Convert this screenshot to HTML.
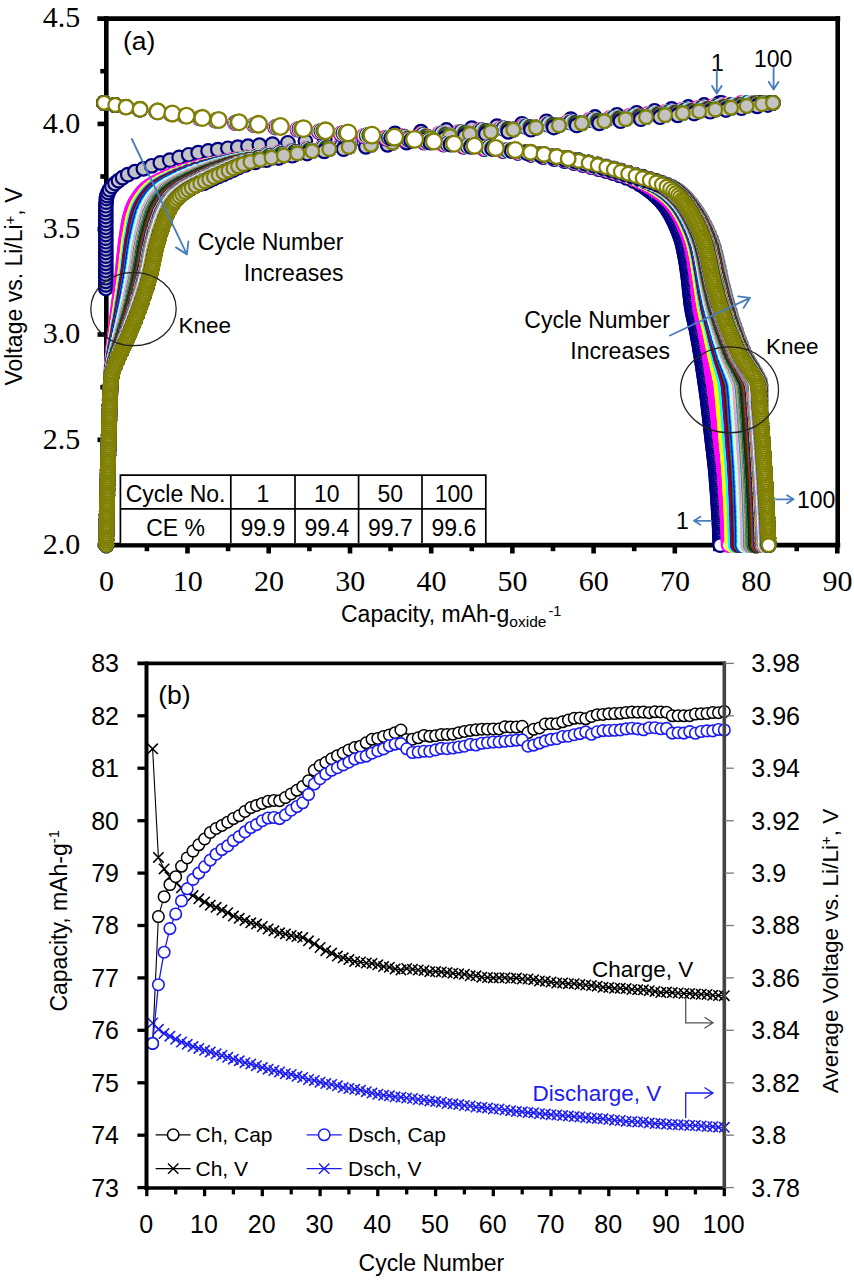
<!DOCTYPE html>
<html><head><meta charset="utf-8"><title>Cycling data</title>
<style>html,body{margin:0;padding:0;background:#fff}body{width:854px;height:1280px;overflow:hidden;font-family:"Liberation Sans",sans-serif}svg{display:block}</style></head>
<body>
<svg width="854" height="1280" viewBox="0 0 854 1280">
<defs>
<marker id="g0" markerUnits="userSpaceOnUse" markerWidth="20" markerHeight="20" viewBox="-10 -10 20 20" refX="0" refY="0"><circle r="6.8" fill="#c3c3c3" stroke="#000080" stroke-width="2.2"/></marker>
<marker id="w0" markerUnits="userSpaceOnUse" markerWidth="20" markerHeight="20" viewBox="-10 -10 20 20" refX="0" refY="0"><circle r="6.8" fill="#fff" stroke="#000080" stroke-width="2.2"/></marker>
<marker id="g1" markerUnits="userSpaceOnUse" markerWidth="20" markerHeight="20" viewBox="-10 -10 20 20" refX="0" refY="0"><circle r="6.8" fill="#c3c3c3" stroke="#ff00ff" stroke-width="2.2"/></marker>
<marker id="w1" markerUnits="userSpaceOnUse" markerWidth="20" markerHeight="20" viewBox="-10 -10 20 20" refX="0" refY="0"><circle r="6.8" fill="#fff" stroke="#ff00ff" stroke-width="2.2"/></marker>
<marker id="g2" markerUnits="userSpaceOnUse" markerWidth="20" markerHeight="20" viewBox="-10 -10 20 20" refX="0" refY="0"><circle r="6.8" fill="#c3c3c3" stroke="#ffff00" stroke-width="2.2"/></marker>
<marker id="w2" markerUnits="userSpaceOnUse" markerWidth="20" markerHeight="20" viewBox="-10 -10 20 20" refX="0" refY="0"><circle r="6.8" fill="#fff" stroke="#ffff00" stroke-width="2.2"/></marker>
<marker id="g3" markerUnits="userSpaceOnUse" markerWidth="20" markerHeight="20" viewBox="-10 -10 20 20" refX="0" refY="0"><circle r="6.8" fill="#c3c3c3" stroke="#00ffff" stroke-width="2.2"/></marker>
<marker id="w3" markerUnits="userSpaceOnUse" markerWidth="20" markerHeight="20" viewBox="-10 -10 20 20" refX="0" refY="0"><circle r="6.8" fill="#fff" stroke="#00ffff" stroke-width="2.2"/></marker>
<marker id="g4" markerUnits="userSpaceOnUse" markerWidth="20" markerHeight="20" viewBox="-10 -10 20 20" refX="0" refY="0"><circle r="6.8" fill="#c3c3c3" stroke="#800080" stroke-width="2.2"/></marker>
<marker id="w4" markerUnits="userSpaceOnUse" markerWidth="20" markerHeight="20" viewBox="-10 -10 20 20" refX="0" refY="0"><circle r="6.8" fill="#fff" stroke="#800080" stroke-width="2.2"/></marker>
<marker id="g5" markerUnits="userSpaceOnUse" markerWidth="20" markerHeight="20" viewBox="-10 -10 20 20" refX="0" refY="0"><circle r="6.8" fill="#c3c3c3" stroke="#800000" stroke-width="2.2"/></marker>
<marker id="w5" markerUnits="userSpaceOnUse" markerWidth="20" markerHeight="20" viewBox="-10 -10 20 20" refX="0" refY="0"><circle r="6.8" fill="#fff" stroke="#800000" stroke-width="2.2"/></marker>
<marker id="g6" markerUnits="userSpaceOnUse" markerWidth="20" markerHeight="20" viewBox="-10 -10 20 20" refX="0" refY="0"><circle r="6.8" fill="#c3c3c3" stroke="#008080" stroke-width="2.2"/></marker>
<marker id="w6" markerUnits="userSpaceOnUse" markerWidth="20" markerHeight="20" viewBox="-10 -10 20 20" refX="0" refY="0"><circle r="6.8" fill="#fff" stroke="#008080" stroke-width="2.2"/></marker>
<marker id="g7" markerUnits="userSpaceOnUse" markerWidth="20" markerHeight="20" viewBox="-10 -10 20 20" refX="0" refY="0"><circle r="6.8" fill="#c3c3c3" stroke="#0000ff" stroke-width="2.2"/></marker>
<marker id="w7" markerUnits="userSpaceOnUse" markerWidth="20" markerHeight="20" viewBox="-10 -10 20 20" refX="0" refY="0"><circle r="6.8" fill="#fff" stroke="#0000ff" stroke-width="2.2"/></marker>
<marker id="g8" markerUnits="userSpaceOnUse" markerWidth="20" markerHeight="20" viewBox="-10 -10 20 20" refX="0" refY="0"><circle r="6.8" fill="#c3c3c3" stroke="#00ccff" stroke-width="2.2"/></marker>
<marker id="w8" markerUnits="userSpaceOnUse" markerWidth="20" markerHeight="20" viewBox="-10 -10 20 20" refX="0" refY="0"><circle r="6.8" fill="#fff" stroke="#00ccff" stroke-width="2.2"/></marker>
<marker id="g9" markerUnits="userSpaceOnUse" markerWidth="20" markerHeight="20" viewBox="-10 -10 20 20" refX="0" refY="0"><circle r="6.8" fill="#c3c3c3" stroke="#ccffff" stroke-width="2.2"/></marker>
<marker id="w9" markerUnits="userSpaceOnUse" markerWidth="20" markerHeight="20" viewBox="-10 -10 20 20" refX="0" refY="0"><circle r="6.8" fill="#fff" stroke="#ccffff" stroke-width="2.2"/></marker>
<marker id="g10" markerUnits="userSpaceOnUse" markerWidth="20" markerHeight="20" viewBox="-10 -10 20 20" refX="0" refY="0"><circle r="6.8" fill="#c3c3c3" stroke="#ccffcc" stroke-width="2.2"/></marker>
<marker id="w10" markerUnits="userSpaceOnUse" markerWidth="20" markerHeight="20" viewBox="-10 -10 20 20" refX="0" refY="0"><circle r="6.8" fill="#fff" stroke="#ccffcc" stroke-width="2.2"/></marker>
<marker id="g11" markerUnits="userSpaceOnUse" markerWidth="20" markerHeight="20" viewBox="-10 -10 20 20" refX="0" refY="0"><circle r="6.8" fill="#c3c3c3" stroke="#ffff99" stroke-width="2.2"/></marker>
<marker id="w11" markerUnits="userSpaceOnUse" markerWidth="20" markerHeight="20" viewBox="-10 -10 20 20" refX="0" refY="0"><circle r="6.8" fill="#fff" stroke="#ffff99" stroke-width="2.2"/></marker>
<marker id="g12" markerUnits="userSpaceOnUse" markerWidth="20" markerHeight="20" viewBox="-10 -10 20 20" refX="0" refY="0"><circle r="6.8" fill="#c3c3c3" stroke="#99ccff" stroke-width="2.2"/></marker>
<marker id="w12" markerUnits="userSpaceOnUse" markerWidth="20" markerHeight="20" viewBox="-10 -10 20 20" refX="0" refY="0"><circle r="6.8" fill="#fff" stroke="#99ccff" stroke-width="2.2"/></marker>
<marker id="g13" markerUnits="userSpaceOnUse" markerWidth="20" markerHeight="20" viewBox="-10 -10 20 20" refX="0" refY="0"><circle r="6.8" fill="#c3c3c3" stroke="#ff99cc" stroke-width="2.2"/></marker>
<marker id="w13" markerUnits="userSpaceOnUse" markerWidth="20" markerHeight="20" viewBox="-10 -10 20 20" refX="0" refY="0"><circle r="6.8" fill="#fff" stroke="#ff99cc" stroke-width="2.2"/></marker>
<marker id="g14" markerUnits="userSpaceOnUse" markerWidth="20" markerHeight="20" viewBox="-10 -10 20 20" refX="0" refY="0"><circle r="6.8" fill="#c3c3c3" stroke="#cc99ff" stroke-width="2.2"/></marker>
<marker id="w14" markerUnits="userSpaceOnUse" markerWidth="20" markerHeight="20" viewBox="-10 -10 20 20" refX="0" refY="0"><circle r="6.8" fill="#fff" stroke="#cc99ff" stroke-width="2.2"/></marker>
<marker id="g15" markerUnits="userSpaceOnUse" markerWidth="20" markerHeight="20" viewBox="-10 -10 20 20" refX="0" refY="0"><circle r="6.8" fill="#c3c3c3" stroke="#ffcc99" stroke-width="2.2"/></marker>
<marker id="w15" markerUnits="userSpaceOnUse" markerWidth="20" markerHeight="20" viewBox="-10 -10 20 20" refX="0" refY="0"><circle r="6.8" fill="#fff" stroke="#ffcc99" stroke-width="2.2"/></marker>
<marker id="g16" markerUnits="userSpaceOnUse" markerWidth="20" markerHeight="20" viewBox="-10 -10 20 20" refX="0" refY="0"><circle r="6.8" fill="#c3c3c3" stroke="#3366ff" stroke-width="2.2"/></marker>
<marker id="w16" markerUnits="userSpaceOnUse" markerWidth="20" markerHeight="20" viewBox="-10 -10 20 20" refX="0" refY="0"><circle r="6.8" fill="#fff" stroke="#3366ff" stroke-width="2.2"/></marker>
<marker id="g17" markerUnits="userSpaceOnUse" markerWidth="20" markerHeight="20" viewBox="-10 -10 20 20" refX="0" refY="0"><circle r="6.8" fill="#c3c3c3" stroke="#33cccc" stroke-width="2.2"/></marker>
<marker id="w17" markerUnits="userSpaceOnUse" markerWidth="20" markerHeight="20" viewBox="-10 -10 20 20" refX="0" refY="0"><circle r="6.8" fill="#fff" stroke="#33cccc" stroke-width="2.2"/></marker>
<marker id="g18" markerUnits="userSpaceOnUse" markerWidth="20" markerHeight="20" viewBox="-10 -10 20 20" refX="0" refY="0"><circle r="6.8" fill="#c3c3c3" stroke="#99cc00" stroke-width="2.2"/></marker>
<marker id="w18" markerUnits="userSpaceOnUse" markerWidth="20" markerHeight="20" viewBox="-10 -10 20 20" refX="0" refY="0"><circle r="6.8" fill="#fff" stroke="#99cc00" stroke-width="2.2"/></marker>
<marker id="g19" markerUnits="userSpaceOnUse" markerWidth="20" markerHeight="20" viewBox="-10 -10 20 20" refX="0" refY="0"><circle r="6.8" fill="#c3c3c3" stroke="#ffcc00" stroke-width="2.2"/></marker>
<marker id="w19" markerUnits="userSpaceOnUse" markerWidth="20" markerHeight="20" viewBox="-10 -10 20 20" refX="0" refY="0"><circle r="6.8" fill="#fff" stroke="#ffcc00" stroke-width="2.2"/></marker>
<marker id="g20" markerUnits="userSpaceOnUse" markerWidth="20" markerHeight="20" viewBox="-10 -10 20 20" refX="0" refY="0"><circle r="6.8" fill="#c3c3c3" stroke="#ff9900" stroke-width="2.2"/></marker>
<marker id="w20" markerUnits="userSpaceOnUse" markerWidth="20" markerHeight="20" viewBox="-10 -10 20 20" refX="0" refY="0"><circle r="6.8" fill="#fff" stroke="#ff9900" stroke-width="2.2"/></marker>
<marker id="g21" markerUnits="userSpaceOnUse" markerWidth="20" markerHeight="20" viewBox="-10 -10 20 20" refX="0" refY="0"><circle r="6.8" fill="#c3c3c3" stroke="#ff6600" stroke-width="2.2"/></marker>
<marker id="w21" markerUnits="userSpaceOnUse" markerWidth="20" markerHeight="20" viewBox="-10 -10 20 20" refX="0" refY="0"><circle r="6.8" fill="#fff" stroke="#ff6600" stroke-width="2.2"/></marker>
<marker id="g22" markerUnits="userSpaceOnUse" markerWidth="20" markerHeight="20" viewBox="-10 -10 20 20" refX="0" refY="0"><circle r="6.8" fill="#c3c3c3" stroke="#666699" stroke-width="2.2"/></marker>
<marker id="w22" markerUnits="userSpaceOnUse" markerWidth="20" markerHeight="20" viewBox="-10 -10 20 20" refX="0" refY="0"><circle r="6.8" fill="#fff" stroke="#666699" stroke-width="2.2"/></marker>
<marker id="g23" markerUnits="userSpaceOnUse" markerWidth="20" markerHeight="20" viewBox="-10 -10 20 20" refX="0" refY="0"><circle r="6.8" fill="#c3c3c3" stroke="#969696" stroke-width="2.2"/></marker>
<marker id="w23" markerUnits="userSpaceOnUse" markerWidth="20" markerHeight="20" viewBox="-10 -10 20 20" refX="0" refY="0"><circle r="6.8" fill="#fff" stroke="#969696" stroke-width="2.2"/></marker>
<marker id="g24" markerUnits="userSpaceOnUse" markerWidth="20" markerHeight="20" viewBox="-10 -10 20 20" refX="0" refY="0"><circle r="6.8" fill="#c3c3c3" stroke="#003366" stroke-width="2.2"/></marker>
<marker id="w24" markerUnits="userSpaceOnUse" markerWidth="20" markerHeight="20" viewBox="-10 -10 20 20" refX="0" refY="0"><circle r="6.8" fill="#fff" stroke="#003366" stroke-width="2.2"/></marker>
<marker id="g25" markerUnits="userSpaceOnUse" markerWidth="20" markerHeight="20" viewBox="-10 -10 20 20" refX="0" refY="0"><circle r="6.8" fill="#c3c3c3" stroke="#339966" stroke-width="2.2"/></marker>
<marker id="w25" markerUnits="userSpaceOnUse" markerWidth="20" markerHeight="20" viewBox="-10 -10 20 20" refX="0" refY="0"><circle r="6.8" fill="#fff" stroke="#339966" stroke-width="2.2"/></marker>
<marker id="g26" markerUnits="userSpaceOnUse" markerWidth="20" markerHeight="20" viewBox="-10 -10 20 20" refX="0" refY="0"><circle r="6.8" fill="#c3c3c3" stroke="#003300" stroke-width="2.2"/></marker>
<marker id="w26" markerUnits="userSpaceOnUse" markerWidth="20" markerHeight="20" viewBox="-10 -10 20 20" refX="0" refY="0"><circle r="6.8" fill="#fff" stroke="#003300" stroke-width="2.2"/></marker>
<marker id="g27" markerUnits="userSpaceOnUse" markerWidth="20" markerHeight="20" viewBox="-10 -10 20 20" refX="0" refY="0"><circle r="6.8" fill="#c3c3c3" stroke="#333300" stroke-width="2.2"/></marker>
<marker id="w27" markerUnits="userSpaceOnUse" markerWidth="20" markerHeight="20" viewBox="-10 -10 20 20" refX="0" refY="0"><circle r="6.8" fill="#fff" stroke="#333300" stroke-width="2.2"/></marker>
<marker id="g28" markerUnits="userSpaceOnUse" markerWidth="20" markerHeight="20" viewBox="-10 -10 20 20" refX="0" refY="0"><circle r="6.8" fill="#c3c3c3" stroke="#993300" stroke-width="2.2"/></marker>
<marker id="w28" markerUnits="userSpaceOnUse" markerWidth="20" markerHeight="20" viewBox="-10 -10 20 20" refX="0" refY="0"><circle r="6.8" fill="#fff" stroke="#993300" stroke-width="2.2"/></marker>
<marker id="g29" markerUnits="userSpaceOnUse" markerWidth="20" markerHeight="20" viewBox="-10 -10 20 20" refX="0" refY="0"><circle r="6.8" fill="#c3c3c3" stroke="#993366" stroke-width="2.2"/></marker>
<marker id="w29" markerUnits="userSpaceOnUse" markerWidth="20" markerHeight="20" viewBox="-10 -10 20 20" refX="0" refY="0"><circle r="6.8" fill="#fff" stroke="#993366" stroke-width="2.2"/></marker>
<marker id="g30" markerUnits="userSpaceOnUse" markerWidth="20" markerHeight="20" viewBox="-10 -10 20 20" refX="0" refY="0"><circle r="6.8" fill="#c3c3c3" stroke="#333399" stroke-width="2.2"/></marker>
<marker id="w30" markerUnits="userSpaceOnUse" markerWidth="20" markerHeight="20" viewBox="-10 -10 20 20" refX="0" refY="0"><circle r="6.8" fill="#fff" stroke="#333399" stroke-width="2.2"/></marker>
<marker id="g31" markerUnits="userSpaceOnUse" markerWidth="20" markerHeight="20" viewBox="-10 -10 20 20" refX="0" refY="0"><circle r="6.8" fill="#c3c3c3" stroke="#333333" stroke-width="2.2"/></marker>
<marker id="w31" markerUnits="userSpaceOnUse" markerWidth="20" markerHeight="20" viewBox="-10 -10 20 20" refX="0" refY="0"><circle r="6.8" fill="#fff" stroke="#333333" stroke-width="2.2"/></marker>
<marker id="g32" markerUnits="userSpaceOnUse" markerWidth="20" markerHeight="20" viewBox="-10 -10 20 20" refX="0" refY="0"><circle r="6.8" fill="#c3c3c3" stroke="#000000" stroke-width="2.2"/></marker>
<marker id="w32" markerUnits="userSpaceOnUse" markerWidth="20" markerHeight="20" viewBox="-10 -10 20 20" refX="0" refY="0"><circle r="6.8" fill="#fff" stroke="#000000" stroke-width="2.2"/></marker>
<marker id="g33" markerUnits="userSpaceOnUse" markerWidth="20" markerHeight="20" viewBox="-10 -10 20 20" refX="0" refY="0"><circle r="6.8" fill="#c3c3c3" stroke="#ffffff" stroke-width="2.2"/></marker>
<marker id="w33" markerUnits="userSpaceOnUse" markerWidth="20" markerHeight="20" viewBox="-10 -10 20 20" refX="0" refY="0"><circle r="6.8" fill="#fff" stroke="#ffffff" stroke-width="2.2"/></marker>
<marker id="g34" markerUnits="userSpaceOnUse" markerWidth="20" markerHeight="20" viewBox="-10 -10 20 20" refX="0" refY="0"><circle r="6.8" fill="#c3c3c3" stroke="#ff0000" stroke-width="2.2"/></marker>
<marker id="w34" markerUnits="userSpaceOnUse" markerWidth="20" markerHeight="20" viewBox="-10 -10 20 20" refX="0" refY="0"><circle r="6.8" fill="#fff" stroke="#ff0000" stroke-width="2.2"/></marker>
<marker id="g35" markerUnits="userSpaceOnUse" markerWidth="20" markerHeight="20" viewBox="-10 -10 20 20" refX="0" refY="0"><circle r="6.8" fill="#c3c3c3" stroke="#00ff00" stroke-width="2.2"/></marker>
<marker id="w35" markerUnits="userSpaceOnUse" markerWidth="20" markerHeight="20" viewBox="-10 -10 20 20" refX="0" refY="0"><circle r="6.8" fill="#fff" stroke="#00ff00" stroke-width="2.2"/></marker>
<marker id="g36" markerUnits="userSpaceOnUse" markerWidth="20" markerHeight="20" viewBox="-10 -10 20 20" refX="0" refY="0"><circle r="6.8" fill="#c3c3c3" stroke="#0000ff" stroke-width="2.2"/></marker>
<marker id="w36" markerUnits="userSpaceOnUse" markerWidth="20" markerHeight="20" viewBox="-10 -10 20 20" refX="0" refY="0"><circle r="6.8" fill="#fff" stroke="#0000ff" stroke-width="2.2"/></marker>
<marker id="g37" markerUnits="userSpaceOnUse" markerWidth="20" markerHeight="20" viewBox="-10 -10 20 20" refX="0" refY="0"><circle r="6.8" fill="#c3c3c3" stroke="#ffff00" stroke-width="2.2"/></marker>
<marker id="w37" markerUnits="userSpaceOnUse" markerWidth="20" markerHeight="20" viewBox="-10 -10 20 20" refX="0" refY="0"><circle r="6.8" fill="#fff" stroke="#ffff00" stroke-width="2.2"/></marker>
<marker id="g38" markerUnits="userSpaceOnUse" markerWidth="20" markerHeight="20" viewBox="-10 -10 20 20" refX="0" refY="0"><circle r="6.8" fill="#c3c3c3" stroke="#ff00ff" stroke-width="2.2"/></marker>
<marker id="w38" markerUnits="userSpaceOnUse" markerWidth="20" markerHeight="20" viewBox="-10 -10 20 20" refX="0" refY="0"><circle r="6.8" fill="#fff" stroke="#ff00ff" stroke-width="2.2"/></marker>
<marker id="g39" markerUnits="userSpaceOnUse" markerWidth="20" markerHeight="20" viewBox="-10 -10 20 20" refX="0" refY="0"><circle r="6.8" fill="#c3c3c3" stroke="#00ffff" stroke-width="2.2"/></marker>
<marker id="w39" markerUnits="userSpaceOnUse" markerWidth="20" markerHeight="20" viewBox="-10 -10 20 20" refX="0" refY="0"><circle r="6.8" fill="#fff" stroke="#00ffff" stroke-width="2.2"/></marker>
<marker id="g40" markerUnits="userSpaceOnUse" markerWidth="20" markerHeight="20" viewBox="-10 -10 20 20" refX="0" refY="0"><circle r="6.8" fill="#c3c3c3" stroke="#800000" stroke-width="2.2"/></marker>
<marker id="w40" markerUnits="userSpaceOnUse" markerWidth="20" markerHeight="20" viewBox="-10 -10 20 20" refX="0" refY="0"><circle r="6.8" fill="#fff" stroke="#800000" stroke-width="2.2"/></marker>
<marker id="g41" markerUnits="userSpaceOnUse" markerWidth="20" markerHeight="20" viewBox="-10 -10 20 20" refX="0" refY="0"><circle r="6.8" fill="#c3c3c3" stroke="#008000" stroke-width="2.2"/></marker>
<marker id="w41" markerUnits="userSpaceOnUse" markerWidth="20" markerHeight="20" viewBox="-10 -10 20 20" refX="0" refY="0"><circle r="6.8" fill="#fff" stroke="#008000" stroke-width="2.2"/></marker>
<marker id="g42" markerUnits="userSpaceOnUse" markerWidth="20" markerHeight="20" viewBox="-10 -10 20 20" refX="0" refY="0"><circle r="6.8" fill="#c3c3c3" stroke="#000080" stroke-width="2.2"/></marker>
<marker id="w42" markerUnits="userSpaceOnUse" markerWidth="20" markerHeight="20" viewBox="-10 -10 20 20" refX="0" refY="0"><circle r="6.8" fill="#fff" stroke="#000080" stroke-width="2.2"/></marker>
<marker id="g43" markerUnits="userSpaceOnUse" markerWidth="20" markerHeight="20" viewBox="-10 -10 20 20" refX="0" refY="0"><circle r="6.8" fill="#c3c3c3" stroke="#808000" stroke-width="2.2"/></marker>
<marker id="w43" markerUnits="userSpaceOnUse" markerWidth="20" markerHeight="20" viewBox="-10 -10 20 20" refX="0" refY="0"><circle r="6.8" fill="#fff" stroke="#808000" stroke-width="2.2"/></marker>
<marker id="g44" markerUnits="userSpaceOnUse" markerWidth="20" markerHeight="20" viewBox="-10 -10 20 20" refX="0" refY="0"><circle r="6.8" fill="#c3c3c3" stroke="#800080" stroke-width="2.2"/></marker>
<marker id="w44" markerUnits="userSpaceOnUse" markerWidth="20" markerHeight="20" viewBox="-10 -10 20 20" refX="0" refY="0"><circle r="6.8" fill="#fff" stroke="#800080" stroke-width="2.2"/></marker>
<marker id="g45" markerUnits="userSpaceOnUse" markerWidth="20" markerHeight="20" viewBox="-10 -10 20 20" refX="0" refY="0"><circle r="6.8" fill="#c3c3c3" stroke="#008080" stroke-width="2.2"/></marker>
<marker id="w45" markerUnits="userSpaceOnUse" markerWidth="20" markerHeight="20" viewBox="-10 -10 20 20" refX="0" refY="0"><circle r="6.8" fill="#fff" stroke="#008080" stroke-width="2.2"/></marker>
<marker id="g46" markerUnits="userSpaceOnUse" markerWidth="20" markerHeight="20" viewBox="-10 -10 20 20" refX="0" refY="0"><circle r="6.8" fill="#c3c3c3" stroke="#c0c0c0" stroke-width="2.2"/></marker>
<marker id="w46" markerUnits="userSpaceOnUse" markerWidth="20" markerHeight="20" viewBox="-10 -10 20 20" refX="0" refY="0"><circle r="6.8" fill="#fff" stroke="#c0c0c0" stroke-width="2.2"/></marker>
<marker id="g47" markerUnits="userSpaceOnUse" markerWidth="20" markerHeight="20" viewBox="-10 -10 20 20" refX="0" refY="0"><circle r="6.8" fill="#c3c3c3" stroke="#808080" stroke-width="2.2"/></marker>
<marker id="w47" markerUnits="userSpaceOnUse" markerWidth="20" markerHeight="20" viewBox="-10 -10 20 20" refX="0" refY="0"><circle r="6.8" fill="#fff" stroke="#808080" stroke-width="2.2"/></marker>
<marker id="g48" markerUnits="userSpaceOnUse" markerWidth="20" markerHeight="20" viewBox="-10 -10 20 20" refX="0" refY="0"><circle r="6.8" fill="#c3c3c3" stroke="#9999ff" stroke-width="2.2"/></marker>
<marker id="w48" markerUnits="userSpaceOnUse" markerWidth="20" markerHeight="20" viewBox="-10 -10 20 20" refX="0" refY="0"><circle r="6.8" fill="#fff" stroke="#9999ff" stroke-width="2.2"/></marker>
<marker id="g49" markerUnits="userSpaceOnUse" markerWidth="20" markerHeight="20" viewBox="-10 -10 20 20" refX="0" refY="0"><circle r="6.8" fill="#c3c3c3" stroke="#993366" stroke-width="2.2"/></marker>
<marker id="w49" markerUnits="userSpaceOnUse" markerWidth="20" markerHeight="20" viewBox="-10 -10 20 20" refX="0" refY="0"><circle r="6.8" fill="#fff" stroke="#993366" stroke-width="2.2"/></marker>
<marker id="g50" markerUnits="userSpaceOnUse" markerWidth="20" markerHeight="20" viewBox="-10 -10 20 20" refX="0" refY="0"><circle r="6.8" fill="#c3c3c3" stroke="#ffffcc" stroke-width="2.2"/></marker>
<marker id="w50" markerUnits="userSpaceOnUse" markerWidth="20" markerHeight="20" viewBox="-10 -10 20 20" refX="0" refY="0"><circle r="6.8" fill="#fff" stroke="#ffffcc" stroke-width="2.2"/></marker>
<marker id="g51" markerUnits="userSpaceOnUse" markerWidth="20" markerHeight="20" viewBox="-10 -10 20 20" refX="0" refY="0"><circle r="6.8" fill="#c3c3c3" stroke="#ccffff" stroke-width="2.2"/></marker>
<marker id="w51" markerUnits="userSpaceOnUse" markerWidth="20" markerHeight="20" viewBox="-10 -10 20 20" refX="0" refY="0"><circle r="6.8" fill="#fff" stroke="#ccffff" stroke-width="2.2"/></marker>
<marker id="g52" markerUnits="userSpaceOnUse" markerWidth="20" markerHeight="20" viewBox="-10 -10 20 20" refX="0" refY="0"><circle r="6.8" fill="#c3c3c3" stroke="#660066" stroke-width="2.2"/></marker>
<marker id="w52" markerUnits="userSpaceOnUse" markerWidth="20" markerHeight="20" viewBox="-10 -10 20 20" refX="0" refY="0"><circle r="6.8" fill="#fff" stroke="#660066" stroke-width="2.2"/></marker>
<marker id="g53" markerUnits="userSpaceOnUse" markerWidth="20" markerHeight="20" viewBox="-10 -10 20 20" refX="0" refY="0"><circle r="6.8" fill="#c3c3c3" stroke="#ff8080" stroke-width="2.2"/></marker>
<marker id="w53" markerUnits="userSpaceOnUse" markerWidth="20" markerHeight="20" viewBox="-10 -10 20 20" refX="0" refY="0"><circle r="6.8" fill="#fff" stroke="#ff8080" stroke-width="2.2"/></marker>
<marker id="g54" markerUnits="userSpaceOnUse" markerWidth="20" markerHeight="20" viewBox="-10 -10 20 20" refX="0" refY="0"><circle r="6.8" fill="#c3c3c3" stroke="#0066cc" stroke-width="2.2"/></marker>
<marker id="w54" markerUnits="userSpaceOnUse" markerWidth="20" markerHeight="20" viewBox="-10 -10 20 20" refX="0" refY="0"><circle r="6.8" fill="#fff" stroke="#0066cc" stroke-width="2.2"/></marker>
<marker id="g55" markerUnits="userSpaceOnUse" markerWidth="20" markerHeight="20" viewBox="-10 -10 20 20" refX="0" refY="0"><circle r="6.8" fill="#c3c3c3" stroke="#ccccff" stroke-width="2.2"/></marker>
<marker id="w55" markerUnits="userSpaceOnUse" markerWidth="20" markerHeight="20" viewBox="-10 -10 20 20" refX="0" refY="0"><circle r="6.8" fill="#fff" stroke="#ccccff" stroke-width="2.2"/></marker>
</defs>
<rect width="854" height="1280" fill="#fff"/>
<g stroke="#000" stroke-width="4.6" fill="none" stroke-linecap="butt">
<path d="M97.3 18.6H840.2"/>
<path d="M106.3 16.3V547.4"/>
<path d="M837.7 16.3V547.4"/>
<path d="M104 545.1H840.2"/>
<path d="M100.3 71.2H106"/>
<path d="M97.5 123.9H106"/>
<path d="M100.3 176.5H106"/>
<path d="M97.5 229.2H106"/>
<path d="M100.3 281.9H106"/>
<path d="M97.5 334.5H106"/>
<path d="M100.3 387.2H106"/>
<path d="M97.5 439.8H106"/>
<path d="M100.3 492.4H106"/>
<path d="M97.5 545.1H106"/>
<path d="M106.3 545.5V553.5"/>
<path d="M146.9 545.5V551.2"/>
<path d="M187.5 545.5V553.5"/>
<path d="M228.1 545.5V551.2"/>
<path d="M268.7 545.5V553.5"/>
<path d="M309.4 545.5V551.2"/>
<path d="M350.0 545.5V553.5"/>
<path d="M390.6 545.5V551.2"/>
<path d="M431.2 545.5V553.5"/>
<path d="M471.8 545.5V551.2"/>
<path d="M512.4 545.5V553.5"/>
<path d="M553.0 545.5V551.2"/>
<path d="M593.6 545.5V553.5"/>
<path d="M634.2 545.5V551.2"/>
<path d="M674.8 545.5V553.5"/>
<path d="M715.4 545.5V551.2"/>
<path d="M756.1 545.5V553.5"/>
<path d="M796.7 545.5V551.2"/>
<path d="M837.3 545.5V553.5"/>
</g>
<g fill="none" stroke="none">
<path d="M105.8 288.5l0-3.6l0-3.6l0-3.6l0-3.6l0-3.6l0-3.6l0-3.6l0-3.6l0-3.6l0-3.6l0-3.6l0-3.6l0-3.6l0-3.6l0-3.6l0-3.6l0-3.6l0-3.6l0-3.6l0-3.6l0-3.6l0-3.6l.1-3.6l.2-3.6l.3-3.6l.6-3l1.1-3l1.5-2.9l2.4-3.1l3-3l3.5-2.9l4.1-3l5.2-3l7.2-2.9l8.4-2.9l8.3-3l8.7-2.9l9.4-2.8l9.4-2.7l9.5-2.6l9.5-2.1l9.9-1.7l9.8-1.4l10-1.3l9.9-1.1l10.2-1l11.4-1l13.1-1.1l15.4-1.3l17.5-1.5l19.3-1.8l21.3-1.9l23.3-2.1l25.7-2.1l26-1.7l25.5-1.7l25.4-1.9l25.1-2l24.9-2.3l24.6-2.5l24.3-2.1l24.2-2.2l22-2.2l19.7-2l17.9-2l17.1-1.9l16.5-1.9l15.9-2l15.1-1.9l2.3-.3" marker-start="url(#g0)" marker-mid="url(#g0)" marker-end="url(#g0)"/>
<path d="M106.2 545.1l0-2.1l.1-2.1l0-2.1l0-2.1l.1-2.1l0-2.1l0-2.1l.1-2.1l0-2.1l.1-2.1l0-2.1l0-2.1l.1-2.1l0-2.1l.1-2.1l0-2.1l.1-2.1l0-2.1l.1-2.1l0-2.1l.1-2.1l0-2.1l.1-2.1l0-2.1l.1-2.1l0-2.1l.1-2.1l0-2.1l.1-2.1l0-2.1l.1-2.1l0-2.1l.1-2.1l0-2.1l.1-2.1l.1-2.1l0-2.1l.1-2.1l0-2.1l.1-2.1l0-2.1l.1-2.1l.1-2.1l0-2.1l.1-2.1l0-2.1l.1-2.1l.1-2.1l0-2.1l.1-2.1l0-2.1l.1-2.1l.1-2.1l0-2.1l.1-2.1l.1-2.1l0-2.1l.1-2.1l.1-2.1l.1-2.1l0-2.1l.1-2.1l.1-2.1l.1-2.1l0-2.1l.1-2.1l.1-2.1l.1-2.1l.1-2.1l0-2.1l.1-2.1l.1-2.1l.1-2.1l.1-2.1l.1-2.1l.1-2.1l.1-2.1l.1-2.1l.1-2.1l.1-2.1l.1-2.1l.1-2.1l.1-2.1l.2-2.1l.1-2.1l.1-2.1l.2-2.1l.1-2.1l.2-2.1l.2-2.1l.2-2.1l.2-2.1l.2-2.1l.2-2.1l.2-2.1l.2-2.1l.3-2.1l.2-2.1l.3-2.1l.2-2.1l.3-2.1l.3-2.1l.2-2.1l.3-2.1l.3-2.1l.3-2.1l.2-2.1l.3-2.1l.3-2.1l.3-2.1l.2-2.1l.3-2.1l.3-2.1l.2-2.1l.3-2.1l.3-2.1l.2-2.1l.3-2.1l.2-2.1l.3-2.1l.2-2.1l.3-2.1l.2-2.1l.3-2.1l.3-2.1l.2-2.1l.3-2.1l.2-2.1l.3-2.1l.2-2.1l.2-2.1l.3-2.1l.2-2.1l.2-2.1l.2-2.1l.2-2.1l.2-2.1l.2-2.1l.2-2.1l.2-2.1l.2-2.1l.3-2.1l.2-2.1l.3-2.1l.3-2.1l.3-2.1l.3-2.1l.3-2.1l.3-2.1l.3-2.1l.4-2.1l.3-2.1l.4-2.1l.4-2.1l.5-2.1l.4-2.1l.5-2.1l.6-2l.6-2.1l.6-2l.8-2l.9-1.9l1-1.9l1-1.9l1.3-2.1l1.4-2.2l1.5-2.1l1.6-2.2l1.9-2.1l2.3-2.2l2.7-2.1l3.3-2.2l3.7-2.1l4.1-2.2l4.5-2.1l5.1-2.2l5.7-2.1l6.5-2.2l7.5-2.1l8.5-2.2l4.2-1l4.4-.9l4.5-1l4.7-1l4.7-1l4.8-.9l4.8-.9l4.5-.8l5-.9l7-1.3l9.5-1.6l10.9-1.8l11.9-1.6l13.2-1.6l14.4-1.9l16.5-2.4l18.9-2.7l21.6-3l21-2.7l18.5-2l18.1-1.5l18.9-1.4l19.4-1.5l20.5-1.7l21.7-1.8l22-2l22.2-2l22.2-2.2l21.8-2.2l20.7-2.1l19.8-2.1l18.5-2l17.2-1.9l15.9-1.8l15.6-1.8l15.4-1.8l15-1.8l13.8-1.8" marker-start="url(#g1)" marker-mid="url(#g1)" marker-end="url(#g1)"/>
<path d="M106.2 545.1l0-2.1l.1-2.1l0-2.1l0-2.1l.1-2.1l0-2.1l0-2.1l.1-2.1l0-2.1l.1-2.1l0-2.1l0-2.1l.1-2.1l0-2.1l.1-2.1l0-2.1l.1-2.1l0-2.1l.1-2.1l0-2.1l.1-2.1l0-2.1l.1-2.1l0-2.1l.1-2.1l0-2.1l.1-2.1l0-2.1l.1-2.1l0-2.1l.1-2.1l0-2.1l.1-2.1l0-2.1l.1-2.1l.1-2.1l0-2.1l.1-2.1l0-2.1l.1-2.1l0-2.1l.1-2.1l.1-2.1l0-2.1l.1-2.1l0-2.1l.1-2.1l.1-2.1l0-2.1l.1-2.1l0-2.1l.1-2.1l.1-2.1l0-2.1l.1-2.1l.1-2.1l0-2.1l.1-2.1l.1-2.1l0-2.1l.1-2.1l.1-2.1l.1-2.1l0-2.1l.1-2.1l.1-2.1l.1-2.1l.1-2.1l0-2.1l.1-2.1l.1-2.1l.1-2.1l.1-2.1l.1-2.1l.1-2.1l.1-2.1l.1-2.1l.1-2.1l.1-2.1l.1-2.1l.2-2.1l.1-2.1l.2-2.1l.2-2.1l.2-2.1l.2-2.1l.2-2.1l.2-2.1l.3-2.1l.2-2.1l.3-2.1l.3-2.1l.2-2.1l.3-2.1l.4-2.1l.3-2.1l.3-2.1l.3-2.1l.3-2.1l.3-2.1l.3-2.1l.4-2.1l.3-2.1l.3-2.1l.4-2.1l.3-2.1l.3-2.1l.4-2.1l.3-2.1l.3-2.1l.3-2.1l.4-2.1l.3-2.1l.3-2.1l.3-2.1l.3-2.1l.3-2.1l.3-2.1l.3-2.1l.3-2.1l.3-2.1l.3-2.1l.3-2.1l.3-2.1l.3-2.1l.3-2.1l.2-2.1l.3-2.1l.3-2.1l.3-2.1l.2-2.1l.3-2.1l.2-2.1l.2-2.1l.3-2.1l.2-2.1l.2-2.1l.2-2.1l.3-2.1l.2-2.1l.3-2.1l.2-2.1l.3-2.1l.3-2.1l.3-2.1l.3-2.1l.4-2.1l.3-2.1l.4-2.1l.3-2.1l.4-2.1l.4-2.1l.4-2.1l.5-2.1l.4-2.1l.5-2.1l.5-2l.6-2.1l.7-2l.7-2l.8-2l.9-1.9l.9-1.9l1.1-1.8l1.3-2.2l1.5-2.1l1.5-2.2l1.8-2.1l1.9-2.2l2.4-2.1l2.8-2.2l3.3-2.1l3.8-2.2l4.1-2.1l4.5-2.2l5-2.1l5.6-2.2l6.3-2.1l7.1-2.2l8.1-2.1l5.8-1.4l4.5-1.1l4.7-1l4.8-1.1l4.8-.9l4.7-1l4.6-.8l5-.9l7-1.3l9.5-1.7l11-1.8l12-1.7l13.2-1.6l14.4-1.9l16.6-2.3l18.9-2.6l21.7-2.9l21.1-2.8l18.5-2.1l18.2-1.5l18.9-1.5l19.5-1.5l20.5-1.7l21.8-1.9l22.1-1.9l22.2-2.1l22.3-2.2l21.9-2.1l20.7-2.1l19.9-2.1l18.6-2l17.1-1.9l16-1.9l15.7-1.8l15.4-1.8l15-1.8l15.1-1.9" marker-start="url(#g2)" marker-mid="url(#g2)" marker-end="url(#g2)"/>
<path d="M106.2 545.1l0-2.1l.1-2.1l0-2.1l0-2.1l.1-2.1l0-2.1l0-2.1l.1-2.1l0-2.1l.1-2.1l0-2.1l0-2.1l.1-2.1l0-2.1l.1-2.1l0-2.1l.1-2.1l0-2.1l.1-2.1l0-2.1l.1-2.1l0-2.1l.1-2.1l0-2.1l.1-2.1l0-2.1l.1-2.1l0-2.1l.1-2.1l0-2.1l.1-2.1l0-2.1l.1-2.1l0-2.1l.1-2.1l.1-2.1l0-2.1l.1-2.1l0-2.1l.1-2.1l0-2.1l.1-2.1l.1-2.1l0-2.1l.1-2.1l0-2.1l.1-2.1l.1-2.1l0-2.1l.1-2.1l0-2.1l.1-2.1l.1-2.1l0-2.1l.1-2.1l.1-2.1l0-2.1l.1-2.1l.1-2.1l0-2.1l.1-2.1l.1-2.1l.1-2.1l0-2.1l.1-2.1l.1-2.1l.1-2.1l0-2.1l.1-2.1l.1-2.1l.1-2.1l.1-2.1l.1-2.1l.1-2.1l.1-2.1l.1-2.1l.1-2.1l.1-2.1l.1-2.1l.2-2.1l.1-2.1l.2-2.1l.2-2.1l.2-2.1l.2-2.1l.3-2.1l.3-2.1l.2-2.1l.3-2.1l.3-2.1l.3-2.1l.3-2.1l.4-2.1l.3-2.1l.4-2.1l.3-2.1l.4-2.1l.3-2.1l.4-2.1l.4-2.1l.3-2.1l.4-2.1l.3-2.1l.4-2.1l.4-2.1l.3-2.1l.4-2.1l.4-2.1l.3-2.1l.4-2.1l.3-2.1l.4-2.1l.3-2.1l.4-2.1l.3-2.1l.3-2.1l.4-2.1l.3-2.1l.3-2.1l.3-2.1l.4-2.1l.3-2.1l.3-2.1l.3-2.1l.3-2.1l.4-2.1l.3-2.1l.3-2.1l.3-2.1l.2-2.1l.3-2.1l.3-2.1l.2-2.1l.3-2.1l.2-2.1l.2-2.1l.3-2.1l.2-2.1l.3-2.1l.2-2.1l.3-2.1l.3-2.1l.3-2.1l.3-2.1l.3-2.1l.3-2.1l.4-2.1l.4-2.1l.3-2.1l.4-2.1l.4-2.1l.5-2.1l.4-2.1l.5-2.1l.4-2.1l.5-2l.6-2.1l.6-2l.6-2l.7-2l.8-2l.9-1.9l1.1-1.9l1-1.8l1.1-1.8l1.5-2.2l1.6-2.1l1.7-2.2l2-2.1l2.3-2.2l2.8-2.1l3.3-2.2l3.7-2.1l4.1-2.2l4.4-2.1l4.9-2.2l5.4-2.1l6-2.2l6.9-2.1l7.7-2.2l5.4-1.3l4.5-1.2l4.7-1.1l4.8-1l4.8-1l4.8-1l4.5-.9l5-.9l7.1-1.3l9.5-1.7l11-1.8l12-1.7l13.2-1.7l14.4-1.8l16.6-2.3l19-2.6l21.7-2.8l21.2-2.8l18.6-2.1l18.2-1.7l19-1.4l19.4-1.6l20.6-1.7l21.8-1.9l22.1-2l22.3-2.1l22.3-2.1l22-2.2l20.7-2.1l19.9-2.1l18.6-2l17.2-1.9l16.1-1.8l15.7-1.8l15.4-1.8l15.1-1.8l15.7-2" marker-start="url(#g3)" marker-mid="url(#g3)" marker-end="url(#g3)"/>
<path d="M106.2 545.1l0-2.1l.1-2.1l0-2.1l0-2.1l.1-2.1l0-2.1l0-2.1l.1-2.1l0-2.1l.1-2.1l0-2.1l0-2.1l.1-2.1l0-2.1l.1-2.1l0-2.1l.1-2.1l0-2.1l.1-2.1l0-2.1l.1-2.1l0-2.1l.1-2.1l0-2.1l.1-2.1l0-2.1l.1-2.1l0-2.1l.1-2.1l0-2.1l.1-2.1l0-2.1l.1-2.1l0-2.1l.1-2.1l.1-2.1l0-2.1l.1-2.1l0-2.1l.1-2.1l0-2.1l.1-2.1l.1-2.1l0-2.1l.1-2.1l0-2.1l.1-2.1l.1-2.1l0-2.1l.1-2.1l0-2.1l.1-2.1l.1-2.1l0-2.1l.1-2.1l.1-2.1l0-2.1l.1-2.1l.1-2.1l0-2.1l.1-2.1l.1-2.1l0-2.1l.1-2.1l.1-2.1l.1-2.1l.1-2.1l0-2.1l.1-2.1l.1-2.1l.1-2.1l.1-2.1l.1-2.1l.1-2.1l.1-2.1l.1-2.1l.1-2.1l.1-2.1l.1-2.1l.2-2.1l.2-2.1l.1-2.1l.3-2.1l.2-2.1l.2-2.1l.3-2.1l.3-2.1l.3-2.1l.3-2.1l.4-2.1l.3-2.1l.4-2.1l.3-2.1l.4-2.1l.4-2.1l.4-2.1l.4-2.1l.3-2.1l.4-2.1l.4-2.1l.4-2.1l.4-2.1l.4-2.1l.3-2.1l.4-2.1l.4-2.1l.4-2.1l.4-2.1l.4-2.1l.3-2.1l.4-2.1l.4-2.1l.4-2.1l.3-2.1l.4-2.1l.3-2.1l.4-2.1l.3-2.1l.3-2.1l.4-2.1l.3-2.1l.4-2.1l.3-2.1l.3-2.1l.4-2.1l.3-2.1l.3-2.1l.3-2.1l.3-2.1l.3-2.1l.3-2.1l.3-2.1l.3-2.1l.2-2.1l.3-2.1l.2-2.1l.2-2.1l.3-2.1l.2-2.1l.3-2.1l.3-2.1l.3-2.1l.3-2.1l.3-2.1l.3-2.1l.4-2.1l.4-2.1l.3-2.1l.4-2.1l.4-2.1l.4-2.1l.5-2.1l.4-2.1l.5-2.1l.5-2l.5-2.1l.5-2l.7-2.1l.6-2l.7-2l.9-1.9l.9-1.9l1-1.9l1.1-1.9l1.1-1.8l1.5-2.1l1.6-2.2l1.8-2.1l2-2.2l2.3-2.1l2.9-2.2l3.3-2.1l3.7-2.2l4.1-2.1l4.5-2.2l4.8-2.1l5.4-2.2l5.9-2.1l6.8-2.2l7.3-2l4.4-1.2l4.6-1.2l4.6-1.1l4.8-1.1l4.8-1l4.8-1l4.6-.9l5-.9l7-1.3l9.6-1.7l11-1.8l12-1.8l13.2-1.7l14.5-1.8l16.6-2.3l19-2.5l21.7-2.8l21.2-2.8l18.6-2.2l18.2-1.7l19-1.4l19.5-1.7l20.6-1.7l21.9-1.9l22.1-1.9l22.3-2.1l22.4-2.2l21.9-2.1l20.8-2.1l20-2.1l18.6-2l17.2-1.9l16-1.8l15.8-1.8l15.4-1.8l15.1-1.9l16.3-2" marker-start="url(#g4)" marker-mid="url(#g4)" marker-end="url(#g4)"/>
<path d="M106.2 545.1l0-2.1l.1-2.1l0-2.1l0-2.1l.1-2.1l0-2.1l0-2.1l.1-2.1l0-2.1l.1-2.1l0-2.1l0-2.1l.1-2.1l0-2.1l.1-2.1l0-2.1l.1-2.1l0-2.1l.1-2.1l0-2.1l.1-2.1l0-2.1l.1-2.1l0-2.1l.1-2.1l0-2.1l.1-2.1l0-2.1l.1-2.1l0-2.1l.1-2.1l0-2.1l.1-2.1l0-2.1l.1-2.1l.1-2.1l0-2.1l.1-2.1l0-2.1l.1-2.1l0-2.1l.1-2.1l.1-2.1l0-2.1l.1-2.1l0-2.1l.1-2.1l.1-2.1l0-2.1l.1-2.1l0-2.1l.1-2.1l.1-2.1l0-2.1l.1-2.1l.1-2.1l0-2.1l.1-2.1l.1-2.1l0-2.1l.1-2.1l.1-2.1l0-2.1l.1-2.1l.1-2.1l.1-2.1l0-2.1l.1-2.1l.1-2.1l.1-2.1l.1-2.1l.1-2.1l.1-2.1l.1-2.1l.1-2.1l.1-2.1l.1-2.1l.1-2.1l.1-2.1l.2-2.1l.2-2.1l.2-2.1l.2-2.1l.3-2.1l.3-2.1l.3-2.1l.3-2.1l.4-2.1l.3-2.1l.4-2.1l.4-2.1l.4-2.1l.4-2.1l.4-2.1l.4-2.1l.5-2.1l.4-2.1l.4-2.1l.4-2.1l.4-2.1l.4-2.1l.5-2.1l.4-2.1l.4-2.1l.4-2.1l.4-2.1l.4-2.1l.5-2.1l.4-2.1l.4-2.1l.4-2.1l.4-2.1l.4-2.1l.3-2.1l.4-2.1l.4-2.1l.4-2.1l.3-2.1l.4-2.1l.4-2.1l.3-2.1l.4-2.1l.3-2.1l.4-2.1l.3-2.1l.4-2.1l.3-2.1l.3-2.1l.4-2.1l.3-2.1l.3-2.1l.3-2.1l.3-2.1l.2-2.1l.3-2.1l.2-2.1l.3-2.1l.2-2.1l.3-2.1l.3-2.1l.3-2.1l.3-2.1l.3-2.1l.3-2.1l.4-2.1l.4-2.1l.3-2.1l.4-2.1l.4-2.1l.5-2.1l.4-2.1l.5-2.1l.4-2.1l.5-2l.5-2.1l.5-2l.6-2.1l.6-2l.7-2l.7-2l.9-2l.9-1.9l1-1.8l1.1-1.9l1.1-1.8l1.5-2.1l1.7-2.2l1.8-2.1l2.1-2.2l2.4-2.1l2.8-2.2l3.4-2.1l3.7-2.2l4.2-2.1l4.4-2.2l4.8-2.1l5.3-2.2l5.9-2.1l6.6-2.2l5.6-1.6l4.4-1.2l4.5-1.3l4.7-1.1l4.8-1.2l4.8-1.1l4.8-1l4.6-.9l5-.9l7.1-1.3l9.5-1.7l11-1.9l12.1-1.8l13.2-1.7l14.5-1.8l16.6-2.2l19.1-2.5l21.8-2.8l21.2-2.7l18.6-2.3l18.2-1.7l19.1-1.5l19.5-1.7l20.6-1.7l21.9-1.9l22.2-2l22.3-2l22.4-2.2l22-2.1l20.8-2.1l20-2.1l18.6-2l17.3-1.9l16.1-1.8l15.7-1.9l15.5-1.8l15.1-1.8l16.9-2.1" marker-start="url(#g5)" marker-mid="url(#g5)" marker-end="url(#g5)"/>
<path d="M106.2 545.1l0-2.1l.1-2.1l0-2.1l0-2.1l.1-2.1l0-2.1l0-2.1l.1-2.1l0-2.1l.1-2.1l0-2.1l0-2.1l.1-2.1l0-2.1l.1-2.1l0-2.1l.1-2.1l0-2.1l.1-2.1l0-2.1l.1-2.1l0-2.1l.1-2.1l0-2.1l.1-2.1l0-2.1l.1-2.1l0-2.1l.1-2.1l0-2.1l.1-2.1l0-2.1l.1-2.1l0-2.1l.1-2.1l.1-2.1l0-2.1l.1-2.1l0-2.1l.1-2.1l0-2.1l.1-2.1l.1-2.1l0-2.1l.1-2.1l0-2.1l.1-2.1l.1-2.1l0-2.1l.1-2.1l0-2.1l.1-2.1l.1-2.1l0-2.1l.1-2.1l.1-2.1l0-2.1l.1-2.1l0-2.1l.1-2.1l.1-2.1l.1-2.1l0-2.1l.1-2.1l.1-2.1l.1-2.1l0-2.1l.1-2.1l.1-2.1l.1-2.1l.1-2.1l.1-2.1l.1-2.1l.1-2.1l.1-2.1l.1-2.1l.1-2.1l.1-2.1l.2-2.1l.1-2.1l.2-2.1l.3-2.1l.2-2.1l.3-2.1l.3-2.1l.4-2.1l.3-2.1l.4-2.1l.4-2.1l.4-2.1l.4-2.1l.4-2.1l.5-2.1l.4-2.1l.5-2.1l.4-2.1l.5-2.1l.4-2.1l.5-2.1l.4-2.1l.4-2.1l.5-2.1l.4-2.1l.5-2.1l.4-2.1l.5-2.1l.4-2.1l.4-2.1l.5-2.1l.4-2.1l.4-2.1l.4-2.1l.4-2.1l.4-2.1l.4-2.1l.4-2.1l.4-2.1l.4-2.1l.4-2.1l.4-2.1l.3-2.1l.4-2.1l.4-2.1l.4-2.1l.3-2.1l.4-2.1l.3-2.1l.4-2.1l.3-2.1l.3-2.1l.4-2.1l.3-2.1l.3-2.1l.2-2.1l.3-2.1l.2-2.1l.3-2.1l.3-2.1l.2-2.1l.3-2.1l.3-2.1l.4-2.1l.3-2.1l.3-2.1l.4-2.1l.4-2.1l.4-2.1l.4-2.1l.4-2.1l.4-2.1l.5-2.1l.5-2.1l.4-2l.5-2.1l.5-2l.6-2.1l.6-2l.6-2.1l.7-2l.7-2l.9-1.9l.9-1.9l1-1.9l1.1-1.8l1.2-1.8l1.5-2.2l1.7-2.1l1.9-2.2l2.1-2.1l2.4-2.2l2.9-2.1l3.4-2.2l3.8-2.1l4.1-2.2l4.4-2.1l4.8-2.2l5.3-2.1l5.8-2.2l6.5-2.1l4.1-1.3l4.4-1.2l4.6-1.3l4.6-1.2l4.8-1.2l4.9-1.1l4.7-1.1l4.6-.9l5.1-.9l7-1.4l9.6-1.7l11-1.8l12.1-1.9l13.3-1.7l14.4-1.8l16.7-2.2l19.1-2.5l21.8-2.7l21.2-2.7l18.7-2.3l18.2-1.8l19.1-1.5l19.5-1.7l20.7-1.7l21.9-1.9l22.2-2l22.4-2.1l22.4-2.1l22-2.2l20.9-2.1l19.9-2.1l18.7-2l17.3-1.9l16.1-1.8l15.8-1.8l15.4-1.8l15.2-1.8l15.2-1.9l2.2-.3" marker-start="url(#g6)" marker-mid="url(#g6)" marker-end="url(#g6)"/>
<path d="M106.2 545.1l0-2.1l.1-2.1l0-2.1l0-2.1l.1-2.1l0-2.1l0-2.1l.1-2.1l0-2.1l.1-2.1l0-2.1l0-2.1l.1-2.1l0-2.1l.1-2.1l0-2.1l.1-2.1l0-2.1l.1-2.1l0-2.1l.1-2.1l0-2.1l.1-2.1l0-2.1l.1-2.1l0-2.1l.1-2.1l0-2.1l.1-2.1l0-2.1l.1-2.1l0-2.1l.1-2.1l0-2.1l.1-2.1l.1-2.1l0-2.1l.1-2.1l0-2.1l.1-2.1l0-2.1l.1-2.1l.1-2.1l0-2.1l.1-2.1l0-2.1l.1-2.1l.1-2.1l0-2.1l.1-2.1l0-2.1l.1-2.1l.1-2.1l0-2.1l.1-2.1l.1-2.1l0-2.1l.1-2.1l0-2.1l.1-2.1l.1-2.1l0-2.1l.1-2.1l.1-2.1l.1-2.1l0-2.1l.1-2.1l.1-2.1l.1-2.1l.1-2.1l.1-2.1l.1-2.1l.1-2.1l.1-2.1l.1-2.1l.1-2.1l.1-2.1l.1-2.1l.2-2.1l.2-2.1l.2-2.1l.2-2.1l.3-2.1l.3-2.1l.3-2.1l.4-2.1l.4-2.1l.4-2.1l.4-2.1l.4-2.1l.4-2.1l.5-2.1l.4-2.1l.5-2l.5-2.1l.5-2l.4-2.1l.5-2.1l.5-2.1l.4-2.1l.5-2.1l.4-2.1l.5-2.1l.5-2.1l.4-2.1l.5-2.1l.5-2.1l.4-2.1l.5-2.1l.4-2.1l.4-2.1l.5-2.1l.4-2.1l.4-2.1l.4-2.1l.5-2.1l.4-2.1l.4-2.1l.3-2.1l.4-2.1l.4-2.1l.4-2.1l.4-2.1l.4-2.1l.4-2.1l.3-2.1l.4-2.1l.4-2.1l.3-2.1l.4-2.1l.3-2.1l.3-2.1l.3-2.1l.3-2.1l.2-2.1l.3-2.1l.3-2.1l.2-2.1l.3-2.1l.3-2.1l.3-2.1l.4-2.1l.3-2.1l.4-2.1l.3-2.1l.4-2.1l.4-2.1l.4-2.1l.5-2.1l.4-2.1l.5-2.1l.5-2l.4-2.1l.5-2l.6-2.1l.5-2l.6-2.1l.6-2l.7-2l.8-2l.8-2l1-1.9l1-1.8l1.1-1.9l1.1-1.8l1.6-2.1l1.6-2.2l1.9-2.1l2.1-2.2l2.4-2.1l2.9-2.2l3.4-2.1l3.8-2.2l4.1-2.1l4.4-2.2l4.7-2.1l5.2-2.2l5.7-2.1l6.3-2.2l3.6-1.1l4.4-1.3l4.6-1.3l4.7-1.3l4.7-1.2l4.9-1.1l4.8-1.1l4.6-.9l5-1l7.1-1.3l9.6-1.7l11-1.9l12-1.9l13.4-1.7l14.5-1.9l16.6-2.1l19.1-2.5l21.8-2.7l21.3-2.7l18.7-2.3l18.2-1.8l19.1-1.6l19.6-1.6l20.7-1.8l21.9-1.9l22.3-2l22.3-2.1l22.5-2.1l22-2.1l20.9-2.1l20-2.1l18.7-2l17.3-1.9l16.1-1.8l15.8-1.9l15.5-1.8l15.1-1.8l15.3-1.8l2.5-.4" marker-start="url(#g7)" marker-mid="url(#g7)" marker-end="url(#g7)"/>
<path d="M106.2 545.1l.1-5l.1-5l.1-5l0-5l.1-5l.1-5l.2-5l.1-5l.1-5l.1-5l.1-5l.1-5l.2-5l.1-5l.1-5l.2-5l.1-5l.2-5l.1-5l.1-5l.2-5l.1-5l.2-5l.1-5l.2-5l.1-5l.2-5l.2-5l.2-5l.2-5l.2-5l.3-5l.3-5l.5-5l.6-5l.9-5l.9-4.9l1.1-4.9l1.1-4.9l1.2-4.9l1.1-4.9l1.2-4.9l1.1-4.9l1.1-4.9l1.1-4.9l1.1-4.9l1.1-4.9l1-4.9l1-4.9l1-5l1-4.9l.9-5l.9-4.9l.9-5l.8-4.9l.8-5l.7-5l.6-5l.7-5l.8-4.9l.8-5l1-4.9l1-4.9l1.1-4.9l1.2-4.9l1.3-4.9l1.5-4.8l1.9-4.6l2.4-4.5l2.2-3.4l1.6-2.2l1.8-2.1l1.9-2.2l2.2-2.1l2.6-2.2l3-2.1l3.5-2.2l3.9-2.1l4.2-2.2l4.5-2.1l4.9-2.2l5.2-2.1l5.8-2.2l6.5-2.1l5-1.6l4.6-1.3l4.7-1.3l4.7-1.3l4.9-1.1l4.8-1.1l4.6-1l5-1l7.1-1.3l9.6-1.7l11-1.9l12.1-1.9l13.3-1.8l14.5-1.8l16.8-2.2l19-2.4l21.9-2.6l21.3-2.7l18.7-2.3l18.2-1.9l19.2-1.6l19.5-1.7l20.7-1.7l22-1.9l22.2-2l22.4-2.1l22.5-2.2l22.1-2.1l20.9-2.1l20-2.1l18.7-2l17.3-1.9l16.1-1.8l15.8-1.8l15.5-1.8l15.2-1.8l15.3-1.9l2.9-.4" marker-start="url(#g8)" marker-mid="url(#g8)" marker-end="url(#g8)"/>
<path d="M106.2 545.1l.1-5l.1-5l.1-5l0-5l.1-5l.1-5l.2-5l.1-5l.1-5l.1-5l.1-5l.1-5l.2-5l.1-5l.1-5l.2-5l.1-5l.2-5l.1-5l.1-5l.2-5l.1-5l.2-5l.1-5l.2-5l.1-5l.2-5l.2-5l.2-5l.2-5l.2-5l.3-5l.3-5l.5-5l.7-5l.9-5l1-4.9l1-4.9l1.2-4.9l1.3-4.8l1.2-4.9l1.1-4.9l1.2-4.9l1.2-4.9l1.1-4.9l1.1-4.9l1.2-4.9l1-4.9l1.1-4.9l1-5l.9-4.9l1-5l1-4.9l.9-5l.8-4.9l.8-5l.7-5l.7-5l.7-5l.7-4.9l.9-5l1-4.9l1-4.9l1.2-4.9l1.2-4.9l1.3-4.9l1.5-4.8l1.9-4.6l2.4-4.5l2.3-3.5l1.6-2.2l1.8-2.1l2-2.2l2.2-2.1l2.6-2.2l3.1-2.1l3.5-2.2l4-2.1l4.2-2.2l4.4-2.1l4.9-2.2l5.2-2.1l5.8-2.2l5.9-1.9l4.4-1.4l4.6-1.4l4.7-1.3l4.7-1.4l4.9-1.2l4.8-1.1l4.6-.9l5-1l7.1-1.4l9.6-1.7l11.1-1.9l12.1-1.9l13.3-1.8l14.5-1.8l16.7-2.2l19.1-2.4l21.9-2.6l21.3-2.7l18.7-2.3l18.3-1.9l19.1-1.6l19.6-1.7l20.7-1.8l22-1.9l22.3-2l22.4-2.1l22.5-2.1l22.1-2.2l20.9-2.1l20-2l18.8-2.1l17.3-1.9l16.1-1.8l15.8-1.8l15.6-1.8l15.2-1.8l15.2-1.9l3.3-.4" marker-start="url(#g9)" marker-mid="url(#g9)" marker-end="url(#g9)"/>
<path d="M106.2 545.1l.1-5l.1-5l.1-5l0-5l.1-5l.1-5l.2-5l.1-5l.1-5l.1-5l.1-5l.1-5l.2-5l.1-5l.1-5l.2-5l.1-5l.2-5l.1-5l.1-5l.2-5l.1-5l.2-5l.1-5l.2-5l.1-5l.2-5l.2-5l.2-5l.2-5l.2-5l.3-5l.3-5l.5-5l.7-5l1-5l1-4.9l1.2-4.9l1.2-4.8l1.3-4.9l1.2-4.8l1.3-4.9l1.2-4.9l1.2-4.9l1.2-4.9l1.1-4.9l1.2-4.9l1.1-4.9l1.1-4.9l1-4.9l1-4.9l1-5l1-4.9l.9-5l.9-4.9l.8-5l.7-4.9l.7-5l.7-5l.8-5l.9-4.9l1-5l1-4.9l1.2-4.9l1.2-4.8l1.3-4.9l1.6-4.8l1.9-4.6l2.3-4.5l2.5-3.8l1.7-2.2l1.8-2.1l2-2.2l2.3-2.1l2.6-2.2l3.1-2.1l3.6-2.2l3.9-2.1l4.3-2.2l4.4-2.1l4.9-2.2l5.2-2.1l5.7-2.2l4.5-1.5l4.5-1.5l4.6-1.4l4.7-1.4l4.8-1.3l4.8-1.3l4.8-1.1l4.6-1l5.1-1l7.1-1.3l9.6-1.8l11-1.9l12.1-1.9l13.4-1.8l14.5-1.9l16.8-2.1l19.1-2.4l21.9-2.6l21.3-2.7l18.7-2.2l18.3-2l19.2-1.6l19.6-1.7l20.7-1.8l22-2l22.3-2l22.5-2.1l22.4-2.1l22.2-2.1l20.9-2.1l20.1-2.1l18.7-2l17.3-1.9l16.2-1.8l15.8-1.8l15.5-1.8l15.3-1.8l15.3-1.9l3.6-.5" marker-start="url(#g10)" marker-mid="url(#g10)" marker-end="url(#g10)"/>
<path d="M106.2 545.1l.1-5l.1-5l.1-5l0-5l.1-5l.1-5l.2-5l.1-5l.1-5l.1-5l.1-5l.1-5l.2-5l.1-5l.1-5l.2-5l.1-5l.2-5l.1-5l.1-5l.2-5l.1-5l.2-5l.1-5l.2-5l.1-5l.2-5l.2-5l.2-5l.2-5l.2-5l.3-5l.3-5l.6-5l.7-5l.9-5l1.1-4.9l1.2-4.9l1.3-4.8l1.3-4.9l1.3-4.8l1.2-4.9l1.3-4.8l1.2-4.9l1.2-4.9l1.2-4.9l1.2-4.9l1.1-4.9l1.1-4.9l1-4.9l1.1-4.9l1-4.9l1-4.9l.9-5l.9-4.9l.8-5l.7-4.9l.7-5l.7-5l.8-4.9l1-5l1-4.9l1-4.9l1.2-4.9l1.2-4.9l1.4-4.8l1.5-4.8l1.9-4.7l2.3-4.4l2.7-4.1l1.6-2.2l1.9-2.1l2-2.2l2.3-2.1l2.7-2.2l3.1-2.1l3.6-2.2l4-2.1l4.2-2.2l4.5-2.1l4.8-2.2l5.2-2.1l5.7-2.2l3.7-1.2l4.4-1.5l4.6-1.4l4.7-1.5l4.8-1.3l4.9-1.3l4.8-1.2l4.6-1l5-1l7.2-1.4l9.6-1.7l11-1.9l12.1-1.9l13.4-1.9l14.5-1.8l16.8-2.2l19.1-2.3l21.9-2.6l21.3-2.7l18.8-2.3l18.3-1.9l19.2-1.7l19.6-1.7l20.7-1.8l22.1-1.9l22.3-2l22.4-2.1l22.5-2.2l22.1-2.1l21-2.1l20.1-2.1l18.7-2l17.4-1.9l16.1-1.8l15.9-1.8l15.5-1.8l15.2-1.8l15.3-1.9l3.9-.5" marker-start="url(#g11)" marker-mid="url(#g11)" marker-end="url(#g11)"/>
<path d="M106.2 545.1l.1-5l.1-5l.1-5l0-5l.1-5l.1-5l.2-5l.1-5l.1-5l.1-5l.1-5l.1-5l.2-5l.1-5l.1-5l.2-5l.1-5l.2-5l.1-5l.1-5l.2-5l.1-5l.2-5l.1-5l.2-5l.1-5l.2-5l.2-5l.2-5l.2-5l.2-5l.3-5l.3-5l.6-5l.7-5l1-4.9l1.1-4.9l1.2-4.9l1.3-4.9l1.3-4.8l1.4-4.9l1.2-4.8l1.3-4.9l1.2-4.8l1.2-4.9l1.2-4.9l1.2-4.9l1.2-4.9l1.1-4.9l1.1-4.9l1-4.9l1-4.9l1-4.9l1-4.9l.9-5l.8-4.9l.8-5l.7-5l.7-4.9l.8-5l.9-4.9l1-4.9l1.1-4.9l1.2-4.9l1.2-4.9l1.3-4.8l1.6-4.8l1.9-4.7l2.3-4.4l2.7-4.2l1.7-2.2l1.8-2.1l2-2.2l2.3-2.1l2.7-2.2l3.1-2.1l3.6-2.2l4-2.1l4.2-2.2l4.5-2.1l4.8-2.2l5.2-2.1l5.6-2.2l3.3-1.1l4.5-1.5l4.6-1.5l4.7-1.4l4.8-1.4l4.8-1.3l4.9-1.2l4.5-1l5.1-1l7.1-1.4l9.6-1.8l11.1-1.9l12.1-1.9l13.4-1.8l14.5-1.9l16.8-2.1l19.1-2.4l21.9-2.5l21.4-2.7l18.7-2.3l18.4-2l19.1-1.6l19.7-1.8l20.7-1.8l22-1.9l22.4-2l22.4-2.1l22.5-2.2l22.2-2.1l20.9-2.1l20.1-2.1l18.8-2l17.3-1.9l16.2-1.8l15.9-1.8l15.5-1.8l15.2-1.8l15.3-1.9l4.1-.5" marker-start="url(#g12)" marker-mid="url(#g12)" marker-end="url(#g12)"/>
<path d="M106.2 545.1l.1-5l.1-5l.1-5l0-5l.1-5l.1-5l.2-5l.1-5l.1-5l.1-5l.1-5l.1-5l.2-5l.1-5l.1-5l.2-5l.1-5l.2-5l.1-5l.1-5l.2-5l.1-5l.2-5l.1-5l.2-5l.1-5l.2-5l.2-5l.2-5l.2-5l.2-5l.3-5l.3-5l.6-5l.7-5l1-4.9l1.2-4.9l1.2-4.9l1.3-4.8l1.4-4.9l1.3-4.8l1.3-4.9l1.3-4.8l1.3-4.9l1.2-4.8l1.2-4.9l1.2-4.9l1.2-4.9l1.1-4.9l1.1-4.9l1.1-4.9l1-4.9l1-4.9l1-4.9l.9-5l.9-4.9l.7-5l.7-5l.8-4.9l.8-5l.9-4.9l1-4.9l1.1-4.9l1.2-4.9l1.2-4.9l1.4-4.8l1.5-4.8l1.9-4.7l2.3-4.4l2.8-4.2l1.6-2.2l1.8-2.1l2.1-2.2l2.3-2.1l2.6-2.2l3.1-2.1l3.6-2.2l4-2.1l4.3-2.2l4.4-2.1l4.8-2.2l5.2-2.1l5.6-2.2l7.3-2.5l4.6-1.5l4.7-1.5l4.8-1.4l4.9-1.3l4.8-1.2l4.6-1l5.1-1.1l7.1-1.3l9.6-1.8l11.1-1.9l12.1-1.9l13.4-1.9l14.5-1.9l16.8-2.1l19.1-2.3l22-2.6l21.3-2.6l18.8-2.3l18.3-2l19.2-1.7l19.6-1.7l20.8-1.8l22-2l22.4-2l22.4-2.1l22.6-2.1l22.1-2.2l21-2.1l20.1-2l18.7-2l17.4-1.9l16.2-1.8l15.8-1.9l15.6-1.8l15.2-1.8l15.3-1.8l4.3-.6" marker-start="url(#g13)" marker-mid="url(#g13)" marker-end="url(#g13)"/>
<path d="M106.2 545.1l.1-5l.1-5l.1-5l0-5l.1-5l.1-5l.2-5l.1-5l.1-5l.1-5l.1-5l.1-5l.2-5l.1-5l.1-5l.2-5l.1-5l.2-5l.1-5l.1-5l.2-5l.1-5l.2-5l.1-5l.2-5l.1-5l.2-5l.2-5l.2-5l.2-5l.2-5l.3-5l.3-5l.6-5l.7-5l1.1-4.9l1.2-4.9l1.2-4.8l1.3-4.9l1.4-4.8l1.4-4.8l1.3-4.9l1.3-4.8l1.3-4.9l1.3-4.8l1.2-4.9l1.3-4.8l1.2-4.9l1.1-4.9l1.1-4.9l1.1-4.9l1.1-4.9l1-4.9l1-5l.9-4.9l.9-5l.7-4.9l.7-5l.8-4.9l.8-5l.9-4.9l1-4.9l1.1-4.9l1.2-4.9l1.3-4.9l1.4-4.8l1.5-4.8l1.9-4.7l2.3-4.4l2.8-4.3l1.6-2.1l1.8-2.2l2.1-2.1l2.3-2.2l2.6-2.1l3.1-2.2l3.6-2.1l4-2.2l4.2-2.1l4.4-2.2l4.8-2.1l5.1-2.2l5.6-2.1l7-2.5l4.6-1.5l4.7-1.5l4.8-1.4l4.9-1.4l4.8-1.2l4.6-1l5-1.1l7.2-1.4l9.6-1.7l11.1-2l12.1-1.9l13.4-1.9l14.5-1.8l16.8-2.1l19.2-2.4l21.9-2.5l21.4-2.6l18.7-2.3l18.4-2l19.2-1.8l19.6-1.7l20.8-1.8l22-2l22.4-2l22.5-2.1l22.5-2.1l22.2-2.1l21-2.1l20.1-2.1l18.7-2l17.4-1.9l16.2-1.8l15.9-1.8l15.5-1.8l15.3-1.8l15.3-1.9l4.5-.6" marker-start="url(#g14)" marker-mid="url(#g14)" marker-end="url(#g14)"/>
<path d="M106.2 545.1l.1-5l.1-5l.1-5l0-5l.1-5l.1-5l.2-5l.1-5l.1-5l.1-5l.1-5l.1-5l.2-5l.1-5l.1-5l.2-5l.1-5l.2-5l.1-5l.1-5l.2-5l.1-5l.2-5l.1-5l.2-5l.1-5l.2-5l.2-5l.2-5l.2-5l.2-5l.3-5l.3-5l.6-5l.8-5l1-4.9l1.2-4.9l1.3-4.8l1.4-4.9l1.4-4.8l1.4-4.8l1.3-4.9l1.3-4.8l1.4-4.9l1.2-4.8l1.3-4.9l1.2-4.8l1.2-4.9l1.2-4.9l1.1-4.9l1.1-4.9l1.1-4.9l1-4.9l1-4.9l1-5l.9-4.9l.7-5l.7-4.9l.8-5l.8-4.9l.9-5l1.1-4.9l1.1-4.9l1.2-4.9l1.3-4.8l1.3-4.9l1.6-4.8l1.9-4.6l2.3-4.5l2.7-4.2l1.6-2.1l1.9-2.2l2-2.1l2.4-2.2l2.6-2.1l3-2.2l3.6-2.1l4-2.2l4.2-2.1l4.5-2.2l4.7-2.1l5.1-2.2l5.5-2.1l6.7-2.4l4.6-1.5l4.7-1.5l4.8-1.5l4.9-1.4l4.8-1.2l4.6-1l5.1-1.1l7.1-1.4l9.6-1.8l11.1-1.9l12.2-1.9l13.4-1.9l14.5-1.9l16.8-2.1l19.2-2.3l21.9-2.5l21.4-2.7l18.7-2.3l18.4-2l19.2-1.7l19.7-1.8l20.7-1.8l22.1-1.9l22.4-2.1l22.5-2.1l22.5-2.1l22.2-2.1l21-2.1l20.1-2.1l18.8-2l17.4-1.9l16.1-1.8l15.9-1.8l15.6-1.8l15.2-1.8l15.4-1.9l4.6-.6" marker-start="url(#g15)" marker-mid="url(#g15)" marker-end="url(#g15)"/>
<path d="M106.2 545.1l.1-5l.1-5l.1-5l0-5l.1-5l.1-5l.2-5l.1-5l.1-5l.1-5l.1-5l.1-5l.2-5l.1-5l.1-5l.2-5l.1-5l.2-5l.1-5l.1-5l.2-5l.1-5l.2-5l.1-5l.2-5l.1-5l.2-5l.2-5l.2-5l.2-5l.2-5l.3-5l.3-5l.6-5l.8-5l1.1-4.9l1.2-4.8l1.3-4.9l1.4-4.8l1.5-4.8l1.4-4.8l1.4-4.8l1.3-4.9l1.4-4.8l1.3-4.9l1.3-4.8l1.2-4.9l1.3-4.8l1.2-4.9l1.1-4.9l1.1-4.9l1.1-4.9l1.1-4.9l1-4.9l1-5l.9-4.9l.7-5l.8-4.9l.7-5l.8-4.9l1-5l1-4.9l1.2-4.9l1.2-4.9l1.3-4.8l1.3-4.9l1.6-4.8l1.9-4.6l2.3-4.5l2.7-4.2l1.7-2.2l1.8-2.1l2.1-2.2l2.3-2.1l2.6-2.2l3.1-2.1l3.5-2.2l4-2.1l4.3-2.2l4.4-2.1l4.7-2.2l5.1-2.1l5.4-2.2l6.2-2.2l4.6-1.5l4.7-1.6l4.8-1.5l4.9-1.4l4.8-1.3l4.6-1l5.1-1.1l7.1-1.4l9.6-1.8l11.1-1.9l12.2-2l13.4-1.9l14.6-1.8l16.7-2.2l19.2-2.3l22-2.5l21.4-2.6l18.7-2.3l18.4-2l19.2-1.8l19.7-1.7l20.8-1.9l22.1-1.9l22.3-2l22.6-2.1l22.5-2.2l22.2-2.1l21-2.1l20.1-2.1l18.8-2l17.4-1.9l16.2-1.8l15.9-1.8l15.6-1.8l15.2-1.8l15.4-1.9l4.9-.6" marker-start="url(#g16)" marker-mid="url(#g16)" marker-end="url(#g16)"/>
<path d="M106.2 545.1l.1-5l.1-5l.1-5l0-5l.1-5l.1-5l.2-5l.1-5l.1-5l.1-5l.1-5l.1-5l.2-5l.1-5l.1-5l.2-5l.1-5l.2-5l.1-5l.1-5l.2-5l.1-5l.2-5l.1-5l.2-5l.1-5l.2-5l.1-5l.2-5l.3-5l.2-5l.3-5l.3-5l.6-5l.8-5l1.1-4.9l1.3-4.8l1.3-4.9l1.5-4.8l1.5-4.8l1.4-4.8l1.4-4.8l1.4-4.9l1.4-4.8l1.3-4.9l1.3-4.8l1.3-4.9l1.3-4.8l1.2-4.9l1.1-4.9l1.2-4.9l1.1-4.9l1.1-4.9l1-4.9l1-5l.9-4.9l.8-5l.7-4.9l.8-5l.8-4.9l1-5l1-4.9l1.2-4.9l1.2-4.8l1.3-4.9l1.4-4.8l1.6-4.8l1.9-4.6l2.3-4.5l2.7-4.2l1.6-2.2l1.9-2.1l2.1-2.2l2.3-2.1l2.6-2.2l3.1-2.1l3.5-2.2l4-2.1l4.2-2.2l4.4-2.1l4.7-2.2l5.1-2.1l5.4-2.2l5.7-2l4.5-1.6l4.8-1.6l4.8-1.5l4.9-1.5l4.8-1.2l4.6-1.1l5.1-1.1l7.1-1.4l9.6-1.8l11.1-2l12.2-1.9l13.4-1.9l14.6-1.9l16.8-2.1l19.2-2.3l21.9-2.5l21.4-2.6l18.8-2.3l18.4-2l19.2-1.8l19.7-1.8l20.8-1.8l22.1-2l22.4-2l22.5-2.1l22.6-2.1l22.2-2.2l21-2.1l20.1-2l18.8-2l17.5-1.9l16.2-1.8l15.9-1.9l15.5-1.8l15.3-1.8l15.4-1.8l5.1-.7" marker-start="url(#g17)" marker-mid="url(#g17)" marker-end="url(#g17)"/>
<path d="M106.2 545.1l.1-5l.1-5l.1-5l0-5l.1-5l.1-5l.2-5l.1-5l.1-5l.1-5l.1-5l.1-5l.2-5l.1-5l.1-5l.2-5l.1-5l.2-5l.1-5l.1-5l.2-5l.1-5l.2-5l.1-5l.1-5l.2-5l.2-5l.1-5l.2-5l.3-5l.2-5l.3-5l.3-5l.6-5l.9-5l1.1-4.9l1.3-4.8l1.3-4.9l1.5-4.8l1.5-4.8l1.5-4.8l1.4-4.8l1.4-4.9l1.4-4.8l1.3-4.9l1.3-4.8l1.3-4.9l1.3-4.8l1.2-4.9l1.2-4.9l1.1-4.9l1.2-4.9l1.1-4.9l1-4.9l1-5l.9-4.9l.8-5l.7-4.9l.8-5l.8-4.9l1-5l1.1-4.9l1.1-4.9l1.3-4.8l1.3-4.9l1.4-4.8l1.5-4.8l1.9-4.6l2.4-4.5l2.7-4.2l1.6-2.2l1.9-2.1l2.1-2.2l2.3-2.1l2.7-2.2l3-2.1l3.6-2.2l4-2.1l4.2-2.2l4.4-2.1l4.7-2.2l5.1-2.1l5.4-2.2l5.2-1.9l4.6-1.6l4.7-1.6l4.8-1.5l4.9-1.5l4.8-1.3l4.6-1.1l5.1-1.1l7.1-1.4l9.7-1.8l11.1-1.9l12.1-2l13.4-1.9l14.6-1.9l16.8-2.1l19.2-2.3l22-2.5l21.4-2.5l18.8-2.3l18.4-2.1l19.2-1.8l19.7-1.7l20.8-1.9l22.1-2l22.4-2l22.6-2.1l22.5-2.1l22.2-2.2l21.1-2.1l20.1-2l18.8-2l17.4-1.9l16.2-1.8l15.9-1.8l15.6-1.8l15.3-1.9l15.4-1.8l5.2-.7" marker-start="url(#g18)" marker-mid="url(#g18)" marker-end="url(#g18)"/>
<path d="M106.2 545.1l.1-5l.1-5l.1-5l0-5l.1-5l.1-5l.2-5l.1-5l.1-5l.1-5l.1-5l.1-5l.2-5l.1-5l.1-5l.2-5l.1-5l.2-5l.1-5l.1-5l.2-5l.1-5l.2-5l.1-5l.1-5l.2-5l.2-5l.1-5l.2-5l.3-5l.2-5l.3-5l.3-5l.7-5l.8-5l1.1-4.9l1.3-4.8l1.4-4.9l1.5-4.8l1.5-4.8l1.5-4.8l1.4-4.8l1.4-4.8l1.4-4.9l1.4-4.8l1.3-4.9l1.3-4.8l1.3-4.9l1.2-4.8l1.2-4.9l1.2-4.9l1.1-4.9l1.1-4.9l1.1-4.9l1-5l.9-4.9l.8-5l.7-4.9l.8-5l.8-4.9l1-5l1.1-4.9l1.1-4.9l1.3-4.8l1.3-4.9l1.4-4.8l1.6-4.8l1.9-4.6l2.3-4.5l2.7-4.2l1.7-2.2l1.8-2.1l2.1-2.2l2.3-2.1l2.7-2.2l3-2.1l3.6-2.2l4-2.1l4.2-2.2l4.4-2.1l4.7-2.2l5-2.1l5.4-2.2l5-1.8l4.6-1.6l4.7-1.6l4.9-1.6l4.8-1.5l4.9-1.3l4.6-1.1l5.1-1.1l7.1-1.4l9.6-1.8l11.1-2l12.2-1.9l13.4-2l14.6-1.9l16.8-2.1l19.2-2.3l22-2.4l21.4-2.6l18.8-2.3l18.4-2.1l19.2-1.8l19.7-1.7l20.8-1.9l22.2-1.9l22.4-2.1l22.5-2.1l22.6-2.1l22.2-2.2l21-2l20.2-2.1l18.8-2l17.4-1.9l16.2-1.8l15.9-1.8l15.6-1.8l15.3-1.8l15.4-1.9l5.3-.7" marker-start="url(#g19)" marker-mid="url(#g19)" marker-end="url(#g19)"/>
<path d="M106.2 545.1l.1-5l.1-5l.1-5l0-5l.1-5l.1-5l.2-5l.1-5l.1-5l.1-5l.1-5l.1-5l.2-5l.1-5l.1-5l.2-5l.1-5l.2-5l.1-5l.1-5l.2-5l.1-5l.2-5l.1-5l.1-5l.2-5l.2-5l.1-5l.2-5l.3-5l.2-5l.3-5l.3-5l.7-5l.8-5l1.1-4.9l1.4-4.8l1.3-4.9l1.5-4.8l1.6-4.8l1.5-4.8l1.5-4.8l1.4-4.8l1.4-4.8l1.4-4.9l1.3-4.8l1.3-4.9l1.3-4.8l1.2-4.9l1.2-4.9l1.2-4.9l1.2-4.9l1.1-4.9l1-4.9l1-4.9l.9-4.9l.9-5l.7-4.9l.8-5l.8-4.9l1-5l1.1-4.9l1.2-4.9l1.2-4.8l1.3-4.9l1.4-4.8l1.6-4.7l1.9-4.7l2.3-4.4l2.7-4.3l1.6-2.1l1.9-2.2l2.1-2.1l2.3-2.2l2.6-2.1l3-2.2l3.6-2.1l3.9-2.2l4.3-2.1l4.4-2.2l4.6-2.1l5-2.2l5.4-2.1l4.9-1.9l4.6-1.6l4.8-1.6l4.8-1.6l4.9-1.5l4.8-1.3l4.6-1.2l5.1-1.1l7.1-1.4l9.7-1.8l11.1-2l12.1-1.9l13.5-1.9l14.6-1.9l16.8-2.1l19.2-2.3l22-2.5l21.4-2.5l18.8-2.4l18.4-2l19.2-1.8l19.8-1.8l20.8-1.9l22.1-1.9l22.4-2.1l22.5-2.1l22.6-2.1l22.2-2.1l21.1-2.1l20.1-2.1l18.9-2l17.4-1.9l16.2-1.8l15.9-1.8l15.6-1.8l15.3-1.8l15.4-1.9l5.4-.7" marker-start="url(#g20)" marker-mid="url(#g20)" marker-end="url(#g20)"/>
<path d="M106.2 545.1l.1-5l.1-5l.1-5l0-5l.1-5l.1-5l.2-5l.1-5l.1-5l.1-5l.1-5l.1-5l.2-5l.1-5l.1-5l.2-5l.1-5l.2-5l.1-5l.1-5l.2-5l.1-5l.2-5l.1-5l.1-5l.2-5l.2-5l.1-5l.2-5l.3-5l.2-5l.3-5l.3-5l.7-5l.8-5l1.2-4.9l1.3-4.8l1.4-4.9l1.5-4.8l1.5-4.8l1.6-4.8l1.4-4.8l1.4-4.8l1.4-4.8l1.4-4.9l1.4-4.8l1.3-4.9l1.3-4.8l1.2-4.9l1.2-4.9l1.2-4.9l1.2-4.9l1.1-4.9l1-4.9l1-4.9l1-4.9l.8-5l.7-4.9l.8-5l.8-4.9l1-5l1.1-4.9l1.2-4.9l1.2-4.8l1.4-4.9l1.4-4.8l1.5-4.7l1.9-4.7l2.3-4.4l2.8-4.3l1.6-2.1l1.8-2.2l2.1-2.1l2.4-2.2l2.6-2.1l3-2.2l3.6-2.1l3.9-2.2l4.3-2.1l4.4-2.2l4.6-2.1l5-2.2l5.3-2.1l4.9-1.8l4.6-1.7l4.7-1.6l4.8-1.5l4.9-1.6l4.8-1.3l4.6-1.1l5.1-1.2l7.2-1.4l9.6-1.8l11.1-1.9l12.2-2l13.4-1.9l14.6-1.9l16.8-2.1l19.2-2.3l22-2.5l21.4-2.5l18.8-2.3l18.4-2.1l19.3-1.8l19.7-1.8l20.8-1.9l22.1-1.9l22.4-2.1l22.6-2.1l22.6-2.1l22.2-2.1l21-2.1l20.2-2.1l18.8-2l17.5-1.9l16.2-1.8l15.9-1.8l15.6-1.8l15.3-1.8l15.3-1.9l5.6-.7" marker-start="url(#g21)" marker-mid="url(#g21)" marker-end="url(#g21)"/>
<path d="M106.2 545.1l.1-5l.1-5l.1-5l0-5l.1-5l.1-5l.2-5l.1-5l.1-5l.1-5l.1-5l.1-5l.2-5l.1-5l.1-5l.2-5l.1-5l.2-5l.1-5l.1-5l.2-5l.1-5l.2-5l.1-5l.1-5l.2-5l.2-5l.1-5l.2-5l.3-5l.2-5l.3-5l.3-5l.7-5l.8-5l1.2-4.9l1.3-4.8l1.4-4.9l1.5-4.8l1.5-4.8l1.6-4.8l1.4-4.8l1.4-4.8l1.4-4.8l1.4-4.9l1.4-4.8l1.3-4.9l1.3-4.8l1.2-4.9l1.2-4.9l1.2-4.9l1.1-4.9l1.1-4.9l1.1-4.9l1-4.9l.9-4.9l.8-5l.8-4.9l.8-5l.8-4.9l1-5l1.1-4.9l1.1-4.9l1.3-4.8l1.3-4.9l1.4-4.8l1.6-4.7l1.9-4.7l2.3-4.4l2.7-4.3l1.6-2.1l1.9-2.2l2.1-2.1l2.3-2.2l2.6-2.1l3.1-2.2l3.5-2.1l4-2.2l4.2-2.1l4.4-2.2l4.7-2.1l4.9-2.2l5.4-2.1l4.9-1.8l4.6-1.7l4.7-1.6l4.8-1.6l4.9-1.5l4.8-1.3l4.6-1.1l5.1-1.2l7.1-1.4l9.7-1.8l11.1-2l12.2-1.9l13.4-1.9l14.6-1.9l16.8-2.1l19.2-2.3l22-2.5l21.4-2.5l18.8-2.3l18.4-2.1l19.3-1.8l19.7-1.8l20.8-1.9l22.1-1.9l22.4-2.1l22.6-2.1l22.6-2.1l22.2-2.1l21-2.1l20.2-2.1l18.8-2l17.4-1.9l16.2-1.8l16-1.8l15.6-1.8l15.2-1.8l15.4-1.9l5.5-.7" marker-start="url(#g22)" marker-mid="url(#g22)" marker-end="url(#g22)"/>
<path d="M106.2 545.1l.1-5l.1-5l.1-5l0-5l.1-5l.1-5l.2-5l.1-5l.1-5l.1-5l.1-5l.1-5l.2-5l.1-5l.1-5l.2-5l.1-5l.2-5l.1-5l.1-5l.2-5l.1-5l.2-5l.1-5l.1-5l.2-5l.2-5l.1-5l.2-5l.3-5l.2-5l.3-5l.3-5l.7-5l.8-5l1.2-4.9l1.4-4.8l1.4-4.9l1.5-4.8l1.6-4.7l1.5-4.8l1.5-4.8l1.4-4.8l1.4-4.8l1.4-4.9l1.4-4.8l1.4-4.9l1.3-4.8l1.2-4.9l1.2-4.9l1.2-4.9l1.2-4.9l1.1-4.9l1.1-4.9l1-4.9l.9-4.9l.9-5l.7-4.9l.8-5l.9-4.9l1-5l1-4.9l1.2-4.9l1.3-4.8l1.3-4.9l1.4-4.8l1.6-4.7l1.9-4.7l2.3-4.4l2.7-4.3l1.7-2.1l1.8-2.2l2.1-2.1l2.3-2.2l2.7-2.1l3-2.2l3.5-2.1l4-2.2l4.2-2.1l4.4-2.2l4.7-2.1l4.9-2.2l5.3-2.1l4.5-1.7l4.6-1.7l4.7-1.6l4.9-1.6l4.8-1.5l4.9-1.4l4.6-1.1l5.1-1.2l7.1-1.4l9.7-1.8l11.1-2l12.1-2l13.5-1.9l14.6-1.9l16.8-2.1l19.2-2.3l22-2.4l21.4-2.6l18.9-2.3l18.4-2l19.2-1.9l19.7-1.8l20.9-1.8l22.1-2l22.4-2.1l22.6-2.1l22.6-2.1l22.2-2.1l21-2.1l20.2-2.1l18.9-2l17.4-1.9l16.2-1.8l15.9-1.8l15.6-1.8l15.3-1.8l15.4-1.9l5.7-.7" marker-start="url(#g23)" marker-mid="url(#g23)" marker-end="url(#g23)"/>
<path d="M106.2 545.1l.1-5l.1-5l.1-5l0-5l.1-5l.1-5l.2-5l.1-5l.1-5l.1-5l.1-5l.1-5l.2-5l.1-5l.1-5l.2-5l.1-5l.2-5l.1-5l.1-5l.2-5l.1-5l.2-5l.1-5l.1-5l.2-5l.2-5l.1-5l.2-5l.3-5l.2-5l.3-5l.3-5l.7-5l.9-5l1.2-4.9l1.4-4.8l1.4-4.8l1.5-4.8l1.6-4.8l1.6-4.7l1.5-4.8l1.5-4.8l1.4-4.8l1.4-4.8l1.4-4.9l1.4-4.8l1.3-4.9l1.3-4.8l1.2-4.9l1.2-4.9l1.2-4.9l1.2-4.9l1-4.9l1.1-4.9l.9-4.9l.9-5l.7-4.9l.8-5l.9-4.9l1-5l1.1-4.9l1.2-4.9l1.2-4.8l1.4-4.9l1.4-4.8l1.6-4.7l1.9-4.7l2.3-4.4l2.7-4.3l1.6-2.1l1.9-2.2l2-2.1l2.4-2.2l2.6-2.1l3-2.2l3.5-2.1l3.9-2.2l4.3-2.1l4.4-2.2l4.6-2.1l4.9-2.2l5-2l4.5-1.7l4.6-1.7l4.7-1.7l4.8-1.6l4.9-1.6l4.8-1.4l4.7-1.1l5-1.2l7.2-1.4l9.6-1.8l11.2-2l12.1-2l13.5-2l14.6-1.9l16.8-2.1l19.2-2.2l22.1-2.4l21.4-2.6l18.8-2.3l18.5-2.1l19.2-1.8l19.7-1.8l20.9-1.9l22.1-2l22.4-2l22.6-2.1l22.6-2.2l22.3-2.1l21-2.1l20.2-2l18.9-2.1l17.4-1.9l16.2-1.8l16-1.8l15.6-1.8l15.3-1.8l15.4-1.8l5.9-.8" marker-start="url(#g24)" marker-mid="url(#g24)" marker-end="url(#g24)"/>
<path d="M106.2 545.1l.1-5l.1-5l.1-5l0-5l.1-5l.1-5l.2-5l.1-5l.1-5l.1-5l.1-5l.1-5l.2-5l.1-5l.1-5l.2-5l.1-5l.2-5l.1-5l.1-5l.2-5l.1-5l.2-5l.1-5l.1-5l.2-5l.2-5l.1-5l.2-5l.2-5l.3-5l.3-5l.3-5l.7-5l.9-5l1.2-4.8l1.4-4.8l1.5-4.8l1.5-4.8l1.7-4.7l1.6-4.8l1.5-4.8l1.5-4.8l1.5-4.8l1.4-4.8l1.4-4.8l1.4-4.8l1.3-4.9l1.3-4.8l1.3-4.9l1.2-4.8l1.2-4.9l1.2-4.9l1.1-4.9l1-4.9l1-5l.9-4.9l.7-5l.8-4.9l.9-5l1-4.9l1.1-4.9l1.2-4.9l1.3-4.8l1.3-4.9l1.5-4.8l1.5-4.7l1.9-4.7l2.3-4.5l2.7-4.2l1.6-2.2l1.8-2.1l2.1-2.2l2.3-2.1l2.6-2.2l3-2.1l3.5-2.2l3.9-2.1l4.2-2.2l4.4-2.1l4.6-2.2l4.9-2.1l4.8-2l4.4-1.8l4.6-1.7l4.8-1.6l4.8-1.7l4.9-1.6l4.8-1.4l4.6-1.2l5.1-1.2l7.2-1.5l9.6-1.8l11.2-2l12.1-1.9l13.5-2l14.6-1.9l16.8-2.1l19.3-2.3l22-2.4l21.4-2.5l18.9-2.3l18.4-2.1l19.3-1.9l19.7-1.8l20.9-1.9l22.1-2l22.5-2l22.6-2.1l22.6-2.1l22.2-2.2l21.1-2.1l20.2-2l18.9-2l17.4-1.9l16.3-1.8l15.9-1.8l15.6-1.8l15.3-1.9l15.4-1.8l6.1-.8" marker-start="url(#g25)" marker-mid="url(#g25)" marker-end="url(#g25)"/>
<path d="M106.2 545.1l.1-5l.1-5l.1-5l0-5l.1-5l.1-5l.2-5l.1-5l.1-5l.1-5l.1-5l.1-5l.2-5l.1-5l.1-5l.2-5l.1-5l.2-5l.1-5l.1-5l.2-5l.1-5l.2-5l.1-5l.1-5l.2-5l.1-5l.2-5l.2-5l.2-5l.3-5l.3-5l.4-5l.6-5l.9-5l1.3-4.8l1.4-4.8l1.5-4.8l1.6-4.8l1.7-4.7l1.6-4.8l1.5-4.8l1.6-4.8l1.5-4.8l1.4-4.8l1.5-4.8l1.4-4.8l1.3-4.9l1.4-4.8l1.2-4.9l1.3-4.8l1.2-4.9l1.2-4.9l1.1-4.9l1-4.9l1-5l.9-4.9l.8-5l.8-4.9l.8-5l1.1-4.9l1.1-4.9l1.2-4.9l1.3-4.8l1.4-4.9l1.4-4.8l1.6-4.7l1.9-4.7l2.3-4.5l2.7-4.2l1.6-2.2l1.9-2.1l2-2.2l2.4-2.1l2.6-2.2l3-2.1l3.5-2.2l3.9-2.1l4.3-2.2l4.3-2.1l4.6-2.2l4.9-2.1l4-1.7l4.5-1.8l4.6-1.7l4.7-1.7l4.8-1.7l4.9-1.6l4.9-1.5l4.6-1.2l5.1-1.2l7.1-1.5l9.7-1.8l11.1-2l12.2-2l13.5-2l14.6-1.9l16.9-2.1l19.2-2.2l22-2.4l21.5-2.5l18.9-2.3l18.4-2.1l19.3-1.9l19.7-1.8l20.9-1.9l22.2-2l22.4-2.1l22.6-2.1l22.6-2.1l22.3-2.1l21.1-2.1l20.2-2.1l18.9-2l17.4-1.9l16.3-1.8l15.9-1.8l15.7-1.8l15.3-1.8l15.4-1.9l6.3-.8" marker-start="url(#g26)" marker-mid="url(#g26)" marker-end="url(#g26)"/>
<path d="M106.2 545.1l.1-5l.1-5l.1-5l0-5l.1-5l.1-5l.2-5l.1-5l.1-5l.1-5l.1-5l.1-5l.2-5l.1-5l.1-5l.2-5l.1-5l.2-5l.1-5l.1-5l.2-5l.1-5l.2-5l.1-5l.1-5l.2-5l.1-5l.2-5l.2-5l.2-5l.3-5l.3-5l.4-5l.6-5l1-5l1.3-4.8l1.4-4.8l1.6-4.8l1.6-4.8l1.7-4.7l1.7-4.7l1.6-4.8l1.6-4.8l1.5-4.8l1.5-4.8l1.5-4.8l1.4-4.8l1.4-4.8l1.3-4.9l1.3-4.8l1.3-4.9l1.2-4.8l1.3-4.9l1.1-4.9l1.1-4.9l1-4.9l.9-5l.8-4.9l.8-5l.9-4.9l1-4.9l1.1-4.9l1.2-4.9l1.4-4.8l1.4-4.9l1.4-4.8l1.6-4.7l1.9-4.7l2.3-4.5l2.7-4.2l1.6-2.2l1.8-2.1l2.1-2.2l2.3-2.1l2.6-2.2l3-2.1l3.4-2.2l3.9-2.1l4.3-2.2l4.4-2.1l4.5-2.2l4.8-2.1l3.5-1.5l4.5-1.8l4.6-1.8l4.7-1.7l4.8-1.7l4.9-1.7l4.9-1.6l4.6-1.2l5.1-1.2l7.2-1.6l9.6-1.8l11.2-2l12.2-2l13.4-2l14.7-1.9l16.8-2.1l19.3-2.3l22.1-2.3l21.4-2.5l18.9-2.3l18.5-2.1l19.3-1.9l19.7-1.9l20.9-1.9l22.2-2l22.5-2l22.6-2.2l22.6-2.1l22.3-2.1l21.1-2.1l20.2-2.1l18.9-2l17.5-1.9l16.3-1.8l15.9-1.8l15.7-1.8l15.3-1.8l15.4-1.8l6.7-.9" marker-start="url(#g27)" marker-mid="url(#g27)" marker-end="url(#g27)"/>
<path d="M106.2 545.1l.1-5l.1-5l.1-5l0-5l.1-5l.1-5l.2-5l.1-5l.1-5l.1-5l.1-5l.1-5l.2-5l.1-5l.1-5l.2-5l.1-5l.2-5l.1-5l.1-5l.2-5l.1-5l.2-5l.1-5l.1-5l.2-5l.1-5l.2-5l.2-5l.2-5l.3-5l.3-5l.4-5l.7-5l1-4.9l1.3-4.9l1.6-4.8l1.6-4.7l1.7-4.7l1.8-4.7l1.8-4.7l1.6-4.8l1.6-4.7l1.6-4.8l1.6-4.8l1.5-4.8l1.5-4.8l1.5-4.8l1.4-4.8l1.4-4.9l1.3-4.8l1.3-4.9l1.2-4.8l1.2-4.9l1.1-4.9l1.1-4.9l.9-5l.8-4.9l.9-5l.9-4.9l1-4.9l1.2-4.9l1.2-4.9l1.4-4.8l1.4-4.8l1.5-4.8l1.6-4.8l1.9-4.6l2.3-4.5l2.6-4.3l1.7-2.2l1.8-2.2l2.1-2.1l2.4-2.2l2.6-2.1l2.9-2.2l3.4-2.1l3.9-2.2l4.3-2.1l4.4-2.2l4.5-2.1l4.7-2.2l6.5-2.7l4.6-1.9l4.8-1.8l4.8-1.8l4.9-1.8l4.9-1.6l4.6-1.4l5.1-1.3l7.2-1.5l9.7-1.9l11.1-2l12.2-2l13.5-2l14.7-2l16.9-2.1l19.3-2.2l22.1-2.3l21.5-2.5l18.9-2.3l18.5-2.1l19.3-2l19.8-1.8l20.9-2l22.2-2l22.5-2.1l22.7-2.1l22.7-2.1l22.3-2.2l21.1-2l20.3-2.1l18.9-2l17.5-1.9l16.3-1.8l16-1.8l15.6-1.8l15.4-1.8l15.4-1.9l7.3-.9" marker-start="url(#g28)" marker-mid="url(#g28)" marker-end="url(#g28)"/>
<path d="M106.2 545.1l.1-5l.1-5l.1-5l0-5l.1-5l.1-5l.2-5l.1-5l.1-5l.1-5l.1-5l.1-5l.2-5l.1-5l.1-5l.2-5l.1-5l.2-5l.1-5l.1-5l.2-5l.1-5l.2-5l.1-5l.1-5l.2-5l.1-5l.2-5l.2-5l.2-5l.3-5l.3-5l.4-5l.7-5l1-4.9l1.4-4.9l1.6-4.7l1.6-4.8l1.8-4.7l1.8-4.7l1.8-4.7l1.7-4.7l1.7-4.8l1.6-4.7l1.6-4.8l1.5-4.8l1.6-4.8l1.5-4.8l1.4-4.8l1.4-4.8l1.3-4.9l1.3-4.8l1.3-4.9l1.2-4.9l1.2-4.9l1-4.9l1-4.9l.8-5l.9-4.9l.9-5l1-4.9l1.2-4.9l1.3-4.8l1.3-4.9l1.5-4.8l1.5-4.8l1.6-4.7l1.9-4.7l2.3-4.5l2.6-4.2l1.8-2.4l1.9-2.2l2.1-2.1l2.3-2.2l2.7-2.1l2.9-2.2l3.5-2.1l3.9-2.2l4.3-2.1l4.4-2.2l4.5-2.1l4.7-2.2l5.5-2.3l4.6-1.9l4.8-1.8l4.8-1.9l4.9-1.8l4.9-1.7l4.6-1.4l5.1-1.3l7.2-1.6l9.7-1.9l11.2-2l12.2-2.1l13.5-2l14.6-2l16.9-2.1l19.3-2.2l22.2-2.3l21.5-2.4l18.9-2.3l18.5-2.1l19.3-2l19.9-1.9l20.9-1.9l22.2-2.1l22.5-2.1l22.7-2.1l22.7-2.1l22.3-2.1l21.2-2.1l20.2-2.1l19-2l17.5-1.9l16.3-1.8l16-1.8l15.7-1.8l15.3-1.8l15.5-1.8l7.5-1" marker-start="url(#g29)" marker-mid="url(#g29)" marker-end="url(#g29)"/>
<path d="M106.2 545.1l.1-5l.1-5l.1-5l0-5l.1-5l.1-5l.2-5l.1-5l.1-5l.1-5l.1-5l.1-5l.2-5l.1-5l.1-5l.2-5l.1-5l.2-5l.1-5l.1-5l.2-5l.1-5l.2-5l.1-5l.1-5l.2-5l.1-5l.2-5l.2-5l.2-5l.3-5l.3-5l.4-5l.7-5l1-4.9l1.4-4.8l1.6-4.7l1.7-4.8l1.8-4.7l1.8-4.6l1.9-4.7l1.7-4.8l1.6-4.7l1.7-4.8l1.6-4.7l1.6-4.8l1.5-4.8l1.5-4.8l1.5-4.8l1.4-4.8l1.3-4.9l1.4-4.8l1.2-4.9l1.3-4.8l1.1-4.9l1.1-4.9l1-5l.8-4.9l.9-5l.9-4.9l1-4.9l1.2-4.9l1.3-4.9l1.4-4.8l1.4-4.8l1.5-4.8l1.7-4.8l1.9-4.6l2.2-4.5l2.7-4.3l1.9-2.6l1.9-2.2l2.1-2.1l2.4-2.2l2.6-2.1l3-2.2l3.5-2.1l3.9-2.2l4.3-2.1l4.4-2.2l4.5-2.1l4.8-2.2l4.7-2l4.7-1.9l4.7-1.9l4.9-1.8l4.9-1.9l4.8-1.7l4.7-1.5l5.1-1.3l7.2-1.6l9.7-1.9l11.1-2.1l12.3-2l13.4-2l14.7-2l16.9-2.1l19.4-2.2l22.1-2.3l21.5-2.4l18.9-2.3l18.6-2.1l19.3-2l19.8-1.9l21-2l22.2-2.1l22.5-2l22.7-2.2l22.7-2.1l22.4-2.1l21.1-2.1l20.3-2l18.9-2l17.6-1.9l16.3-1.8l16-1.8l15.7-1.9l15.3-1.8l15.5-1.8l7.7-1" marker-start="url(#g30)" marker-mid="url(#g30)" marker-end="url(#g30)"/>
<path d="M106.2 545.1l.1-5l.1-5l.1-5l0-5l.1-5l.1-5l.2-5l.1-5l.1-5l.1-5l.1-5l.1-5l.2-5l.1-5l.1-5l.2-5l.1-5l.2-5l.1-5l.1-5l.2-5l.1-5l.2-5l.1-5l.1-5l.2-5l.1-5l.2-5l.2-5l.2-5l.3-5l.3-5l.4-5l.7-5l1-4.9l1.5-4.8l1.6-4.7l1.7-4.8l1.8-4.7l1.9-4.6l1.9-4.7l1.7-4.7l1.7-4.7l1.7-4.8l1.6-4.7l1.6-4.8l1.6-4.8l1.5-4.8l1.4-4.8l1.4-4.8l1.4-4.8l1.4-4.9l1.3-4.8l1.2-4.9l1.2-4.9l1.1-4.9l1-4.9l.8-5l.9-4.9l.9-5l1.1-4.9l1.2-4.9l1.2-4.8l1.4-4.9l1.5-4.8l1.5-4.8l1.6-4.7l1.9-4.7l2.3-4.5l2.7-4.3l2-2.7l1.9-2.2l2.1-2.1l2.4-2.2l2.7-2.1l3-2.2l3.5-2.1l3.9-2.2l4.3-2.1l4.4-2.2l4.6-2.1l4.2-1.9l4.5-2l4.6-1.9l4.8-1.9l4.8-1.9l4.9-1.9l4.9-1.7l4.6-1.6l5.1-1.3l7.2-1.7l9.7-1.8l11.2-2.1l12.2-2l13.5-2.1l14.7-2l17-2.1l19.3-2.2l22.1-2.3l21.6-2.4l18.9-2.2l18.5-2.1l19.4-2.1l19.8-1.9l21-2l22.2-2l22.6-2.1l22.6-2.1l22.8-2.2l22.3-2.1l21.2-2.1l20.3-2l18.9-2l17.6-1.9l16.3-1.8l16-1.8l15.7-1.8l15.4-1.8l15.4-1.9l8-1" marker-start="url(#g31)" marker-mid="url(#g31)" marker-end="url(#g31)"/>
<path d="M106.2 545.1l.1-5l.1-5l.1-5l0-5l.1-5l.1-5l.2-5l.1-5l.1-5l.1-5l.1-5l.1-5l.2-5l.1-5l.1-5l.2-5l.1-5l.2-5l.1-5l.1-5l.2-5l.1-5l.2-5l.1-5l.1-5l.2-5l.1-5l.2-5l.2-5l.2-5l.3-5l.3-5l.4-5l.7-5l1.1-4.9l1.4-4.8l1.7-4.7l1.7-4.8l1.8-4.6l2-4.7l1.8-4.6l1.8-4.7l1.7-4.8l1.7-4.7l1.6-4.8l1.7-4.7l1.5-4.8l1.6-4.8l1.5-4.8l1.4-4.8l1.4-4.8l1.3-4.9l1.4-4.8l1.2-4.9l1.2-4.9l1.1-4.9l1-4.9l.9-5l.8-4.9l1-5l1-4.9l1.2-4.9l1.3-4.8l1.4-4.9l1.5-4.8l1.5-4.8l1.7-4.7l1.9-4.7l2.2-4.5l2.7-4.3l2.1-2.8l1.9-2.2l2.1-2.1l2.4-2.2l2.7-2.1l3.1-2.2l3.5-2.1l3.9-2.2l4.3-2.1l4.5-2.2l4.5-2.1l3.6-1.6l4.4-2l4.7-1.9l4.7-2l4.9-1.8l4.9-2l4.9-1.8l4.6-1.5l5.1-1.4l7.2-1.7l9.7-1.9l11.2-2l12.2-2.1l13.5-2l14.7-2.1l17-2.1l19.3-2.2l22.1-2.2l21.6-2.4l18.9-2.2l18.6-2.2l19.3-2l19.9-2l20.9-1.9l22.3-2.1l22.6-2.1l22.7-2.1l22.7-2.2l22.4-2.1l21.1-2l20.3-2.1l19-2l17.5-1.9l16.4-1.8l16-1.8l15.7-1.8l15.4-1.8l15.4-1.9l8.2-1" marker-start="url(#g32)" marker-mid="url(#g32)" marker-end="url(#g32)"/>
<path d="M106.2 545.1l.1-5l.1-5l.1-5l0-5l.1-5l.1-5l.2-5l.1-5l.1-5l.1-5l.1-5l.1-5l.2-5l.1-5l.1-5l.2-5l.1-5l.2-5l.1-5l.1-5l.2-5l.1-5l.1-5l.2-5l.1-5l.2-5l.1-5l.2-5l.2-5l.2-5l.3-5l.3-5l.4-5l.8-5l1-4.9l1.5-4.8l1.7-4.7l1.7-4.7l1.8-4.7l2-4.6l1.9-4.7l1.7-4.7l1.7-4.7l1.8-4.7l1.6-4.8l1.7-4.7l1.6-4.8l1.5-4.8l1.5-4.8l1.4-4.8l1.5-4.8l1.3-4.9l1.4-4.8l1.2-4.9l1.2-4.9l1.2-4.9l1-4.9l.8-5l.9-4.9l.9-5l1.1-4.9l1.2-4.9l1.3-4.8l1.4-4.9l1.5-4.8l1.5-4.8l1.7-4.7l1.9-4.7l2.3-4.5l2.6-4.3l2.2-2.9l1.9-2.2l2.1-2.1l2.5-2.2l2.7-2.1l3-2.2l3.5-2.1l4-2.2l4.3-2.1l4.5-2.2l4.5-2.1l3-1.4l4.5-2l4.6-1.9l4.8-2l4.8-1.9l4.9-1.9l4.9-1.8l4.6-1.6l5.2-1.5l7.2-1.6l9.7-1.9l11.2-2.1l12.2-2l13.5-2.1l14.7-2l16.9-2.1l19.4-2.2l22.1-2.3l21.6-2.3l19-2.3l18.5-2.1l19.4-2.1l19.8-1.9l21-2l22.3-2.1l22.5-2.1l22.7-2.1l22.8-2.1l22.4-2.2l21.1-2l20.3-2.1l19-2l17.6-1.9l16.3-1.8l16-1.8l15.7-1.8l15.4-1.8l15.5-1.8l8.3-1.1" marker-start="url(#g33)" marker-mid="url(#g33)" marker-end="url(#g33)"/>
<path d="M106.2 545.1l.1-5l.1-5l.1-5l0-5l.1-5l.1-5l.2-5l.1-5l.1-5l.1-5l.1-5l.1-5l.2-5l.1-5l.1-5l.2-5l.1-5l.2-5l.1-5l.1-5l.2-5l.1-5l.1-5l.2-5l.1-5l.2-5l.1-5l.2-5l.2-5l.2-5l.3-5l.3-5l.4-5l.8-5l1-4.9l1.5-4.8l1.7-4.7l1.8-4.7l1.9-4.7l1.9-4.6l1.9-4.7l1.8-4.7l1.8-4.7l1.7-4.7l1.7-4.7l1.6-4.8l1.6-4.7l1.6-4.8l1.5-4.8l1.5-4.8l1.4-4.8l1.4-4.9l1.3-4.8l1.3-4.9l1.2-4.9l1.2-4.9l1-4.9l.9-4.9l.8-5l1-4.9l1.1-4.9l1.2-4.9l1.3-4.9l1.4-4.8l1.5-4.8l1.5-4.8l1.7-4.8l1.9-4.6l2.3-4.5l2.6-4.3l2.3-3.1l1.9-2.2l2.2-2.1l2.4-2.2l2.7-2.1l3.1-2.2l3.5-2.1l4-2.2l4.4-2.1l4.4-2.2l4.5-2.1l6.8-3.1l4.7-1.9l4.7-2l4.9-1.9l4.9-2l4.9-1.9l4.6-1.6l5.1-1.5l7.2-1.6l9.7-2l11.2-2l12.3-2.1l13.5-2.1l14.7-2l17-2.1l19.3-2.2l22.2-2.2l21.5-2.4l19-2.2l18.5-2.2l19.4-2l19.9-2l21-2l22.2-2.1l22.6-2.1l22.7-2.1l22.8-2.1l22.4-2.1l21.2-2.1l20.3-2.1l19-2l17.5-1.9l16.4-1.8l16-1.8l15.7-1.8l15.4-1.8l15.5-1.8l8.5-1.1" marker-start="url(#g34)" marker-mid="url(#g34)" marker-end="url(#g34)"/>
<path d="M106.2 545.1l.1-5l.1-5l.1-5l0-5l.1-5l.1-5l.2-5l.1-5l.1-5l.1-5l.1-5l.1-5l.2-5l.1-5l.1-5l.2-5l.1-5l.2-5l.1-5l.1-5l.2-5l.1-5l.1-5l.2-5l.1-5l.2-5l.1-5l.2-5l.2-5l.2-5l.3-5l.3-5l.4-5l.8-5l1-4.9l1.6-4.8l1.7-4.7l1.7-4.7l1.9-4.6l2-4.6l1.9-4.7l1.8-4.7l1.8-4.7l1.7-4.7l1.7-4.7l1.7-4.8l1.6-4.7l1.6-4.8l1.5-4.8l1.5-4.8l1.4-4.8l1.4-4.8l1.4-4.9l1.3-4.8l1.2-4.9l1.2-4.9l1-4.9l.9-4.9l.9-5l.9-4.9l1.1-4.9l1.2-4.9l1.3-4.9l1.4-4.8l1.5-4.8l1.6-4.8l1.6-4.7l1.9-4.7l2.2-4.5l2.7-4.3l2.4-3.3l1.9-2.2l2.2-2.1l2.5-2.2l2.7-2.1l3.1-2.2l3.5-2.1l4-2.2l4.4-2.1l4.4-2.2l4.6-2.1l6.3-2.8l4.6-2l4.8-2l4.8-2l4.9-1.9l4.9-1.9l4.7-1.7l5.1-1.5l7.2-1.7l9.7-1.9l11.2-2.1l12.2-2.1l13.6-2l14.7-2.1l16.9-2.1l19.4-2.2l22.2-2.2l21.5-2.3l19-2.3l18.6-2.1l19.3-2.1l19.9-2l21-2l22.3-2l22.6-2.1l22.7-2.2l22.8-2.1l22.3-2.1l21.3-2.1l20.3-2l18.9-2l17.6-1.9l16.4-1.8l16-1.8l15.7-1.9l15.4-1.8l15.5-1.8l8.6-1.1" marker-start="url(#g35)" marker-mid="url(#g35)" marker-end="url(#g35)"/>
<path d="M106.2 545.1l.1-5l.1-5l.1-5l0-5l.1-5l.1-5l.2-5l.1-5l.1-5l.1-5l.1-5l.1-5l.2-5l.1-5l.1-5l.2-5l.1-5l.2-5l.1-5l.1-5l.2-5l.1-5l.1-5l.2-5l.1-5l.2-5l.1-5l.2-5l.2-5l.2-5l.3-5l.3-5l.4-5l.8-5l1.1-4.9l1.5-4.8l1.7-4.7l1.8-4.7l1.9-4.6l2-4.6l1.9-4.7l1.8-4.7l1.8-4.7l1.7-4.7l1.8-4.7l1.6-4.8l1.7-4.7l1.5-4.8l1.6-4.8l1.5-4.8l1.4-4.8l1.4-4.8l1.4-4.9l1.3-4.8l1.2-4.9l1.1-4.9l1.1-4.9l.9-4.9l.9-5l.9-4.9l1.1-4.9l1.2-4.9l1.3-4.9l1.4-4.8l1.5-4.8l1.6-4.8l1.6-4.7l1.9-4.7l2.3-4.5l2.6-4.3l2.5-3.3l1.9-2.2l2.2-2.1l2.5-2.2l2.7-2.1l3.1-2.2l3.5-2.1l4.1-2.2l4.3-2.1l4.4-2.2l4.6-2.1l6-2.7l4.6-2l4.8-2l4.8-1.9l5-2l4.8-1.9l4.7-1.7l5.1-1.5l7.2-1.7l9.7-2l11.2-2.1l12.3-2l13.5-2.1l14.7-2.1l17-2.1l19.3-2.1l22.2-2.3l21.6-2.3l19-2.2l18.5-2.2l19.4-2.1l19.9-1.9l21-2.1l22.3-2l22.5-2.1l22.8-2.2l22.8-2.1l22.3-2.1l21.3-2.1l20.3-2l19-2l17.5-1.9l16.4-1.8l16-1.8l15.7-1.8l15.5-1.8l15.4-1.9l8.8-1.1" marker-start="url(#g36)" marker-mid="url(#g36)" marker-end="url(#g36)"/>
<path d="M106.2 545.1l.1-5l.1-5l.1-5l0-5l.1-5l.1-5l.2-5l.1-5l.1-5l.1-5l.1-5l.1-5l.2-5l.1-5l.1-5l.2-5l.1-5l.2-5l.1-5l.1-5l.2-5l.1-5l.1-5l.2-5l.1-5l.2-5l.1-5l.2-5l.2-5l.2-5l.3-5l.3-5l.4-5l.8-5l1.1-4.9l1.5-4.8l1.8-4.7l1.8-4.7l1.9-4.6l2-4.6l2-4.6l1.8-4.7l1.8-4.7l1.8-4.7l1.7-4.7l1.7-4.8l1.7-4.7l1.6-4.8l1.5-4.8l1.5-4.8l1.5-4.8l1.4-4.8l1.4-4.8l1.3-4.9l1.2-4.8l1.2-4.9l1-4.9l.9-5l.9-4.9l1-5l1.1-4.9l1.2-4.8l1.3-4.9l1.4-4.8l1.5-4.8l1.6-4.7l1.7-4.8l1.9-4.6l2.2-4.5l2.6-4.3l2.7-3.6l1.9-2.2l2.2-2.1l2.5-2.2l2.7-2.1l3.1-2.2l3.6-2.1l4-2.2l4.4-2.1l4.4-2.2l4.6-2.1l5.2-2.4l4.7-2l4.7-2l4.9-2l4.9-2l4.9-1.9l4.6-1.8l5.2-1.5l7.2-1.8l9.7-1.9l11.2-2.1l12.3-2.1l13.5-2.1l14.7-2l17-2.1l19.4-2.2l22.1-2.2l21.6-2.3l19-2.3l18.6-2.1l19.4-2.1l19.9-2l21-2l22.3-2.1l22.6-2.1l22.7-2.1l22.8-2.2l22.4-2.1l21.2-2.1l20.3-2l19-2l17.6-1.9l16.4-1.8l16-1.8l15.8-1.8l15.4-1.8l15.5-1.9l8.9-1.1" marker-start="url(#g37)" marker-mid="url(#g37)" marker-end="url(#g37)"/>
<path d="M106.2 545.1l.1-5l.1-5l.1-5l0-5l.1-5l.1-5l.2-5l.1-5l.1-5l.1-5l.1-5l.1-5l.2-5l.1-5l.1-5l.2-5l.1-5l.2-5l.1-5l.1-5l.2-5l.1-5l.1-5l.2-5l.1-5l.1-5l.2-5l.2-5l.2-5l.2-5l.3-5l.3-5l.4-5l.8-5l1.1-4.9l1.6-4.8l1.8-4.7l1.8-4.7l2-4.6l2-4.6l2-4.6l1.9-4.7l1.8-4.7l1.8-4.7l1.7-4.7l1.7-4.7l1.7-4.8l1.6-4.7l1.6-4.8l1.5-4.8l1.5-4.8l1.4-4.8l1.4-4.8l1.3-4.9l1.3-4.8l1.2-4.9l1-4.9l.9-5l.9-4.9l1-5l1.1-4.9l1.2-4.8l1.4-4.9l1.4-4.8l1.5-4.8l1.6-4.7l1.6-4.8l1.9-4.6l2.3-4.5l2.6-4.3l2.7-3.7l2-2.2l2.2-2.1l2.5-2.2l2.8-2.1l3.1-2.2l3.6-2.1l4-2.2l4.4-2.1l4.5-2.2l4.5-2.1l4.5-2.1l4.6-2l4.8-2l4.9-2l4.9-2l4.9-2l4.6-1.8l5.1-1.6l7.2-1.8l9.8-1.9l11.2-2.1l12.3-2.1l13.5-2.1l14.7-2.1l17-2.1l19.4-2.2l22.2-2.2l21.6-2.3l19-2.2l18.6-2.1l19.4-2.1l19.9-2l21-2.1l22.3-2.1l22.6-2.1l22.7-2.1l22.8-2.2l22.5-2.1l21.2-2l20.3-2.1l19-2l17.6-1.9l16.4-1.8l16-1.8l15.8-1.8l15.4-1.8l15.5-1.9l9.1-1.1" marker-start="url(#g38)" marker-mid="url(#g38)" marker-end="url(#g38)"/>
<path d="M106.2 545.1l.1-5l.1-5l.1-5l0-5l.1-5l.1-5l.2-5l.1-5l.1-5l.1-5l.1-5l.1-5l.2-5l.1-5l.1-5l.2-5l.1-5l.2-5l.1-5l.1-5l.2-5l.1-5l.1-5l.2-5l.1-5l.1-5l.2-5l.2-5l.2-5l.2-5l.3-5l.3-5l.4-5l.8-5l1.1-4.9l1.6-4.8l1.8-4.7l1.8-4.7l2-4.6l2-4.6l2-4.6l1.9-4.6l1.8-4.7l1.8-4.7l1.8-4.7l1.7-4.7l1.7-4.8l1.6-4.7l1.5-4.8l1.6-4.8l1.4-4.8l1.5-4.8l1.4-4.8l1.3-4.9l1.3-4.8l1.2-4.9l1-4.9l1-5l.9-4.9l.9-5l1.1-4.9l1.2-4.8l1.4-4.9l1.4-4.8l1.5-4.8l1.6-4.7l1.7-4.8l1.9-4.6l2.2-4.5l2.6-4.3l2.8-3.8l1.9-2.2l2.3-2.1l2.5-2.2l2.8-2.1l3.1-2.2l3.6-2.1l4-2.2l4.4-2.1l4.5-2.2l4.3-2l4.5-2.1l4.6-2l4.8-2l4.9-2l4.9-2l4.9-2l4.6-1.8l5.2-1.7l7.2-1.7l9.7-2l11.2-2.1l12.3-2.1l13.5-2.1l14.8-2.1l16.9-2.1l19.4-2.2l22.2-2.2l21.6-2.3l19-2.2l18.6-2.1l19.4-2.1l19.9-2l21-2.1l22.3-2.1l22.6-2.1l22.8-2.1l22.8-2.2l22.4-2.1l21.3-2l20.3-2.1l19-2l17.6-1.9l16.4-1.8l16-1.8l15.8-1.8l15.4-1.8l15.5-1.8l9.2-1.2" marker-start="url(#g39)" marker-mid="url(#g39)" marker-end="url(#g39)"/>
<path d="M106.2 545.1l.1-5l.1-5l.1-5l0-5l.1-5l.1-5l.2-5l.1-5l.1-5l.1-5l.1-5l.1-5l.2-5l.1-5l.1-5l.2-5l.1-5l.2-5l.1-5l.1-5l.2-5l.1-5l.1-5l.2-5l.1-5l.1-5l.2-5l.2-5l.2-5l.2-5l.3-5l.3-5l.4-5l.8-5l1.1-4.9l1.6-4.7l1.8-4.7l1.9-4.7l1.9-4.6l2.1-4.6l2-4.6l1.9-4.7l1.8-4.7l1.8-4.7l1.8-4.7l1.7-4.7l1.7-4.7l1.7-4.8l1.5-4.7l1.6-4.8l1.5-4.8l1.4-4.8l1.4-4.9l1.4-4.8l1.2-4.9l1.2-4.9l1.1-4.9l.9-4.9l.9-5l1-4.9l1.1-4.9l1.2-4.9l1.4-4.8l1.4-4.8l1.5-4.8l1.6-4.8l1.7-4.7l1.9-4.7l2.2-4.5l2.6-4.3l2.9-3.8l1.9-2.2l2.2-2.1l2.6-2.2l2.8-2.1l3.1-2.2l3.6-2.1l4.1-2.2l4.4-2.1l4.4-2.2l3.9-1.8l4.5-2.1l4.7-2l4.7-2.1l4.9-2l4.9-2l4.9-2l4.7-1.8l5.1-1.7l7.2-1.8l9.7-2l11.3-2.1l12.2-2.1l13.6-2.1l14.7-2l17-2.2l19.4-2.1l22.2-2.2l21.6-2.3l19-2.2l18.6-2.2l19.4-2.1l19.9-2l21-2.1l22.3-2.1l22.7-2.1l22.7-2.1l22.8-2.1l22.5-2.2l21.2-2l20.3-2.1l19.1-2l17.6-1.9l16.3-1.8l16.1-1.8l15.7-1.8l15.5-1.8l15.5-1.8l9.3-1.2" marker-start="url(#g40)" marker-mid="url(#g40)" marker-end="url(#g40)"/>
<path d="M106.2 545.1l.1-5l.1-5l.1-5l0-5l.1-5l.1-5l.2-5l.1-5l.1-5l.1-5l.1-5l.1-5l.2-5l.1-5l.1-5l.2-5l.1-5l.2-5l.1-5l.1-5l.2-5l.1-5l.1-5l.2-5l.1-5l.1-5l.2-5l.2-5l.2-5l.2-5l.3-5l.3-5l.4-5l.8-5l1.2-4.9l1.5-4.7l1.9-4.7l1.8-4.7l2-4.6l2.1-4.6l2-4.6l1.9-4.7l1.9-4.7l1.8-4.7l1.7-4.7l1.8-4.7l1.7-4.7l1.6-4.8l1.6-4.7l1.6-4.8l1.4-4.8l1.5-4.8l1.4-4.8l1.4-4.9l1.2-4.8l1.2-4.9l1.1-4.9l.9-5l.9-4.9l1-5l1.1-4.9l1.2-4.8l1.4-4.9l1.4-4.8l1.6-4.8l1.6-4.7l1.6-4.8l1.9-4.6l2.3-4.5l2.6-4.3l2.9-3.9l1.9-2.2l2.2-2.1l2.6-2.2l2.8-2.1l3.1-2.2l3.6-2.1l4.1-2.2l4.4-2.1l4.5-2.2l3.6-1.7l4.5-2l4.6-2.1l4.8-2l4.8-2.1l5-2l4.8-2l4.7-1.9l5.1-1.6l7.2-1.9l9.8-2l11.2-2.1l12.3-2l13.5-2.2l14.8-2l16.9-2.1l19.4-2.2l22.2-2.2l21.7-2.3l19-2.2l18.6-2.1l19.4-2.2l19.9-2l21-2l22.3-2.1l22.7-2.2l22.7-2.1l22.8-2.1l22.5-2.1l21.2-2.1l20.4-2.1l19-2l17.6-1.9l16.4-1.8l16-1.8l15.8-1.8l15.4-1.8l15.5-1.8l9.4-1.2" marker-start="url(#g41)" marker-mid="url(#g41)" marker-end="url(#g41)"/>
<path d="M106.2 545.1l.1-5l.1-5l.1-5l0-5l.1-5l.1-5l.2-5l.1-5l.1-5l.1-5l.1-5l.1-5l.2-5l.1-5l.1-5l.2-5l.1-5l.2-5l.1-5l.1-5l.2-5l.1-5l.1-5l.2-5l.1-5l.1-5l.2-5l.2-5l.2-5l.2-5l.3-5l.3-5l.4-5l.8-5l1.2-4.9l1.6-4.7l1.8-4.7l1.9-4.7l2-4.6l2.1-4.5l2-4.6l1.9-4.7l1.9-4.6l1.8-4.7l1.8-4.7l1.7-4.7l1.7-4.8l1.7-4.7l1.6-4.8l1.6-4.8l1.5-4.8l1.4-4.8l1.4-4.8l1.4-4.8l1.3-4.9l1.2-4.9l1.1-4.9l.9-4.9l.9-5l1-4.9l1.1-4.9l1.2-4.9l1.4-4.8l1.5-4.8l1.5-4.8l1.6-4.8l1.7-4.7l1.9-4.7l2.2-4.5l2.6-4.3l3-4l1.9-2.2l2.3-2.1l2.5-2.2l2.8-2.1l3.2-2.2l3.6-2.1l4.1-2.2l4.4-2.1l4.5-2.2l3.1-1.4l4.5-2.1l4.6-2.1l4.8-2l4.9-2.1l4.9-2l4.9-2.1l4.6-1.8l5.2-1.8l7.2-1.8l9.7-2l11.3-2.1l12.2-2.1l13.6-2.1l14.7-2.1l17-2.1l19.4-2.2l22.2-2.2l21.7-2.2l19-2.2l18.6-2.2l19.4-2.1l19.9-2.1l21-2l22.4-2.1l22.6-2.1l22.8-2.2l22.8-2.1l22.4-2.1l21.3-2.1l20.3-2l19.1-2l17.6-1.9l16.4-1.8l16-1.8l15.8-1.9l15.4-1.8l15.5-1.8l9.5-1.2" marker-start="url(#g42)" marker-mid="url(#g42)" marker-end="url(#g42)"/>
<path d="M106.2 545.1l.1-5l.1-5l.1-5l0-5l.1-5l.1-5l.2-5l.1-5l.1-5l.1-5l.1-5l.1-5l.2-5l.1-5l.1-5l.2-5l.1-5l.2-5l.1-5l.1-5l.2-5l.1-5l.1-5l.2-5l.1-5l.1-5l.2-5l.2-5l.2-5l.2-5l.3-5l.3-5l.4-5l.8-5l1.2-4.9l1.6-4.7l1.9-4.7l1.8-4.6l2.1-4.6l2.1-4.6l2-4.6l2-4.6l1.8-4.7l1.9-4.7l1.8-4.7l1.7-4.7l1.8-4.7l1.6-4.7l1.7-4.8l1.5-4.8l1.6-4.8l1.4-4.8l1.5-4.8l1.3-4.8l1.3-4.9l1.3-4.9l1-4.9l1-4.9l.9-5l1-4.9l1.1-4.9l1.2-4.9l1.4-4.8l1.5-4.8l1.5-4.8l1.6-4.8l1.7-4.7l1.9-4.7l2.2-4.5l2.6-4.3l3-4l2-2.2l2.2-2.1l2.5-2.2l2.9-2.1l3.1-2.2l3.6-2.1l4.1-2.2l4.4-2.1l4.5-2.2l7.2-3.3l4.7-2.1l4.7-2.1l4.9-2.1l5-2l4.8-2.1l4.7-1.9l5.1-1.8l7.2-1.8l9.8-2l11.2-2.2l12.3-2.1l13.6-2.1l14.7-2.1l17-2.1l19.4-2.2l22.2-2.1l21.7-2.3l19-2.2l18.6-2.1l19.4-2.2l20-2l21-2.1l22.3-2.1l22.7-2.1l22.8-2.2l22.8-2.1l22.4-2.1l21.3-2.1l20.4-2l19-2l17.6-1.9l16.4-1.8l16.1-1.8l15.7-1.8l15.5-1.8l15.5-1.9l9.7-1.2" marker-start="url(#g43)" marker-mid="url(#g43)" marker-end="url(#g43)"/>
<path d="M106.2 545.1l.1-5l.1-5l.1-5l0-5l.1-5l.1-5l.2-5l.1-5l.1-5l.1-5l.1-5l.1-5l.2-5l.1-5l.1-5l.2-5l.1-5l.2-5l.1-5l.1-5l.2-5l.1-5l.1-5l.2-5l.1-5l.1-5l.2-5l.2-5l.2-5l.2-5l.3-5l.3-5l.4-5l.8-5l1.1-4.9l1.6-4.8l1.8-4.7l1.8-4.7l2-4.6l2-4.6l2-4.6l1.8-4.7l1.9-4.7l1.7-4.7l1.8-4.7l1.7-4.7l1.7-4.8l1.6-4.7l1.6-4.8l1.5-4.8l1.5-4.8l1.4-4.8l1.4-4.8l1.3-4.9l1.3-4.8l1.1-4.9l1.1-4.9l.9-5l.9-4.9l1-5l1.1-4.9l1.2-4.8l1.3-4.9l1.5-4.8l1.5-4.8l1.5-4.7l1.7-4.8l1.9-4.6l2.3-4.5l2.6-4.3l2.7-3.7l1.9-2.2l2.3-2.1l2.4-2.2l2.8-2.1l3.1-2.2l3.6-2.1l4.1-2.2l4.4-2.1l4.4-2.2l4.6-2.1l4.5-2.1l4.6-2l4.8-2l4.9-2l4.9-2l4.9-2l4.6-1.8l5.1-1.6l7.2-1.8l9.8-1.9l11.2-2.1l12.3-2.1l13.5-2.1l14.7-2.1l17-2.1l19.4-2.2l22.2-2.2l21.6-2.3l19-2.2l18.5-2.1l19.5-2.1l19.8-2l21.1-2.1l22.3-2.1l22.6-2.1l22.7-2.1l22.8-2.2l22.4-2.1l21.3-2l20.3-2.1l19-2l17.6-1.9l16.4-1.8l16-1.8l15.8-1.8l15.4-1.8l15.5-1.9l9.1-1.1" marker-start="url(#g44)" marker-mid="url(#g44)" marker-end="url(#g44)"/>
<path d="M106.2 545.1l.1-5l.1-5l.1-5l0-5l.1-5l.1-5l.2-5l.1-5l.1-5l.1-5l.1-5l.1-5l.2-5l.1-5l.1-5l.2-5l.1-5l.2-5l.1-5l.1-5l.2-5l.1-5l.1-5l.2-5l.1-5l.1-5l.2-5l.2-5l.2-5l.2-5l.3-5l.3-5l.4-5l.8-5l1.1-4.9l1.6-4.8l1.8-4.7l1.8-4.7l2-4.6l2-4.6l2-4.6l1.9-4.7l1.8-4.7l1.8-4.7l1.7-4.7l1.7-4.7l1.7-4.8l1.6-4.7l1.6-4.8l1.5-4.8l1.5-4.8l1.4-4.8l1.4-4.8l1.3-4.9l1.3-4.8l1.2-4.9l1-4.9l1-5l.9-4.9l.9-5l1.1-4.9l1.2-4.8l1.4-4.9l1.4-4.8l1.5-4.8l1.6-4.7l1.7-4.8l1.9-4.6l2.2-4.5l2.6-4.3l2.8-3.7l1.9-2.2l2.2-2.1l2.5-2.2l2.8-2.1l3.1-2.2l3.6-2.1l4-2.2l4.4-2.1l4.5-2.2l4.5-2.1l4.5-2l4.6-2.1l4.8-2l4.9-2l4.9-2l4.9-2l4.6-1.8l5.1-1.6l7.3-1.8l9.7-1.9l11.2-2.1l12.3-2.1l13.5-2.1l14.7-2.1l17-2.1l19.4-2.2l22.2-2.2l21.6-2.3l19-2.2l18.6-2.1l19.4-2.1l19.9-2l21-2.1l22.3-2.1l22.6-2.1l22.7-2.1l22.8-2.2l22.5-2.1l21.2-2l20.3-2.1l19-2l17.6-1.9l16.4-1.8l16.1-1.8l15.7-1.8l15.4-1.8l15.5-1.9l9.1-1.1" marker-start="url(#g45)" marker-mid="url(#g45)" marker-end="url(#g45)"/>
<path d="M106.2 545.1l.1-5l.1-5l.1-5l0-5l.1-5l.1-5l.2-5l.1-5l.1-5l.1-5l.1-5l.1-5l.2-5l.1-5l.1-5l.2-5l.1-5l.2-5l.1-5l.1-5l.2-5l.1-5l.1-5l.2-5l.1-5l.1-5l.2-5l.2-5l.2-5l.2-5l.3-5l.3-5l.4-5l.8-5l1.1-4.9l1.6-4.8l1.8-4.7l1.8-4.7l2-4.6l2.1-4.6l2-4.6l1.8-4.6l1.9-4.7l1.8-4.7l1.7-4.7l1.7-4.7l1.7-4.8l1.6-4.7l1.6-4.8l1.5-4.8l1.5-4.8l1.4-4.8l1.5-4.8l1.3-4.9l1.3-4.8l1.1-4.9l1.1-4.9l.9-5l.9-4.9l1-5l1.1-4.9l1.2-4.8l1.4-4.9l1.4-4.8l1.5-4.8l1.6-4.7l1.7-4.8l1.9-4.6l2.2-4.5l2.6-4.3l2.8-3.8l1.9-2.2l2.3-2.1l2.5-2.2l2.8-2.1l3.1-2.2l3.6-2.1l4-2.2l4.4-2.1l4.5-2.2l4.2-2l4.5-2l4.6-2.1l4.8-2l4.9-2l4.9-2l4.9-2l4.6-1.8l5.2-1.7l7.2-1.7l9.7-2l11.2-2.1l12.3-2.1l13.5-2.1l14.8-2.1l16.9-2.1l19.4-2.2l22.2-2.2l21.6-2.2l19-2.3l18.6-2.1l19.4-2.1l19.9-2l21-2.1l22.4-2.1l22.6-2.1l22.7-2.1l22.8-2.2l22.5-2.1l21.2-2l20.3-2.1l19-2l17.6-1.9l16.4-1.8l16.1-1.8l15.7-1.8l15.4-1.8l15.5-1.8l9.2-1.2" marker-start="url(#g46)" marker-mid="url(#g46)" marker-end="url(#g46)"/>
<path d="M106.2 545.1l.1-5l.1-5l.1-5l0-5l.1-5l.1-5l.2-5l.1-5l.1-5l.1-5l.1-5l.1-5l.2-5l.1-5l.1-5l.2-5l.1-5l.2-5l.1-5l.1-5l.2-5l.1-5l.1-5l.2-5l.1-5l.1-5l.2-5l.2-5l.2-5l.2-5l.3-5l.3-5l.4-5l.8-5l1.1-4.9l1.6-4.7l1.8-4.7l1.9-4.7l2-4.6l2.1-4.6l2-4.6l1.9-4.7l1.8-4.7l1.8-4.7l1.8-4.7l1.7-4.7l1.7-4.7l1.7-4.8l1.6-4.7l1.5-4.8l1.5-4.8l1.4-4.8l1.5-4.9l1.3-4.8l1.3-4.9l1.2-4.9l1-4.9l1-4.9l.9-5l.9-4.9l1.1-4.9l1.3-4.9l1.3-4.8l1.5-4.8l1.5-4.8l1.6-4.8l1.7-4.7l1.9-4.7l2.2-4.5l2.6-4.3l2.9-3.8l1.9-2.2l2.3-2.1l2.5-2.2l2.8-2.1l3.1-2.2l3.6-2.1l4.1-2.2l4.4-2.1l4.5-2.2l3.7-1.7l4.4-2.1l4.7-2l4.8-2.1l4.8-2l5-2l4.8-2l4.7-1.9l5.1-1.7l7.2-1.8l9.8-2l11.2-2.1l12.3-2.1l13.5-2.1l14.7-2l17-2.1l19.4-2.2l22.2-2.2l21.6-2.3l19-2.2l18.6-2.2l19.5-2.1l19.9-2l21-2.1l22.3-2l22.6-2.2l22.8-2.1l22.8-2.1l22.4-2.1l21.3-2.1l20.3-2.1l19-2l17.6-1.9l16.4-1.8l16.1-1.8l15.7-1.8l15.5-1.8l15.5-1.8l9.3-1.2" marker-start="url(#g47)" marker-mid="url(#g47)" marker-end="url(#g47)"/>
<path d="M106.2 545.1l.1-5l.1-5l.1-5l0-5l.1-5l.1-5l.2-5l.1-5l.1-5l.1-5l.1-5l.1-5l.2-5l.1-5l.1-5l.2-5l.1-5l.2-5l.1-5l.1-5l.2-5l.1-5l.1-5l.2-5l.1-5l.1-5l.2-5l.2-5l.2-5l.2-5l.3-5l.3-5l.4-5l.8-5l1.1-4.9l1.6-4.7l1.8-4.7l1.9-4.7l1.9-4.6l2.1-4.6l2-4.6l1.9-4.7l1.8-4.7l1.9-4.7l1.7-4.7l1.7-4.7l1.7-4.7l1.7-4.8l1.6-4.7l1.5-4.8l1.5-4.8l1.4-4.8l1.4-4.9l1.4-4.8l1.2-4.9l1.2-4.9l1.1-4.9l.9-4.9l.9-5l1-4.9l1.1-4.9l1.2-4.9l1.4-4.8l1.4-4.8l1.5-4.8l1.6-4.8l1.7-4.7l1.9-4.7l2.2-4.5l2.6-4.3l2.9-3.8l1.9-2.2l2.3-2.1l2.5-2.2l2.8-2.1l3.1-2.2l3.6-2.1l4.1-2.2l4.4-2.1l4.4-2.2l3.9-1.8l4.5-2.1l4.7-2l4.7-2.1l4.9-2l4.9-2l4.9-2l4.7-1.8l5.1-1.7l7.2-1.8l9.7-2l11.3-2.1l12.2-2.1l13.6-2.1l14.7-2l17-2.2l19.4-2.1l22.2-2.2l21.6-2.3l19-2.2l18.6-2.2l19.4-2.1l19.9-2l21-2.1l22.3-2.1l22.7-2.1l22.7-2.1l22.8-2.1l22.5-2.2l21.2-2l20.4-2.1l19-2l17.6-1.9l16.3-1.8l16.1-1.8l15.8-1.8l15.4-1.8l15.5-1.8l9.3-1.2" marker-start="url(#g48)" marker-mid="url(#g48)" marker-end="url(#g48)"/>
<path d="M106.2 545.1l.1-5l.1-5l.1-5l0-5l.1-5l.1-5l.2-5l.1-5l.1-5l.1-5l.1-5l.1-5l.2-5l.1-5l.1-5l.2-5l.1-5l.2-5l.1-5l.1-5l.2-5l.1-5l.1-5l.2-5l.1-5l.1-5l.2-5l.2-5l.2-5l.2-5l.3-5l.3-5l.4-5l.8-5l1.1-4.9l1.6-4.7l1.8-4.7l1.9-4.7l2-4.6l2-4.6l2.1-4.6l1.8-4.7l1.9-4.7l1.8-4.7l1.8-4.7l1.7-4.7l1.7-4.7l1.6-4.8l1.6-4.7l1.6-4.8l1.4-4.8l1.5-4.8l1.4-4.9l1.4-4.8l1.2-4.9l1.2-4.9l1.1-4.9l.9-4.9l.9-5l1-4.9l1.1-4.9l1.2-4.9l1.4-4.8l1.4-4.8l1.5-4.8l1.6-4.8l1.7-4.7l1.9-4.7l2.3-4.5l2.5-4.3l2.9-3.8l2-2.2l2.2-2.1l2.5-2.2l2.8-2.1l3.1-2.2l3.6-2.1l4.1-2.2l4.4-2.1l4.5-2.2l3.7-1.8l4.5-2l4.7-2.1l4.8-2l4.8-2l5-2l4.8-2.1l4.7-1.8l5.1-1.7l7.2-1.8l9.8-2l11.2-2.1l12.2-2.1l13.6-2.1l14.7-2l17-2.2l19.4-2.1l22.2-2.2l21.6-2.3l19-2.2l18.6-2.2l19.4-2.1l19.9-2l21.1-2.1l22.3-2l22.6-2.2l22.8-2.1l22.8-2.1l22.4-2.1l21.3-2.1l20.3-2.1l19-2l17.6-1.9l16.4-1.8l16.1-1.8l15.7-1.8l15.4-1.8l15.6-1.8l9.3-1.2" marker-start="url(#g49)" marker-mid="url(#g49)" marker-end="url(#g49)"/>
<path d="M106.2 545.1l.1-5l.1-5l.1-5l0-5l.1-5l.1-5l.2-5l.1-5l.1-5l.1-5l.1-5l.1-5l.2-5l.1-5l.1-5l.2-5l.1-5l.2-5l.1-5l.1-5l.2-5l.1-5l.1-5l.2-5l.1-5l.1-5l.2-5l.2-5l.2-5l.2-5l.3-5l.3-5l.4-5l.8-5l1.2-4.9l1.5-4.7l1.9-4.7l1.8-4.7l2-4.6l2.1-4.6l2-4.6l1.9-4.7l1.9-4.7l1.8-4.7l1.8-4.7l1.7-4.7l1.7-4.7l1.6-4.8l1.6-4.7l1.6-4.8l1.5-4.8l1.4-4.8l1.4-4.8l1.4-4.9l1.3-4.8l1.2-4.9l1-4.9l1-5l.9-4.9l.9-5l1.1-4.9l1.3-4.8l1.3-4.9l1.5-4.8l1.5-4.8l1.6-4.7l1.7-4.8l1.9-4.6l2.2-4.5l2.6-4.3l2.9-3.9l2-2.2l2.2-2.1l2.5-2.2l2.8-2.1l3.2-2.2l3.6-2.1l4.1-2.2l4.4-2.1l4.4-2.2l3.6-1.6l4.5-2.1l4.6-2.1l4.8-2l4.8-2l5-2.1l4.8-2l4.7-1.8l5.1-1.7l7.2-1.9l9.8-1.9l11.2-2.2l12.3-2l13.5-2.1l14.8-2.1l16.9-2.1l19.4-2.2l22.3-2.2l21.6-2.3l19-2.2l18.6-2.1l19.4-2.2l19.9-2l21-2l22.3-2.1l22.7-2.2l22.7-2.1l22.9-2.1l22.4-2.1l21.2-2.1l20.4-2.1l19-2l17.6-1.9l16.4-1.8l16.1-1.8l15.7-1.8l15.4-1.8l15.6-1.8l9.3-1.2" marker-start="url(#g50)" marker-mid="url(#g50)" marker-end="url(#g50)"/>
<path d="M106.2 545.1l.1-5l.1-5l.1-5l0-5l.1-5l.1-5l.2-5l.1-5l.1-5l.1-5l.1-5l.1-5l.2-5l.1-5l.1-5l.2-5l.1-5l.2-5l.1-5l.1-5l.2-5l.1-5l.1-5l.2-5l.1-5l.1-5l.2-5l.2-5l.2-5l.2-5l.3-5l.3-5l.4-5l.8-5l1.2-4.9l1.5-4.7l1.9-4.7l1.8-4.7l2-4.6l2.1-4.6l2-4.6l1.9-4.7l1.9-4.7l1.8-4.7l1.8-4.7l1.7-4.7l1.7-4.7l1.7-4.8l1.6-4.7l1.5-4.8l1.5-4.8l1.5-4.8l1.4-4.8l1.3-4.9l1.3-4.8l1.2-4.9l1.1-4.9l.9-5l.9-4.9l1-5l1.1-4.9l1.2-4.8l1.4-4.9l1.4-4.8l1.6-4.8l1.6-4.7l1.6-4.8l1.9-4.6l2.3-4.5l2.6-4.3l2.9-3.9l1.9-2.2l2.3-2.1l2.5-2.2l2.8-2.1l3.1-2.2l3.6-2.1l4.1-2.2l4.4-2.1l4.5-2.2l3.5-1.6l4.5-2.1l4.6-2l4.8-2.1l4.8-2l5-2l4.9-2.1l4.6-1.8l5.1-1.7l7.3-1.8l9.7-2l11.2-2.1l12.3-2.1l13.5-2.1l14.8-2.1l17-2.1l19.4-2.2l22.2-2.2l21.6-2.3l19-2.2l18.6-2.1l19.4-2.1l19.9-2.1l21-2l22.4-2.1l22.6-2.2l22.8-2.1l22.8-2.1l22.4-2.1l21.3-2.1l20.3-2.1l19-2l17.6-1.9l16.4-1.8l16.1-1.8l15.7-1.8l15.5-1.8l15.5-1.8l9.4-1.2" marker-start="url(#g51)" marker-mid="url(#g51)" marker-end="url(#g51)"/>
<path d="M106.2 545.1l.1-5l.1-5l.1-5l0-5l.1-5l.1-5l.2-5l.1-5l.1-5l.1-5l.1-5l.1-5l.2-5l.1-5l.1-5l.2-5l.1-5l.2-5l.1-5l.1-5l.2-5l.1-5l.1-5l.2-5l.1-5l.1-5l.2-5l.2-5l.2-5l.2-5l.3-5l.3-5l.4-5l.8-5l1.2-4.9l1.5-4.7l1.9-4.7l1.8-4.7l2-4.6l2.1-4.6l2.1-4.6l1.9-4.7l1.8-4.7l1.8-4.7l1.8-4.7l1.7-4.7l1.7-4.7l1.7-4.8l1.6-4.7l1.5-4.8l1.5-4.8l1.5-4.8l1.4-4.8l1.3-4.9l1.3-4.8l1.2-4.9l1.1-4.9l.9-5l1-4.9l.9-5l1.1-4.9l1.3-4.8l1.3-4.9l1.5-4.8l1.5-4.8l1.6-4.7l1.7-4.8l1.9-4.6l2.2-4.5l2.6-4.3l2.9-3.9l2-2.2l2.2-2.1l2.5-2.2l2.8-2.1l3.2-2.2l3.6-2.1l4.1-2.2l4.4-2.1l4.4-2.2l3.5-1.6l4.5-2.1l4.6-2l4.8-2.1l4.8-2l5-2l4.9-2.1l4.6-1.8l5.1-1.7l7.3-1.8l9.7-2l11.2-2.1l12.3-2.1l13.5-2.1l14.8-2.1l17-2.1l19.4-2.2l22.2-2.2l21.6-2.3l19-2.2l18.6-2.1l19.4-2.1l19.9-2.1l21-2l22.4-2.1l22.6-2.2l22.8-2.1l22.8-2.1l22.4-2.1l21.3-2.1l20.3-2.1l19-2l17.6-1.9l16.4-1.8l16.1-1.8l15.7-1.8l15.5-1.8l15.5-1.8l9.4-1.2" marker-start="url(#g52)" marker-mid="url(#g52)" marker-end="url(#g52)"/>
<path d="M106.2 545.1l.1-5l.1-5l.1-5l0-5l.1-5l.1-5l.2-5l.1-5l.1-5l.1-5l.1-5l.1-5l.2-5l.1-5l.1-5l.2-5l.1-5l.2-5l.1-5l.1-5l.2-5l.1-5l.1-5l.2-5l.1-5l.1-5l.2-5l.2-5l.2-5l.2-5l.3-5l.3-5l.4-5l.8-5l1.2-4.9l1.6-4.7l1.8-4.7l1.9-4.7l2-4.6l2.1-4.5l2-4.6l1.9-4.7l1.9-4.6l1.8-4.7l1.8-4.7l1.7-4.7l1.7-4.8l1.7-4.7l1.6-4.8l1.6-4.8l1.5-4.8l1.4-4.8l1.4-4.8l1.4-4.8l1.3-4.9l1.2-4.9l1.1-4.9l.9-4.9l.9-5l1-4.9l1.1-4.9l1.2-4.9l1.4-4.8l1.5-4.8l1.5-4.8l1.6-4.8l1.7-4.7l1.9-4.7l2.2-4.5l2.6-4.3l3-4l1.9-2.2l2.3-2.1l2.5-2.2l2.8-2.1l3.2-2.2l3.6-2.1l4.1-2.2l4.4-2.1l4.5-2.2l3.1-1.4l4.5-2.1l4.6-2.1l4.8-2l4.9-2.1l4.9-2l4.9-2.1l4.6-1.8l5.2-1.8l7.2-1.8l9.7-2l11.3-2.1l12.2-2.1l13.6-2.1l14.7-2.1l17-2.1l19.4-2.2l22.2-2.2l21.7-2.2l19-2.2l18.6-2.2l19.4-2.1l19.9-2.1l21-2l22.4-2.1l22.6-2.1l22.8-2.2l22.8-2.1l22.4-2.1l21.3-2.1l20.3-2l19.1-2l17.6-1.9l16.4-1.8l16-1.8l15.8-1.9l15.4-1.8l15.5-1.8l9.5-1.2" marker-start="url(#g53)" marker-mid="url(#g53)" marker-end="url(#g53)"/>
<path d="M106.2 545.1l.1-5l.1-5l.1-5l0-5l.1-5l.1-5l.2-5l.1-5l.1-5l.1-5l.1-5l.1-5l.2-5l.1-5l.1-5l.2-5l.1-5l.2-5l.1-5l.1-5l.2-5l.1-5l.1-5l.2-5l.1-5l.1-5l.2-5l.2-5l.2-5l.2-5l.3-5l.3-5l.4-5l.8-5l1.2-4.9l1.6-4.7l1.8-4.7l1.9-4.7l2-4.6l2.1-4.5l2.1-4.6l1.9-4.7l1.8-4.6l1.9-4.7l1.8-4.7l1.7-4.7l1.7-4.8l1.7-4.7l1.6-4.8l1.6-4.8l1.5-4.8l1.5-4.8l1.4-4.8l1.4-4.8l1.2-4.9l1.3-4.9l1-4.9l1-4.9l.9-5l1-4.9l1.1-4.9l1.2-4.9l1.4-4.8l1.4-4.8l1.6-4.8l1.6-4.8l1.7-4.7l1.9-4.7l2.2-4.5l2.6-4.3l3-4l2-2.2l2.2-2.1l2.5-2.2l2.9-2.1l3.1-2.2l3.7-2.1l4.1-2.2l4.4-2.1l4.4-2.2l7.4-3.4l4.6-2.1l4.8-2l4.9-2.1l4.9-2l4.9-2.1l4.7-1.9l5.1-1.7l7.2-1.9l9.7-2l11.3-2.1l12.3-2.1l13.5-2.1l14.8-2.1l17-2.1l19.4-2.2l22.2-2.2l21.6-2.2l19-2.2l18.6-2.2l19.5-2.1l19.9-2l21-2.1l22.3-2.1l22.7-2.1l22.8-2.2l22.8-2.1l22.4-2.1l21.3-2.1l20.3-2l19.1-2l17.6-1.9l16.4-1.8l16-1.8l15.8-1.8l15.4-1.8l15.6-1.9l9.5-1.2" marker-start="url(#g54)" marker-mid="url(#g54)" marker-end="url(#g54)"/>
<path d="M106.2 545.1l.1-5l.1-5l.1-5l0-5l.1-5l.1-5l.2-5l.1-5l.1-5l.1-5l.1-5l.1-5l.2-5l.1-5l.1-5l.2-5l.1-5l.2-5l.1-5l.1-5l.2-5l.1-5l.1-5l.2-5l.1-5l.1-5l.2-5l.2-5l.2-5l.2-5l.3-5l.3-5l.4-5l.8-5l1.2-4.9l1.6-4.7l1.8-4.7l1.9-4.6l2-4.6l2.1-4.6l2.1-4.6l1.9-4.6l1.9-4.7l1.8-4.7l1.8-4.7l1.8-4.7l1.7-4.7l1.7-4.7l1.6-4.8l1.6-4.8l1.5-4.8l1.5-4.8l1.4-4.8l1.4-4.8l1.3-4.9l1.2-4.9l1.1-4.9l.9-4.9l.9-5l1-4.9l1.1-4.9l1.3-4.9l1.3-4.8l1.5-4.8l1.5-4.8l1.6-4.8l1.7-4.7l1.9-4.7l2.2-4.5l2.6-4.3l3-4l2-2.2l2.2-2.1l2.5-2.2l2.9-2.1l3.1-2.2l3.6-2.1l4.1-2.2l4.4-2.1l4.5-2.2l7.3-3.4l4.7-2.1l4.7-2l4.9-2.1l4.9-2l4.9-2.1l4.7-1.9l5.1-1.8l7.2-1.8l9.8-2.1l11.2-2.1l12.3-2.1l13.5-2.1l14.8-2.1l17-2.1l19.4-2.2l22.2-2.2l21.6-2.2l19.1-2.2l18.6-2.2l19.4-2.1l19.9-2l21.1-2.1l22.3-2.1l22.6-2.1l22.8-2.2l22.9-2.1l22.4-2.1l21.2-2.1l20.4-2l19-2l17.7-1.9l16.3-1.8l16.1-1.8l15.8-1.8l15.4-1.8l15.6-1.9l9.6-1.2" marker-start="url(#g55)" marker-mid="url(#g55)" marker-end="url(#g55)"/>
<path d="M106.2 545.1l.1-5l.1-5l.1-5l0-5l.1-5l.1-5l.2-5l.1-5l.1-5l.1-5l.1-5l.1-5l.2-5l.1-5l.1-5l.2-5l.1-5l.2-5l.1-5l.1-5l.2-5l.1-5l.1-5l.2-5l.1-5l.1-5l.2-5l.2-5l.2-5l.2-5l.3-5l.3-5l.4-5l.8-5l1.2-4.9l1.6-4.7l1.9-4.7l1.8-4.6l2.1-4.6l2.1-4.6l2-4.6l2-4.6l1.8-4.7l1.9-4.7l1.8-4.7l1.8-4.7l1.7-4.7l1.7-4.7l1.6-4.8l1.6-4.8l1.5-4.8l1.5-4.8l1.4-4.8l1.4-4.8l1.3-4.9l1.2-4.9l1.1-4.9l.9-4.9l1-5l.9-4.9l1.1-4.9l1.3-4.9l1.3-4.8l1.5-4.8l1.5-4.8l1.7-4.8l1.6-4.7l1.9-4.7l2.3-4.5l2.6-4.3l3-4l1.9-2.2l2.2-2.1l2.6-2.2l2.8-2.1l3.1-2.2l3.7-2.1l4-2.2l4.5-2.1l4.4-2.2l7.2-3.3l4.7-2.1l4.8-2.1l4.8-2l5-2.1l4.8-2.1l4.7-1.9l5.1-1.8l7.2-1.8l9.8-2l11.2-2.2l12.3-2.1l13.6-2.1l14.7-2.1l17-2.1l19.4-2.2l22.2-2.1l21.7-2.3l19-2.2l18.6-2.1l19.4-2.2l20-2l21-2.1l22.3-2.1l22.7-2.1l22.8-2.2l22.8-2.1l22.4-2.1l21.3-2.1l20.4-2l19-2l17.6-1.9l16.4-1.8l16.1-1.8l15.8-1.8l15.4-1.8l15.5-1.9l9.7-1.2" marker-start="url(#g0)" marker-mid="url(#g0)" marker-end="url(#g0)"/>
<path d="M106.2 545.1l.1-5l.1-5l.1-5l0-5l.1-5l.1-5l.2-5l.1-5l.1-5l.1-5l.1-5l.1-5l.2-5l.1-5l.1-5l.2-5l.1-5l.2-5l.1-5l.1-5l.2-5l.1-5l.1-5l.2-5l.1-5l.1-5l.2-5l.2-5l.2-5l.2-5l.3-5l.3-5l.4-5l.8-5l1.2-4.9l1.6-4.7l1.9-4.7l1.8-4.6l2.1-4.6l2.1-4.6l2.1-4.6l1.9-4.6l1.9-4.7l1.8-4.7l1.8-4.7l1.8-4.7l1.7-4.7l1.7-4.7l1.6-4.8l1.6-4.7l1.5-4.8l1.5-4.8l1.4-4.8l1.4-4.9l1.3-4.8l1.3-4.9l1-4.9l1-5l.9-4.9l1-5l1.1-4.9l1.3-4.8l1.3-4.9l1.5-4.8l1.5-4.8l1.6-4.7l1.7-4.8l1.9-4.6l2.3-4.5l2.5-4.3l3-4.1l2-2.1l2.2-2.2l2.5-2.1l2.9-2.2l3.1-2.1l3.6-2.2l4.1-2.1l4.4-2.2l4.5-2.1l7.1-3.4l4.7-2.1l4.8-2l4.8-2.1l5-2l4.8-2.1l4.7-1.9l5.1-1.8l7.3-1.9l9.7-2l11.2-2.1l12.3-2.2l13.6-2.1l14.7-2.1l17-2.1l19.4-2.2l22.3-2.1l21.6-2.3l19-2.2l18.6-2.1l19.5-2.2l19.9-2l21-2.1l22.4-2.1l22.6-2.1l22.8-2.2l22.8-2.1l22.5-2.1l21.3-2.1l20.3-2l19.1-2l17.6-1.9l16.4-1.8l16-1.8l15.8-1.8l15.4-1.8l15.6-1.9l9.7-1.2" marker-start="url(#g1)" marker-mid="url(#g1)" marker-end="url(#g1)"/>
<path d="M106.2 545.1l.1-5l.1-5l.1-5l0-5l.1-5l.1-5l.2-5l.1-5l.1-5l.1-5l.1-5l.1-5l.2-5l.1-5l.1-5l.2-5l.1-5l.2-5l.1-5l.1-5l.2-5l.1-5l.1-5l.2-5l.1-5l.1-5l.2-5l.2-5l.2-5l.2-5l.3-5l.3-5l.4-5l.8-5l1.2-4.9l1.6-4.7l1.9-4.7l1.8-4.6l2.1-4.6l2.1-4.6l2.1-4.6l1.9-4.6l1.9-4.7l1.8-4.7l1.8-4.7l1.8-4.7l1.7-4.7l1.7-4.7l1.6-4.8l1.6-4.7l1.5-4.8l1.5-4.8l1.4-4.8l1.4-4.9l1.3-4.8l1.2-4.9l1.1-4.9l1-5l.9-4.9l1-5l1.1-4.9l1.3-4.8l1.3-4.9l1.5-4.8l1.5-4.8l1.6-4.7l1.7-4.8l1.9-4.6l2.3-4.5l2.5-4.3l3-4.1l2-2.1l2.2-2.2l2.5-2.1l2.9-2.2l3.1-2.1l3.6-2.2l4.1-2.1l4.4-2.2l4.5-2.1l7.1-3.4l4.7-2.1l4.8-2l4.8-2.1l5-2l4.8-2.1l4.7-1.9l5.1-1.8l7.3-1.9l9.7-2l11.2-2.1l12.3-2.2l13.6-2.1l14.7-2.1l17-2.1l19.4-2.2l22.3-2.1l21.6-2.3l19-2.2l18.6-2.1l19.5-2.2l19.9-2l21-2.1l22.4-2.1l22.6-2.1l22.8-2.2l22.8-2.1l22.5-2.1l21.2-2.1l20.4-2l19.1-2l17.6-1.9l16.4-1.8l16-1.8l15.8-1.8l15.4-1.8l15.6-1.9l9.7-1.2" marker-start="url(#g2)" marker-mid="url(#g2)" marker-end="url(#g2)"/>
<path d="M106.2 545.1l.1-5l.1-5l.1-5l0-5l.1-5l.1-5l.2-5l.1-5l.1-5l.1-5l.1-5l.1-5l.2-5l.1-5l.1-5l.2-5l.1-5l.2-5l.1-5l.1-5l.2-5l.1-5l.1-5l.2-5l.1-5l.1-5l.2-5l.2-5l.2-5l.2-5l.3-5l.3-5l.4-5l.9-5l1.1-4.9l1.6-4.7l1.9-4.7l1.9-4.6l2-4.6l2.1-4.6l2.1-4.6l1.9-4.6l1.9-4.7l1.9-4.7l1.8-4.7l1.7-4.7l1.8-4.7l1.6-4.7l1.7-4.8l1.5-4.7l1.6-4.8l1.4-4.8l1.5-4.8l1.4-4.9l1.3-4.8l1.2-4.9l1.1-4.9l1-5l.9-4.9l.9-5l1.1-4.9l1.3-4.8l1.4-4.9l1.4-4.8l1.6-4.8l1.6-4.7l1.7-4.8l1.9-4.6l2.2-4.5l2.6-4.3l3-4.1l1.9-2.1l2.3-2.2l2.5-2.1l2.8-2.2l3.2-2.1l3.6-2.2l4-2.1l4.5-2.2l4.4-2.1l7.1-3.3l4.7-2.1l4.8-2.1l4.8-2.1l5-2l4.9-2.1l4.6-1.9l5.1-1.8l7.3-1.9l9.7-2l11.2-2.1l12.3-2.1l13.6-2.2l14.7-2.1l17-2.1l19.5-2.2l22.2-2.1l21.6-2.3l19-2.2l18.6-2.1l19.5-2.1l19.9-2.1l21-2.1l22.4-2.1l22.6-2.1l22.8-2.2l22.9-2.1l22.4-2.1l21.3-2.1l20.3-2l19.1-2l17.6-1.9l16.4-1.8l16.1-1.8l15.7-1.8l15.5-1.8l15.5-1.9l9.7-1.2" marker-start="url(#g3)" marker-mid="url(#g3)" marker-end="url(#g3)"/>
<path d="M106.2 545.1l.1-5l.1-5l.1-5l0-5l.1-5l.1-5l.2-5l.1-5l.1-5l.1-5l.1-5l.1-5l.2-5l.1-5l.1-5l.2-5l.1-5l.2-5l.1-5l.1-5l.2-5l.1-5l.1-5l.2-5l.1-5l.1-5l.2-5l.2-5l.2-5l.2-5l.3-5l.3-5l.4-5l.8-5l1.2-4.9l1.6-4.7l1.9-4.7l1.9-4.6l2-4.6l2.1-4.6l2.1-4.6l1.9-4.6l1.9-4.7l1.9-4.7l1.8-4.7l1.7-4.7l1.8-4.7l1.6-4.7l1.7-4.8l1.5-4.7l1.5-4.8l1.5-4.8l1.5-4.8l1.3-4.9l1.3-4.8l1.3-4.9l1.1-4.9l.9-5l1-4.9l.9-5l1.1-4.9l1.3-4.8l1.3-4.9l1.5-4.8l1.6-4.8l1.6-4.7l1.7-4.8l1.9-4.6l2.2-4.5l2.6-4.3l3-4.1l1.9-2.1l2.2-2.2l2.6-2.1l2.8-2.2l3.1-2.1l3.6-2.2l4.1-2.1l4.4-2.2l4.5-2.1l7.1-3.4l4.7-2l4.8-2.1l4.8-2.1l5-2l4.9-2.1l4.6-1.9l5.1-1.8l7.3-1.9l9.7-2l11.2-2.1l12.3-2.2l13.6-2.1l14.7-2.1l17-2.1l19.4-2.2l22.3-2.1l21.6-2.3l19-2.2l18.6-2.1l19.5-2.1l19.9-2.1l21-2.1l22.4-2.1l22.6-2.1l22.8-2.2l22.9-2.1l22.4-2.1l21.3-2.1l20.3-2l19.1-2l17.6-1.9l16.4-1.8l16.1-1.8l15.7-1.8l15.5-1.8l15.5-1.9l9.7-1.2" marker-start="url(#g4)" marker-mid="url(#g4)" marker-end="url(#g4)"/>
<path d="M106.2 545.1l.1-5l.1-5l.1-5l0-5l.1-5l.1-5l.2-5l.1-5l.1-5l.1-5l.1-5l.1-5l.2-5l.1-5l.1-5l.2-5l.1-5l.2-5l.1-5l.1-5l.2-5l.1-5l.1-5l.2-5l.1-5l.1-5l.2-5l.2-5l.2-5l.2-5l.3-5l.3-5l.4-5l.9-5l1.1-4.9l1.7-4.7l1.8-4.7l1.9-4.6l2.1-4.6l2.1-4.6l2.1-4.5l1.9-4.7l1.9-4.6l1.9-4.7l1.8-4.7l1.8-4.7l1.7-4.7l1.7-4.7l1.7-4.8l1.5-4.7l1.6-4.8l1.5-4.8l1.4-4.8l1.4-4.9l1.3-4.8l1.2-4.9l1.2-4.9l.9-4.9l1-5l.9-4.9l1.1-4.9l1.3-4.9l1.4-4.8l1.4-4.8l1.6-4.8l1.6-4.8l1.7-4.7l1.9-4.7l2.2-4.5l2.6-4.3l3-4l1.9-2.2l2.2-2.1l2.5-2.2l2.8-2.1l3.2-2.2l3.5-2.1l4.1-2.2l4.4-2.1l4.5-2.2l7-3.2l4.6-2.1l4.8-2.1l4.9-2.1l4.9-2l4.9-2.1l4.7-2l5.1-1.8l7.2-1.9l9.8-2.1l11.2-2.1l12.3-2.1l13.5-2.1l14.8-2.1l17-2.2l19.4-2.1l22.3-2.2l21.6-2.2l19-2.2l18.6-2.2l19.5-2.1l19.9-2.1l21.1-2.1l22.3-2.1l22.7-2.1l22.8-2.1l22.8-2.2l22.5-2.1l21.2-2.1l20.4-2l19-2l17.7-1.9l16.4-1.8l16.1-1.8l15.7-1.8l15.5-1.8l15.5-1.9l9.8-1.2" marker-start="url(#g5)" marker-mid="url(#g5)" marker-end="url(#g5)"/>
<path d="M106.2 545.1l.1-5l.1-5l.1-5l0-5l.1-5l.1-5l.2-5l.1-5l.1-5l.1-5l.1-5l.1-5l.2-5l.1-5l.1-5l.2-5l.1-5l.2-5l.1-5l.1-5l.2-5l.1-5l.1-5l.2-5l.1-5l.1-5l.2-5l.2-5l.2-5l.2-5l.3-5l.3-5l.4-5l.9-5l1.1-4.9l1.7-4.7l1.8-4.7l1.9-4.6l2.1-4.6l2.1-4.6l2.1-4.5l1.9-4.7l1.9-4.6l1.9-4.7l1.8-4.7l1.8-4.7l1.7-4.7l1.7-4.7l1.7-4.8l1.5-4.7l1.6-4.8l1.5-4.8l1.4-4.8l1.4-4.9l1.3-4.8l1.2-4.9l1.1-4.9l1-4.9l.9-5l1-4.9l1.1-4.9l1.3-4.9l1.3-4.8l1.5-4.8l1.6-4.8l1.6-4.8l1.7-4.7l1.9-4.7l2.2-4.5l2.6-4.3l2.9-4l2-2.2l2.2-2.1l2.5-2.2l2.8-2.1l3.1-2.2l3.6-2.1l4.1-2.2l4.4-2.1l4.5-2.2l7-3.2l4.6-2.1l4.8-2.1l4.9-2.1l4.9-2.1l4.9-2.1l4.7-1.9l5.1-1.8l7.2-1.9l9.8-2.1l11.2-2.1l12.3-2.1l13.5-2.1l14.8-2.1l17-2.2l19.4-2.1l22.3-2.2l21.6-2.2l19-2.2l18.6-2.2l19.5-2.1l19.9-2.1l21.1-2.1l22.3-2.1l22.7-2.1l22.8-2.1l22.8-2.2l22.5-2.1l21.2-2.1l20.4-2l19-2l17.7-1.9l16.4-1.8l16-1.8l15.8-1.8l15.5-1.8l15.5-1.9l9.8-1.2" marker-start="url(#g6)" marker-mid="url(#g6)" marker-end="url(#g6)"/>
<path d="M106.2 545.1l.1-5l.1-5l.1-5l0-5l.1-5l.1-5l.2-5l.1-5l.1-5l.1-5l.1-5l.1-5l.2-5l.1-5l.1-5l.2-5l.1-5l.2-5l.1-5l.1-5l.2-5l.1-5l.1-5l.2-5l.1-5l.1-5l.2-5l.2-5l.2-5l.2-5l.3-5l.3-5l.4-5l.9-5l1.1-4.9l1.7-4.7l1.8-4.7l1.9-4.6l2.1-4.6l2.1-4.6l2.1-4.5l1.9-4.7l1.9-4.6l1.9-4.7l1.8-4.7l1.8-4.7l1.7-4.7l1.7-4.7l1.6-4.8l1.6-4.7l1.5-4.8l1.5-4.8l1.5-4.8l1.4-4.9l1.3-4.8l1.2-4.9l1.1-4.9l1-4.9l.9-5l1-4.9l1.1-4.9l1.2-4.9l1.4-4.8l1.5-4.8l1.5-4.8l1.7-4.8l1.6-4.7l1.9-4.7l2.3-4.5l2.5-4.3l3-4l1.9-2.2l2.3-2.1l2.5-2.2l2.8-2.1l3.1-2.2l3.6-2.1l4.1-2.2l4.4-2.1l4.5-2.2l7-3.3l4.6-2.1l4.8-2l4.9-2.1l4.9-2.1l4.9-2.1l4.6-1.9l5.2-1.9l7.2-1.9l9.7-2l11.3-2.1l12.3-2.1l13.5-2.1l14.8-2.1l17-2.2l19.4-2.1l22.3-2.2l21.6-2.2l19-2.2l18.6-2.2l19.5-2.1l19.9-2.1l21-2.1l22.4-2.1l22.7-2.1l22.7-2.1l22.9-2.2l22.4-2.1l21.3-2.1l20.4-2l19-2l17.6-1.9l16.4-1.8l16.1-1.8l15.8-1.8l15.4-1.8l15.6-1.9l9.8-1.2" marker-start="url(#g7)" marker-mid="url(#g7)" marker-end="url(#g7)"/>
<path d="M106.2 545.1l.1-5l.1-5l.1-5l0-5l.1-5l.1-5l.2-5l.1-5l.1-5l.1-5l.1-5l.1-5l.2-5l.1-5l.1-5l.2-5l.1-5l.2-5l.1-5l.1-5l.2-5l.1-5l.1-5l.2-5l.1-5l.1-5l.2-5l.2-5l.2-5l.2-5l.3-5l.3-5l.4-5l.9-5l1.1-4.9l1.7-4.7l1.8-4.7l1.9-4.6l2.1-4.6l2.1-4.6l2.1-4.5l2-4.7l1.9-4.6l1.8-4.7l1.9-4.7l1.7-4.7l1.8-4.7l1.7-4.7l1.6-4.8l1.6-4.7l1.5-4.8l1.5-4.8l1.5-4.8l1.4-4.9l1.3-4.8l1.2-4.9l1.1-4.9l1-4.9l.9-5l1-4.9l1.1-4.9l1.3-4.9l1.3-4.8l1.5-4.8l1.6-4.8l1.6-4.8l1.7-4.7l1.9-4.7l2.2-4.5l2.6-4.3l3-4l1.9-2.2l2.2-2.1l2.5-2.2l2.9-2.1l3.1-2.2l3.6-2.1l4-2.2l4.4-2.1l4.5-2.2l6.9-3.2l4.6-2.1l4.8-2.1l4.9-2l4.9-2.1l4.9-2.1l4.7-2l5.1-1.8l7.2-1.9l9.8-2.1l11.2-2.1l12.3-2.1l13.6-2.1l14.7-2.1l17-2.2l19.4-2.1l22.3-2.2l21.6-2.2l19.1-2.2l18.6-2.2l19.4-2.1l19.9-2.1l21.1-2.1l22.3-2.1l22.7-2.1l22.8-2.1l22.8-2.2l22.5-2.1l21.3-2.1l20.3-2l19.1-2l17.6-1.9l16.4-1.8l16.1-1.8l15.8-1.8l15.4-1.8l15.6-1.9l9.8-1.2" marker-start="url(#g8)" marker-mid="url(#g8)" marker-end="url(#g8)"/>
<path d="M106.2 545.1l.1-5l.1-5l.1-5l0-5l.1-5l.1-5l.2-5l.1-5l.1-5l.1-5l.1-5l.1-5l.2-5l.1-5l.1-5l.2-5l.1-5l.2-5l.1-5l.1-5l.2-5l.1-5l.1-5l.2-5l.1-5l.1-5l.2-5l.2-5l.2-5l.2-5l.3-5l.3-5l.4-5l.8-5l1.2-4.9l1.6-4.7l1.8-4.7l1.9-4.7l2-4.6l2.1-4.5l2-4.6l1.9-4.7l1.9-4.6l1.8-4.7l1.8-4.7l1.7-4.7l1.7-4.8l1.7-4.7l1.6-4.8l1.6-4.8l1.5-4.8l1.4-4.8l1.5-4.8l1.3-4.8l1.3-4.9l1.2-4.9l1.1-4.9l.9-4.9l1-5l.9-4.9l1.1-4.9l1.3-4.9l1.3-4.8l1.5-4.8l1.5-4.8l1.6-4.8l1.7-4.7l1.9-4.7l2.2-4.5l2.6-4.3l3-4l2-2.2l2.2-2.1l2.5-2.2l2.9-2.1l3.1-2.2l3.6-2.1l4.1-2.2l4.4-2.1l4.5-2.2l3.1-1.4l4.5-2.1l4.6-2.1l4.8-2l4.9-2.1l4.9-2l4.9-2.1l4.6-1.8l5.2-1.8l7.2-1.8l9.7-2l11.3-2.1l12.2-2.1l13.6-2.1l14.7-2.1l17-2.1l19.4-2.2l22.2-2.2l21.7-2.2l19-2.2l18.6-2.2l19.4-2.1l19.9-2.1l21-2l22.4-2.1l22.6-2.1l22.8-2.2l22.8-2.1l22.4-2.1l21.3-2.1l20.4-2l19-2l17.6-1.9l16.4-1.8l16-1.8l15.8-1.9l15.4-1.8l15.6-1.8l9.5-1.2" marker-start="url(#g9)" marker-mid="url(#g9)" marker-end="url(#g9)"/>
<path d="M106.2 545.1l.1-5l.1-5l.1-5l0-5l.1-5l.1-5l.2-5l.1-5l.1-5l.1-5l.1-5l.1-5l.2-5l.1-5l.1-5l.2-5l.1-5l.2-5l.1-5l.1-5l.2-5l.1-5l.1-5l.2-5l.1-5l.1-5l.2-5l.2-5l.2-5l.2-5l.3-5l.3-5l.4-5l.8-5l1.2-4.9l1.6-4.7l1.9-4.7l1.8-4.6l2.1-4.6l2.1-4.6l2.1-4.6l1.9-4.6l1.9-4.7l1.8-4.7l1.8-4.7l1.8-4.7l1.7-4.7l1.7-4.7l1.6-4.8l1.6-4.8l1.5-4.8l1.5-4.8l1.4-4.8l1.4-4.8l1.3-4.9l1.3-4.9l1-4.9l1-4.9l.9-5l1-4.9l1.1-4.9l1.3-4.9l1.3-4.8l1.5-4.8l1.5-4.8l1.6-4.8l1.7-4.7l1.9-4.7l2.3-4.5l2.6-4.3l3-4l1.9-2.2l2.2-2.1l2.6-2.2l2.8-2.1l3.2-2.2l3.6-2.1l4.1-2.2l4.4-2.1l4.5-2.2l7-3.3l4.7-2.1l4.8-2l4.8-2.1l5-2l4.8-2.1l4.7-1.9l5.1-1.8l7.3-1.9l9.7-2l11.2-2.2l12.3-2.1l13.6-2.1l14.7-2.1l17-2.1l19.4-2.2l22.3-2.1l21.6-2.3l19-2.2l18.6-2.1l19.5-2.2l19.9-2l21-2.1l22.4-2.1l22.6-2.1l22.8-2.2l22.8-2.1l22.5-2.1l21.2-2.1l20.4-2l19-2l17.7-1.9l16.3-1.8l16.1-1.8l15.8-1.8l15.4-1.8l15.6-1.9l9.7-1.2" marker-start="url(#g10)" marker-mid="url(#g10)" marker-end="url(#g10)"/>
<path d="M106.2 545.1l.1-5l.1-5l.1-5l0-5l.1-5l.1-5l.2-5l.1-5l.1-5l.1-5l.1-5l.1-5l.2-5l.1-5l.1-5l.2-5l.1-5l.2-5l.1-5l.1-5l.2-5l.1-5l.1-5l.2-5l.1-5l.1-5l.2-5l.2-5l.2-5l.2-5l.3-5l.3-5l.4-5l.9-5l1.1-4.9l1.6-4.7l1.9-4.7l1.9-4.6l2-4.6l2.2-4.6l2.1-4.6l1.9-4.6l1.9-4.7l1.8-4.6l1.8-4.7l1.8-4.7l1.7-4.7l1.7-4.8l1.7-4.7l1.5-4.8l1.6-4.8l1.5-4.8l1.4-4.8l1.4-4.8l1.3-4.9l1.2-4.8l1.1-4.9l1-5l.9-4.9l1-5l1.1-4.9l1.2-4.8l1.4-4.9l1.5-4.8l1.5-4.8l1.6-4.7l1.7-4.8l1.9-4.6l2.3-4.5l2.5-4.3l3-4.1l1.9-2.1l2.3-2.2l2.5-2.1l2.8-2.2l3.1-2.1l3.6-2.2l4.1-2.1l4.4-2.2l4.5-2.1l7.1-3.3l4.6-2.1l4.8-2.1l4.9-2.1l4.9-2l4.9-2.1l4.6-2l5.2-1.8l7.2-1.9l9.7-2l11.3-2.1l12.3-2.1l13.5-2.2l14.8-2l17-2.2l19.4-2.1l22.2-2.2l21.7-2.3l19-2.1l18.6-2.2l19.4-2.1l20-2.1l21-2.1l22.4-2.1l22.6-2.1l22.8-2.2l22.8-2.1l22.5-2.1l21.3-2.1l20.3-2l19.1-2l17.6-1.9l16.4-1.8l16.1-1.8l15.7-1.8l15.5-1.8l15.5-1.9l9.8-1.2" marker-start="url(#g11)" marker-mid="url(#g11)" marker-end="url(#g11)"/>
<path d="M106.2 545.1l.1-5l.1-5l.1-5l0-5l.1-5l.1-5l.2-5l.1-5l.1-5l.1-5l.1-5l.1-5l.2-5l.1-5l.1-5l.2-5l.1-5l.2-5l.1-5l.1-5l.2-5l.1-5l.1-5l.2-5l.1-5l.1-5l.2-5l.2-5l.2-5l.2-5l.3-5l.3-5l.4-5l.9-5l1.1-4.9l1.7-4.7l1.9-4.7l1.9-4.6l2.1-4.6l2.2-4.6l2.1-4.5l1.9-4.7l1.9-4.6l1.9-4.7l1.9-4.7l1.8-4.7l1.7-4.7l1.7-4.7l1.7-4.8l1.6-4.7l1.5-4.8l1.5-4.8l1.5-4.8l1.4-4.9l1.3-4.8l1.2-4.9l1.2-4.9l.9-4.9l1-5l1-4.9l1.1-4.9l1.2-4.9l1.4-4.8l1.5-4.8l1.6-4.8l1.6-4.8l1.7-4.7l1.9-4.7l2.2-4.5l2.6-4.3l3-4l1.9-2.2l2.3-2.1l2.5-2.2l2.8-2.1l3.2-2.2l3.6-2.1l4.1-2.2l4.4-2.1l4.5-2.2l6.3-3l4.7-2.1l4.7-2.1l4.9-2l5-2.1l4.8-2.1l4.7-2l5.1-1.9l7.3-2l9.7-2l11.3-2.1l12.3-2.2l13.5-2.1l14.8-2.1l17-2.1l19.4-2.2l22.3-2.2l21.6-2.2l19.1-2.2l18.6-2.1l19.4-2.2l20-2l21-2.1l22.4-2.2l22.7-2.1l22.8-2.1l22.8-2.2l22.5-2.1l21.2-2l20.4-2.1l19.1-2l17.6-1.9l16.4-1.8l16.1-1.8l15.8-1.8l15.4-1.8l15.6-1.8l10-1.3" marker-start="url(#g12)" marker-mid="url(#g12)" marker-end="url(#g12)"/>
<path d="M106.2 545.1l.1-5l.1-5l.1-5l0-5l.1-5l.1-5l.2-5l.1-5l.1-5l.1-5l.1-5l.1-5l.2-5l.1-5l.1-5l.2-5l.1-5l.2-5l.1-5l.1-5l.2-5l.1-5l.1-5l.2-5l.1-5l.1-5l.2-5l.2-5l.2-5l.2-5l.3-5l.3-5l.4-5l.9-5l1.2-4.9l1.6-4.7l1.9-4.7l1.9-4.6l2.1-4.6l2.2-4.6l2.1-4.5l2-4.7l1.9-4.6l1.8-4.7l1.9-4.7l1.8-4.7l1.7-4.7l1.8-4.7l1.6-4.8l1.6-4.7l1.6-4.8l1.5-4.8l1.4-4.8l1.4-4.9l1.3-4.8l1.3-4.9l1.1-4.9l1-4.9l.9-5l1-4.9l1.1-4.9l1.3-4.9l1.4-4.8l1.4-4.8l1.6-4.8l1.6-4.8l1.7-4.7l1.9-4.7l2.3-4.5l2.6-4.3l3-4l1.9-2.2l2.2-2.1l2.6-2.2l2.8-2.1l3.1-2.2l3.6-2.1l4.1-2.2l4.4-2.1l4.5-2.2l6.3-2.9l4.7-2.1l4.8-2.1l4.8-2.1l5-2.1l4.9-2.1l4.6-2l5.2-1.9l7.2-2l9.7-2l11.3-2.1l12.3-2.2l13.5-2.1l14.8-2.1l17-2.1l19.4-2.2l22.3-2.2l21.6-2.2l19.1-2.2l18.6-2.1l19.5-2.1l19.9-2.1l21-2.1l22.4-2.2l22.7-2.1l22.8-2.1l22.8-2.2l22.5-2.1l21.3-2l20.4-2.1l19-2l17.6-1.9l16.4-1.8l16.1-1.8l15.8-1.8l15.5-1.8l15.5-1.8l10-1.3" marker-start="url(#g13)" marker-mid="url(#g13)" marker-end="url(#g13)"/>
<path d="M106.2 545.1l.1-5l.1-5l.1-5l0-5l.1-5l.1-5l.2-5l.1-5l.1-5l.1-5l.1-5l.1-5l.2-5l.1-5l.1-5l.2-5l.1-5l.2-5l.1-5l.1-5l.2-5l.1-5l.1-5l.2-5l.1-5l.1-5l.2-5l.2-5l.2-5l.2-5l.3-5l.3-5l.4-5l.9-5l1.2-4.9l1.6-4.7l1.9-4.7l1.9-4.6l2.1-4.6l2.2-4.6l2.1-4.5l1.9-4.7l2-4.6l1.8-4.7l1.9-4.7l1.8-4.7l1.7-4.7l1.7-4.7l1.7-4.8l1.6-4.7l1.5-4.8l1.6-4.8l1.4-4.8l1.4-4.9l1.3-4.8l1.3-4.9l1.1-4.9l1-4.9l.9-5l1-4.9l1.1-4.9l1.3-4.9l1.4-4.8l1.4-4.8l1.6-4.8l1.6-4.8l1.7-4.7l1.9-4.7l2.3-4.5l2.6-4.3l2.9-4l2-2.2l2.2-2.1l2.6-2.2l2.8-2.1l3.1-2.2l3.6-2.1l4.1-2.2l4.4-2.1l4.5-2.2l6.3-2.9l4.7-2.1l4.8-2.1l4.8-2.1l5-2.1l4.8-2.1l4.7-2l5.2-1.9l7.2-2l9.7-2l11.3-2.1l12.3-2.2l13.5-2.1l14.8-2.1l17-2.1l19.4-2.2l22.3-2.2l21.6-2.2l19.1-2.2l18.6-2.1l19.5-2.1l19.9-2.1l21-2.1l22.4-2.2l22.7-2.1l22.8-2.1l22.8-2.2l22.5-2.1l21.3-2l20.4-2.1l19-2l17.6-1.9l16.4-1.8l16.1-1.8l15.8-1.8l15.5-1.8l15.5-1.8l10-1.3" marker-start="url(#g14)" marker-mid="url(#g14)" marker-end="url(#g14)"/>
<path d="M106.2 545.1l.1-5l.1-5l.1-5l0-5l.1-5l.1-5l.2-5l.1-5l.1-5l.1-5l.1-5l.1-5l.2-5l.1-5l.1-5l.2-5l.1-5l.2-5l.1-5l.1-5l.2-5l.1-5l.1-5l.2-5l.1-5l.1-5l.2-5l.2-5l.2-5l.2-5l.2-5l.4-5l.4-5l.9-5l1.2-4.9l1.6-4.7l2-4.7l1.9-4.6l2.1-4.6l2.1-4.5l2.2-4.6l1.9-4.6l2-4.6l1.8-4.7l1.9-4.6l1.8-4.7l1.8-4.7l1.7-4.7l1.6-4.8l1.6-4.7l1.6-4.8l1.5-4.8l1.5-4.8l1.4-4.8l1.3-4.9l1.3-4.8l1.1-4.9l1-5l.9-4.9l1-5l1.1-4.9l1.3-4.8l1.4-4.9l1.5-4.8l1.5-4.8l1.7-4.7l1.7-4.8l1.9-4.6l2.2-4.5l2.6-4.3l2.9-4.1l1.9-2.1l2.2-2.2l2.5-2.1l2.8-2.2l3.2-2.1l3.5-2.2l4-2.1l4.4-2.2l4.6-2.1l6.3-3l4.7-2.1l4.8-2.2l4.9-2.1l4.9-2.1l4.9-2.1l4.7-2l5.1-1.9l7.2-2l9.8-2.1l11.2-2.1l12.3-2.1l13.6-2.2l14.8-2.1l17-2.1l19.4-2.2l22.3-2.1l21.6-2.2l19.1-2.2l18.6-2.2l19.4-2.1l20-2.1l21-2.1l22.4-2.1l22.7-2.2l22.8-2.1l22.9-2.2l22.4-2.1l21.3-2l20.4-2.1l19.1-2l17.6-1.9l16.4-1.8l16.1-1.8l15.8-1.8l15.4-1.8l15.6-1.8l10.1-1.3" marker-start="url(#g15)" marker-mid="url(#g15)" marker-end="url(#g15)"/>
<path d="M106.2 545.1l.1-5l.1-5l.1-5l0-5l.1-5l.1-5l.2-5l.1-5l.1-5l.1-5l.1-5l.1-5l.2-5l.1-5l.1-5l.2-5l.1-5l.2-5l.1-5l.1-5l.2-5l.1-5l.1-5l.2-5l.1-5l.1-5l.2-5l.2-5l.2-5l.2-5l.2-5l.4-5l.4-5l.9-5l1.2-4.9l1.7-4.7l1.9-4.7l1.9-4.6l2.1-4.6l2.2-4.5l2.2-4.6l1.9-4.6l2-4.6l1.9-4.7l1.8-4.6l1.9-4.7l1.7-4.7l1.7-4.7l1.7-4.8l1.6-4.7l1.6-4.8l1.5-4.8l1.5-4.8l1.4-4.8l1.4-4.9l1.2-4.8l1.2-4.9l1-5l.9-4.9l1-5l1.1-4.9l1.3-4.8l1.4-4.9l1.4-4.8l1.6-4.7l1.6-4.8l1.8-4.7l1.9-4.7l2.2-4.5l2.5-4.3l3-4l1.9-2.2l2.2-2.1l2.5-2.2l2.8-2.1l3.1-2.2l3.6-2.1l4-2.2l4.4-2.1l4.5-2.2l6.2-2.9l4.6-2.1l4.8-2.1l4.9-2.1l4.9-2.1l4.9-2.1l4.7-2.1l5.1-2l7.3-2l9.7-2l11.3-2.2l12.3-2.1l13.5-2.1l14.8-2.2l17-2.1l19.5-2.2l22.2-2.1l21.7-2.2l19-2.2l18.7-2.1l19.4-2.2l20-2.1l21-2.1l22.4-2.1l22.7-2.2l22.8-2.1l22.9-2.2l22.5-2.1l21.2-2l20.4-2.1l19.1-2l17.6-1.9l16.4-1.8l16.2-1.8l15.7-1.8l15.5-1.8l15.6-1.8l10.2-1.3" marker-start="url(#g16)" marker-mid="url(#g16)" marker-end="url(#g16)"/>
<path d="M106.2 545.1l.1-5l.1-5l.1-5l0-5l.1-5l.1-5l.2-5l.1-5l.1-5l.1-5l.1-5l.1-5l.2-5l.1-5l.1-5l.2-5l.1-5l.2-5l.1-5l.1-5l.2-5l.1-5l.1-5l.2-5l.1-5l.1-5l.2-5l.2-5l.2-5l.2-5l.2-5l.4-5l.4-5l.9-5l1.2-4.9l1.7-4.7l1.9-4.7l2-4.6l2.1-4.6l2.2-4.5l2.1-4.5l2-4.6l2-4.7l1.9-4.6l1.9-4.7l1.8-4.7l1.8-4.7l1.7-4.7l1.7-4.7l1.6-4.8l1.6-4.7l1.5-4.8l1.5-4.8l1.4-4.8l1.4-4.9l1.2-4.8l1.2-4.9l1-4.9l.9-5l1-4.9l1.1-4.9l1.3-4.9l1.4-4.8l1.5-4.8l1.6-4.8l1.6-4.7l1.7-4.8l1.9-4.6l2.2-4.5l2.6-4.4l2.9-4l1.9-2.2l2.2-2.1l2.6-2.2l2.8-2.1l3.1-2.2l3.5-2.1l4-2.2l4.4-2.1l4.5-2.2l6-2.8l4.7-2.1l4.7-2.1l4.9-2.2l5-2.1l4.9-2.1l4.6-2.1l5.2-2l7.2-2l9.7-2.1l11.3-2.1l12.3-2.2l13.6-2.1l14.8-2.1l17-2.2l19.4-2.1l22.3-2.2l21.7-2.2l19-2.1l18.6-2.2l19.5-2.1l20-2.2l21-2.1l22.4-2.1l22.7-2.2l22.8-2.1l22.9-2.1l22.5-2.1l21.3-2.1l20.4-2.1l19-2l17.7-1.9l16.4-1.8l16.1-1.8l15.8-1.8l15.5-1.8l15.5-1.8l10.4-1.3" marker-start="url(#g17)" marker-mid="url(#g17)" marker-end="url(#g17)"/>
<path d="M106.2 545.1l.1-5l.1-5l.1-5l0-5l.1-5l.1-5l.2-5l.1-5l.1-5l.1-5l.1-5l.1-5l.2-5l.1-5l.1-5l.2-5l.1-5l.2-5l.1-5l.1-5l.2-5l.1-5l.1-5l.2-5l.1-5l.1-5l.2-5l.2-5l.2-5l.2-5l.2-5l.4-5l.4-5l.9-5l1.2-4.9l1.7-4.7l1.9-4.7l2-4.6l2.1-4.6l2.2-4.5l2.2-4.5l2-4.6l1.9-4.7l1.9-4.6l1.9-4.7l1.8-4.7l1.8-4.7l1.8-4.7l1.6-4.7l1.7-4.8l1.5-4.7l1.6-4.8l1.5-4.8l1.4-4.8l1.3-4.9l1.3-4.8l1.1-4.9l1-4.9l1-5l1-4.9l1.1-4.9l1.3-4.9l1.4-4.8l1.5-4.8l1.5-4.8l1.7-4.7l1.7-4.8l1.9-4.6l2.2-4.5l2.6-4.4l2.9-4l1.9-2.2l2.2-2.1l2.5-2.2l2.8-2.1l3.2-2.2l3.5-2.1l4-2.2l4.4-2.1l4.5-2.2l5.9-2.7l4.7-2.2l4.7-2.1l4.9-2.1l5-2.1l4.9-2.2l4.6-2l5.2-2.1l7.2-2l9.8-2.1l11.2-2.1l12.3-2.2l13.6-2.1l14.8-2.1l17-2.2l19.4-2.1l22.3-2.2l21.7-2.2l19-2.1l18.7-2.2l19.4-2.1l20-2.2l21.1-2.1l22.3-2.1l22.7-2.2l22.9-2.1l22.8-2.1l22.5-2.1l21.3-2.1l20.4-2.1l19.1-2l17.6-1.9l16.4-1.8l16.1-1.8l15.8-1.8l15.5-1.8l15.6-1.8l10.3-1.3" marker-start="url(#g18)" marker-mid="url(#g18)" marker-end="url(#g18)"/>
<path d="M106.2 545.1l.1-5l.1-5l.1-5l0-5l.1-5l.1-5l.2-5l.1-5l.1-5l.1-5l.1-5l.1-5l.2-5l.1-5l.1-5l.2-5l.1-5l.2-5l.1-5l.1-5l.2-5l.1-5l.1-5l.2-5l.1-5l.1-5l.2-5l.2-5l.2-5l.2-5l.2-5l.4-5l.4-5l.9-5l1.2-4.9l1.7-4.7l1.9-4.7l2-4.6l2.1-4.6l2.2-4.5l2.1-4.5l2-4.6l2-4.7l1.9-4.6l1.8-4.7l1.9-4.7l1.7-4.7l1.8-4.7l1.7-4.7l1.6-4.8l1.5-4.7l1.6-4.8l1.5-4.8l1.4-4.8l1.3-4.9l1.3-4.8l1.1-4.9l1-5l1-4.9l1-5l1.1-4.9l1.2-4.8l1.4-4.9l1.5-4.8l1.6-4.7l1.6-4.8l1.8-4.7l1.8-4.7l2.3-4.5l2.6-4.3l2.9-4.1l1.9-2.1l2.2-2.2l2.5-2.1l2.8-2.2l3.1-2.1l3.6-2.2l4-2.1l4.4-2.2l4.5-2.1l6-2.8l4.6-2.2l4.8-2.1l4.9-2.1l5-2.1l4.8-2.1l4.7-2.1l5.2-2l7.2-2l9.7-2.1l11.3-2.1l12.3-2.2l13.6-2.1l14.7-2.1l17.1-2.2l19.4-2.1l22.3-2.2l21.6-2.2l19.1-2.2l18.6-2.1l19.5-2.2l19.9-2.1l21.1-2.1l22.4-2.1l22.7-2.2l22.8-2.1l22.9-2.1l22.5-2.2l21.2-2l20.4-2.1l19.1-2l17.6-1.9l16.5-1.8l16.1-1.8l15.8-1.8l15.4-1.8l15.6-1.8l10.3-1.3" marker-start="url(#g19)" marker-mid="url(#g19)" marker-end="url(#g19)"/>
<path d="M106.2 545.1l.1-5l.1-5l.1-5l0-5l.1-5l.1-5l.2-5l.1-5l.1-5l.1-5l.1-5l.1-5l.2-5l.1-5l.1-5l.2-5l.1-5l.2-5l.1-5l.1-5l.2-5l.1-5l.1-5l.2-5l.1-5l.1-5l.2-5l.2-5l.1-5l.3-5l.2-5l.4-5l.4-5l.9-5l1.2-4.9l1.7-4.7l2-4.7l2-4.6l2.1-4.6l2.2-4.5l2.1-4.5l2.1-4.6l1.9-4.7l1.9-4.6l1.9-4.7l1.9-4.7l1.8-4.7l1.7-4.7l1.7-4.7l1.6-4.8l1.6-4.7l1.6-4.8l1.4-4.8l1.5-4.8l1.3-4.9l1.3-4.8l1.1-4.9l1-4.9l1-5l1-4.9l1.1-4.9l1.3-4.9l1.4-4.8l1.5-4.8l1.6-4.8l1.6-4.7l1.7-4.8l1.9-4.6l2.3-4.5l2.5-4.4l3-4l1.9-2.2l2.2-2.1l2.5-2.2l2.8-2.1l3.2-2.2l3.5-2.1l4-2.2l4.4-2.1l4.6-2.2l5.5-2.6l4.7-2.1l4.8-2.2l4.9-2.1l4.9-2.1l4.9-2.2l4.7-2l5.1-2.1l7.2-2.1l9.8-2.1l11.2-2.1l12.3-2.1l13.6-2.2l14.8-2.1l17-2.2l19.5-2.1l22.3-2.2l21.6-2.1l19.1-2.2l18.6-2.2l19.5-2.1l20-2.1l21-2.2l22.4-2.1l22.7-2.1l22.9-2.2l22.8-2.1l22.5-2.1l21.3-2.1l20.4-2l19.1-2l17.6-1.9l16.5-1.8l16.1-1.8l15.8-1.8l15.4-1.8l15.6-1.9l10.4-1.3" marker-start="url(#g20)" marker-mid="url(#g20)" marker-end="url(#g20)"/>
<path d="M106.2 545.1l.1-5l.1-5l.1-5l0-5l.1-5l.1-5l.2-5l.1-5l.1-5l.1-5l.1-5l.1-5l.2-5l.1-5l.1-5l.2-5l.1-5l.2-5l.1-5l.1-5l.2-5l.1-5l.1-5l.2-5l.1-5l.1-5l.2-5l.1-5l.2-5l.3-5l.2-5l.4-5l.4-5l.9-5l1.2-4.9l1.8-4.7l1.9-4.7l2-4.6l2.1-4.5l2.2-4.5l2.2-4.6l2.1-4.6l1.9-4.6l2-4.7l1.8-4.6l1.9-4.7l1.8-4.7l1.7-4.7l1.8-4.7l1.6-4.8l1.6-4.7l1.5-4.8l1.5-4.8l1.5-4.8l1.3-4.9l1.3-4.8l1.2-4.9l1-4.9l.9-5l1-4.9l1.2-4.9l1.2-4.9l1.4-4.8l1.5-4.8l1.6-4.8l1.7-4.7l1.7-4.8l1.9-4.6l2.2-4.5l2.6-4.4l3-4l1.8-2.2l2.3-2.1l2.5-2.2l2.8-2.1l3.1-2.2l3.5-2.1l4-2.2l4.4-2.1l4.6-2.2l5.4-2.5l4.6-2.2l4.8-2.1l4.9-2.1l4.9-2.2l4.9-2.1l4.7-2.1l5.1-2.1l7.3-2.1l9.7-2.1l11.3-2.2l12.3-2.1l13.6-2.2l14.8-2.1l17-2.1l19.5-2.2l22.2-2.1l21.7-2.2l19.1-2.2l18.6-2.1l19.5-2.2l20-2.1l21-2.1l22.4-2.2l22.7-2.1l22.9-2.2l22.9-2.1l22.4-2.1l21.4-2.1l20.4-2l19-2l17.7-1.9l16.4-1.8l16.1-1.8l15.8-1.8l15.5-1.8l15.6-1.9l10.5-1.3" marker-start="url(#g21)" marker-mid="url(#g21)" marker-end="url(#g21)"/>
<path d="M106.2 545.1l.1-5l.1-5l.1-5l0-5l.1-5l.1-5l.2-5l.1-5l.1-5l.1-5l.1-5l.1-5l.2-5l.1-5l.1-5l.2-5l.1-5l.2-5l.1-5l.1-5l.2-5l.1-5l.1-5l.2-5l.1-5l.1-5l.2-5l.1-5l.2-5l.3-5l.2-5l.4-5l.4-5l.9-5l1.2-4.9l1.7-4.7l2-4.6l2-4.6l2.1-4.6l2.2-4.5l2.2-4.5l2.1-4.6l1.9-4.7l2-4.6l1.9-4.7l1.8-4.6l1.8-4.7l1.8-4.7l1.7-4.8l1.6-4.7l1.6-4.8l1.6-4.8l1.5-4.8l1.4-4.8l1.4-4.8l1.3-4.9l1.1-4.9l1-4.9l1-4.9l1-5l1.1-4.9l1.3-4.8l1.4-4.9l1.5-4.8l1.6-4.7l1.6-4.8l1.7-4.7l1.9-4.7l2.3-4.5l2.5-4.3l3-4.1l1.9-2.2l2.2-2.1l2.5-2.2l2.8-2.1l3.2-2.2l3.5-2.1l4-2.2l4.4-2.1l4.6-2.2l5.3-2.5l4.6-2.1l4.8-2.2l4.9-2.1l4.9-2.1l4.9-2.2l4.7-2.1l5.1-2.1l7.3-2.1l9.7-2.1l11.3-2.2l12.3-2.1l13.6-2.2l14.8-2.1l17-2.1l19.5-2.2l22.2-2.1l21.7-2.2l19.1-2.2l18.6-2.1l19.5-2.2l20-2.1l21.1-2.1l22.4-2.2l22.7-2.1l22.8-2.2l22.9-2.1l22.5-2.1l21.3-2.1l20.4-2l19.1-2l17.6-1.9l16.4-1.8l16.2-1.8l15.8-1.8l15.4-1.8l15.6-1.9l10.6-1.3" marker-start="url(#g22)" marker-mid="url(#g22)" marker-end="url(#g22)"/>
<path d="M106.2 545.1l.1-5l.1-5l.1-5l0-5l.1-5l.1-5l.2-5l.1-5l.1-5l.1-5l.1-5l.1-5l.2-5l.1-5l.1-5l.2-5l.1-5l.2-5l.1-5l.1-5l.2-5l.1-5l.1-5l.2-5l.1-5l.1-5l.2-5l.1-5l.2-5l.3-5l.2-5l.4-5l.4-5l.9-5l1.2-4.9l1.8-4.7l1.9-4.6l2-4.6l2.1-4.6l2.3-4.5l2.2-4.5l2-4.6l2-4.7l1.9-4.6l1.9-4.7l1.9-4.6l1.8-4.7l1.7-4.7l1.7-4.8l1.7-4.7l1.6-4.8l1.5-4.8l1.6-4.8l1.4-4.8l1.4-4.8l1.2-4.9l1.2-4.9l1-4.9l1-4.9l1-5l1.1-4.9l1.3-4.8l1.4-4.9l1.5-4.8l1.6-4.7l1.6-4.8l1.7-4.7l1.9-4.6l2.3-4.5l2.5-4.4l3-4.1l1.9-2.1l2.2-2.2l2.5-2.1l2.8-2.2l3.1-2.1l3.5-2.2l4.1-2.1l4.4-2.2l4.5-2.1l5.3-2.5l4.6-2.2l4.8-2.1l4.9-2.1l4.9-2.2l4.9-2.1l4.7-2.2l5.2-2.1l7.2-2.1l9.8-2.1l11.2-2.2l12.3-2.1l13.6-2.1l14.8-2.2l17-2.1l19.5-2.2l22.3-2.1l21.7-2.2l19-2.2l18.7-2.1l19.5-2.2l19.9-2.1l21.1-2.1l22.4-2.2l22.7-2.1l22.8-2.2l22.9-2.1l22.5-2.1l21.3-2.1l20.4-2l19.1-2l17.7-1.9l16.4-1.8l16.1-1.8l15.8-1.8l15.5-1.8l15.6-1.9l10.6-1.3" marker-start="url(#g23)" marker-mid="url(#g23)" marker-end="url(#g23)"/>
<path d="M106.2 545.1l.1-5l.1-5l.1-5l0-5l.1-5l.1-5l.2-5l.1-5l.1-5l.1-5l.1-5l.1-5l.2-5l.1-5l.1-5l.2-5l.1-5l.2-5l.1-5l.1-5l.2-5l.1-5l.1-5l.2-5l.1-5l.1-5l.2-5l.1-5l.2-5l.3-5l.2-5l.4-5l.4-5l.9-5l1.2-4.9l1.8-4.7l1.9-4.6l2-4.6l2.1-4.6l2.3-4.5l2.2-4.5l2-4.6l2-4.7l1.9-4.6l1.9-4.7l1.9-4.6l1.8-4.7l1.7-4.7l1.8-4.8l1.6-4.7l1.6-4.8l1.6-4.8l1.5-4.8l1.4-4.8l1.4-4.8l1.3-4.9l1.1-4.9l1-4.9l1-4.9l1-5l1.1-4.9l1.3-4.8l1.4-4.9l1.5-4.8l1.6-4.7l1.7-4.8l1.7-4.7l1.9-4.6l2.2-4.5l2.6-4.4l2.9-4.1l1.9-2.1l2.2-2.2l2.5-2.1l2.8-2.2l3.1-2.1l3.6-2.2l4-2.1l4.4-2.2l4.5-2.1l5.3-2.5l4.6-2.2l4.8-2.1l4.9-2.1l4.9-2.2l4.9-2.1l4.7-2.1l5.2-2.2l7.2-2.1l9.8-2.1l11.2-2.1l12.3-2.2l13.6-2.1l14.8-2.2l17-2.1l19.5-2.2l22.3-2.1l21.7-2.2l19-2.2l18.7-2.1l19.5-2.1l19.9-2.2l21.1-2.1l22.4-2.2l22.7-2.1l22.8-2.2l22.9-2.1l22.5-2.1l21.3-2.1l20.5-2l19-2l17.7-1.9l16.4-1.8l16.1-1.8l15.8-1.8l15.5-1.8l15.6-1.9l10.6-1.3" marker-start="url(#g24)" marker-mid="url(#g24)" marker-end="url(#g24)"/>
<path d="M106.2 545.1l.1-5l.1-5l.1-5l0-5l.1-5l.1-5l.2-5l.1-5l.1-5l.1-5l.1-5l.1-5l.2-5l.1-5l.1-5l.2-5l.1-5l.2-5l.1-5l.1-5l.2-5l.1-5l.1-5l.2-5l.1-5l.1-5l.2-5l.1-5l.2-5l.3-5l.2-5l.4-5l.4-5l.9-5l1.2-4.9l1.8-4.7l1.9-4.6l2-4.6l2.2-4.6l2.2-4.5l2.2-4.5l2-4.6l2-4.6l1.9-4.7l1.9-4.6l1.9-4.7l1.8-4.7l1.8-4.7l1.7-4.7l1.6-4.8l1.6-4.7l1.6-4.8l1.5-4.8l1.4-4.8l1.4-4.9l1.3-4.8l1.2-4.9l1-4.9l.9-5l1-4.9l1.2-4.9l1.2-4.9l1.4-4.8l1.6-4.8l1.5-4.8l1.7-4.7l1.7-4.7l1.9-4.7l2.2-4.5l2.6-4.3l2.9-4.1l1.9-2.2l2.2-2.1l2.5-2.2l2.8-2.1l3.1-2.2l3.5-2.1l4.1-2.2l4.4-2.1l4.5-2.2l5.3-2.5l4.6-2.1l4.8-2.2l4.9-2.1l5-2.1l4.8-2.2l4.7-2.1l5.2-2.1l7.2-2.2l9.8-2.1l11.2-2.1l12.3-2.2l13.6-2.1l14.8-2.2l17-2.1l19.5-2.2l22.3-2.1l21.7-2.2l19-2.1l18.7-2.2l19.5-2.1l19.9-2.2l21.1-2.1l22.4-2.2l22.7-2.1l22.9-2.2l22.9-2.1l22.5-2.1l21.3-2.1l20.4-2l19.1-2l17.6-1.9l16.4-1.8l16.2-1.8l15.8-1.8l15.4-1.8l15.6-1.9l10.6-1.3" marker-start="url(#g25)" marker-mid="url(#g25)" marker-end="url(#g25)"/>
<path d="M106.2 545.1l.1-5l.1-5l.1-5l0-5l.1-5l.1-5l.2-5l.1-5l.1-5l.1-5l.1-5l.1-5l.2-5l.1-5l.1-5l.2-5l.1-5l.2-5l.1-5l.1-5l.2-5l.1-5l.1-5l.2-5l.1-5l.1-5l.2-5l.1-5l.2-5l.3-5l.2-5l.4-5l.4-5l.9-5l1.2-4.8l1.7-4.7l2-4.7l2-4.6l2.2-4.5l2.2-4.5l2.2-4.5l2-4.6l2-4.6l1.9-4.7l1.9-4.6l1.9-4.7l1.8-4.7l1.8-4.7l1.7-4.7l1.7-4.8l1.6-4.7l1.5-4.8l1.5-4.8l1.5-4.8l1.4-4.9l1.3-4.8l1.1-4.9l1-4.9l1-5l1-4.9l1.1-4.9l1.3-4.9l1.4-4.8l1.5-4.8l1.6-4.8l1.7-4.7l1.7-4.7l1.9-4.7l2.2-4.5l2.5-4.3l3-4.1l1.9-2.2l2.1-2.1l2.5-2.2l2.8-2.1l3.1-2.2l3.5-2.1l4-2.2l4.4-2.1l4.5-2.2l5.4-2.5l4.6-2.2l4.8-2.1l4.9-2.1l5-2.2l4.9-2.1l4.6-2.2l5.2-2.1l7.2-2.1l9.8-2.2l11.2-2.1l12.3-2.2l13.6-2.1l14.8-2.2l17.1-2.1l19.4-2.2l22.3-2.1l21.7-2.2l19.1-2.1l18.6-2.2l19.5-2.1l20-2.2l21.1-2.1l22.4-2.2l22.7-2.1l22.8-2.2l22.9-2.1l22.5-2.1l21.3-2.1l20.4-2l19.1-2l17.7-1.9l16.4-1.8l16.1-1.8l15.8-1.8l15.5-1.8l15.6-1.9l10.6-1.3" marker-start="url(#g26)" marker-mid="url(#g26)" marker-end="url(#g26)"/>
<path d="M106.2 545.1l.1-5l.1-5l.1-5l0-5l.1-5l.1-5l.2-5l.1-5l.1-5l.1-5l.1-5l.1-5l.2-5l.1-5l.1-5l.2-5l.1-5l.2-5l.1-5l.1-5l.2-5l.1-5l.1-5l.2-5l.1-5l.1-5l.2-5l.1-5l.2-5l.3-5l.2-5l.4-5l.4-5l.9-5l1.2-4.8l1.8-4.7l1.9-4.6l2-4.6l2.2-4.6l2.2-4.5l2.2-4.5l2-4.6l2-4.6l2-4.6l1.9-4.7l1.8-4.6l1.8-4.7l1.8-4.7l1.7-4.7l1.7-4.8l1.6-4.7l1.6-4.8l1.5-4.8l1.4-4.8l1.4-4.9l1.3-4.8l1.2-4.9l1-4.9l1-5l1-4.9l1.1-4.9l1.3-4.9l1.4-4.8l1.5-4.8l1.6-4.8l1.6-4.7l1.7-4.7l1.9-4.7l2.2-4.5l2.6-4.3l2.9-4.1l1.9-2.2l2.1-2.1l2.5-2.2l2.8-2.1l3.1-2.2l3.4-2.1l4-2.2l4.4-2.1l4.5-2.2l5.5-2.6l4.7-2.1l4.7-2.2l4.9-2.1l5-2.2l4.9-2.1l4.6-2.1l5.2-2.2l7.2-2.1l9.8-2.2l11.3-2.1l12.3-2.2l13.6-2.1l14.7-2.2l17.1-2.1l19.4-2.2l22.3-2.1l21.7-2.2l19.1-2.1l18.6-2.2l19.5-2.1l20-2.2l21.1-2.1l22.4-2.2l22.7-2.1l22.8-2.2l22.9-2.1l22.5-2.1l21.3-2.1l20.5-2l19.1-2l17.6-1.9l16.4-1.8l16.2-1.8l15.8-1.8l15.4-1.8l15.6-1.9l10.7-1.3" marker-start="url(#g27)" marker-mid="url(#g27)" marker-end="url(#g27)"/>
<path d="M106.2 545.1l.1-5l.1-5l.1-5l0-5l.1-5l.1-5l.2-5l.1-5l.1-5l.1-5l.1-5l.1-5l.2-5l.1-5l.1-5l.2-5l.1-5l.2-5l.1-5l.1-5l.2-5l.1-5l.1-5l.2-5l.1-5l.1-5l.2-5l.1-5l.2-5l.3-5l.2-5l.4-5l.4-5l.9-5l1.2-4.8l1.8-4.7l1.9-4.6l2-4.6l2.2-4.6l2.2-4.5l2.2-4.5l2-4.6l2-4.6l2-4.6l1.9-4.7l1.8-4.6l1.8-4.7l1.8-4.7l1.7-4.7l1.7-4.8l1.6-4.7l1.6-4.8l1.5-4.8l1.4-4.8l1.4-4.9l1.3-4.8l1.2-4.9l1-4.9l1-5l1-4.9l1.1-4.9l1.3-4.9l1.4-4.8l1.5-4.8l1.6-4.8l1.6-4.7l1.7-4.7l1.9-4.7l2.2-4.5l2.6-4.3l2.9-4.1l1.9-2.2l2.1-2.1l2.5-2.2l2.8-2.1l3.1-2.2l3.4-2.1l4-2.2l4.4-2.1l4.5-2.2l5.5-2.6l4.7-2.1l4.7-2.2l4.9-2.1l5-2.2l4.9-2.1l4.6-2.1l5.2-2.2l7.2-2.1l9.8-2.2l11.3-2.1l12.3-2.2l13.6-2.1l14.7-2.2l17.1-2.1l19.4-2.2l22.3-2.1l21.7-2.2l19.1-2.1l18.6-2.2l19.5-2.1l20-2.2l21.1-2.1l22.4-2.2l22.7-2.1l22.8-2.2l22.9-2.1l22.5-2.1l21.3-2.1l20.5-2l19.1-2l17.6-1.9l16.4-1.8l16.2-1.8l15.8-1.8l15.4-1.8l15.6-1.9l10.7-1.3" marker-start="url(#g28)" marker-mid="url(#g28)" marker-end="url(#g28)"/>
<path d="M106.2 545.1l.1-5l.1-5l.1-5l0-5l.1-5l.1-5l.2-5l.1-5l.1-5l.1-5l.1-5l.1-5l.2-5l.1-5l.1-5l.2-5l.1-5l.2-5l.1-5l.1-5l.2-5l.1-5l.1-5l.2-5l.1-5l.1-5l.2-5l.1-5l.2-5l.3-5l.2-5l.4-5l.4-5l.9-5l1.2-4.8l1.8-4.7l1.9-4.6l2-4.6l2.2-4.6l2.2-4.5l2.2-4.5l2-4.6l2-4.6l2-4.6l1.9-4.7l1.8-4.6l1.9-4.7l1.7-4.7l1.7-4.7l1.7-4.8l1.6-4.7l1.6-4.8l1.5-4.8l1.4-4.8l1.4-4.9l1.3-4.8l1.2-4.9l1-4.9l1-5l1-4.9l1.1-4.9l1.3-4.9l1.4-4.8l1.5-4.8l1.6-4.8l1.6-4.7l1.7-4.7l1.9-4.7l2.2-4.5l2.6-4.3l2.9-4.1l1.9-2.2l2.1-2.1l2.5-2.2l2.8-2.1l3.1-2.2l3.5-2.1l3.9-2.2l4.4-2.1l4.6-2.2l5.4-2.6l4.7-2.1l4.7-2.2l4.9-2.1l5-2.1l4.9-2.2l4.6-2.1l5.2-2.2l7.2-2.1l9.8-2.2l11.3-2.1l12.3-2.2l13.6-2.1l14.7-2.2l17.1-2.1l19.5-2.2l22.2-2.1l21.7-2.2l19.1-2.1l18.6-2.2l19.5-2.1l20-2.2l21.1-2.1l22.4-2.2l22.7-2.1l22.8-2.2l22.9-2.1l22.5-2.1l21.4-2.1l20.4-2l19.1-2l17.6-1.9l16.4-1.8l16.2-1.8l15.8-1.8l15.5-1.8l15.5-1.9l10.7-1.3" marker-start="url(#g29)" marker-mid="url(#g29)" marker-end="url(#g29)"/>
<path d="M106.2 545.1l.1-5l.1-5l.1-5l0-5l.1-5l.1-5l.2-5l.1-5l.1-5l.1-5l.1-5l.1-5l.2-5l.1-5l.1-5l.2-5l.1-5l.2-5l.1-5l.1-5l.2-5l.1-5l.1-5l.2-5l.1-5l.1-5l.2-5l.1-5l.2-5l.3-5l.2-5l.4-5l.4-5l.9-5l1.2-4.8l1.7-4.7l2-4.7l2-4.6l2.2-4.5l2.2-4.5l2.2-4.5l2-4.6l2-4.6l1.9-4.7l1.9-4.6l1.9-4.7l1.8-4.7l1.8-4.7l1.7-4.7l1.7-4.8l1.6-4.7l1.5-4.8l1.5-4.8l1.5-4.8l1.4-4.9l1.2-4.8l1.2-4.9l1-4.9l1-5l1-4.9l1.1-4.9l1.3-4.9l1.4-4.8l1.5-4.8l1.6-4.8l1.7-4.7l1.7-4.7l1.9-4.7l2.2-4.5l2.5-4.3l3-4.1l1.8-2.2l2.2-2.1l2.5-2.2l2.8-2.1l3.1-2.2l3.5-2.1l4-2.2l4.4-2.1l4.5-2.2l5.4-2.5l4.6-2.2l4.8-2.1l4.9-2.2l5-2.1l4.9-2.1l4.6-2.2l5.2-2.1l7.2-2.1l9.8-2.2l11.2-2.1l12.3-2.2l13.6-2.1l14.8-2.2l17.1-2.1l19.4-2.2l22.3-2.1l21.7-2.2l19.1-2.1l18.6-2.2l19.5-2.1l20-2.2l21.1-2.1l22.4-2.2l22.7-2.1l22.8-2.2l22.9-2.1l22.5-2.1l21.3-2.1l20.4-2l19.1-2l17.7-1.9l16.4-1.8l16.1-1.8l15.8-1.8l15.5-1.8l15.6-1.9l10.6-1.3" marker-start="url(#g30)" marker-mid="url(#g30)" marker-end="url(#g30)"/>
<path d="M106.2 545.1l.1-5l.1-5l.1-5l0-5l.1-5l.1-5l.2-5l.1-5l.1-5l.1-5l.1-5l.1-5l.2-5l.1-5l.1-5l.2-5l.1-5l.2-5l.1-5l.1-5l.2-5l.1-5l.1-5l.2-5l.1-5l.1-5l.2-5l.1-5l.2-5l.3-5l.2-5l.4-5l.4-5l.9-5l1.2-4.8l1.8-4.7l1.9-4.6l2-4.6l2.2-4.6l2.2-4.5l2.2-4.5l2.1-4.6l1.9-4.6l2-4.6l1.9-4.7l1.8-4.6l1.9-4.7l1.7-4.7l1.8-4.7l1.6-4.8l1.6-4.7l1.6-4.8l1.5-4.8l1.5-4.8l1.4-4.9l1.2-4.8l1.2-4.9l1-4.9l1-5l1-4.9l1.1-4.9l1.3-4.9l1.4-4.8l1.5-4.8l1.6-4.8l1.7-4.7l1.7-4.7l1.9-4.7l2.2-4.5l2.5-4.3l3-4.1l1.8-2.2l2.2-2.1l2.5-2.2l2.8-2.1l3-2.2l3.5-2.1l4-2.2l4.4-2.1l4.5-2.2l5.4-2.5l4.7-2.2l4.7-2.1l4.9-2.2l5-2.1l4.9-2.2l4.6-2.1l5.2-2.2l7.2-2.1l9.8-2.2l11.3-2.1l12.3-2.2l13.6-2.1l14.8-2.2l17-2.1l19.5-2.2l22.2-2.1l21.7-2.2l19.1-2.1l18.7-2.2l19.4-2.1l20-2.2l21.1-2.1l22.4-2.2l22.7-2.1l22.9-2.2l22.9-2.1l22.5-2.1l21.3-2.1l20.4-2l19.1-2l17.6-1.9l16.5-1.8l16.1-1.8l15.8-1.8l15.5-1.8l15.5-1.9l10.8-1.3" marker-start="url(#g31)" marker-mid="url(#g31)" marker-end="url(#g31)"/>
<path d="M106.2 545.1l.1-5l.1-5l.1-5l0-5l.1-5l.1-5l.2-5l.1-5l.1-5l.1-5l.1-5l.1-5l.2-5l.1-5l.1-5l.2-5l.1-5l.2-5l.1-5l.1-5l.2-5l.1-5l.1-5l.2-5l.1-5l.1-5l.2-5l.1-5l.2-5l.3-5l.2-5l.4-5l.4-5l.9-5l1.2-4.8l1.8-4.7l1.9-4.6l2-4.6l2.2-4.6l2.2-4.5l2.2-4.5l2-4.6l2-4.6l2-4.6l1.9-4.7l1.8-4.6l1.9-4.7l1.7-4.7l1.7-4.7l1.7-4.8l1.6-4.7l1.6-4.8l1.5-4.8l1.4-4.8l1.4-4.9l1.3-4.8l1.2-4.9l1-4.9l1-5l1-4.9l1.1-4.9l1.3-4.9l1.4-4.8l1.5-4.8l1.6-4.8l1.6-4.7l1.7-4.7l1.9-4.7l2.2-4.5l2.6-4.3l2.9-4.1l1.9-2.2l2.1-2.1l2.5-2.2l2.8-2.1l3.1-2.2l3.5-2.1l3.9-2.2l4.4-2.1l4.6-2.2l5.4-2.6l4.7-2.1l4.7-2.1l4.9-2.2l5-2.1l4.9-2.2l4.6-2.1l5.2-2.2l7.2-2.1l9.8-2.2l11.3-2.1l12.3-2.2l13.6-2.1l14.7-2.2l17.1-2.1l19.5-2.2l22.2-2.1l21.7-2.2l19.1-2.1l18.6-2.2l19.5-2.1l20-2.2l21.1-2.1l22.4-2.2l22.7-2.1l22.8-2.2l22.9-2.1l22.5-2.1l21.4-2.1l20.4-2l19.1-2l17.6-1.9l16.4-1.8l16.2-1.8l15.8-1.8l15.5-1.8l15.5-1.9l10.7-1.3" marker-start="url(#g32)" marker-mid="url(#g32)" marker-end="url(#g32)"/>
<path d="M106.2 545.1l.1-5l.1-5l.1-5l0-5l.1-5l.1-5l.2-5l.1-5l.1-5l.1-5l.1-5l.1-5l.2-5l.1-5l.1-5l.2-5l.1-5l.2-5l.1-5l.1-5l.2-5l.1-5l.1-5l.2-5l.1-5l.1-5l.2-5l.1-5l.2-5l.3-5l.2-5l.4-5l.4-5l.9-5l1.2-4.8l1.8-4.7l1.9-4.6l2-4.6l2.2-4.6l2.2-4.5l2.2-4.5l2-4.6l2-4.6l2-4.6l1.9-4.7l1.8-4.6l1.8-4.7l1.8-4.7l1.7-4.7l1.7-4.8l1.6-4.7l1.6-4.8l1.5-4.8l1.4-4.8l1.4-4.9l1.3-4.8l1.2-4.9l1-4.9l1-5l1-4.9l1.1-4.9l1.3-4.9l1.4-4.8l1.5-4.8l1.6-4.8l1.6-4.7l1.7-4.7l1.9-4.7l2.2-4.5l2.6-4.3l2.9-4.1l1.9-2.2l2.1-2.1l2.5-2.2l2.8-2.1l3.1-2.2l3.4-2.1l4-2.2l4.4-2.1l4.5-2.2l5.5-2.6l4.7-2.1l4.7-2.2l4.9-2.1l5-2.2l4.9-2.1l4.6-2.1l5.2-2.2l7.2-2.1l9.8-2.2l11.3-2.1l12.3-2.2l13.6-2.1l14.7-2.2l17.1-2.1l19.4-2.2l22.3-2.1l21.7-2.2l19.1-2.1l18.6-2.2l19.5-2.1l20-2.2l21.1-2.1l22.4-2.2l22.7-2.1l22.8-2.2l22.9-2.1l22.5-2.1l21.3-2.1l20.5-2l19.1-2l17.6-1.9l16.4-1.8l16.2-1.8l15.8-1.8l15.4-1.8l15.6-1.9l10.7-1.3" marker-start="url(#g33)" marker-mid="url(#g33)" marker-end="url(#g33)"/>
<path d="M106.2 545.1l.1-5l.1-5l.1-5l0-5l.1-5l.1-5l.2-5l.1-5l.1-5l.1-5l.1-5l.1-5l.2-5l.1-5l.1-5l.2-5l.1-5l.2-5l.1-5l.1-5l.2-5l.1-5l.1-5l.2-5l.1-5l.1-5l.2-5l.2-5l.1-5l.3-5l.2-5l.4-5l.4-5l.9-5l1.2-4.9l1.7-4.7l2-4.7l2-4.6l2.1-4.5l2.2-4.5l2.2-4.6l2-4.6l1.9-4.6l2-4.7l1.8-4.6l1.9-4.7l1.8-4.7l1.7-4.7l1.8-4.8l1.6-4.7l1.6-4.8l1.5-4.8l1.5-4.8l1.4-4.8l1.4-4.8l1.3-4.9l1.1-4.9l1-4.9l1-4.9l1-5l1.1-4.9l1.3-4.8l1.4-4.9l1.5-4.8l1.6-4.7l1.6-4.8l1.7-4.7l1.9-4.7l2.3-4.5l2.5-4.3l3-4.1l1.9-2.1l2.2-2.2l2.5-2.1l2.8-2.2l3.1-2.1l3.6-2.2l4-2.1l4.4-2.2l4.5-2.1l5.5-2.6l4.7-2.2l4.8-2.1l4.9-2.1l4.9-2.2l4.9-2.1l4.7-2.1l5.1-2.1l7.2-2l9.8-2.2l11.3-2.1l12.3-2.1l13.6-2.2l14.7-2.1l17.1-2.2l19.4-2.1l22.3-2.2l21.7-2.1l19-2.2l18.7-2.1l19.4-2.2l20-2.1l21.1-2.2l22.4-2.1l22.7-2.1l22.8-2.2l22.9-2.1l22.5-2.1l21.3-2.1l20.4-2l19-2l17.7-1.9l16.4-1.8l16.1-1.8l15.8-1.8l15.5-1.8l15.6-1.9l10.5-1.3" marker-start="url(#g34)" marker-mid="url(#g34)" marker-end="url(#g34)"/>
<path d="M106.2 545.1l.1-5l.1-5l.1-5l0-5l.1-5l.1-5l.2-5l.1-5l.1-5l.1-5l.1-5l.1-5l.2-5l.1-5l.1-5l.2-5l.1-5l.2-5l.1-5l.1-5l.2-5l.1-5l.1-5l.2-5l.1-5l.1-5l.2-5l.2-5l.1-5l.3-5l.2-5l.4-5l.4-5l.9-5l1.2-4.9l1.7-4.7l2-4.7l2-4.6l2.1-4.5l2.2-4.5l2.2-4.6l2-4.6l2-4.6l1.9-4.7l1.9-4.6l1.8-4.7l1.8-4.7l1.8-4.7l1.7-4.8l1.6-4.7l1.6-4.8l1.5-4.8l1.5-4.8l1.5-4.8l1.3-4.8l1.3-4.9l1.2-4.9l1-4.9l.9-4.9l1-5l1.1-4.9l1.3-4.8l1.4-4.9l1.5-4.8l1.6-4.7l1.6-4.8l1.8-4.7l1.9-4.7l2.2-4.5l2.6-4.3l2.9-4.1l1.9-2.1l2.2-2.2l2.5-2.1l2.8-2.2l3.2-2.1l3.5-2.2l4-2.1l4.4-2.2l4.6-2.1l5.4-2.6l4.7-2.2l4.8-2.1l4.9-2.1l4.9-2.1l4.9-2.2l4.7-2.1l5.1-2.1l7.2-2l9.8-2.1l11.3-2.2l12.3-2.1l13.6-2.2l14.7-2.1l17.1-2.1l19.4-2.2l22.3-2.2l21.7-2.1l19-2.2l18.7-2.1l19.5-2.2l19.9-2.1l21.1-2.2l22.4-2.1l22.7-2.1l22.8-2.2l22.9-2.1l22.5-2.1l21.3-2.1l20.4-2l19.1-2l17.6-1.9l16.4-1.8l16.1-1.8l15.8-1.8l15.5-1.8l15.6-1.9l10.5-1.3" marker-start="url(#g35)" marker-mid="url(#g35)" marker-end="url(#g35)"/>
<path d="M106.2 545.1l.1-5l.1-5l.1-5l0-5l.1-5l.1-5l.2-5l.1-5l.1-5l.1-5l.1-5l.1-5l.2-5l.1-5l.1-5l.2-5l.1-5l.2-5l.1-5l.1-5l.2-5l.1-5l.1-5l.2-5l.1-5l.1-5l.2-5l.2-5l.1-5l.3-5l.2-5l.4-5l.4-5l.9-5l1.2-4.9l1.7-4.7l2-4.7l2-4.6l2.1-4.5l2.2-4.5l2.2-4.6l2-4.6l1.9-4.6l2-4.7l1.8-4.6l1.9-4.7l1.8-4.7l1.7-4.7l1.8-4.8l1.6-4.7l1.6-4.8l1.5-4.8l1.5-4.8l1.4-4.8l1.4-4.8l1.3-4.9l1.1-4.9l1-4.9l1-4.9l1-5l1.1-4.9l1.3-4.8l1.4-4.9l1.5-4.8l1.6-4.7l1.6-4.8l1.7-4.7l1.9-4.7l2.3-4.5l2.5-4.3l3-4.1l1.9-2.1l2.2-2.2l2.5-2.1l2.8-2.2l3.1-2.1l3.6-2.2l4-2.1l4.4-2.2l4.5-2.1l5.5-2.6l4.7-2.2l4.8-2.1l4.9-2.1l4.9-2.2l4.9-2.1l4.7-2.1l5.1-2.1l7.2-2l9.8-2.2l11.3-2.1l12.3-2.1l13.6-2.2l14.7-2.1l17.1-2.2l19.4-2.1l22.3-2.2l21.7-2.1l19-2.2l18.7-2.1l19.4-2.2l20-2.1l21.1-2.2l22.4-2.1l22.7-2.1l22.8-2.2l22.9-2.1l22.5-2.1l21.3-2.1l20.4-2l19-2l17.7-1.9l16.4-1.8l16.1-1.8l15.8-1.8l15.5-1.8l15.6-1.9l10.5-1.3" marker-start="url(#g36)" marker-mid="url(#g36)" marker-end="url(#g36)"/>
<path d="M106.2 545.1l.1-5l.1-5l.1-5l0-5l.1-5l.1-5l.2-5l.1-5l.1-5l.1-5l.1-5l.1-5l.2-5l.1-5l.1-5l.2-5l.1-5l.2-5l.1-5l.1-5l.2-5l.1-5l.1-5l.2-5l.1-5l.1-5l.2-5l.2-5l.1-5l.3-5l.2-5l.4-5l.4-5l.9-5l1.2-4.9l1.7-4.7l2-4.7l2-4.6l2.1-4.5l2.2-4.5l2.2-4.6l2-4.6l2-4.6l1.9-4.7l1.9-4.6l1.8-4.7l1.8-4.7l1.8-4.7l1.7-4.8l1.6-4.7l1.6-4.8l1.5-4.8l1.5-4.8l1.5-4.8l1.3-4.8l1.3-4.9l1.2-4.9l1-4.9l.9-4.9l1-5l1.1-4.9l1.3-4.8l1.4-4.9l1.5-4.8l1.6-4.7l1.6-4.8l1.8-4.7l1.9-4.7l2.2-4.5l2.6-4.3l2.9-4.1l1.9-2.1l2.2-2.2l2.5-2.1l2.8-2.2l3.2-2.1l3.5-2.2l4-2.1l4.4-2.2l4.6-2.1l5.4-2.6l4.7-2.2l4.8-2.1l4.9-2.1l4.9-2.1l4.9-2.2l4.7-2.1l5.1-2.1l7.2-2l9.8-2.1l11.3-2.2l12.3-2.1l13.6-2.2l14.7-2.1l17.1-2.1l19.4-2.2l22.3-2.2l21.7-2.1l19-2.2l18.7-2.1l19.5-2.2l19.9-2.1l21.1-2.2l22.4-2.1l22.7-2.1l22.8-2.2l22.9-2.1l22.5-2.1l21.3-2.1l20.4-2l19.1-2l17.6-1.9l16.4-1.8l16.1-1.8l15.8-1.8l15.5-1.8l15.6-1.9l10.5-1.3" marker-start="url(#g37)" marker-mid="url(#g37)" marker-end="url(#g37)"/>
<path d="M106.2 545.1l.1-5l.1-5l.1-5l0-5l.1-5l.1-5l.2-5l.1-5l.1-5l.1-5l.1-5l.1-5l.2-5l.1-5l.1-5l.2-5l.1-5l.2-5l.1-5l.1-5l.2-5l.1-5l.1-5l.2-5l.1-5l.1-5l.2-5l.1-5l.2-5l.3-5l.2-5l.4-5l.4-5l.9-5l1.2-4.9l1.7-4.7l2-4.6l2-4.6l2.1-4.6l2.2-4.5l2.2-4.5l2.1-4.6l1.9-4.7l2-4.6l1.9-4.7l1.8-4.6l1.8-4.7l1.8-4.7l1.7-4.8l1.7-4.7l1.5-4.8l1.6-4.8l1.5-4.8l1.4-4.8l1.4-4.8l1.3-4.9l1.2-4.9l1-4.9l.9-4.9l1-5l1.1-4.9l1.3-4.8l1.4-4.9l1.5-4.8l1.6-4.7l1.7-4.8l1.7-4.7l1.9-4.6l2.2-4.5l2.6-4.4l2.9-4.1l1.9-2.1l2.2-2.2l2.5-2.1l2.8-2.2l3.1-2.1l3.6-2.2l4-2.1l4.4-2.2l4.5-2.1l5.4-2.6l4.6-2.1l4.8-2.1l4.9-2.2l4.9-2.1l4.9-2.2l4.7-2.1l5.1-2.1l7.3-2.1l9.7-2.1l11.3-2.2l12.3-2.1l13.6-2.1l14.8-2.2l17-2.1l19.5-2.2l22.3-2.1l21.6-2.2l19.1-2.2l18.6-2.1l19.5-2.2l20-2.1l21.1-2.1l22.4-2.2l22.7-2.1l22.8-2.2l22.9-2.1l22.5-2.1l21.3-2.1l20.4-2l19.1-2l17.6-1.9l16.5-1.8l16.1-1.8l15.8-1.8l15.5-1.8l15.5-1.9l10.6-1.3" marker-start="url(#g38)" marker-mid="url(#g38)" marker-end="url(#g38)"/>
<path d="M106.2 545.1l.1-5l.1-5l.1-5l0-5l.1-5l.1-5l.2-5l.1-5l.1-5l.1-5l.1-5l.1-5l.2-5l.1-5l.1-5l.2-5l.1-5l.2-5l.1-5l.1-5l.2-5l.1-5l.1-5l.2-5l.1-5l.1-5l.2-5l.1-5l.2-5l.3-5l.2-5l.4-5l.4-5l.9-5l1.2-4.9l1.8-4.7l1.9-4.6l2-4.6l2.1-4.6l2.3-4.5l2.2-4.5l2-4.6l2-4.7l1.9-4.6l1.9-4.7l1.9-4.6l1.8-4.7l1.7-4.7l1.7-4.8l1.7-4.7l1.6-4.8l1.5-4.8l1.6-4.8l1.4-4.8l1.4-4.8l1.2-4.9l1.2-4.9l1-4.9l1-4.9l1-5l1.1-4.9l1.3-4.8l1.4-4.9l1.5-4.8l1.6-4.7l1.6-4.8l1.7-4.7l1.9-4.6l2.3-4.5l2.5-4.4l3-4.1l1.9-2.1l2.2-2.2l2.5-2.1l2.8-2.2l3.1-2.1l3.5-2.2l4.1-2.1l4.4-2.2l4.5-2.1l5.3-2.5l4.6-2.2l4.8-2.1l4.9-2.1l4.9-2.2l4.9-2.1l4.7-2.2l5.2-2.1l7.2-2.1l9.8-2.1l11.2-2.2l12.3-2.1l13.6-2.1l14.8-2.2l17-2.1l19.5-2.2l22.3-2.1l21.7-2.2l19-2.2l18.7-2.1l19.5-2.2l19.9-2.1l21.1-2.1l22.4-2.2l22.7-2.1l22.8-2.2l22.9-2.1l22.5-2.1l21.3-2.1l20.4-2l19.1-2l17.7-1.9l16.4-1.8l16.1-1.8l15.8-1.8l15.5-1.8l15.6-1.9l10.6-1.3" marker-start="url(#g39)" marker-mid="url(#g39)" marker-end="url(#g39)"/>
<path d="M106.2 545.1l.1-5l.1-5l.1-5l0-5l.1-5l.1-5l.2-5l.1-5l.1-5l.1-5l.1-5l.1-5l.2-5l.1-5l.1-5l.2-5l.1-5l.2-5l.1-5l.1-5l.2-5l.1-5l.1-5l.2-5l.1-5l.1-5l.2-5l.1-5l.2-5l.3-5l.2-5l.4-5l.4-5l.9-5l1.2-4.9l1.8-4.7l1.9-4.6l2-4.6l2.2-4.6l2.2-4.5l2.2-4.5l2-4.6l2-4.7l1.9-4.6l1.9-4.7l1.9-4.6l1.8-4.7l1.8-4.7l1.7-4.8l1.6-4.7l1.6-4.8l1.6-4.8l1.5-4.8l1.4-4.8l1.4-4.8l1.3-4.9l1.1-4.9l1.1-4.9l.9-4.9l1-5l1.1-4.9l1.3-4.8l1.4-4.9l1.5-4.8l1.6-4.7l1.7-4.8l1.7-4.7l1.9-4.6l2.2-4.5l2.6-4.4l2.9-4.1l1.9-2.1l2.2-2.2l2.5-2.1l2.9-2.2l3.1-2.1l3.5-2.2l4-2.1l4.4-2.2l6.8-3.2l4.6-2.2l4.8-2.1l4.9-2.2l4.9-2.2l4.9-2.1l4.7-2.1l5.2-2.3l7.2-2.5l9.8-2.3l11.2-2.2l12.3-2.2l13.6-2.2l14.8-2.2l17-2.2l19.5-2.2l22.3-2.2l21.7-2.1l19-2.1l18.7-2.2l19.5-2.1l19.9-2.2l21.1-2.1l22.4-2.2l22.7-2.1l22.8-2.2l22.9-2.1l22.5-2.1l21.3-2.1l20.5-2l19-2l17.7-1.9l16.4-1.8l16.1-1.8l15.8-1.8l15.5-1.8l15.6-1.8l10.7-1.3l2.9-.4" marker-start="url(#g40)" marker-mid="url(#g40)" marker-end="url(#g40)"/>
<path d="M106.2 545.1l.1-5l.1-5l.1-5l0-5l.1-5l.1-5l.2-5l.1-5l.1-5l.1-5l.1-5l.1-5l.2-5l.1-5l.1-5l.2-5l.1-5l.2-5l.1-5l.1-5l.2-5l.1-5l.1-5l.2-5l.1-5l.1-5l.2-5l.1-5l.2-5l.3-5l.2-5l.4-5l.4-5l.9-5l1.2-4.8l1.7-4.7l2-4.7l2-4.6l2.2-4.5l2.2-4.5l2.2-4.5l2-4.6l2-4.6l1.9-4.7l1.9-4.6l1.9-4.7l1.8-4.7l1.8-4.7l1.7-4.7l1.7-4.8l1.6-4.7l1.5-4.8l1.5-4.8l1.5-4.8l1.4-4.9l1.3-4.8l1.1-4.9l1-4.9l1-5l1-4.9l1.1-4.9l1.3-4.9l1.4-4.8l1.5-4.8l1.6-4.8l1.7-4.7l1.7-4.7l1.9-4.7l2.2-4.5l2.5-4.3l3-4.1l1.9-2.2l2.1-2.1l2.5-2.2l2.8-2.1l3.1-2.2l3.5-2.1l4-2.2l4.4-2.1l6.9-3.3l4.6-2.2l4.8-2.2l4.9-2.1l5-2.2l4.9-2.1l4.6-2.1l5.2-2.3l7.2-2.5l9.8-2.4l11.2-2.2l12.3-2.2l13.6-2.2l14.8-2.2l17.1-2.2l19.4-2.2l22.3-2.1l21.7-2.2l19.1-2.1l18.6-2.1l19.5-2.2l20-2.2l21.1-2.1l22.4-2.2l22.7-2.1l22.8-2.2l22.9-2.1l22.5-2.1l21.3-2.1l20.4-2l19.1-2l17.7-1.9l16.4-1.8l16.1-1.8l15.8-1.8l15.5-1.8l15.6-1.8l10.7-1.3l2.9-.4" marker-start="url(#g41)" marker-mid="url(#g41)" marker-end="url(#g41)"/>
<path d="M106.2 545.1l.1-5l.1-5l.1-5l0-5l.1-5l.1-5l.2-5l.1-5l.1-5l.1-5l.1-5l.1-5l.2-5l.1-5l.1-5l.2-5l.1-5l.2-5l.1-5l.1-5l.2-5l.1-5l.1-5l.2-5l.1-5l.1-5l.2-5l.1-5l.2-5l.3-5l.2-5l.4-5l.4-5l.9-5l1.2-4.8l1.7-4.7l2-4.7l2-4.6l2.2-4.5l2.2-4.5l2.2-4.5l2-4.6l2-4.6l1.9-4.7l1.9-4.6l1.9-4.7l1.8-4.7l1.8-4.7l1.7-4.7l1.7-4.8l1.6-4.7l1.5-4.8l1.5-4.8l1.5-4.8l1.4-4.9l1.3-4.8l1.1-4.9l1-4.9l1-5l1-4.9l1.1-4.9l1.3-4.9l1.4-4.8l1.5-4.8l1.6-4.8l1.7-4.7l1.7-4.7l1.9-4.7l2.2-4.5l2.5-4.3l3-4.1l1.9-2.2l2.1-2.1l2.5-2.2l2.8-2.1l3.1-2.2l3.5-2.1l4-2.2l4.4-2.1l4.9-.7l4.6-2.3l4.8-2.2l4.9-2.2l5-2.1l4.9-2.2l4.6-2l5.2-2.4l7.2-2.8l9.8-2.5l11.2-2.2l12.3-2.2l13.6-2.3l14.8-2.2l17.1-2.2l19.4-2.2l22.3-2.3l21.7-2l19.1-2.2l18.6-2.1l19.5-2.2l20-2.1l21.1-2.2l22.4-2.2l22.7-2.1l22.8-2.2l22.9-2.1l22.5-2.1l21.3-2.1l20.4-2l19.1-2l17.7-1.9l16.4-1.8l16.1-1.8l15.8-1.7l15.5-1.8l15.6-1.9l10.7-1.3l4.9-2.2" marker-start="url(#g42)" marker-mid="url(#g42)" marker-end="url(#g42)"/>
<path d="M106.2 545.1l0-2.2l.1-2.2l0-2.2l0-2.2l.1-2.2l0-2.2l.1-2.2l0-2.2l0-2.2l.1-2.2l0-2.2l.1-2.2l0-2.2l.1-2.2l0-2.2l.1-2.2l0-2.2l.1-2.2l0-2.2l.1-2.2l0-2.2l.1-2.2l0-2.2l.1-2.2l0-2.2l.1-2.2l0-2.2l.1-2.2l0-2.2l.1-2.2l.1-2.2l0-2.2l.1-2.2l0-2.2l.1-2.2l.1-2.2l0-2.2l.1-2.2l0-2.2l.1-2.2l.1-2.2l0-2.2l.1-2.2l0-2.2l.1-2.2l.1-2.2l0-2.2l.1-2.2l.1-2.2l0-2.2l.1-2.2l0-2.2l.1-2.2l0-2.2l.1-2.2l0-2.2l.1-2.2l.1-2.2l0-2.2l.1-2.2l0-2.2l.1-2.2l.1-2.2l.1-2.2l.1-2.2l.1-2.2l.1-2.2l.1-2.2l.1-2.2l.1-2.2l.1-2.2l.1-2.2l.2-2.2l.2-2.2l.2-2.2l.4-2.2l.4-2.2l.5-2.2l.5-2.1l.7-2.2l.7-2.1l.9-2l.8-2.1l.9-2l.9-2.1l.9-2l.9-2.1l1-2l1-2l1-2l1-2l1-2l.9-2l.9-2l.9-2l.9-2.1l.9-2l.9-2.1l.8-2l.9-2.1l.8-2l.9-2.1l.8-2l.8-2.1l.8-2l.8-2.1l.8-2.1l.8-2.1l.8-2.1l.8-2.1l.7-2.1l.8-2.1l.7-2.1l.7-2.1l.7-2.1l.7-2.1l.7-2.1l.7-2.1l.7-2.1l.6-2.1l.7-2.2l.7-2.1l.6-2.2l.6-2.1l.6-2.2l.6-2.1l.5-2.2l.6-2.1l.5-2.2l.4-2.1l.5-2.2l.4-2.2l.5-2.2l.4-2.2l.4-2.2l.5-2.2l.4-2.2l.6-2.1l.5-2.2l.6-2.1l.6-2.2l.6-2.1l.6-2.2l.7-2.1l.7-2.1l.7-2.1l.7-2.1l.7-2.1l.7-2.1l.8-2.1l.8-2.1l.7-2.1l.9-2.1l.8-2l1-2l1-2l1-2l1.2-1.9l1.2-1.9l1.3-1.8l1.3-1.7l1.9-2.2l2.3-2.1l2.5-2.2l2.9-2.1l3.1-2.2l3.6-2.1l4-2.2l4.5-2.1l4.5-2.2l4.5-2.1l4.7-2.2l4.8-2.1l4.8-2.2l5-2.1l4.9-2.2l4.6-2.1l5.2-2.2l7.2-2.1l9.8-2.2l11.3-2.1l12.3-2.2l13.6-2.1l14.8-2.2l17-2.1l19.5-2.2l22.3-2.1l21.6-2.2l19.1-2.1l18.7-2.2l19.5-2.1l19.9-2.2l21.1-2.1l22.4-2.2l22.7-2.1l22.9-2.2l22.9-2.1l22.5-2.1l21.3-2.1l20.4-2l19.1-2l17.7-1.9l16.4-1.8l16.1-1.8l15.8-1.8l15.5-1.8l15.6-1.9l10.7-1.3" marker-start="url(#g43)" marker-mid="url(#g43)" marker-end="url(#g43)"/>
<path d="M104 102.8l10.9 2.4l10.6 2.1l13.6 2.2l17 2.2l14.3 2.1l13.8 2.1l15.3 2.4l15.8 2.3l19.7 2.4l19 2.2l21.2 2.3l22.3 2.1l21.5 2.3l21.8 2.2l23.1 2.3l22 2.3l19.4 2l18.8 2l19.6 2l19.8 2.1l20.6 2.3l18.9 2l14.8 1.9l13.1 2l12.2 2.1l11.2 2l10.3 2.1l9.5 2l8.9 2l8.2 2l7.4 1.9l6.8 1.9l7 2l7.2 2.3l6.9 2.6l6.9 3.1l6.3 3.4l3.6 2.1l3.2 2.2l2.9 2.1l2.7 2.2l2.5 2.1l2.4 2.2l2.2 2.1l1.5 1.6l1.5 1.7l1.4 1.7l1.4 1.7l1.3 1.8l1.2 1.9l1.2 1.9l1.2 1.9l1.1 1.9l1 2l1 2l1 2l1 2l.9 2l.8 2.1l.9 2l.8 2.1l.8 2.1l.8 2.1l.7 2.1l.7 2.1l.6 2.1l.6 2.2l.5 2.1l.5 2.2l.5 2.2l.4 2.2l.4 2.2l.4 2.2l.4 2.2l.4 2.2l.3 2.2l.4 2.2l.3 2.2l.3 2.2l.3 2.2l.3 2.2l.3 2.2l.2 2.2l.3 2.2l.2 2.2l.2 2.2l.3 2.2l.2 2.2l.2 2.2l.3 2.2l.2 2.2l.3 2.2l.2 2.2l.3 2.2l.3 2.2l.4 2.2l.3 2.2l.4 2.2l.5 2.2l.4 2.1l.5 2.2l.5 2.1l.5 2.2l.5 2.1l.5 2.2l.5 2.2l.4 2.2l.4 2.2l.4 2.2l.4 2.2l.4 2.2l.4 2.2l.4 2.2l.4 2.2l.3 2.2l.4 2.2l.4 2.2l.3 2.2l.4 2.2l.3 2.2l.4 2.2l.3 2.2l.4 2.2l.3 2.2l.3 2.2l.4 2.2l.3 2.2l.3 2.2l.3 2.2l.4 2.2l.3 2.2l.3 2.2l.3 2.2l.3 2.2l.3 2.2l.3 2.2l.3 2.2l.3 2.2l.2 2.2l.3 2.2l.3 2.2l.2 2.2l.3 2.2l.3 2.2l.2 2.2l.3 2.2l.2 2.2l.3 2.2l.2 2.2l.3 2.2l.2 2.2l.3 2.2l.2 2.2l.3 2.2l.2 2.2l.3 2.2l.2 2.2l.3 2.2l.3 2.2l.2 2.2l.3 2.2l.3 2.2l.2 2.2l.3 2.2l.2 2.2l.3 2.2l.2 2.2l.3 2.2l.2 2.2l.2 2.2l.2 2.2l.2 2.2l.2 2.2l.2 2.2l.1 2.2l.2 2.2l.2 2.2l.1 2.2l.2 2.2l.2 2.2l.1 2.2l.2 2.2l.1 2.2l.2 2.2l.1 2.2l.2 2.2l.1 2.2l.1 2.2l.2 2.2l.1 2.2l.1 2.2l.1 2.2l.2 2.2l.1 2.2l.1 2.2l.1 2.2l.1 2.2l.1 2.2l.1 2.2l0 2.2l.1 2.2l.1 2.2l.1 2.2l0 1.9" marker-start="url(#w0)" marker-mid="url(#w0)" marker-end="url(#w0)"/>
<path d="M104 102.8l10.9 2.3l10.6 2.1l13.6 2.2l17 2.2l14.3 2l13.8 2.2l15.3 2.2l15.8 2.3l19.7 2.3l19 2.2l21.2 2.2l22.3 2.2l21.5 2.1l21.8 2.2l23.1 2.3l22 2.2l19.4 2l18.8 2l19.6 2.1l19.8 2.1l20.6 2.2l18.9 2l14.8 1.9l13.1 1.9l12.2 2l11.2 2l10.3 2l9.5 2l8.9 2l8.2 2.1l7.4 1.8l6.8 1.7l7 1.9l7.2 2.1l6.9 2.2l6.9 2.6l6.3 2.7l5.5 2.7l3.9 2.1l3.6 2.2l3.2 2.1l3.1 2.2l2.9 2.1l2.6 2.2l2.6 2.1l1.5 1.5l1.4 1.5l1.4 1.6l1.3 1.7l1.3 1.7l1.2 1.7l1.2 1.8l1.1 1.8l1.1 1.9l1.1 1.8l1 1.9l.9 1.9l.9 1.9l.9 2l.9 1.9l.8 2l.9 1.9l.8 2l.7 2l.8 2l.6 2l.7 2l.6 2.1l.6 2l.5 2.1l.5 2l.5 2.1l.4 2.1l.4 2.1l.4 2.1l.4 2.1l.3 2.1l.4 2.1l.3 2.1l.3 2.1l.3 2.1l.3 2.1l.3 2.1l.3 2.1l.2 2.1l.3 2.1l.2 2.1l.3 2.1l.2 2.1l.2 2.1l.2 2.1l.2 2.1l.3 2.1l.2 2.1l.2 2.1l.3 2.1l.3 2.1l.2 2.1l.3 2.1l.3 2.1l.4 2.1l.4 2.1l.4 2.1l.5 2.1l.4 2.1l.5 2l.5 2.1l.5 2l.4 2.1l.5 2.1l.4 2.1l.4 2.1l.4 2.1l.4 2.1l.3 2.1l.4 2.1l.4 2.1l.3 2.1l.4 2.1l.4 2.1l.3 2.1l.4 2.1l.3 2.1l.3 2.1l.4 2.1l.3 2.1l.4 2.1l.3 2.1l.3 2.1l.3 2.1l.3 2.1l.3 2.1l.4 2.1l.3 2.1l.3 2.1l.3 2.1l.3 2.1l.3 2.1l.2 2.1l.3 2.1l.3 2.1l.3 2.1l.3 2.1l.2 2.1l.3 2.1l.3 2.1l.2 2.1l.3 2.1l.2 2.1l.3 2.1l.2 2.1l.2 2.1l.3 2.1l.2 2.1l.3 2.1l.2 2.1l.2 2.1l.3 2.1l.2 2.1l.2 2.1l.3 2.1l.2 2.1l.3 2.1l.2 2.1l.3 2.1l.2 2.1l.3 2.1l.2 2.1l.3 2.1l.3 2.1l.2 2.1l.2 2.1l.3 2.1l.2 2.1l.2 2.1l.3 2.1l.2 2.1l.2 2.1l.2 2.1l.1 2.1l.2 2.1l.2 2.1l.1 2.1l.2 2.1l.1 2.1l.2 2.1l.1 2.1l.2 2.1l.1 2.1l.2 2.1l.1 2.1l.2 2.1l.1 2.1l.2 2.1l.1 2.1l.1 2.1l.2 2.1l.1 2.1l.1 2.1l.1 2.1l.1 2.1l.1 2.1l.1 2.1l.1 2.1l.1 2.1l.1 2.1l.1 2.1l.1 2.1l.1 2.1l0 2.1l.1 2.1l.1 2.1l0 1.5" marker-start="url(#w1)" marker-mid="url(#w1)" marker-end="url(#w1)"/>
<path d="M104 102.8l10.9 2.3l10.7 2.1l13.7 2.2l17.1 2.1l14.4 2.1l13.8 2.1l15.5 2.3l15.8 2.2l19.9 2.3l19 2.1l21.4 2.3l22.4 2.1l21.7 2.2l21.9 2.1l23.2 2.3l22.2 2.2l19.5 2l18.9 2.1l19.7 2l20 2.2l20.6 2.1l19.1 2.1l14.9 1.9l13.1 2l12.3 2l11.3 2l10.3 2l9.6 2.1l8.9 2l8.3 2.1l7.4 1.8l6.9 1.8l7 2l7.2 2.1l7 2.2l7 2.5l6.3 2.5l5.5 2.5l4.2 2.2l3.7 2.1l3.2 2.2l3 2.1l2.7 2.2l2.6 2.1l2.3 2.2l1.6 1.5l1.4 1.6l1.4 1.6l1.3 1.7l1.3 1.7l1.2 1.8l1.1 1.8l1.1 1.8l1.1 1.8l1 1.9l1.1 1.9l.9 1.9l.9 1.9l1 1.9l.8 2l.9 1.9l.8 2l.8 1.9l.8 2l.7 2l.7 2l.7 2l.6 2.1l.6 2l.5 2.1l.5 2l.5 2.1l.4 2.1l.5 2.1l.4 2.1l.3 2.1l.4 2.1l.4 2.1l.3 2.1l.3 2.1l.4 2.1l.3 2.1l.3 2.1l.3 2.1l.3 2.1l.3 2.1l.3 2.1l.3 2.1l.3 2.1l.3 2.1l.3 2.1l.3 2.1l.3 2.1l.3 2.1l.3 2.1l.3 2.1l.3 2.1l.4 2.1l.4 2.1l.3 2.1l.5 2.1l.4 2.1l.5 2l.5 2.1l.5 2l.5 2.1l.5 2l.5 2.1l.5 2l.5 2.1l.4 2.1l.5 2.1l.4 2.1l.5 2.1l.4 2.1l.4 2.1l.5 2.1l.4 2.1l.5 2.1l.4 2.1l.4 2.1l.5 2.1l.4 2.1l.5 2.1l.5 2l.4 2.1l.5 2l.5 2.1l.5 2l.4 2.1l.5 2.1l.4 2.1l.4 2.1l.5 2.1l.4 2.1l.3 2.1l.3 2.1l.2 2.1l.2 2.1l.3 2.1l.2 2.1l.2 2.1l.2 2.1l.2 2.1l.2 2.1l.2 2.1l.2 2.1l.1 2.1l.2 2.1l.2 2.1l.2 2.1l.2 2.1l.2 2.1l.1 2.1l.2 2.1l.2 2.1l.2 2.1l.2 2.1l.1 2.1l.2 2.1l.2 2.1l.2 2.1l.2 2.1l.2 2.1l.2 2.1l.2 2.1l.2 2.1l.2 2.1l.2 2.1l.2 2.1l.2 2.1l.2 2.1l.1 2.1l.2 2.1l.2 2.1l.2 2.1l.1 2.1l.2 2.1l.1 2.1l.2 2.1l.1 2.1l.1 2.1l.1 2.1l.2 2.1l.1 2.1l.1 2.1l.1 2.1l.1 2.1l.1 2.1l.1 2.1l.2 2.1l.1 2.1l.1 2.1l.1 2.1l.1 2.1l.1 2.1l.1 2.1l0 2.1l.1 2.1l.1 2.1l.1 2.1l.1 2.1l0 2.1l.1 2.1l.1 2.1l0 2.1l.1 2.1l.1 2.1l0 2.1l0 2.1l.1 2.1l0 2.1l0 2" marker-start="url(#w2)" marker-mid="url(#w2)" marker-end="url(#w2)"/>
<path d="M104 102.8l11 2.2l10.7 2.2l13.7 2.2l17.2 2.1l14.4 2.1l13.9 2.1l15.5 2.3l15.9 2.2l19.9 2.2l19.1 2.2l21.4 2.2l22.6 2.2l21.7 2.1l22 2.2l23.3 2.2l22.2 2.2l19.6 2.1l18.9 2l19.8 2.1l20 2.1l20.8 2.2l19.1 2.1l14.9 1.9l13.2 2l12.3 2l11.3 2.1l10.4 2l9.6 2l8.9 2.1l8.3 2.1l7.5 1.9l6.9 1.8l7.1 2l7.2 2.1l7 2.2l7 2.5l6.3 2.4l5.5 2.4l4.4 2.2l3.7 2.2l3.2 2.1l2.9 2.2l2.7 2.1l2.4 2.2l2.4 2.1l1.4 1.5l1.4 1.6l1.4 1.7l1.3 1.7l1.2 1.7l1.2 1.7l1.2 1.8l1.1 1.8l1.1 1.9l1 1.8l1 1.9l1 1.9l.9 1.9l.9 1.9l.9 2l.8 1.9l.9 2l.8 1.9l.7 2l.8 2l.7 2l.7 2l.6 2.1l.6 2l.5 2.1l.5 2l.5 2.1l.5 2.1l.4 2.1l.4 2.1l.4 2.1l.4 2.1l.3 2.1l.4 2.1l.3 2.1l.4 2.1l.3 2.1l.4 2.1l.3 2.1l.3 2.1l.4 2.1l.3 2.1l.3 2.1l.3 2.1l.3 2.1l.4 2.1l.3 2.1l.3 2.1l.4 2.1l.3 2.1l.4 2.1l.3 2.1l.4 2.1l.4 2.1l.5 2.1l.4 2.1l.5 2l.5 2.1l.5 2l.6 2.1l.5 2l.5 2.1l.5 2l.6 2.1l.5 2l.5 2.1l.4 2l.5 2.1l.5 2l.5 2.1l.4 2l.5 2.1l.5 2l.5 2.1l.5 2l.5 2.1l.5 2l.5 2.1l.5 2l.6 2.1l.5 2l.6 2.1l.6 2l.6 2.1l.5 2l.6 2.1l.5 2l.5 2.1l.6 2l.5 2.1l.4 2.1l.3 2.1l.2 2.1l.2 2.1l.3 2.1l.2 2.1l.2 2.1l.2 2.1l.1 2.1l.2 2.1l.2 2.1l.1 2.1l.2 2.1l.2 2.1l.1 2.1l.2 2.1l.2 2.1l.2 2.1l.1 2.1l.2 2.1l.1 2.1l.2 2.1l.2 2.1l.1 2.1l.2 2.1l.2 2.1l.1 2.1l.2 2.1l.2 2.1l.1 2.1l.2 2.1l.2 2.1l.2 2.1l.1 2.1l.2 2.1l.2 2.1l.2 2.1l.1 2.1l.2 2.1l.2 2.1l.1 2.1l.2 2.1l.1 2.1l.1 2.1l.2 2.1l.1 2.1l.1 2.1l.1 2.1l.1 2.1l.1 2.1l.1 2.1l.1 2.1l.1 2.1l.1 2.1l.1 2.1l.1 2.1l.1 2.1l.1 2.1l.1 2.1l.1 2.1l.1 2.1l.1 2.1l0 2.1l.1 2.1l.1 2.1l.1 2.1l0 2.1l.1 2.1l0 2.1l.1 2.1l.1 2.1l0 2.1l.1 2.1l0 2.1l0 2.1l.1 2.1l0 2.1l0 2.1l0 .9" marker-start="url(#w3)" marker-mid="url(#w3)" marker-end="url(#w3)"/>
<path d="M104 102.8l11 2.2l10.7 2.2l13.7 2.2l17.3 2.1l14.4 2.1l13.9 2.1l15.5 2.3l16 2.1l19.9 2.3l19.2 2.2l21.4 2.2l22.6 2.1l21.8 2.2l22 2.1l23.4 2.2l22.2 2.2l19.7 2.1l18.9 2.1l19.8 2.1l20.1 2.1l20.8 2.1l19.1 2.1l15 2l13.2 2l12.3 2.1l11.4 2l10.4 2l9.6 2.1l8.9 2l8.4 2.1l7.5 1.9l6.8 1.9l7.1 2l7.3 2.2l7 2.2l7 2.4l6.4 2.4l5.4 2.4l4.4 2.1l3.7 2.2l3.2 2.1l2.9 2.2l2.6 2.1l2.4 2.2l2.3 2.1l1.5 1.6l1.4 1.6l1.3 1.6l1.4 1.7l1.2 1.8l1.2 1.7l1.2 1.8l1.1 1.8l1 1.9l1.1 1.8l1 1.9l.9 1.9l1 1.9l.9 1.9l.8 2l.9 1.9l.8 2l.8 1.9l.8 2l.7 2l.8 2l.6 2l.7 2.1l.6 2l.5 2.1l.5 2l.5 2.1l.5 2.1l.4 2.1l.4 2.1l.4 2.1l.4 2.1l.4 2.1l.3 2.1l.4 2.1l.3 2.1l.4 2.1l.3 2.1l.4 2.1l.3 2.1l.3 2.1l.4 2.1l.3 2.1l.4 2.1l.3 2.1l.3 2.1l.4 2.1l.3 2.1l.4 2.1l.4 2.1l.4 2.1l.4 2.1l.4 2.1l.4 2.1l.4 2.1l.5 2l.5 2.1l.5 2l.6 2.1l.5 2l.6 2.1l.5 2l.5 2.1l.6 2l.5 2.1l.5 2l.5 2.1l.5 2l.5 2.1l.5 2l.5 2.1l.6 2l.5 2.1l.5 2l.5 2.1l.6 2l.5 2.1l.6 2l.5 2.1l.6 2l.7 2.1l.6 2l.7 2.1l.6 2l.7 2.1l.5 2l.6 2.1l.6 2l.6 2.1l.6 2l.4 2.1l.3 2.1l.3 2.1l.2 2.1l.2 2.1l.2 2.1l.2 2.1l.2 2.1l.1 2.1l.2 2.1l.2 2.1l.1 2.1l.2 2.1l.1 2.1l.2 2.1l.2 2.1l.1 2.1l.2 2.1l.1 2.1l.2 2.1l.2 2.1l.1 2.1l.2 2.1l.1 2.1l.2 2.1l.1 2.1l.2 2.1l.2 2.1l.1 2.1l.2 2.1l.1 2.1l.2 2.1l.2 2.1l.1 2.1l.2 2.1l.2 2.1l.1 2.1l.2 2.1l.2 2.1l.1 2.1l.2 2.1l.1 2.1l.1 2.1l.2 2.1l.1 2.1l.1 2.1l.1 2.1l.1 2.1l.1 2.1l.1 2.1l.1 2.1l.1 2.1l.1 2.1l.1 2.1l.1 2.1l.1 2.1l.1 2.1l0 2.1l.1 2.1l.1 2.1l.1 2.1l.1 2.1l0 2.1l.1 2.1l.1 2.1l.1 2.1l0 2.1l.1 2.1l0 2.1l.1 2.1l0 2.1l.1 2.1l0 2.1l.1 2.1l0 2.1l0 2.1l0 2.1l.1 2.1l0 .9" marker-start="url(#w4)" marker-mid="url(#w4)" marker-end="url(#w4)"/>
<path d="M104 102.8l11 2.2l10.8 2.2l13.7 2.1l17.3 2.2l14.4 2.1l14 2.1l15.5 2.3l16 2.1l19.9 2.3l19.2 2.1l21.5 2.2l22.6 2.2l21.9 2.1l22 2.2l23.4 2.2l22.3 2.2l19.6 2.1l19.1 2l19.8 2.2l20.1 2.1l20.8 2.1l19.2 2.1l15 2l13.2 2l12.3 2.1l11.4 2l10.4 2.1l9.6 2l9 2.1l8.3 2.1l7.5 1.9l6.9 1.9l7.1 2l7.3 2.2l7 2.2l7 2.4l6.4 2.4l5.5 2.3l4.4 2.2l3.7 2.1l3.2 2.2l2.9 2.1l2.6 2.2l2.4 2.1l2.2 2.2l1.5 1.5l1.3 1.6l1.4 1.7l1.3 1.7l1.2 1.7l1.2 1.8l1.2 1.8l1.1 1.8l1 1.8l1.1 1.9l1 1.9l.9 1.9l1 1.9l.9 1.9l.9 1.9l.8 2l.8 1.9l.8 2l.8 2l.8 2l.7 2l.7 2l.6 2l.6 2.1l.5 2l.6 2.1l.4 2l.5 2.1l.4 2.1l.5 2.1l.4 2.1l.3 2.1l.4 2.1l.4 2.1l.3 2.1l.4 2.1l.4 2.1l.3 2.1l.4 2.1l.3 2.1l.4 2.1l.3 2.1l.4 2.1l.3 2.1l.4 2.1l.4 2.1l.3 2.1l.4 2.1l.4 2.1l.4 2.1l.4 2.1l.4 2.1l.4 2.1l.5 2.1l.4 2.1l.5 2l.5 2.1l.5 2l.6 2.1l.6 2l.5 2.1l.6 2l.5 2.1l.6 2l.5 2.1l.6 2l.5 2.1l.5 2l.5 2.1l.6 2l.5 2.1l.6 2l.5 2.1l.6 2l.5 2.1l.6 2l.6 2.1l.6 2l.6 2.1l.6 2l.7 2l.7 2l.7 2l.7 2l.6 2l.7 2l.6 2.1l.6 2l.7 2l.6 2.1l.5 2l.3 2.1l.3 2.1l.2 2.1l.2 2.1l.2 2.1l.2 2.1l.2 2.1l.2 2.1l.1 2.1l.2 2.1l.1 2.1l.2 2.1l.1 2.1l.2 2.1l.2 2.1l.1 2.1l.2 2.1l.1 2.1l.2 2.1l.1 2.1l.2 2.1l.1 2.1l.2 2.1l.1 2.1l.2 2.1l.1 2.1l.2 2.1l.2 2.1l.1 2.1l.2 2.1l.1 2.1l.2 2.1l.2 2.1l.1 2.1l.2 2.1l.1 2.1l.2 2.1l.1 2.1l.2 2.1l.1 2.1l.2 2.1l.1 2.1l.1 2.1l.1 2.1l.1 2.1l.1 2.1l.1 2.1l.1 2.1l.1 2.1l.1 2.1l.1 2.1l.1 2.1l.1 2.1l.1 2.1l.1 2.1l.1 2.1l.1 2.1l0 2.1l.1 2.1l.1 2.1l.1 2.1l0 2.1l.1 2.1l.1 2.1l0 2.1l.1 2.1l.1 2.1l0 2.1l.1 2.1l0 2.1l.1 2.1l0 2.1l0 2.1l.1 2.1l0 2.1l0 2.1l0 2.1l0 1.3" marker-start="url(#w5)" marker-mid="url(#w5)" marker-end="url(#w5)"/>
<path d="M104 102.8l11 2.2l10.8 2.2l13.7 2.1l17.4 2.2l14.4 2.1l14 2.1l15.5 2.2l16 2.2l20 2.3l19.3 2.1l21.5 2.2l22.6 2.2l21.9 2.1l22.1 2.2l23.3 2.2l22.4 2.2l19.7 2.1l19 2l19.9 2.1l20.1 2.2l20.8 2.1l19.3 2.1l15 2l13.2 2l12.4 2.1l11.3 2.1l10.5 2l9.6 2.1l9 2l8.3 2.1l7.6 2l6.9 1.9l7.1 2l7.2 2.2l7.1 2.2l7 2.4l6.4 2.3l5.5 2.4l4.5 2.1l3.7 2.2l3.1 2.1l2.8 2.2l2.6 2.1l2.4 2.2l2.2 2.1l1.4 1.6l1.4 1.6l1.4 1.7l1.3 1.7l1.2 1.7l1.2 1.8l1.1 1.8l1.1 1.8l1.1 1.8l1 1.9l1 1.9l1 1.9l.9 1.9l.9 1.9l.9 1.9l.9 2l.8 1.9l.8 2l.8 2l.7 2l.7 2l.7 2l.7 2l.6 2.1l.5 2l.5 2.1l.5 2l.5 2.1l.4 2.1l.4 2.1l.4 2.1l.4 2.1l.4 2.1l.4 2.1l.3 2.1l.4 2.1l.4 2.1l.3 2.1l.4 2.1l.3 2.1l.4 2.1l.4 2.1l.4 2.1l.3 2.1l.4 2.1l.4 2.1l.4 2.1l.3 2.1l.4 2.1l.4 2.1l.5 2.1l.4 2.1l.4 2.1l.5 2.1l.5 2.1l.5 2l.5 2.1l.5 2l.6 2.1l.6 2l.6 2.1l.5 2l.6 2.1l.6 2l.5 2.1l.6 2l.5 2.1l.6 2l.5 2.1l.6 2l.6 2.1l.5 2l.6 2.1l.6 2l.6 2.1l.6 2l.6 2.1l.6 2l.7 2l.7 2l.7 2l.7 2l.8 2l.7 2l.7 2l.7 2l.7 2l.6 2l.7 2l.7 2l.5 2.1l.4 2.1l.3 2.1l.2 2.1l.2 2.1l.2 2.1l.2 2.1l.2 2.1l.1 2.1l.2 2.1l.1 2.1l.2 2.1l.1 2.1l.2 2.1l.1 2.1l.2 2.1l.1 2.1l.2 2.1l.1 2.1l.2 2.1l.1 2.1l.2 2.1l.1 2.1l.2 2.1l.1 2.1l.2 2.1l.1 2.1l.2 2.1l.1 2.1l.2 2.1l.1 2.1l.2 2.1l.1 2.1l.2 2.1l.2 2.1l.1 2.1l.2 2.1l.1 2.1l.2 2.1l.1 2.1l.1 2.1l.2 2.1l.1 2.1l.1 2.1l.1 2.1l.1 2.1l.1 2.1l.1 2.1l.1 2.1l.1 2.1l.1 2.1l.1 2.1l.1 2.1l.1 2.1l.1 2.1l.1 2.1l0 2.1l.1 2.1l.1 2.1l.1 2.1l.1 2.1l0 2.1l.1 2.1l.1 2.1l0 2.1l.1 2.1l.1 2.1l0 2.1l.1 2.1l0 2.1l.1 2.1l0 2.1l.1 2.1l0 2.1l0 2.1l.1 2.1l0 2.1l0 2.1l0 1.4" marker-start="url(#w6)" marker-mid="url(#w6)" marker-end="url(#w6)"/>
<path d="M104 102.8l11 2.2l10.8 2.2l13.8 2.1l17.3 2.2l14.5 2.1l14 2.1l15.5 2.2l16 2.2l20.1 2.2l19.2 2.2l21.5 2.2l22.7 2.2l21.9 2.1l22.1 2.2l23.4 2.2l22.4 2.1l19.7 2.1l19.1 2.1l19.8 2.1l20.2 2.1l20.9 2.2l19.2 2.1l15 2l13.3 2l12.4 2.1l11.3 2.1l10.5 2l9.6 2.1l9 2.1l8.4 2.1l7.5 1.9l6.9 1.9l7.1 2.1l7.3 2.2l7.1 2.2l7 2.3l6.4 2.4l5.5 2.3l4.5 2.2l3.7 2.1l3.2 2.2l2.8 2.1l2.5 2.2l2.4 2.1l2.1 2.2l1.5 1.5l1.4 1.7l1.3 1.6l1.2 1.7l1.3 1.8l1.2 1.7l1.1 1.8l1.1 1.8l1.1 1.9l1 1.8l1 1.9l1 1.9l.9 1.9l.9 1.9l.9 2l.9 1.9l.8 2l.8 1.9l.8 2l.7 2l.7 2l.7 2l.6 2.1l.7 2l.5 2.1l.5 2l.5 2.1l.5 2l.4 2.1l.4 2.1l.4 2.1l.4 2.1l.4 2.1l.4 2.1l.4 2.1l.3 2.1l.4 2.1l.4 2.1l.3 2.1l.4 2.1l.4 2.1l.3 2.1l.4 2.1l.4 2.1l.4 2.1l.4 2.1l.4 2.1l.4 2.1l.4 2.1l.4 2.1l.4 2.1l.5 2.1l.4 2.1l.5 2.1l.5 2l.5 2.1l.5 2l.6 2.1l.6 2l.5 2.1l.6 2l.6 2.1l.6 2l.6 2.1l.5 2l.6 2.1l.6 2l.5 2.1l.6 2l.6 2.1l.6 2l.6 2.1l.6 2l.6 2.1l.6 2l.6 2.1l.6 2l.7 2.1l.7 2l.7 2l.8 2l.7 2l.8 2l.8 2l.8 2l.7 2l.7 2l.7 2l.7 2l.7 2l.6 2l.4 2.1l.2 2.1l.3 2.1l.2 2.1l.2 2.1l.2 2.1l.1 2.1l.2 2.1l.1 2.1l.2 2.1l.1 2.1l.2 2.1l.1 2.1l.2 2.1l.1 2.1l.2 2.1l.2 2.1l.1 2.1l.2 2.1l.1 2.1l.2 2.1l.1 2.1l.2 2.1l.1 2.1l.1 2.1l.2 2.1l.1 2.1l.2 2.1l.1 2.1l.2 2.1l.1 2.1l.2 2.1l.1 2.1l.2 2.1l.1 2.1l.2 2.1l.1 2.1l.2 2.1l.1 2.1l.1 2.1l.2 2.1l.1 2.1l.1 2.1l.1 2.1l.1 2.1l.1 2.1l.1 2.1l.1 2.1l.1 2.1l.1 2.1l.1 2.1l.1 2.1l.1 2.1l.1 2.1l0 2.1l.1 2.1l.1 2.1l.1 2.1l.1 2.1l0 2.1l.1 2.1l.1 2.1l.1 2.1l0 2.1l.1 2.1l0 2.1l.1 2.1l.1 2.1l0 2.1l.1 2.1l0 2.1l0 2.1l.1 2.1l0 2.1l0 2.1l.1 2.1l0 2.1l0 1.5" marker-start="url(#w7)" marker-mid="url(#w7)" marker-end="url(#w7)"/>
<path d="M104 102.8l11 2.2l10.8 2.2l13.8 2.1l17.3 2.2l14.5 2.1l14 2.1l15.6 2.2l16 2.2l20.1 2.2l19.2 2.2l21.6 2.2l22.7 2.1l21.9 2.2l22.1 2.2l23.4 2.1l22.4 2.2l19.7 2.1l19.1 2.1l19.9 2.1l20.1 2.1l20.9 2.2l19.3 2.1l15 2l13.3 2l12.4 2.1l11.4 2.1l10.4 2.1l9.7 2l9 2.1l8.3 2.1l7.6 1.9l6.9 2l7.1 2.1l7.3 2.1l7 2.2l7 2.4l6.5 2.3l5.5 2.3l4.5 2.2l3.7 2.1l3.1 2.2l2.8 2.1l2.6 2.2l2.3 2.1l2.1 2.2l3.3 3.8l3.1 4l2.7 4.2l2.6 4.4l2.3 4.4l2.2 4.6l2.1 4.6l1.8 4.6l1.7 4.7l1.6 4.8l1.3 4.9l1.1 4.9l1 4.9l.9 5l.9 4.9l.8 5l.9 4.9l.9 5l.9 4.9l1 5l1 4.9l1 4.9l1.1 4.9l1.2 4.9l1.4 4.8l1.4 4.9l1.4 4.8l1.3 4.9l1.4 4.8l1.4 4.9l1.4 4.8l1.5 4.8l1.5 4.8l1.8 4.7l1.8 4.6l1.9 4.7l1.7 4.7l1.7 4.7l1.3 4.8l.6 5l.5 5l.4 5l.3 5l.4 5l.3 5l.4 5l.3 5l.4 5l.3 5l.4 5l.3 5l.4 5l.3 5l.4 5l.3 5l.3 5l.3 5l.2 5l.3 5l.2 5l.2 5l.2 5l.2 5l.2 5l.1 5l.2 5l.1 5l.2 5l0 5l.1 5l.1 5l0 1.2" marker-start="url(#w8)" marker-mid="url(#w8)" marker-end="url(#w8)"/>
<path d="M104 102.8l11 2.2l10.9 2.2l13.7 2.1l17.4 2.2l14.5 2.1l14 2.1l15.6 2.2l16 2.2l20.1 2.2l19.2 2.2l21.6 2.2l22.7 2.1l21.9 2.2l22.2 2.1l23.4 2.2l22.4 2.2l19.7 2.1l19.1 2.1l19.9 2.1l20.2 2.1l20.9 2.2l19.3 2.1l15 2l13.3 2l12.4 2.1l11.4 2.1l10.5 2.1l9.6 2l9 2.1l8.4 2.1l7.5 2l6.9 1.9l7.2 2.1l7.3 2.2l7 2.2l7 2.3l6.4 2.4l5.6 2.2l4.6 2.2l3.6 2.2l3.2 2.1l2.7 2.2l2.6 2.1l2.3 2.2l2.1 2.1l3.3 3.8l3 4.1l2.7 4.2l2.6 4.3l2.3 4.5l2.2 4.5l2 4.6l1.9 4.6l1.7 4.7l1.6 4.8l1.3 4.9l1.1 4.9l1 4.9l.9 5l.9 4.9l.9 5l.9 4.9l.9 5l.9 4.9l1 5l1 4.9l1 4.9l1.2 4.9l1.2 4.9l1.4 4.8l1.4 4.9l1.4 4.8l1.4 4.9l1.4 4.8l1.4 4.8l1.5 4.8l1.5 4.8l1.5 4.8l1.8 4.7l1.9 4.7l1.9 4.6l1.8 4.7l1.8 4.7l1.3 4.9l.6 5l.5 5l.4 5l.3 5l.4 5l.4 5l.3 5l.4 5l.3 5l.4 5l.3 5l.4 5l.3 5l.4 5l.3 5l.3 5l.3 5l.3 5l.2 5l.3 5l.2 5l.2 5l.2 5l.2 5l.2 5l.1 5l.2 5l.1 5l.2 5l.1 5l0 5l.1 5l0 1.2" marker-start="url(#w9)" marker-mid="url(#w9)" marker-end="url(#w9)"/>
<path d="M104 102.8l11.1 2.2l10.8 2.2l13.7 2.1l17.4 2.2l14.5 2.1l14 2.1l15.6 2.2l16.1 2.2l20.1 2.2l19.2 2.2l21.6 2.2l22.7 2.1l22 2.2l22.1 2.1l23.5 2.2l22.4 2.2l19.8 2.1l19.1 2.1l19.9 2.1l20.2 2.1l20.9 2.2l19.3 2.1l15 2l13.3 2.1l12.4 2l11.4 2.1l10.5 2.1l9.7 2.1l9 2l8.3 2.2l7.6 1.9l6.9 2l7.1 2.1l7.3 2.1l7.1 2.2l7 2.4l6.4 2.3l5.6 2.3l4.5 2.1l3.7 2.2l3.1 2.1l2.8 2.2l2.5 2.1l2.3 2.2l2.1 2.1l3.3 3.8l3 4.1l2.7 4.2l2.6 4.3l2.3 4.5l2.2 4.5l2.1 4.6l1.9 4.6l1.7 4.7l1.5 4.8l1.3 4.9l1.1 4.9l1 4.9l.9 4.9l.9 5l.9 4.9l.9 5l1 4.9l.9 5l1 4.9l1 4.9l1.1 4.9l1.1 4.9l1.3 4.9l1.4 4.8l1.4 4.8l1.4 4.8l1.4 4.8l1.4 4.8l1.4 4.8l1.5 4.8l1.6 4.8l1.6 4.8l1.8 4.7l1.9 4.6l2 4.6l1.9 4.7l1.8 4.7l1.5 4.8l.6 5l.5 5l.4 5l.3 5l.4 5l.3 5l.4 5l.3 5l.4 5l.3 5l.4 5l.3 5l.4 5l.3 5l.3 5l.4 5l.3 5l.2 5l.3 5l.2 5l.2 5l.2 5l.3 5l.1 5l.2 5l.2 5l.2 5l.1 5l.1 5l.1 5l.1 5l.1 5l0 1.7" marker-start="url(#w10)" marker-mid="url(#w10)" marker-end="url(#w10)"/>
<path d="M104 102.8l11.1 2.2l10.8 2.2l13.8 2.1l17.4 2.2l14.5 2.1l14 2.1l15.6 2.2l16 2.2l20.1 2.2l19.3 2.2l21.6 2.2l22.8 2.1l21.9 2.2l22.2 2.1l23.5 2.2l22.4 2.2l19.8 2.1l19.1 2.1l19.9 2.1l20.2 2.1l20.9 2.2l19.3 2.1l15.1 2l13.3 2.1l12.4 2.1l11.4 2l10.5 2.1l9.7 2.1l9 2.1l8.4 2.1l7.5 2l6.9 1.9l7.2 2.1l7.3 2.2l7 2.2l7.1 2.3l6.4 2.3l5.5 2.3l4.6 2.1l3.7 2.2l3.1 2.1l2.7 2.2l2.5 2.1l2.3 2.2l2.1 2.1l3.3 3.8l3 4.1l2.7 4.2l2.5 4.3l2.4 4.5l2.2 4.5l2 4.6l1.9 4.6l1.7 4.7l1.6 4.8l1.3 4.9l1.1 4.9l1 4.9l.9 4.9l.9 5l.9 4.9l.9 5l1 4.9l1 5l1 4.9l1 4.9l1.1 4.9l1.2 4.9l1.2 4.9l1.4 4.8l1.4 4.8l1.5 4.8l1.4 4.8l1.4 4.8l1.5 4.8l1.5 4.8l1.6 4.8l1.6 4.7l1.8 4.7l2 4.6l2.1 4.6l1.9 4.7l1.9 4.6l1.5 4.8l.6 5l.5 5l.4 5l.4 5l.3 5l.4 5l.3 5l.4 5l.3 5l.4 5l.3 5l.4 5l.3 5l.3 5l.4 5l.3 5l.3 5l.3 5l.2 5l.2 5l.3 5l.2 5l.2 5l.2 5l.2 5l.1 5l.2 5l.1 5l.2 5l.1 5l.1 5l0 5l0 1.9" marker-start="url(#w11)" marker-mid="url(#w11)" marker-end="url(#w11)"/>
<path d="M104 102.8l11.1 2.2l10.8 2.2l13.8 2.1l17.4 2.2l14.5 2.1l14 2.1l15.6 2.2l16.1 2.2l20.1 2.2l19.3 2.2l21.6 2.1l22.8 2.2l21.9 2.1l22.2 2.2l23.5 2.2l22.4 2.2l19.8 2.1l19.1 2.1l20 2.1l20.2 2.1l20.9 2.2l19.3 2.1l15.1 2l13.3 2.1l12.4 2.1l11.4 2l10.5 2.1l9.7 2.1l9 2.1l8.4 2.1l7.6 2l6.9 1.9l7.1 2.2l7.3 2.1l7.1 2.2l7 2.3l6.5 2.3l5.5 2.3l4.6 2.2l3.7 2.1l3.1 2.2l2.7 2.1l2.5 2.2l2.3 2.1l2.1 2.2l3.3 3.8l2.9 4.1l2.8 4.2l2.5 4.3l2.4 4.5l2.1 4.5l2.1 4.6l1.9 4.6l1.7 4.7l1.5 4.8l1.3 4.9l1.1 4.9l1.1 4.9l.9 4.9l.9 5l.9 4.9l.9 5l1 4.9l1 5l1 4.9l1 4.9l1.1 4.9l1.2 4.9l1.3 4.8l1.4 4.9l1.4 4.8l1.4 4.8l1.5 4.8l1.4 4.8l1.5 4.8l1.6 4.8l1.6 4.7l1.6 4.8l1.9 4.6l2 4.6l2.1 4.6l1.9 4.7l2 4.6l1.5 4.8l.7 5l.5 5l.4 5l.3 5l.3 5l.4 5l.4 5l.3 5l.4 5l.3 5l.4 5l.3 5l.3 5l.4 5l.3 5l.3 5l.3 5l.3 5l.3 5l.2 5l.2 5l.2 5l.2 5l.2 5l.2 5l.2 5l.1 5l.2 5l.1 5l.1 5l.1 5l.1 5l0 1.9" marker-start="url(#w12)" marker-mid="url(#w12)" marker-end="url(#w12)"/>
<path d="M104 102.8l11.1 2.2l10.8 2.2l13.8 2.1l17.4 2.2l14.5 2.1l14.1 2.1l15.6 2.2l16 2.2l20.2 2.2l19.3 2.2l21.6 2.1l22.7 2.2l22 2.1l22.2 2.2l23.5 2.2l22.5 2.2l19.7 2.1l19.2 2.1l19.9 2.1l20.2 2.1l21 2.2l19.3 2.1l15.1 2l13.3 2.1l12.4 2.1l11.4 2.1l10.5 2l9.7 2.1l9 2.1l8.4 2.1l7.6 2l6.9 2l7.1 2.1l7.3 2.1l7.1 2.2l7 2.4l6.5 2.3l5.5 2.2l4.6 2.2l3.7 2.1l3.1 2.2l2.7 2.1l2.5 2.2l2.3 2.1l2.1 2.2l3.2 3.8l3 4.1l2.7 4.2l2.6 4.3l2.3 4.5l2.2 4.5l2 4.6l1.9 4.6l1.8 4.7l1.5 4.8l1.3 4.9l1.1 4.9l1 4.9l1 4.9l.9 5l.9 4.9l.9 5l1 4.9l1 5l1 4.9l1 4.9l1.1 4.9l1.2 4.9l1.3 4.8l1.4 4.9l1.5 4.8l1.4 4.8l1.5 4.8l1.5 4.8l1.5 4.8l1.5 4.8l1.6 4.7l1.7 4.8l1.9 4.6l2.1 4.6l2.1 4.6l1.9 4.6l2 4.6l1.6 4.8l.7 5l.5 5l.4 5l.3 5l.3 5l.4 5l.4 5l.3 5l.4 5l.3 5l.3 5l.4 5l.3 5l.4 5l.3 5l.3 5l.3 5l.3 5l.2 5l.3 5l.2 5l.2 5l.2 5l.2 5l.2 5l.2 5l.1 5l.2 5l.1 5l.1 5l.1 5l.1 5l0 2" marker-start="url(#w13)" marker-mid="url(#w13)" marker-end="url(#w13)"/>
<path d="M104 102.8l11.1 2.2l10.8 2.2l13.8 2.1l17.4 2.2l14.6 2.1l14 2.1l15.6 2.2l16.1 2.2l20.1 2.2l19.4 2.2l21.6 2.1l22.8 2.2l21.9 2.1l22.2 2.2l23.5 2.2l22.5 2.1l19.8 2.2l19.1 2.1l20 2.1l20.2 2.1l21 2.2l19.3 2.1l15.1 2l13.3 2.1l12.5 2.1l11.4 2.1l10.5 2.1l9.7 2l9 2.1l8.4 2.2l7.5 1.9l7 2l7.1 2.1l7.3 2.2l7.1 2.2l7.1 2.3l6.4 2.3l5.5 2.2l4.6 2.2l3.7 2.1l3.1 2.2l2.7 2.1l2.5 2.2l2.2 2.1l2.1 2.2l3.3 3.8l2.9 4.1l2.8 4.2l2.5 4.3l2.3 4.5l2.2 4.5l2.1 4.6l1.9 4.6l1.7 4.7l1.5 4.8l1.3 4.9l1.2 4.9l1 4.9l.9 4.9l.9 5l.9 4.9l1 5l1 4.9l1 4.9l1 4.9l1.1 4.9l1.1 4.9l1.2 4.9l1.3 4.9l1.4 4.8l1.5 4.8l1.4 4.8l1.5 4.8l1.5 4.8l1.5 4.8l1.6 4.7l1.6 4.8l1.7 4.7l2 4.7l2.1 4.5l2.1 4.6l2 4.6l2 4.6l1.7 4.7l.7 5l.5 5l.4 5l.4 5l.3 5l.3 5l.4 5l.4 5l.3 5l.4 5l.3 5l.3 5l.4 5l.3 5l.3 5l.4 5l.3 5l.2 5l.3 5l.2 5l.2 5l.3 5l.2 5l.2 5l.2 5l.1 5l.2 5l.1 5l.2 5l.1 5l.1 5l.1 5l0 2.3" marker-start="url(#w14)" marker-mid="url(#w14)" marker-end="url(#w14)"/>
<path d="M104 102.8l11.1 2.2l10.8 2.2l13.8 2.1l17.4 2.2l14.6 2.1l14 2.1l15.7 2.2l16.1 2.2l20.1 2.2l19.3 2.2l21.7 2.1l22.7 2.2l22 2.1l22.2 2.2l23.6 2.2l22.4 2.1l19.8 2.2l19.2 2.1l20 2.1l20.2 2.1l21 2.2l19.3 2.1l15.1 2l13.3 2.1l12.4 2.1l11.5 2.1l10.5 2.1l9.7 2.1l9 2l8.4 2.2l7.6 2l6.9 1.9l7.1 2.2l7.4 2.1l7 2.2l7.1 2.3l6.4 2.3l5.6 2.2l4.6 2.2l3.7 2.2l3.1 2.1l2.7 2.2l2.4 2.1l2.3 2.2l2 2.1l3.3 3.9l2.9 4l2.8 4.2l2.5 4.4l2.3 4.4l2.2 4.5l2.1 4.6l1.9 4.7l1.7 4.7l1.5 4.8l1.3 4.8l1.2 4.9l1 4.9l.9 5l.9 4.9l1 5l.9 4.9l1 5l1 4.9l1 4.9l1.1 4.9l1.2 4.9l1.2 4.9l1.3 4.8l1.4 4.8l1.5 4.8l1.5 4.8l1.4 4.8l1.5 4.8l1.6 4.8l1.6 4.8l1.6 4.7l1.8 4.7l1.9 4.7l2.1 4.5l2.2 4.6l2.1 4.6l2 4.6l1.7 4.7l.7 5l.5 5l.4 5l.4 5l.3 5l.4 5l.4 5l.3 5l.4 5l.3 5l.3 5l.4 5l.3 5l.3 5l.4 5l.3 5l.3 5l.3 5l.2 5l.2 5l.3 5l.2 5l.2 5l.2 5l.2 5l.2 5l.1 5l.2 5l.1 5l.1 5l.1 5l.1 5l0 2.3" marker-start="url(#w15)" marker-mid="url(#w15)" marker-end="url(#w15)"/>
<path d="M104 102.8l11.1 2.2l10.8 2.2l13.8 2.1l17.5 2.2l14.5 2.1l14.1 2.1l15.6 2.2l16.1 2.2l20.2 2.2l19.3 2.1l21.6 2.2l22.8 2.2l22 2.1l22.3 2.2l23.5 2.2l22.5 2.1l19.8 2.1l19.1 2.1l20 2.2l20.3 2.1l21 2.2l19.3 2.1l15.1 2l13.3 2.1l12.5 2.1l11.4 2.1l10.5 2.1l9.7 2.1l9.1 2.1l8.3 2.1l7.6 2l6.9 2l7.2 2.1l7.3 2.2l7.1 2.2l7.1 2.3l6.4 2.2l5.5 2.3l4.7 2.1l3.6 2.2l3.1 2.1l2.7 2.2l2.5 2.1l2.2 2.2l2.1 2.1l3.2 3.9l2.9 4l2.8 4.2l2.5 4.4l2.3 4.4l2.2 4.5l2.1 4.6l1.9 4.7l1.7 4.7l1.6 4.8l1.3 4.8l1.1 4.9l1 4.9l1 5l.9 4.9l.9 5l.9 4.9l1 4.9l1.1 4.9l1 4.9l1.1 4.9l1.2 4.9l1.2 4.9l1.3 4.8l1.4 4.8l1.5 4.8l1.5 4.8l1.5 4.8l1.5 4.8l1.6 4.8l1.6 4.8l1.7 4.7l1.7 4.7l2 4.7l2.2 4.5l2.2 4.5l2.1 4.6l2.1 4.6l1.7 4.7l.8 5l.5 5l.4 5l.3 5l.4 5l.3 5l.4 5l.4 5l.3 5l.4 5l.3 5l.3 5l.4 5l.3 5l.3 5l.3 5l.3 5l.3 5l.3 5l.2 5l.2 5l.3 5l.2 5l.2 5l.2 5l.1 5l.2 5l.2 5l.1 5l.1 5l.1 5l.1 5l0 2.5" marker-start="url(#w16)" marker-mid="url(#w16)" marker-end="url(#w16)"/>
<path d="M104 102.8l11.1 2.2l10.8 2.2l13.9 2.1l17.4 2.2l14.6 2.1l14 2.1l15.7 2.2l16.1 2.2l20.1 2.2l19.4 2.1l21.6 2.2l22.8 2.2l22 2.1l22.3 2.2l23.5 2.2l22.5 2.1l19.8 2.1l19.2 2.1l20 2.2l20.2 2.1l21 2.1l19.4 2.2l15.1 2l13.3 2.1l12.5 2.1l11.4 2.1l10.5 2.1l9.7 2.1l9.1 2.1l8.4 2.1l7.5 2l7 2l7.1 2.1l7.4 2.2l7.1 2.2l7 2.3l6.4 2.2l5.6 2.3l4.6 2.1l3.7 2.2l3 2.1l2.7 2.2l2.5 2.1l2.2 2.2l2.1 2.1l3.2 3.9l2.9 4l2.8 4.2l2.5 4.4l2.3 4.4l2.2 4.5l2.1 4.6l1.9 4.7l1.7 4.7l1.6 4.8l1.3 4.8l1.1 4.9l1 4.9l1 5l.9 4.9l.9 5l1 4.9l1 4.9l1 4.9l1.1 4.9l1.1 4.9l1.1 4.9l1.3 4.9l1.3 4.8l1.5 4.8l1.4 4.8l1.5 4.8l1.5 4.8l1.6 4.8l1.6 4.8l1.6 4.7l1.7 4.8l1.8 4.7l2 4.6l2.2 4.5l2.2 4.5l2.1 4.5l2.1 4.6l1.9 4.7l.8 4.9l.5 5l.4 5l.3 5l.4 5l.3 5l.4 5l.4 5l.3 5l.4 5l.3 5l.3 5l.4 5l.3 5l.3 5l.3 5l.3 5l.3 5l.3 5l.2 5l.2 5l.3 5l.2 5l.2 5l.2 5l.2 5l.1 5l.2 5l.1 5l.1 5l.1 5l.1 5l.1 2.8" marker-start="url(#w17)" marker-mid="url(#w17)" marker-end="url(#w17)"/>
<path d="M104 102.8l11.1 2.2l10.8 2.2l13.9 2.1l17.4 2.2l14.6 2.1l14 2.1l15.7 2.2l16.1 2.2l20.2 2.2l19.3 2.1l21.7 2.2l22.8 2.2l22 2.1l22.2 2.2l23.6 2.1l22.5 2.2l19.8 2.1l19.2 2.1l20 2.2l20.3 2.1l21 2.1l19.3 2.2l15.1 2l13.3 2.1l12.5 2.1l11.5 2.1l10.5 2.1l9.7 2.1l9 2.1l8.4 2.1l7.6 2l6.9 2l7.2 2.2l7.3 2.1l7.1 2.2l7.1 2.3l6.4 2.3l5.6 2.2l4.6 2.2l3.7 2.1l3.1 2.2l2.7 2.1l2.4 2.2l2.2 2.1l2 2.2l3.2 3.8l3 4.1l2.7 4.2l2.5 4.3l2.4 4.5l2.2 4.5l2 4.6l1.9 4.6l1.8 4.7l1.5 4.8l1.3 4.9l1.2 4.9l1 4.9l.9 4.9l.9 5l1 4.9l.9 5l1 4.9l1.1 4.9l1.1 4.9l1.1 4.9l1.1 4.9l1.3 4.8l1.3 4.9l1.5 4.8l1.5 4.8l1.5 4.8l1.5 4.8l1.5 4.8l1.6 4.7l1.7 4.8l1.7 4.7l1.8 4.7l2 4.6l2.2 4.5l2.3 4.5l2.1 4.5l2.1 4.6l1.9 4.6l.8 5l.5 5l.4 5l.4 5l.3 5l.4 5l.4 5l.3 5l.4 5l.3 5l.4 5l.3 5l.3 5l.3 5l.4 5l.3 5l.3 5l.3 5l.2 5l.3 5l.2 5l.2 5l.2 5l.2 5l.2 5l.2 5l.2 5l.1 5l.2 5l.1 5l.1 5l.1 5l0 2.8" marker-start="url(#w18)" marker-mid="url(#w18)" marker-end="url(#w18)"/>
<path d="M104 102.8l11.1 2.2l10.9 2.2l13.8 2.1l17.4 2.2l14.6 2.1l14.1 2.1l15.6 2.2l16.1 2.2l20.2 2.2l19.4 2.1l21.6 2.2l22.9 2.2l22 2.1l22.2 2.2l23.6 2.1l22.5 2.2l19.8 2.1l19.2 2.1l20 2.2l20.3 2.1l21 2.1l19.4 2.2l15.1 2l13.3 2.1l12.5 2.1l11.4 2.1l10.6 2.1l9.7 2.1l9 2.1l8.4 2.1l7.6 2l6.9 2.1l7.2 2.1l7.3 2.1l7.1 2.2l7.1 2.3l6.4 2.3l5.6 2.2l4.6 2.2l3.7 2.1l3.1 2.2l2.7 2.1l2.4 2.2l2.2 2.1l2 2.2l3.2 3.8l3 4.1l2.7 4.2l2.5 4.3l2.3 4.5l2.2 4.5l2.1 4.6l1.9 4.6l1.7 4.7l1.6 4.8l1.3 4.9l1.1 4.9l1.1 4.9l.9 4.9l.9 5l1 4.9l.9 5l1.1 4.9l1 4.9l1.1 4.9l1.1 4.9l1.2 4.9l1.2 4.8l1.4 4.9l1.5 4.8l1.5 4.8l1.5 4.8l1.5 4.8l1.6 4.8l1.6 4.7l1.6 4.8l1.8 4.7l1.8 4.7l2 4.6l2.3 4.5l2.3 4.4l2.2 4.6l2.1 4.5l1.9 4.7l.8 4.9l.6 5l.4 5l.3 5l.3 5l.4 5l.4 5l.4 5l.3 5l.4 5l.3 5l.3 5l.3 5l.4 5l.3 5l.3 5l.3 5l.3 5l.3 5l.2 5l.2 5l.3 5l.2 5l.2 5l.2 5l.2 5l.1 5l.2 5l.1 5l.2 5l.1 5l.1 5l0 2.9" marker-start="url(#w19)" marker-mid="url(#w19)" marker-end="url(#w19)"/>
<path d="M104 102.8l11.1 2.2l10.9 2.2l13.8 2.1l17.4 2.2l14.6 2.1l14.1 2.1l15.7 2.2l16.1 2.2l20.1 2.2l19.4 2.1l21.7 2.2l22.8 2.2l22 2.1l22.3 2.2l23.6 2.1l22.5 2.2l19.8 2.1l19.2 2.1l20 2.2l20.3 2.1l21 2.1l19.4 2.2l15.1 2l13.3 2.1l12.5 2.1l11.5 2.1l10.5 2.1l9.7 2.1l9.1 2.1l8.4 2.1l7.5 2.1l7 2l7.2 2.1l7.3 2.2l7.1 2.2l7 2.2l6.5 2.3l5.5 2.2l4.7 2.2l3.6 2.1l3.1 2.2l2.7 2.1l2.4 2.2l2.2 2.1l2 2.2l3.2 3.8l3 4.1l2.7 4.2l2.5 4.4l2.4 4.4l2.2 4.5l2 4.6l1.9 4.7l1.8 4.7l1.5 4.8l1.3 4.8l1.2 4.9l1 4.9l.9 5l1 4.9l.9 5l1 4.9l1 4.9l1.1 4.9l1 4.9l1.2 4.9l1.2 4.9l1.2 4.9l1.4 4.8l1.5 4.8l1.5 4.8l1.5 4.8l1.5 4.8l1.6 4.8l1.6 4.8l1.7 4.7l1.8 4.7l1.8 4.7l2 4.6l2.3 4.5l2.3 4.5l2.2 4.5l2.2 4.6l1.9 4.6l.8 5l.6 5l.4 5l.3 5l.4 5l.3 5l.4 5l.4 5l.3 5l.4 5l.3 5l.3 5l.4 5l.3 5l.3 5l.3 5l.3 5l.3 5l.3 5l.2 5l.3 5l.2 5l.2 5l.2 5l.2 5l.2 5l.2 5l.1 5l.2 5l.1 5l.1 5l.1 5l.1 2.8" marker-start="url(#w20)" marker-mid="url(#w20)" marker-end="url(#w20)"/>
<path d="M104 102.8l11.1 2.2l10.9 2.2l13.8 2.1l17.5 2.2l14.5 2.1l14.1 2.1l15.7 2.2l16.1 2.2l20.1 2.2l19.4 2.1l21.7 2.2l22.8 2.2l22.1 2.1l22.2 2.2l23.6 2.1l22.5 2.2l19.8 2.1l19.2 2.1l20 2.2l20.3 2.1l21 2.1l19.4 2.2l15.1 2l13.4 2.1l12.4 2.1l11.5 2.1l10.5 2.1l9.7 2.1l9.1 2.1l8.4 2.1l7.6 2.1l6.9 2l7.2 2.1l7.3 2.2l7.1 2.2l7.1 2.2l6.4 2.3l5.6 2.2l4.6 2.2l3.7 2.1l3 2.2l2.7 2.1l2.4 2.2l2.2 2.1l2 2.2l3.2 3.8l3 4.1l2.7 4.2l2.6 4.4l2.3 4.4l2.2 4.5l2.1 4.6l1.9 4.7l1.7 4.7l1.5 4.8l1.3 4.8l1.2 4.9l1 4.9l1 5l.9 4.9l.9 5l1 4.9l1 4.9l1.1 4.9l1.1 4.9l1.1 4.9l1.2 4.9l1.3 4.9l1.3 4.8l1.5 4.8l1.5 4.8l1.5 4.8l1.6 4.8l1.6 4.8l1.6 4.8l1.7 4.7l1.7 4.7l1.8 4.7l2.1 4.6l2.3 4.5l2.3 4.5l2.2 4.5l2.2 4.5l1.9 4.7l.8 4.9l.6 5l.4 5l.3 5l.3 5l.4 5l.4 5l.4 5l.3 5l.4 5l.3 5l.3 5l.4 5l.3 5l.3 5l.3 5l.3 5l.3 5l.3 5l.2 5l.2 5l.3 5l.2 5l.2 5l.2 5l.2 5l.2 5l.1 5l.2 5l.1 5l.1 5l.1 5l0 2.9" marker-start="url(#w21)" marker-mid="url(#w21)" marker-end="url(#w21)"/>
<path d="M104 102.8l11.1 2.2l10.9 2.2l13.8 2.1l17.4 2.2l14.6 2.1l14.1 2.1l15.7 2.2l16.1 2.2l20.1 2.2l19.4 2.1l21.7 2.2l22.8 2.2l22 2.1l22.3 2.2l23.6 2.1l22.5 2.2l19.8 2.1l19.2 2.1l20 2.2l20.3 2.1l21 2.1l19.4 2.2l15.1 2l13.3 2.1l12.5 2.1l11.4 2.1l10.6 2.1l9.7 2.1l9 2.1l8.4 2.1l7.6 2.1l7 2l7.1 2.1l7.4 2.2l7 2.2l7.1 2.2l6.5 2.3l5.5 2.2l4.7 2.2l3.6 2.1l3.1 2.2l2.7 2.1l2.4 2.2l2.2 2.1l2 2.2l3.2 3.8l2.9 4.1l2.8 4.2l2.5 4.4l2.4 4.4l2.2 4.5l2 4.6l1.9 4.7l1.7 4.7l1.6 4.8l1.3 4.8l1.1 4.9l1.1 4.9l.9 5l.9 4.9l1 5l.9 4.9l1.1 4.9l1 4.9l1.1 4.9l1.1 4.9l1.2 4.9l1.3 4.9l1.4 4.8l1.4 4.8l1.5 4.8l1.5 4.8l1.6 4.8l1.6 4.8l1.6 4.8l1.7 4.7l1.7 4.7l1.8 4.7l2.1 4.6l2.3 4.5l2.3 4.5l2.2 4.5l2.1 4.6l1.9 4.6l.9 5l.5 5l.4 5l.4 5l.3 5l.3 5l.4 5l.4 5l.4 5l.3 5l.3 5l.4 5l.3 5l.3 5l.3 5l.4 5l.3 5l.2 5l.3 5l.2 5l.3 5l.2 5l.2 5l.2 5l.2 5l.2 5l.2 5l.1 5l.2 5l.1 5l.1 5l.1 5l.1 2.8" marker-start="url(#w22)" marker-mid="url(#w22)" marker-end="url(#w22)"/>
<path d="M104 102.8l11.1 2.2l10.9 2.2l13.8 2.1l17.5 2.2l14.6 2.1l14 2.1l15.7 2.2l16.1 2.2l20.2 2.2l19.4 2.1l21.6 2.2l22.9 2.2l22 2.1l22.3 2.2l23.6 2.1l22.5 2.2l19.8 2.1l19.2 2.1l20 2.2l20.3 2.1l21 2.1l19.4 2.2l15.1 2l13.4 2.1l12.5 2.1l11.4 2.1l10.5 2.1l9.7 2.1l9.1 2.1l8.4 2.2l7.6 2l6.9 2l7.2 2.1l7.4 2.2l7 2.2l7.1 2.3l6.5 2.2l5.5 2.2l4.6 2.2l3.7 2.1l3.1 2.2l2.6 2.1l2.4 2.2l2.2 2.1l2.1 2.2l3.2 3.8l2.9 4.1l2.7 4.2l2.6 4.4l2.3 4.4l2.2 4.5l2.1 4.6l1.9 4.7l1.7 4.7l1.5 4.8l1.4 4.8l1.1 4.9l1 4.9l1 5l.9 4.9l1 5l.9 4.9l1.1 4.9l1 4.9l1.1 4.9l1.2 4.9l1.2 4.9l1.2 4.9l1.4 4.8l1.5 4.8l1.5 4.8l1.5 4.8l1.6 4.8l1.6 4.8l1.6 4.7l1.7 4.8l1.7 4.7l1.9 4.7l2.1 4.6l2.3 4.5l2.3 4.4l2.2 4.5l2.2 4.5l2 4.7l.8 4.9l.6 5l.4 5l.3 5l.4 5l.3 5l.4 5l.4 5l.3 5l.4 5l.3 5l.3 5l.4 5l.3 5l.3 5l.3 5l.3 5l.3 5l.3 5l.2 5l.3 5l.2 5l.2 5l.2 5l.2 5l.2 5l.2 5l.2 5l.1 5l.1 5l.1 5l.1 5l.1 3" marker-start="url(#w23)" marker-mid="url(#w23)" marker-end="url(#w23)"/>
<path d="M104 102.8l11.1 2.2l10.9 2.2l13.8 2.1l17.5 2.2l14.6 2.1l14.1 2.1l15.6 2.2l16.2 2.2l20.1 2.2l19.4 2.1l21.7 2.2l22.9 2.1l22 2.2l22.3 2.1l23.6 2.2l22.5 2.2l19.9 2.1l19.2 2.1l20 2.2l20.3 2.1l21 2.1l19.4 2.2l15.2 2l13.3 2.1l12.5 2.1l11.4 2.1l10.6 2.1l9.7 2.1l9.1 2.2l8.4 2.1l7.5 2l7 2l7.2 2.2l7.3 2.1l7.1 2.2l7.1 2.3l6.4 2.2l5.6 2.2l4.7 2.2l3.6 2.2l3.1 2.1l2.6 2.2l2.4 2.1l2.2 2.2l2 2.1l3.2 3.9l3 4.1l2.7 4.3l2.5 4.3l2.4 4.5l2.2 4.5l2 4.6l1.9 4.6l1.8 4.7l1.5 4.8l1.3 4.9l1.2 4.9l1 4.9l.9 4.9l1 5l.9 4.9l1 5l1.1 4.9l1 4.9l1.1 4.9l1.2 4.9l1.2 4.9l1.3 4.8l1.4 4.9l1.5 4.8l1.5 4.8l1.5 4.8l1.6 4.8l1.6 4.7l1.6 4.8l1.8 4.7l1.7 4.7l1.9 4.6l2.1 4.6l2.3 4.4l2.4 4.5l2.3 4.5l2.2 4.5l2 4.6l.9 4.9l.5 5l.4 5l.4 5l.3 5l.4 5l.3 5l.4 5l.4 5l.3 5l.4 5l.3 5l.3 5l.3 5l.4 5l.3 5l.3 5l.3 5l.2 5l.3 5l.2 5l.3 5l.2 5l.2 5l.2 5l.2 5l.2 5l.1 5l.2 5l.1 5l.1 5l.1 5l.1 3.1" marker-start="url(#w24)" marker-mid="url(#w24)" marker-end="url(#w24)"/>
<path d="M104 102.8l11.1 2.2l10.9 2.2l13.8 2.1l17.5 2.2l14.6 2.1l14.1 2.1l15.7 2.2l16.1 2.2l20.2 2.2l19.4 2.1l21.7 2.2l22.8 2.1l22.1 2.2l22.3 2.1l23.6 2.2l22.5 2.2l19.9 2.1l19.2 2.1l20 2.1l20.3 2.2l21.1 2.1l19.4 2.2l15.1 2l13.4 2.1l12.4 2.1l11.5 2.1l10.5 2.2l9.8 2.1l9 2.1l8.4 2.1l7.6 2l7 2.1l7.2 2.1l7.3 2.2l7.1 2.2l7.1 2.2l6.4 2.2l5.6 2.3l4.7 2.1l3.6 2.2l3.1 2.1l2.6 2.2l2.4 2.1l2.2 2.2l2 2.1l3.2 3.9l2.9 4.1l2.8 4.3l2.5 4.3l2.3 4.5l2.2 4.5l2.1 4.6l1.9 4.6l1.7 4.7l1.6 4.8l1.3 4.9l1.1 4.9l1 4.9l1 4.9l.9 5l1 4.9l1 5l1 4.9l1.1 4.9l1.1 4.9l1.2 4.9l1.2 4.8l1.3 4.9l1.4 4.8l1.5 4.8l1.5 4.8l1.6 4.8l1.6 4.8l1.6 4.7l1.6 4.8l1.8 4.7l1.8 4.7l1.9 4.6l2.1 4.6l2.3 4.4l2.4 4.4l2.3 4.5l2.2 4.5l2.1 4.6l.9 5l.6 5l.4 5l.3 5l.4 5l.3 5l.4 5l.4 5l.4 5l.3 5l.3 5l.4 5l.3 5l.3 5l.4 5l.3 5l.3 5l.3 5l.2 5l.3 5l.2 5l.2 5l.3 5l.2 5l.2 5l.2 5l.2 5l.1 5l.2 5l.1 5l.2 5l.1 5l0 3.2" marker-start="url(#w25)" marker-mid="url(#w25)" marker-end="url(#w25)"/>
<path d="M104 102.8l11.1 2.2l10.9 2.2l13.8 2.1l17.5 2.2l14.6 2.1l14.1 2.1l15.7 2.2l16.1 2.2l20.2 2.2l19.5 2.1l21.7 2.2l22.8 2.1l22.1 2.2l22.3 2.1l23.6 2.2l22.5 2.2l19.9 2.1l19.2 2.1l20.1 2.1l20.3 2.2l21 2.1l19.4 2.2l15.2 2l13.3 2.1l12.5 2.1l11.5 2.2l10.5 2.1l9.7 2.1l9.1 2.1l8.4 2.1l7.6 2l7 2.1l7.2 2.1l7.3 2.2l7.1 2.2l7.1 2.2l6.4 2.3l5.6 2.2l4.6 2.1l3.7 2.2l3 2.1l2.7 2.2l2.4 2.1l2.1 2.2l2 2.1l3.2 3.9l3 4.1l2.7 4.3l2.5 4.3l2.4 4.5l2.2 4.5l2 4.6l1.9 4.6l1.8 4.7l1.5 4.8l1.3 4.9l1.2 4.9l1 4.9l1 4.9l.9 5l1 4.9l1 5l1 4.9l1.1 4.9l1.2 4.9l1.1 4.9l1.2 4.8l1.4 4.9l1.4 4.8l1.5 4.8l1.5 4.8l1.6 4.8l1.5 4.8l1.7 4.7l1.6 4.8l1.8 4.7l1.8 4.7l1.9 4.6l2.2 4.6l2.3 4.4l2.5 4.4l2.3 4.5l2.2 4.5l2.1 4.6l1 4.9l.5 5l.5 5l.3 5l.3 5l.4 5l.4 5l.4 5l.3 5l.4 5l.3 5l.4 5l.3 5l.3 5l.3 5l.4 5l.3 5l.2 5l.3 5l.3 5l.2 5l.2 5l.3 5l.2 5l.2 5l.2 5l.2 5l.2 5l.1 5l.2 5l.1 5l.1 5l.1 3.3" marker-start="url(#w26)" marker-mid="url(#w26)" marker-end="url(#w26)"/>
<path d="M104 102.8l11.1 2.2l10.9 2.2l13.9 2.1l17.5 2.2l14.6 2.1l14.1 2.1l15.7 2.2l16.1 2.2l20.3 2.1l19.4 2.2l21.7 2.2l22.9 2.1l22.1 2.2l22.3 2.1l23.6 2.2l22.6 2.2l19.9 2.1l19.2 2.1l20.1 2.1l20.3 2.2l21.1 2.1l19.4 2.2l15.1 2l13.4 2.1l12.5 2.2l11.5 2.1l10.5 2.1l9.7 2.1l9.1 2.1l8.5 2.2l7.5 2l7 2.1l7.2 2.1l7.4 2.2l7.1 2.1l7 2.3l6.5 2.2l5.6 2.2l4.7 2.2l3.6 2.1l3 2.2l2.7 2.1l2.3 2.2l2.2 2.1l1.9 2.2l3.2 3.9l3 4.1l2.7 4.2l2.5 4.4l2.4 4.4l2.2 4.5l2 4.6l1.9 4.7l1.7 4.7l1.6 4.8l1.3 4.8l1.2 4.9l1 4.9l1 5l.9 4.9l1 5l1 4.9l1.1 4.9l1.1 4.9l1.1 4.9l1.2 4.9l1.3 4.8l1.3 4.9l1.4 4.8l1.5 4.8l1.6 4.8l1.5 4.7l1.7 4.8l1.6 4.7l1.7 4.8l1.8 4.7l1.9 4.6l1.9 4.7l2.2 4.5l2.4 4.4l2.5 4.4l2.4 4.4l2.3 4.5l2.2 4.5l1 4.9l.6 5l.5 5l.3 5l.3 5l.4 5l.4 5l.4 5l.4 5l.3 5l.3 5l.4 5l.3 5l.3 5l.4 5l.3 5l.3 5l.3 5l.2 5l.3 5l.3 5l.2 5l.2 5l.3 5l.2 5l.2 5l.2 5l.1 5l.2 5l.2 5l.1 5l.1 5l.1 3.7" marker-start="url(#w27)" marker-mid="url(#w27)" marker-end="url(#w27)"/>
<path d="M104 102.8l11.1 2.2l10.9 2.2l13.9 2.1l17.5 2.2l14.7 2.1l14.1 2.1l15.7 2.2l16.2 2.2l20.2 2.1l19.4 2.2l21.8 2.2l22.9 2.1l22.1 2.2l22.3 2.1l23.7 2.2l22.6 2.1l19.9 2.2l19.2 2.1l20.1 2.1l20.4 2.2l21.1 2.1l19.4 2.2l15.2 2l13.3 2.2l12.6 2.1l11.4 2.1l10.6 2.1l9.7 2.1l9.1 2.2l8.5 2.1l7.6 2.1l6.9 2l7.2 2.2l7.4 2.1l7.1 2.2l7.1 2.2l6.5 2.2l5.5 2.2l4.8 2.2l3.6 2.2l3 2.1l2.6 2.2l2.4 2.1l2.1 2.2l1.9 2.1l3.2 3.9l2.9 4.1l2.7 4.3l2.5 4.3l2.4 4.5l2.2 4.5l2.1 4.6l1.9 4.6l1.7 4.7l1.5 4.8l1.4 4.9l1.1 4.9l1.1 4.9l1 4.9l.9 5l1 4.9l1 4.9l1.1 4.9l1.1 4.9l1.2 4.9l1.2 4.9l1.3 4.9l1.4 4.8l1.4 4.8l1.6 4.8l1.5 4.8l1.6 4.7l1.7 4.8l1.7 4.7l1.7 4.7l1.8 4.7l1.9 4.7l2 4.6l2.3 4.5l2.4 4.3l2.6 4.4l2.5 4.4l2.4 4.4l2.2 4.5l1.2 4.9l.6 5l.5 5l.3 5l.4 5l.3 5l.4 5l.4 5l.4 5l.4 5l.3 5l.3 5l.4 5l.3 5l.3 5l.3 5l.4 5l.2 5l.3 5l.3 5l.2 5l.3 5l.2 5l.3 5l.2 5l.2 5l.2 5l.2 5l.2 5l.1 5l.2 5l.1 5l.1 4" marker-start="url(#w28)" marker-mid="url(#w28)" marker-end="url(#w28)"/>
<path d="M104 102.8l11.1 2.2l10.9 2.2l13.9 2.1l17.6 2.2l14.6 2.1l14.1 2.1l15.7 2.2l16.2 2.2l20.3 2.1l19.4 2.2l21.8 2.1l22.9 2.2l22.1 2.1l22.4 2.2l23.6 2.2l22.6 2.1l19.9 2.2l19.3 2.1l20.1 2.1l20.4 2.2l21.1 2.1l19.4 2.2l15.2 2.1l13.4 2.1l12.5 2.1l11.5 2.1l10.6 2.1l9.7 2.2l9.1 2.1l8.4 2.1l7.6 2.1l7 2.1l7.2 2.1l7.4 2.2l7.1 2.2l7.1 2.2l6.5 2.2l5.5 2.2l4.7 2.1l3.7 2.2l3 2.1l2.6 2.2l2.3 2.1l2.1 2.2l2 2.1l3.1 3.9l2.9 4.1l2.7 4.3l2.6 4.3l2.3 4.5l2.2 4.5l2.1 4.6l1.9 4.6l1.7 4.7l1.6 4.8l1.3 4.9l1.2 4.9l1 4.9l1 4.9l.9 5l1 4.9l1.1 4.9l1.1 4.9l1.1 4.9l1.2 4.9l1.2 4.9l1.3 4.8l1.4 4.9l1.5 4.8l1.5 4.8l1.6 4.7l1.6 4.8l1.6 4.7l1.8 4.8l1.7 4.7l1.9 4.6l1.9 4.7l2 4.6l2.3 4.5l2.5 4.3l2.6 4.3l2.5 4.4l2.4 4.4l2.3 4.4l1.3 4.9l.6 5l.5 5l.3 5l.4 5l.3 5l.4 5l.4 5l.4 5l.4 5l.3 5l.4 5l.3 5l.3 5l.3 5l.4 5l.3 5l.3 5l.3 5l.2 5l.3 5l.2 5l.3 5l.2 5l.3 5l.2 5l.2 5l.2 5l.2 5l.1 5l.2 5l.1 5l.1 4.3" marker-start="url(#w29)" marker-mid="url(#w29)" marker-end="url(#w29)"/>
<path d="M104 102.8l11.1 2.2l10.9 2.1l13.9 2.2l17.6 2.2l14.6 2.1l14.1 2.1l15.8 2.2l16.2 2.2l20.2 2.1l19.5 2.2l21.8 2.1l22.9 2.2l22.1 2.1l22.4 2.2l23.6 2.2l22.7 2.1l19.9 2.2l19.3 2.1l20.1 2.1l20.3 2.2l21.1 2.1l19.5 2.2l15.2 2.1l13.4 2.1l12.5 2.1l11.5 2.1l10.6 2.2l9.7 2.1l9.1 2.1l8.5 2.1l7.6 2.1l7 2.1l7.2 2.2l7.3 2.1l7.1 2.2l7.1 2.2l6.5 2.2l5.6 2.2l4.7 2.1l3.6 2.2l3 2.1l2.6 2.2l2.3 2.1l2.1 2.2l1.9 2.1l3.2 3.9l2.9 4.1l2.7 4.3l2.5 4.3l2.4 4.5l2.2 4.5l2.1 4.6l1.9 4.6l1.7 4.7l1.6 4.8l1.3 4.9l1.2 4.9l1 4.9l1 4.9l1 5l.9 4.9l1.1 4.9l1.1 4.9l1.2 4.9l1.2 4.9l1.2 4.9l1.3 4.8l1.4 4.9l1.5 4.8l1.5 4.8l1.6 4.7l1.6 4.8l1.7 4.7l1.7 4.7l1.8 4.7l1.9 4.7l1.9 4.6l2.1 4.6l2.2 4.5l2.6 4.4l2.6 4.3l2.6 4.3l2.4 4.4l2.4 4.4l1.3 4.9l.6 5l.5 5l.4 5l.3 5l.4 5l.4 5l.4 5l.3 5l.4 5l.4 5l.3 5l.3 5l.4 5l.3 5l.3 5l.3 5l.3 5l.3 5l.3 5l.3 5l.2 5l.3 5l.2 5l.2 5l.3 5l.2 5l.2 5l.2 5l.1 5l.2 5l.1 5l.2 4.4" marker-start="url(#w30)" marker-mid="url(#w30)" marker-end="url(#w30)"/>
<path d="M104 102.8l11.1 2.2l11 2.1l13.9 2.2l17.5 2.2l14.7 2.1l14.1 2.1l15.7 2.2l16.2 2.2l20.3 2.1l19.4 2.2l21.8 2.1l23 2.2l22.1 2.1l22.4 2.2l23.6 2.2l22.7 2.1l19.9 2.1l19.3 2.2l20.1 2.1l20.4 2.2l21.1 2.1l19.4 2.2l15.2 2.1l13.4 2.1l12.6 2.1l11.5 2.1l10.5 2.2l9.8 2.1l9.1 2.1l8.4 2.2l7.7 2l6.9 2.1l7.2 2.2l7.4 2.1l7.1 2.2l7.1 2.2l6.5 2.2l5.6 2.2l4.7 2.2l3.7 2.1l2.9 2.2l2.6 2.1l2.3 2.2l2.1 2.1l1.9 2.2l3.2 3.9l2.9 4.1l2.7 4.3l2.5 4.3l2.4 4.5l2.2 4.5l2.1 4.6l1.9 4.6l1.7 4.7l1.5 4.8l1.4 4.9l1.1 4.9l1.1 4.9l1 4.9l.9 5l1 4.9l1.1 4.9l1.1 4.9l1.2 4.9l1.2 4.9l1.2 4.9l1.4 4.8l1.4 4.9l1.4 4.8l1.6 4.8l1.6 4.7l1.6 4.8l1.7 4.7l1.7 4.7l1.8 4.7l1.9 4.7l2 4.6l2.1 4.6l2.3 4.5l2.6 4.4l2.6 4.2l2.6 4.4l2.4 4.4l2.4 4.4l1.3 4.8l.7 5l.5 5l.3 5l.4 5l.3 5l.4 5l.4 5l.4 5l.4 5l.4 5l.3 5l.3 5l.4 5l.3 5l.3 5l.3 5l.3 5l.3 5l.3 5l.3 5l.2 5l.3 5l.2 5l.3 5l.2 5l.2 5l.2 5l.2 5l.2 5l.1 5l.2 5l.1 4.4" marker-start="url(#w31)" marker-mid="url(#w31)" marker-end="url(#w31)"/>
<path d="M104 102.8l11.1 2.2l11 2.1l13.9 2.2l17.5 2.2l14.7 2.1l14.1 2.1l15.7 2.2l16.2 2.2l20.3 2.1l19.5 2.2l21.8 2.1l22.9 2.2l22.1 2.1l22.4 2.2l23.7 2.1l22.6 2.2l20 2.1l19.3 2.2l20.1 2.1l20.4 2.2l21.1 2.1l19.4 2.2l15.2 2.1l13.4 2.1l12.6 2.1l11.5 2.1l10.6 2.2l9.7 2.1l9.1 2.2l8.5 2.1l7.6 2.1l7 2.1l7.2 2.1l7.3 2.2l7.2 2.1l7.1 2.2l6.4 2.2l5.6 2.2l4.8 2.2l3.6 2.1l3 2.2l2.5 2.1l2.3 2.2l2.1 2.1l2 2.2l3.1 3.9l2.9 4.1l2.7 4.3l2.5 4.3l2.4 4.5l2.2 4.5l2.1 4.6l1.9 4.6l1.7 4.7l1.6 4.8l1.3 4.9l1.2 4.9l1 4.9l1 4.9l1 5l.9 4.9l1.1 4.9l1.1 4.9l1.2 4.9l1.2 4.9l1.3 4.9l1.3 4.8l1.4 4.9l1.5 4.8l1.6 4.8l1.6 4.7l1.6 4.8l1.7 4.7l1.7 4.7l1.9 4.7l1.9 4.7l1.9 4.6l2.1 4.6l2.3 4.4l2.6 4.3l2.6 4.3l2.6 4.3l2.5 4.4l2.4 4.4l1.4 4.8l.7 5l.4 5l.4 5l.4 5l.3 5l.4 5l.4 5l.4 5l.4 5l.4 5l.3 5l.3 5l.4 5l.3 5l.3 5l.3 5l.3 5l.3 5l.3 5l.3 5l.2 5l.3 5l.2 5l.3 5l.2 5l.2 5l.2 5l.2 5l.2 5l.2 5l.1 5l.2 4.6" marker-start="url(#w32)" marker-mid="url(#w32)" marker-end="url(#w32)"/>
<path d="M104 102.8l11.1 2.2l11 2.1l13.9 2.2l17.5 2.2l14.7 2.1l14.1 2.1l15.8 2.2l16.2 2.2l20.2 2.1l19.5 2.2l21.8 2.1l23 2.2l22.1 2.1l22.4 2.2l23.7 2.1l22.6 2.2l20 2.1l19.3 2.2l20.1 2.1l20.4 2.2l21.1 2.1l19.5 2.2l15.2 2.1l13.4 2.1l12.5 2.1l11.5 2.2l10.6 2.1l9.7 2.1l9.2 2.2l8.4 2.1l7.6 2.1l7 2.1l7.2 2.1l7.4 2.2l7.1 2.2l7.1 2.2l6.5 2.1l5.6 2.2l4.7 2.2l3.6 2.1l3 2.2l2.6 2.1l2.3 2.2l2 2.1l2 2.2l3.1 3.9l2.9 4.1l2.7 4.3l2.5 4.3l2.4 4.5l2.2 4.5l2.1 4.6l1.9 4.6l1.7 4.7l1.6 4.8l1.3 4.9l1.2 4.9l1 4.9l1 4.9l1 5l1 4.9l1 4.9l1.2 4.9l1.2 4.9l1.2 4.9l1.2 4.9l1.4 4.8l1.4 4.8l1.5 4.8l1.5 4.8l1.6 4.8l1.7 4.7l1.7 4.8l1.7 4.7l1.9 4.7l1.9 4.6l2 4.6l2 4.6l2.3 4.4l2.6 4.3l2.7 4.3l2.6 4.3l2.5 4.3l2.5 4.4l1.4 4.8l.7 5l.5 5l.3 5l.4 5l.3 5l.5 5l.4 5l.4 5l.3 5l.4 5l.3 5l.4 5l.3 5l.3 5l.4 5l.3 5l.3 5l.3 5l.3 5l.2 5l.3 5l.3 5l.2 5l.2 5l.3 5l.2 5l.2 5l.2 5l.2 5l.2 5l.1 5l.2 4.8" marker-start="url(#w33)" marker-mid="url(#w33)" marker-end="url(#w33)"/>
<path d="M104 102.8l11.1 2.2l11 2.1l13.9 2.2l17.5 2.2l14.7 2.1l14.1 2.1l15.8 2.2l16.2 2.2l20.3 2.1l19.5 2.2l21.8 2.1l22.9 2.2l22.2 2.1l22.3 2.2l23.7 2.1l22.7 2.2l19.9 2.1l19.3 2.2l20.2 2.1l20.3 2.2l21.2 2.1l19.5 2.1l15.2 2.2l13.4 2.1l12.5 2.1l11.5 2.2l10.6 2.1l9.8 2.1l9.1 2.2l8.4 2.1l7.7 2.1l6.9 2.1l7.3 2.1l7.3 2.2l7.2 2.2l7.1 2.2l6.4 2.1l5.6 2.2l4.7 2.2l3.7 2.1l2.9 2.2l2.6 2.1l2.3 2.2l2.1 2.1l1.9 2.2l3.1 3.9l2.9 4.1l2.7 4.3l2.5 4.3l2.4 4.5l2.2 4.5l2.1 4.6l1.9 4.6l1.7 4.7l1.6 4.8l1.3 4.9l1.2 4.9l1 4.9l1 4.9l1 5l1 4.9l1.1 4.9l1.1 4.9l1.2 4.9l1.2 4.9l1.3 4.9l1.3 4.8l1.4 4.8l1.5 4.8l1.6 4.8l1.6 4.8l1.7 4.7l1.7 4.8l1.8 4.7l1.8 4.7l1.9 4.6l2 4.6l2.1 4.6l2.3 4.4l2.6 4.3l2.7 4.3l2.7 4.3l2.5 4.3l2.5 4.4l1.4 4.8l.7 5l.5 5l.3 5l.4 5l.4 5l.4 5l.4 5l.4 5l.4 5l.3 5l.4 5l.3 5l.3 5l.4 5l.3 5l.3 5l.3 5l.3 5l.3 5l.3 5l.2 5l.3 5l.3 5l.2 5l.2 5l.3 5l.2 5l.2 5l.2 5l.1 5l.2 5l.1 4.8" marker-start="url(#w34)" marker-mid="url(#w34)" marker-end="url(#w34)"/>
<path d="M104 102.8l11.1 2.2l11 2.1l13.9 2.2l17.6 2.1l14.6 2.2l14.2 2.1l15.7 2.2l16.2 2.2l20.3 2.1l19.5 2.2l21.8 2.1l23 2.2l22.1 2.1l22.4 2.2l23.7 2.1l22.7 2.2l19.9 2.1l19.3 2.2l20.2 2.1l20.4 2.2l21.1 2.1l19.5 2.1l15.2 2.2l13.4 2.1l12.6 2.1l11.5 2.2l10.6 2.1l9.7 2.1l9.1 2.2l8.5 2.1l7.6 2.1l7 2.1l7.2 2.2l7.4 2.1l7.1 2.2l7.1 2.2l6.5 2.2l5.6 2.1l4.7 2.2l3.6 2.1l3 2.2l2.5 2.1l2.3 2.2l2.1 2.1l1.9 2.2l3.2 3.9l2.9 4.1l2.7 4.3l2.5 4.3l2.3 4.5l2.2 4.5l2.1 4.6l1.9 4.6l1.8 4.7l1.5 4.8l1.3 4.9l1.2 4.9l1.1 4.9l1 4.9l.9 5l1 4.9l1.1 4.9l1.2 4.9l1.2 4.9l1.2 4.9l1.3 4.8l1.3 4.9l1.4 4.8l1.5 4.8l1.6 4.8l1.6 4.7l1.7 4.8l1.7 4.7l1.8 4.7l1.8 4.7l2 4.6l2 4.6l2.1 4.6l2.3 4.4l2.6 4.3l2.8 4.3l2.6 4.3l2.5 4.3l2.6 4.4l1.5 4.8l.7 5l.5 5l.3 5l.4 5l.4 5l.4 5l.4 5l.4 5l.4 5l.3 5l.4 5l.3 5l.3 5l.4 5l.3 5l.3 5l.3 5l.3 5l.3 5l.3 5l.3 5l.2 5l.3 5l.2 5l.3 5l.2 5l.2 5l.2 5l.2 5l.2 5l.2 5l.1 4.9" marker-start="url(#w35)" marker-mid="url(#w35)" marker-end="url(#w35)"/>
<path d="M104 102.8l11.1 2.2l11 2.1l13.9 2.2l17.6 2.1l14.6 2.2l14.2 2.1l15.7 2.2l16.3 2.2l20.2 2.1l19.5 2.2l21.8 2.1l23 2.2l22.2 2.1l22.4 2.2l23.7 2.1l22.6 2.2l20 2.1l19.3 2.2l20.1 2.1l20.4 2.2l21.2 2.1l19.5 2.1l15.2 2.2l13.4 2.1l12.5 2.1l11.5 2.2l10.6 2.1l9.8 2.1l9.1 2.2l8.5 2.1l7.6 2.1l7 2.1l7.2 2.2l7.4 2.1l7.1 2.2l7.1 2.2l6.5 2.2l5.6 2.1l4.7 2.2l3.6 2.1l3 2.2l2.5 2.1l2.3 2.2l2.1 2.1l1.9 2.2l3.1 3.9l2.9 4.1l2.7 4.3l2.5 4.3l2.4 4.5l2.2 4.5l2.1 4.6l1.9 4.6l1.7 4.7l1.6 4.8l1.3 4.9l1.2 4.9l1 4.9l1 4.9l1 5l1 4.9l1.1 4.9l1.2 4.9l1.2 4.9l1.2 4.9l1.3 4.8l1.3 4.9l1.4 4.8l1.5 4.8l1.6 4.8l1.6 4.7l1.7 4.8l1.7 4.7l1.8 4.7l1.8 4.6l2 4.7l2 4.6l2.1 4.5l2.4 4.5l2.6 4.3l2.7 4.2l2.6 4.2l2.6 4.4l2.5 4.3l1.6 4.8l.7 5l.5 5l.4 5l.3 5l.4 5l.4 5l.4 5l.4 5l.4 5l.4 5l.3 5l.4 5l.3 5l.3 5l.3 5l.4 5l.3 5l.3 5l.3 5l.2 5l.3 5l.3 5l.2 5l.3 5l.2 5l.3 5l.2 5l.2 5l.2 5l.2 5l.1 5l.2 5l0 .1" marker-start="url(#w36)" marker-mid="url(#w36)" marker-end="url(#w36)"/>
<path d="M104 102.8l11.1 2.2l11 2.1l13.9 2.2l17.6 2.1l14.6 2.2l14.2 2.1l15.7 2.2l16.3 2.2l20.3 2.1l19.5 2.2l21.8 2.1l22.9 2.2l22.2 2.1l22.4 2.2l23.7 2.1l22.7 2.2l19.9 2.1l19.3 2.2l20.2 2.1l20.4 2.2l21.1 2.1l19.5 2.1l15.2 2.2l13.4 2.1l12.6 2.1l11.5 2.2l10.6 2.1l9.8 2.1l9.1 2.2l8.4 2.1l7.7 2.1l6.9 2.1l7.3 2.2l7.3 2.1l7.2 2.2l7.1 2.2l6.5 2.2l5.6 2.1l4.7 2.2l3.6 2.2l3 2.1l2.5 2.2l2.3 2.1l2.1 2.2l1.9 2.1l3.1 4l2.9 4.1l2.7 4.2l2.5 4.4l2.4 4.4l2.2 4.5l2 4.6l2 4.7l1.7 4.7l1.5 4.8l1.4 4.8l1.2 4.9l1 4.9l1 5l1 4.9l1 5l1.1 4.9l1.1 4.9l1.2 4.9l1.3 4.8l1.2 4.9l1.4 4.8l1.4 4.8l1.5 4.8l1.6 4.8l1.6 4.7l1.7 4.8l1.7 4.7l1.8 4.7l1.8 4.6l2 4.7l2 4.6l2.1 4.5l2.4 4.5l2.6 4.3l2.8 4.2l2.6 4.2l2.5 4.4l2.6 4.3l1.6 4.8l.7 5l.5 5l.4 5l.3 5l.4 5l.4 5l.4 5l.4 5l.4 5l.4 5l.3 5l.4 5l.3 5l.3 5l.4 5l.3 5l.3 5l.3 5l.3 5l.3 5l.2 5l.3 5l.3 5l.2 5l.3 5l.2 5l.2 5l.2 5l.2 5l.2 5l.2 5l.1 5l0 .1" marker-start="url(#w37)" marker-mid="url(#w37)" marker-end="url(#w37)"/>
<path d="M104 102.8l11.2 2.2l10.9 2.1l13.9 2.2l17.6 2.1l14.7 2.2l14.1 2.1l15.8 2.2l16.2 2.1l20.3 2.2l19.5 2.2l21.8 2.1l23 2.2l22.2 2.1l22.4 2.2l23.7 2.1l22.6 2.2l20 2.1l19.3 2.2l20.2 2.1l20.4 2.2l21.1 2.1l19.5 2.1l15.2 2.2l13.5 2.1l12.5 2.1l11.5 2.2l10.6 2.1l9.8 2.2l9.1 2.1l8.5 2.1l7.6 2.1l7 2.2l7.2 2.1l7.4 2.2l7.1 2.1l7.1 2.2l6.5 2.2l5.6 2.2l4.8 2.1l3.6 2.2l2.9 2.1l2.6 2.2l2.2 2.1l2.1 2.2l1.9 2.1l3.1 4l2.9 4.1l2.7 4.2l2.5 4.4l2.4 4.4l2.2 4.5l2.1 4.6l1.9 4.7l1.7 4.7l1.6 4.8l1.3 4.8l1.2 4.9l1 4.9l1 5l1 4.9l1 4.9l1.1 4.9l1.2 4.9l1.2 4.9l1.2 4.9l1.3 4.8l1.4 4.9l1.4 4.8l1.5 4.8l1.6 4.7l1.6 4.8l1.7 4.7l1.7 4.7l1.8 4.7l1.9 4.7l1.9 4.6l2.1 4.6l2.1 4.6l2.4 4.4l2.6 4.3l2.8 4.2l2.7 4.3l2.5 4.3l2.6 4.3l1.6 4.8l.7 4.9l.5 5l.4 5l.4 5l.3 5l.4 5l.5 5l.4 5l.4 5l.3 5l.4 5l.3 5l.3 5l.4 5l.3 5l.3 5l.3 5l.3 5l.3 5l.3 5l.3 5l.3 5l.2 5l.3 5l.2 5l.3 5l.2 5l.2 5l.2 5l.2 5l.2 5l.1 5l0 .3" marker-start="url(#w38)" marker-mid="url(#w38)" marker-end="url(#w38)"/>
<path d="M104 102.8l11.2 2.2l10.9 2.1l13.9 2.2l17.6 2.1l14.7 2.2l14.1 2.1l15.8 2.2l16.2 2.1l20.3 2.2l19.5 2.2l21.9 2.1l22.9 2.2l22.2 2.1l22.4 2.2l23.7 2.1l22.7 2.2l20 2.1l19.3 2.2l20.1 2.1l20.4 2.2l21.2 2.1l19.5 2.1l15.2 2.2l13.5 2.1l12.5 2.1l11.5 2.2l10.6 2.1l9.8 2.2l9.1 2.1l8.5 2.1l7.6 2.2l7 2.1l7.2 2.1l7.4 2.2l7.1 2.2l7.1 2.1l6.5 2.2l5.6 2.2l4.8 2.1l3.6 2.2l2.9 2.1l2.6 2.2l2.2 2.1l2.1 2.2l1.9 2.1l3.1 4l2.9 4.1l2.7 4.2l2.5 4.4l2.4 4.4l2.2 4.5l2 4.6l2 4.7l1.7 4.7l1.6 4.8l1.3 4.8l1.2 4.9l1 4.9l1 5l1 4.9l1 4.9l1.1 4.9l1.2 4.9l1.2 4.9l1.2 4.9l1.3 4.8l1.4 4.9l1.4 4.8l1.5 4.8l1.6 4.7l1.6 4.8l1.7 4.7l1.8 4.7l1.8 4.7l1.8 4.7l2 4.6l2.1 4.6l2.1 4.6l2.4 4.4l2.6 4.3l2.8 4.2l2.7 4.2l2.6 4.4l2.6 4.3l1.6 4.7l.7 5l.6 5l.3 5l.4 5l.4 5l.4 5l.4 5l.4 5l.4 5l.4 5l.3 5l.4 5l.3 5l.3 5l.4 5l.3 5l.3 5l.3 5l.3 5l.3 5l.3 5l.2 5l.3 5l.3 5l.2 5l.2 5l.3 5l.2 5l.2 5l.2 5l.2 5l.1 5l0 .3" marker-start="url(#w39)" marker-mid="url(#w39)" marker-end="url(#w39)"/>
<path d="M104 102.8l11.2 2.2l10.9 2.1l13.9 2.2l17.6 2.1l14.7 2.2l14.1 2.1l15.8 2.2l16.2 2.1l20.3 2.2l19.6 2.2l21.8 2.1l23 2.2l22.1 2.1l22.5 2.2l23.7 2.1l22.7 2.2l19.9 2.1l19.4 2.2l20.1 2.1l20.4 2.1l21.2 2.2l19.5 2.1l15.2 2.2l13.4 2.1l12.6 2.1l11.5 2.2l10.6 2.1l9.8 2.2l9.1 2.1l8.5 2.1l7.6 2.2l7 2.1l7.2 2.1l7.4 2.2l7.1 2.1l7.1 2.2l6.5 2.2l5.6 2.1l4.7 2.2l3.7 2.1l2.9 2.2l2.6 2.1l2.3 2.2l2 2.1l1.9 2.2l3.1 3.9l2.9 4.1l2.8 4.3l2.5 4.3l2.3 4.5l2.2 4.5l2.1 4.6l1.9 4.6l1.8 4.7l1.5 4.8l1.4 4.9l1.2 4.9l1 4.9l1 4.9l1 5l1 4.9l1.1 4.9l1.2 4.9l1.2 4.9l1.2 4.8l1.3 4.9l1.4 4.8l1.5 4.8l1.5 4.8l1.6 4.8l1.6 4.7l1.7 4.8l1.7 4.7l1.8 4.7l1.9 4.6l2 4.7l2 4.6l2.2 4.5l2.4 4.5l2.6 4.2l2.8 4.2l2.7 4.3l2.6 4.3l2.6 4.3l1.7 4.7l.7 5l.5 5l.4 5l.3 5l.4 5l.4 5l.4 5l.4 5l.4 5l.4 5l.3 5l.4 5l.3 5l.4 5l.3 5l.3 5l.3 5l.3 5l.3 5l.3 5l.3 5l.3 5l.2 5l.3 5l.3 5l.2 5l.2 5l.2 5l.2 5l.2 5l.2 5l.2 5l0 .4" marker-start="url(#w40)" marker-mid="url(#w40)" marker-end="url(#w40)"/>
<path d="M104 102.8l11.2 2.2l10.9 2.1l13.9 2.2l17.6 2.1l14.7 2.2l14.2 2.1l15.7 2.2l16.3 2.1l20.3 2.2l19.5 2.2l21.8 2.1l23 2.2l22.2 2.1l22.4 2.2l23.8 2.1l22.6 2.2l20 2.1l19.4 2.2l20.1 2.1l20.4 2.1l21.2 2.2l19.5 2.1l15.2 2.2l13.5 2.1l12.5 2.1l11.6 2.2l10.6 2.1l9.7 2.2l9.2 2.1l8.4 2.1l7.7 2.2l7 2.1l7.2 2.1l7.4 2.2l7.1 2.1l7.1 2.2l6.5 2.2l5.6 2.1l4.8 2.2l3.6 2.1l3 2.2l2.5 2.1l2.3 2.2l2 2.1l1.9 2.2l3.2 3.9l2.9 4.1l2.7 4.3l2.5 4.3l2.4 4.5l2.2 4.5l2.1 4.6l1.9 4.6l1.7 4.7l1.6 4.8l1.3 4.9l1.2 4.9l1.1 4.9l1 4.9l1 4.9l1 4.9l1.1 4.9l1.1 4.9l1.3 4.9l1.2 4.9l1.3 4.8l1.4 4.9l1.4 4.8l1.6 4.8l1.6 4.7l1.6 4.8l1.7 4.7l1.7 4.7l1.8 4.7l1.9 4.7l2 4.6l2.1 4.6l2.1 4.6l2.4 4.4l2.7 4.3l2.8 4.2l2.7 4.2l2.6 4.3l2.7 4.3l1.7 4.7l.7 5l.5 5l.3 5l.4 5l.3 5l.5 5l.4 5l.4 5l.4 5l.4 5l.3 5l.4 5l.3 5l.3 5l.4 5l.3 5l.3 5l.3 5l.3 5l.3 5l.3 5l.3 5l.3 5l.2 5l.3 5l.2 5l.2 5l.3 5l.2 5l.2 5l.2 5l.1 5l0 .5" marker-start="url(#w41)" marker-mid="url(#w41)" marker-end="url(#w41)"/>
<path d="M104 102.8l11.2 2.2l10.9 2.1l13.9 2.2l17.6 2.1l14.7 2.2l14.2 2.1l15.8 2.2l16.2 2.1l20.3 2.2l19.5 2.2l21.9 2.1l23 2.2l22.1 2.1l22.5 2.2l23.7 2.1l22.7 2.2l20 2.1l19.3 2.2l20.2 2.1l20.4 2.1l21.2 2.2l19.5 2.1l15.2 2.2l13.4 2.1l12.6 2.1l11.5 2.2l10.6 2.1l9.8 2.2l9.1 2.1l8.5 2.1l7.6 2.2l7 2.1l7.3 2.1l7.4 2.2l7.1 2.1l7.1 2.2l6.5 2.1l5.6 2.2l4.8 2.2l3.7 2.1l2.9 2.2l2.6 2.1l2.2 2.2l2.1 2.1l1.9 2.2l3.1 3.9l2.9 4.1l2.7 4.3l2.6 4.3l2.3 4.5l2.3 4.5l2 4.6l2 4.6l1.7 4.7l1.6 4.8l1.3 4.9l1.2 4.9l1.1 4.9l1 4.9l1 4.9l1 4.9l1.1 4.9l1.2 4.9l1.2 4.9l1.2 4.8l1.3 4.9l1.4 4.8l1.5 4.8l1.5 4.8l1.6 4.8l1.6 4.7l1.7 4.8l1.7 4.7l1.9 4.7l1.8 4.6l2 4.6l2.1 4.6l2.1 4.6l2.4 4.4l2.7 4.3l2.8 4.2l2.7 4.2l2.6 4.3l2.7 4.2l1.7 4.7l.7 5l.5 5l.4 5l.3 5l.4 5l.4 5l.4 5l.5 5l.3 5l.4 5l.4 5l.3 5l.4 5l.3 5l.3 5l.4 5l.3 5l.3 5l.3 5l.3 5l.3 5l.3 5l.2 5l.3 5l.2 5l.3 5l.2 5l.3 5l.2 5l.2 5l.2 5l.1 5l.1 .7" marker-start="url(#w42)" marker-mid="url(#w42)" marker-end="url(#w42)"/>
<path d="M104 102.8l11.2 2.2l10.9 2.1l13.9 2.2l17.6 2.1l14.7 2.2l14.2 2.1l15.8 2.2l16.2 2.1l20.3 2.2l19.5 2.2l21.9 2.1l23 2.2l22.2 2.1l22.4 2.2l23.7 2.1l22.7 2.2l20 2.1l19.3 2.2l20.2 2.1l20.4 2.1l21.2 2.2l19.5 2.1l15.2 2.2l13.5 2.1l12.5 2.1l11.6 2.2l10.6 2.1l9.7 2.1l9.2 2.2l8.4 2.1l7.7 2.1l7 2.2l7.2 2.1l7.4 2.2l7.1 2.1l7.1 2.2l6.5 2.1l5.6 2.2l4.8 2.1l3.7 2.2l3 2.1l2.5 2.2l2.3 2.1l2.1 2.2l1.9 2.1l3.1 4l2.9 4.1l2.7 4.2l2.6 4.4l2.3 4.4l2.3 4.5l2 4.6l2 4.6l1.7 4.7l1.6 4.8l1.4 4.9l1.2 4.9l1 4.9l1 4.9l1 4.9l1 4.9l1.1 4.9l1.2 4.9l1.2 4.9l1.3 4.8l1.3 4.9l1.3 4.8l1.5 4.8l1.5 4.8l1.6 4.8l1.6 4.7l1.7 4.8l1.8 4.7l1.8 4.7l1.8 4.6l2 4.7l2.1 4.6l2.2 4.5l2.3 4.5l2.7 4.2l2.8 4.2l2.8 4.2l2.5 4.3l2.7 4.3l1.7 4.7l.8 4.9l.4 5l.4 5l.3 5l.4 5l.4 5l.4 5l.4 5l.4 5l.4 5l.4 5l.3 5l.3 5l.4 5l.3 5l.3 5l.4 5l.3 5l.3 5l.3 5l.3 5l.2 5l.3 5l.3 5l.2 5l.3 5l.2 5l.2 5l.3 5l.2 5l.1 5l.2 5l0 .8" marker-start="url(#w43)" marker-mid="url(#w43)" marker-end="url(#w43)"/>
<path d="M104 102.8l11.2 2.2l10.9 2.1l13.9 2.2l17.6 2.1l14.7 2.2l14.1 2.1l15.8 2.2l16.2 2.1l20.4 2.2l19.5 2.2l21.8 2.1l23 2.2l22.1 2.1l22.5 2.2l23.7 2.1l22.7 2.2l19.9 2.1l19.4 2.2l20.1 2.1l20.4 2.1l21.2 2.2l19.5 2.1l15.2 2.2l13.4 2.1l12.6 2.1l11.5 2.2l10.6 2.1l9.8 2.1l9.1 2.2l8.5 2.1l7.6 2.1l7 2.1l7.2 2.2l7.4 2.1l7.1 2.2l7.1 2.1l6.5 2.2l5.6 2.1l4.9 2.2l3.7 2.1l3 2.2l2.5 2.1l2.3 2.2l2.1 2.1l1.9 2.2l3.2 3.9l2.9 4.1l2.7 4.3l2.5 4.3l2.4 4.5l2.3 4.5l2 4.5l2 4.7l1.7 4.7l1.6 4.8l1.4 4.8l1.2 4.9l1 4.9l1 4.9l1 5l1 4.9l1.1 4.9l1.2 4.9l1.2 4.9l1.2 4.8l1.3 4.9l1.4 4.8l1.4 4.8l1.5 4.8l1.6 4.8l1.6 4.7l1.7 4.8l1.7 4.7l1.8 4.7l1.8 4.6l2 4.7l2 4.6l2.2 4.5l2.3 4.5l2.7 4.3l2.7 4.2l2.7 4.2l2.6 4.4l2.6 4.3l1.6 4.7l.7 5l.5 5l.3 5l.3 5l.4 5l.4 5l.4 5l.4 5l.4 5l.4 5l.3 5l.4 5l.3 5l.4 5l.3 5l.3 5l.3 5l.3 5l.3 5l.3 5l.3 5l.3 5l.2 5l.3 5l.3 5l.2 5l.2 5l.2 5l.3 5l.1 5l.2 5l.2 5l0 .5" marker-start="url(#w44)" marker-mid="url(#w44)" marker-end="url(#w44)"/>
<path d="M104 102.8l11.2 2.2l10.9 2.1l13.9 2.2l17.6 2.1l14.7 2.2l14.1 2.1l15.8 2.2l16.2 2.1l20.3 2.2l19.5 2.2l21.8 2.1l23 2.2l22.2 2.1l22.4 2.2l23.7 2.1l22.7 2.2l19.9 2.1l19.3 2.2l20.2 2.1l20.4 2.2l21.1 2.1l19.5 2.1l15.3 2.2l13.4 2.1l12.5 2.1l11.6 2.1l10.6 2.2l9.7 2.1l9.2 2.1l8.4 2.2l7.6 2.1l7 2.1l7.2 2.1l7.4 2.2l7.2 2.1l7.1 2.2l6.5 2.1l5.5 2.2l4.9 2.1l3.7 2.2l3 2.1l2.6 2.2l2.3 2.1l2.1 2.2l1.9 2.1l3.2 3.9l2.9 4.1l2.7 4.3l2.6 4.3l2.3 4.5l2.3 4.5l2.1 4.5l1.9 4.7l1.8 4.7l1.5 4.7l1.4 4.9l1.2 4.9l1.1 4.9l1 4.9l.9 4.9l1 4.9l1.1 4.9l1.2 4.9l1.2 4.9l1.2 4.9l1.3 4.8l1.3 4.9l1.4 4.8l1.6 4.8l1.5 4.8l1.6 4.7l1.7 4.8l1.7 4.7l1.8 4.7l1.8 4.7l2 4.7l2 4.6l2.1 4.5l2.3 4.5l2.6 4.3l2.7 4.2l2.7 4.2l2.5 4.4l2.6 4.3l1.6 4.7l.7 5l.5 5l.2 5l.3 5l.4 5l.4 5l.5 5l.4 5l.3 5l.4 5l.4 5l.3 5l.3 5l.4 5l.3 5l.3 5l.3 5l.3 5l.3 5l.3 5l.3 5l.3 5l.2 5l.3 5l.2 5l.3 5l.2 5l.2 5l.2 5l.2 5l.2 5l.1 5l.1 .5" marker-start="url(#w45)" marker-mid="url(#w45)" marker-end="url(#w45)"/>
<path d="M104 102.8l11.2 2.2l10.9 2.1l13.9 2.2l17.6 2.1l14.7 2.2l14.1 2.1l15.8 2.2l16.2 2.1l20.3 2.2l19.5 2.2l21.8 2.1l23 2.2l22.2 2.1l22.4 2.2l23.7 2.1l22.7 2.2l19.9 2.1l19.4 2.2l20.1 2.1l20.4 2.2l21.2 2.1l19.5 2.1l15.2 2.2l13.4 2.1l12.6 2.1l11.5 2.1l10.6 2.2l9.7 2.1l9.2 2.1l8.4 2.1l7.7 2.1l6.9 2.1l7.3 2.2l7.4 2.1l7.1 2.2l7.1 2.2l6.5 2.1l5.6 2.1l4.8 2.2l3.7 2.1l3 2.2l2.7 2.1l2.3 2.2l2.1 2.1l1.9 2.2l3.1 3.9l3 4.1l2.7 4.2l2.5 4.3l2.4 4.5l2.3 4.5l2.1 4.5l1.9 4.7l1.8 4.7l1.5 4.7l1.4 4.9l1.2 4.9l1.1 4.9l1 4.9l1 4.9l1 4.9l1 4.9l1.2 4.9l1.2 4.9l1.2 4.9l1.3 4.8l1.4 4.9l1.4 4.8l1.5 4.8l1.5 4.8l1.6 4.7l1.7 4.8l1.7 4.7l1.8 4.7l1.8 4.7l2 4.7l2 4.6l2.1 4.5l2.3 4.5l2.6 4.3l2.7 4.2l2.7 4.2l2.5 4.4l2.6 4.3l1.7 4.7l.6 5l.5 5l.2 5l.3 5l.4 5l.4 5l.4 5l.4 5l.4 5l.4 5l.3 5l.4 5l.3 5l.3 5l.4 5l.3 5l.3 5l.3 5l.3 5l.3 5l.3 5l.3 5l.2 5l.3 5l.2 5l.3 5l.2 5l.2 5l.2 5l.2 5l.2 5l.1 5l.1 .6" marker-start="url(#w46)" marker-mid="url(#w46)" marker-end="url(#w46)"/>
<path d="M104 102.8l11.2 2.2l10.9 2.1l13.9 2.2l17.6 2.1l14.7 2.2l14.1 2.1l15.8 2.2l16.2 2.1l20.3 2.2l19.5 2.2l21.8 2.1l23 2.2l22.2 2.1l22.4 2.2l23.7 2.1l22.7 2.2l20 2.1l19.3 2.2l20.1 2.1l20.4 2.2l21.2 2.1l19.5 2.1l15.2 2.2l13.4 2.1l12.6 2.1l11.5 2.1l10.6 2.2l9.8 2.1l9.1 2.1l8.5 2.1l7.6 2.1l7 2.1l7.2 2.2l7.4 2.1l7.1 2.2l7.1 2.1l6.5 2.2l5.6 2.1l4.9 2.2l3.7 2.1l3.1 2.2l2.6 2.1l2.3 2.2l2.1 2.1l1.9 2.2l3.2 3.9l2.9 4.1l2.7 4.2l2.6 4.3l2.4 4.5l2.2 4.5l2.1 4.5l2 4.7l1.7 4.7l1.6 4.7l1.4 4.9l1.2 4.9l1.1 4.9l1 4.9l.9 4.9l1 4.9l1.1 4.9l1.2 4.9l1.2 4.9l1.2 4.9l1.3 4.8l1.3 4.9l1.4 4.8l1.5 4.8l1.6 4.8l1.6 4.7l1.7 4.8l1.7 4.7l1.8 4.7l1.8 4.7l1.9 4.7l2 4.6l2.1 4.5l2.3 4.5l2.7 4.3l2.7 4.2l2.7 4.2l2.5 4.4l2.6 4.3l1.6 4.7l.7 5l.4 5l.2 5l.3 5l.4 5l.4 5l.4 5l.4 5l.4 5l.4 5l.4 5l.3 5l.3 5l.4 5l.3 5l.3 5l.3 5l.3 5l.3 5l.3 5l.3 5l.3 5l.2 5l.3 5l.2 5l.3 5l.2 5l.2 5l.2 5l.2 5l.2 5l.2 5l0 .6" marker-start="url(#w47)" marker-mid="url(#w47)" marker-end="url(#w47)"/>
<path d="M104 102.8l11.2 2.2l10.9 2.1l13.9 2.2l17.6 2.1l14.7 2.2l14.1 2.1l15.8 2.2l16.2 2.1l20.3 2.2l19.5 2.2l21.8 2.1l23 2.2l22.2 2.1l22.4 2.2l23.7 2.1l22.7 2.2l20 2.1l19.3 2.2l20.1 2.1l20.4 2.2l21.2 2.1l19.5 2.1l15.2 2.2l13.4 2.1l12.6 2.1l11.5 2.1l10.6 2.1l9.8 2.2l9.1 2.1l8.5 2.1l7.6 2.1l7 2.1l7.2 2.2l7.4 2.1l7.1 2.2l7.1 2.1l6.5 2.2l5.6 2.1l4.9 2.1l3.8 2.2l3 2.1l2.6 2.2l2.3 2.1l2.1 2.2l2 2.1l3.1 3.9l3 4.1l2.7 4.2l2.6 4.4l2.3 4.4l2.3 4.5l2.1 4.5l1.9 4.7l1.8 4.7l1.6 4.7l1.4 4.9l1.2 4.9l1.1 4.9l1 4.9l1 4.9l1 4.9l1 4.9l1.2 4.9l1.2 4.9l1.2 4.9l1.3 4.8l1.3 4.9l1.4 4.8l1.5 4.8l1.6 4.8l1.6 4.7l1.7 4.8l1.7 4.7l1.7 4.7l1.9 4.7l1.9 4.7l2 4.6l2.1 4.5l2.3 4.5l2.6 4.3l2.7 4.2l2.7 4.2l2.5 4.4l2.6 4.3l1.7 4.7l.6 5l.4 5l.2 5l.3 5l.4 5l.4 5l.4 5l.4 5l.4 5l.4 5l.4 5l.3 5l.3 5l.4 5l.3 5l.3 5l.3 5l.3 5l.3 5l.3 5l.3 5l.3 5l.2 5l.3 5l.3 5l.2 5l.2 5l.2 5l.2 5l.2 5l.2 5l.2 5l0 .7" marker-start="url(#w48)" marker-mid="url(#w48)" marker-end="url(#w48)"/>
<path d="M104 102.8l11.2 2.2l10.9 2.1l13.9 2.2l17.6 2.1l14.7 2.2l14.1 2.1l15.8 2.2l16.2 2.1l20.3 2.2l19.5 2.2l21.9 2.1l22.9 2.2l22.2 2.1l22.4 2.2l23.8 2.1l22.6 2.2l20 2.1l19.3 2.2l20.2 2.1l20.4 2.2l21.1 2.1l19.5 2.1l15.3 2.2l13.4 2.1l12.6 2.1l11.5 2.1l10.6 2.1l9.7 2.2l9.2 2.1l8.4 2.1l7.7 2.1l7 2.1l7.2 2.2l7.4 2.1l7.1 2.1l7.1 2.2l6.5 2.1l5.6 2.1l4.9 2.2l3.8 2.2l3 2.1l2.7 2.2l2.3 2.1l2.1 2.2l1.9 2.1l3.2 3.9l2.9 4.1l2.8 4.2l2.5 4.4l2.4 4.4l2.3 4.5l2.1 4.5l1.9 4.7l1.8 4.7l1.6 4.7l1.4 4.9l1.2 4.9l1.1 4.9l1 4.9l.9 4.9l1 4.9l1.1 4.9l1.2 4.9l1.2 4.9l1.2 4.9l1.3 4.8l1.3 4.9l1.4 4.8l1.5 4.8l1.6 4.8l1.6 4.7l1.7 4.8l1.7 4.7l1.7 4.7l1.9 4.7l1.9 4.7l2 4.6l2.1 4.5l2.3 4.5l2.6 4.3l2.7 4.2l2.7 4.2l2.5 4.4l2.6 4.3l1.7 4.7l.6 5l.5 5l.2 5l.2 5l.4 5l.4 5l.4 5l.5 5l.3 5l.4 5l.4 5l.3 5l.3 5l.4 5l.3 5l.3 5l.3 5l.4 5l.2 5l.3 5l.3 5l.3 5l.3 5l.2 5l.3 5l.2 5l.2 5l.3 5l.2 5l.2 5l.1 5l.2 5l0 .7" marker-start="url(#w49)" marker-mid="url(#w49)" marker-end="url(#w49)"/>
<path d="M104 102.8l11.2 2.2l10.9 2.1l13.9 2.2l17.6 2.1l14.7 2.2l14.1 2.1l15.8 2.2l16.2 2.1l20.4 2.2l19.5 2.2l21.8 2.1l23 2.2l22.2 2.1l22.4 2.2l23.7 2.1l22.7 2.2l20 2.1l19.3 2.2l20.1 2.1l20.4 2.1l21.2 2.2l19.5 2.1l15.2 2.1l13.5 2.2l12.5 2.1l11.5 2.1l10.6 2.1l9.8 2.2l9.1 2.1l8.5 2.1l7.6 2.1l7 2.1l7.2 2.1l7.4 2.2l7.2 2.1l7.1 2.2l6.5 2.1l5.6 2.1l4.9 2.2l3.8 2.1l3 2.2l2.7 2.1l2.3 2.2l2.1 2.1l1.9 2.2l3.2 3.9l3 4.1l2.7 4.2l2.6 4.3l2.3 4.4l2.3 4.5l2.1 4.6l2 4.6l1.8 4.7l1.5 4.8l1.4 4.8l1.3 4.9l1 4.9l1 4.9l1 5l1 4.9l1.1 4.9l1.2 4.9l1.2 4.9l1.2 4.8l1.3 4.9l1.3 4.8l1.4 4.8l1.5 4.8l1.6 4.8l1.6 4.8l1.7 4.7l1.7 4.8l1.7 4.7l1.9 4.7l1.9 4.6l2 4.6l2.1 4.6l2.3 4.4l2.6 4.3l2.8 4.2l2.6 4.3l2.6 4.3l2.6 4.3l1.7 4.8l.6 5l.4 5l.2 5l.3 5l.3 5l.4 5l.5 5l.4 5l.4 5l.3 5l.4 5l.3 5l.4 5l.3 5l.3 5l.4 5l.3 5l.3 5l.3 5l.3 5l.3 5l.2 5l.3 5l.3 5l.2 5l.3 5l.2 5l.2 5l.2 5l.2 5l.2 5l.2 5l0 .7" marker-start="url(#w50)" marker-mid="url(#w50)" marker-end="url(#w50)"/>
<path d="M104 102.8l11.2 2.2l10.9 2.1l13.9 2.2l17.6 2.1l14.7 2.2l14.1 2.1l15.8 2.2l16.2 2.1l20.4 2.2l19.5 2.2l21.8 2.1l23 2.2l22.1 2.1l22.5 2.2l23.7 2.1l22.7 2.2l19.9 2.1l19.4 2.2l20.1 2.1l20.4 2.1l21.2 2.2l19.5 2.1l15.2 2.1l13.4 2.2l12.6 2.1l11.5 2.1l10.6 2.1l9.8 2.2l9.1 2.1l8.5 2.1l7.6 2.1l7 2.1l7.2 2.1l7.4 2.2l7.2 2.1l7.1 2.2l6.5 2.1l5.6 2.1l4.8 2.1l3.9 2.2l3 2.1l2.7 2.2l2.3 2.1l2.1 2.2l2 2.1l3.1 3.9l3 4.1l2.7 4.2l2.6 4.3l2.4 4.4l2.3 4.5l2.1 4.6l1.9 4.6l1.8 4.7l1.6 4.8l1.4 4.8l1.2 4.9l1.1 4.9l1 4.9l1 5l1 4.9l1.1 4.9l1.2 4.9l1.2 4.9l1.2 4.8l1.3 4.9l1.3 4.8l1.4 4.8l1.5 4.8l1.6 4.8l1.6 4.8l1.6 4.7l1.7 4.8l1.8 4.7l1.8 4.7l1.9 4.6l2 4.6l2.1 4.6l2.3 4.5l2.6 4.3l2.8 4.2l2.6 4.2l2.6 4.4l2.6 4.3l1.7 4.7l.6 5l.4 5l.1 5l.3 5l.4 5l.4 5l.4 5l.4 5l.4 5l.4 5l.3 5l.4 5l.3 5l.4 5l.3 5l.3 5l.3 5l.3 5l.3 5l.3 5l.3 5l.3 5l.3 5l.2 5l.3 5l.2 5l.2 5l.3 5l.2 5l.2 5l.1 5l.2 5l0 .8" marker-start="url(#w51)" marker-mid="url(#w51)" marker-end="url(#w51)"/>
<path d="M104 102.8l11.2 2.2l10.9 2.1l13.9 2.2l17.6 2.1l14.7 2.2l14.2 2.1l15.7 2.2l16.3 2.1l20.3 2.2l19.5 2.2l21.8 2.1l23 2.2l22.2 2.1l22.4 2.2l23.7 2.1l22.7 2.2l20 2.1l19.3 2.2l20.1 2.1l20.5 2.1l21.1 2.2l19.5 2.1l15.3 2.1l13.4 2.2l12.5 2.1l11.6 2.1l10.6 2.1l9.7 2.1l9.2 2.2l8.4 2.1l7.7 2.1l6.9 2.1l7.3 2.1l7.4 2.2l7.1 2.1l7.1 2.2l6.5 2.1l5.6 2.1l5 2.1l3.8 2.2l3.1 2.1l2.6 2.2l2.3 2.1l2.1 2.2l2 2.1l3.2 3.9l2.9 4.1l2.8 4.2l2.5 4.3l2.4 4.4l2.3 4.5l2.1 4.6l2 4.6l1.8 4.7l1.6 4.8l1.4 4.8l1.2 4.9l1.1 4.9l1 4.9l1 5l1 4.9l1.1 4.9l1.1 4.9l1.2 4.9l1.3 4.8l1.2 4.9l1.4 4.8l1.4 4.8l1.5 4.8l1.5 4.8l1.6 4.8l1.7 4.7l1.7 4.8l1.8 4.7l1.8 4.7l1.9 4.6l2 4.6l2.1 4.6l2.3 4.5l2.6 4.3l2.7 4.2l2.7 4.2l2.5 4.4l2.6 4.3l1.7 4.7l.6 5l.4 5l.2 5l.2 5l.4 5l.4 5l.4 5l.4 5l.4 5l.4 5l.4 5l.3 5l.3 5l.4 5l.3 5l.3 5l.4 5l.3 5l.3 5l.2 5l.3 5l.3 5l.3 5l.2 5l.3 5l.2 5l.3 5l.2 5l.2 5l.2 5l.2 5l.1 5l.1 .8" marker-start="url(#w52)" marker-mid="url(#w52)" marker-end="url(#w52)"/>
<path d="M104 102.8l11.2 2.2l10.9 2.1l13.9 2.2l17.6 2.1l14.7 2.2l14.2 2.1l15.7 2.2l16.3 2.1l20.3 2.2l19.5 2.2l21.8 2.1l23 2.2l22.2 2.1l22.4 2.2l23.7 2.1l22.7 2.2l20 2.1l19.3 2.2l20.2 2.1l20.4 2.1l21.2 2.2l19.5 2.1l15.2 2.1l13.4 2.2l12.6 2.1l11.5 2.1l10.6 2.1l9.8 2.1l9.1 2.2l8.5 2.1l7.6 2.1l7 2.1l7.2 2.1l7.4 2.1l7.1 2.2l7.1 2.1l6.5 2.1l5.6 2.1l5 2.2l3.8 2.1l3.1 2.2l2.7 2.1l2.3 2.2l2.1 2.1l2 2.2l3.2 3.9l2.9 4l2.8 4.2l2.5 4.3l2.4 4.4l2.3 4.5l2.1 4.6l2 4.6l1.8 4.7l1.6 4.7l1.4 4.9l1.2 4.8l1.1 4.9l1 4.9l1 5l1 4.9l1.1 4.9l1.2 4.9l1.2 4.9l1.2 4.8l1.3 4.9l1.3 4.8l1.4 4.8l1.5 4.8l1.6 4.8l1.6 4.8l1.6 4.7l1.7 4.8l1.8 4.7l1.8 4.7l1.9 4.6l2 4.6l2.1 4.6l2.3 4.5l2.6 4.3l2.7 4.2l2.7 4.2l2.5 4.4l2.6 4.3l1.8 4.7l.6 5l.4 5l.1 5l.3 5l.3 5l.4 5l.5 5l.4 5l.4 5l.3 5l.4 5l.3 5l.4 5l.3 5l.3 5l.4 5l.3 5l.3 5l.3 5l.3 5l.3 5l.3 5l.2 5l.3 5l.2 5l.3 5l.2 5l.2 5l.2 5l.2 5l.2 5l.2 5l0 1" marker-start="url(#w53)" marker-mid="url(#w53)" marker-end="url(#w53)"/>
<path d="M104 102.8l11.2 2.2l10.9 2.1l13.9 2.2l17.6 2.1l14.7 2.2l14.2 2.1l15.7 2.2l16.3 2.1l20.3 2.2l19.5 2.2l21.8 2.1l23 2.2l22.2 2.1l22.4 2.2l23.8 2.1l22.6 2.2l20 2.1l19.3 2.2l20.2 2.1l20.4 2.1l21.2 2.2l19.5 2.1l15.2 2.1l13.4 2.2l12.6 2.1l11.5 2.1l10.6 2.1l9.8 2.1l9.1 2.1l8.5 2.2l7.6 2l7 2.1l7.3 2.2l7.3 2.1l7.2 2.2l7.1 2.1l6.5 2.1l5.6 2.1l5 2.2l3.9 2.1l3 2.2l2.7 2.1l2.3 2.2l2.2 2.1l1.9 2.2l3.2 3.9l2.9 4l2.8 4.2l2.6 4.3l2.4 4.4l2.2 4.5l2.2 4.6l1.9 4.6l1.9 4.7l1.6 4.7l1.4 4.9l1.2 4.8l1.1 4.9l1 4.9l1 5l1 4.9l1.1 4.9l1.1 4.9l1.2 4.9l1.3 4.8l1.2 4.9l1.4 4.8l1.4 4.8l1.5 4.8l1.5 4.8l1.6 4.8l1.7 4.7l1.7 4.8l1.7 4.7l1.9 4.7l1.9 4.6l2 4.6l2.1 4.6l2.2 4.5l2.6 4.3l2.8 4.2l2.7 4.2l2.5 4.4l2.6 4.3l1.7 4.7l.7 5l.3 5l.2 5l.2 5l.3 5l.5 5l.4 5l.4 5l.4 5l.4 5l.3 5l.4 5l.3 5l.3 5l.4 5l.3 5l.3 5l.3 5l.3 5l.3 5l.3 5l.3 5l.3 5l.2 5l.3 5l.2 5l.3 5l.2 5l.2 5l.2 5l.2 5l.1 5l.1 1" marker-start="url(#w54)" marker-mid="url(#w54)" marker-end="url(#w54)"/>
<path d="M104 102.8l11.2 2.2l10.9 2.1l13.9 2.2l17.6 2.1l14.7 2.2l14.2 2.1l15.8 2.2l16.2 2.1l20.3 2.2l19.5 2.2l21.9 2.1l22.9 2.2l22.2 2.1l22.5 2.2l23.7 2.1l22.7 2.2l20 2.1l19.3 2.2l20.2 2.1l20.4 2.1l21.2 2.2l19.5 2.1l15.2 2.1l13.4 2.2l12.6 2.1l11.5 2.1l10.6 2.1l9.8 2.1l9.1 2.1l8.5 2.2l7.6 2l7 2.1l7.2 2.2l7.4 2.1l7.2 2.2l7.1 2.1l6.5 2.1l5.6 2.1l5 2.1l3.8 2.2l3.1 2.1l2.7 2.2l2.4 2.1l2.1 2.2l1.9 2.1l3.2 3.9l3 4.1l2.7 4.2l2.6 4.3l2.4 4.4l2.3 4.5l2.1 4.5l2 4.6l1.8 4.7l1.6 4.8l1.4 4.8l1.3 4.8l1.1 4.9l1 4.9l1 5l1 4.9l1 4.9l1.2 4.9l1.2 4.9l1.3 4.8l1.2 4.9l1.4 4.8l1.4 4.8l1.5 4.8l1.5 4.8l1.6 4.8l1.7 4.7l1.7 4.8l1.7 4.7l1.9 4.7l1.9 4.6l2 4.6l2.1 4.6l2.3 4.5l2.6 4.3l2.7 4.2l2.7 4.2l2.5 4.4l2.6 4.3l1.8 4.7l.7 5l.3 5l.1 5l.2 5l.4 5l.4 5l.5 5l.4 5l.4 5l.3 5l.4 5l.3 5l.4 5l.3 5l.4 5l.3 5l.3 5l.3 5l.3 5l.3 5l.3 5l.3 5l.3 5l.2 5l.3 5l.2 5l.3 5l.2 5l.2 5l.2 5l.2 5l.2 5l0 1.1" marker-start="url(#w55)" marker-mid="url(#w55)" marker-end="url(#w55)"/>
<path d="M104 102.8l11.2 2.2l10.9 2.1l13.9 2.2l17.6 2.1l14.7 2.2l14.2 2.1l15.8 2.2l16.2 2.1l20.3 2.2l19.5 2.2l21.8 2.1l23 2.2l22.2 2.1l22.4 2.2l23.8 2.1l22.7 2.2l20 2.1l19.3 2.2l20.1 2.1l20.5 2.1l21.1 2.2l19.5 2.1l15.3 2.1l13.4 2.2l12.6 2.1l11.5 2.1l10.6 2.1l9.8 2.1l9.1 2.1l8.5 2.1l7.6 2.1l7 2.1l7.2 2.2l7.4 2.1l7.1 2.1l7.1 2.2l6.6 2.1l5.5 2l5.1 2.2l3.9 2.2l3.1 2.1l2.7 2.2l2.3 2.1l2.1 2.2l2 2.1l3.2 3.9l3 4.1l2.7 4.2l2.6 4.3l2.4 4.4l2.3 4.5l2.1 4.5l2 4.6l1.8 4.7l1.6 4.8l1.4 4.8l1.3 4.8l1.1 4.9l1 4.9l1 5l1 4.9l1.1 4.9l1.1 4.9l1.2 4.9l1.3 4.8l1.2 4.9l1.4 4.8l1.4 4.8l1.5 4.8l1.5 4.8l1.6 4.8l1.6 4.7l1.7 4.8l1.8 4.7l1.8 4.7l1.9 4.6l2 4.6l2.1 4.6l2.3 4.5l2.6 4.3l2.7 4.2l2.7 4.2l2.5 4.4l2.6 4.3l1.8 4.7l.6 5l.4 5l.1 5l.2 5l.3 5l.4 5l.5 5l.4 5l.4 5l.4 5l.3 5l.4 5l.3 5l.3 5l.4 5l.3 5l.3 5l.3 5l.3 5l.3 5l.3 5l.3 5l.3 5l.2 5l.3 5l.2 5l.3 5l.2 5l.2 5l.2 5l.2 5l.2 5l0 1.1" marker-start="url(#w0)" marker-mid="url(#w0)" marker-end="url(#w0)"/>
<path d="M104 102.8l11.2 2.2l10.9 2.1l13.9 2.2l17.6 2.1l14.7 2.2l14.2 2.1l15.8 2.2l16.2 2.1l20.3 2.2l19.5 2.2l21.9 2.1l23 2.2l22.2 2.1l22.4 2.2l23.7 2.1l22.7 2.2l20 2.1l19.3 2.2l20.2 2.1l20.4 2.1l21.2 2.2l19.5 2.1l15.2 2.1l13.5 2.2l12.5 2.1l11.6 2.1l10.6 2.1l9.7 2.1l9.2 2.1l8.4 2.1l7.7 2.1l7 2.1l7.2 2.2l7.4 2.1l7.1 2.1l7.1 2.2l6.5 2.1l5.6 2l5.1 2.2l3.9 2.1l3.1 2.2l2.7 2.1l2.3 2.2l2.2 2.1l1.9 2.2l3.2 3.9l3 4l2.8 4.2l2.5 4.3l2.5 4.4l2.3 4.5l2.1 4.6l2 4.6l1.8 4.7l1.6 4.7l1.4 4.8l1.3 4.9l1.1 4.9l1 4.9l1 4.9l1 4.9l1 4.9l1.2 4.9l1.2 4.9l1.3 4.9l1.3 4.8l1.3 4.9l1.4 4.8l1.5 4.8l1.5 4.8l1.6 4.7l1.7 4.8l1.7 4.7l1.7 4.7l1.9 4.7l1.9 4.7l2 4.6l2 4.5l2.3 4.5l2.6 4.3l2.7 4.2l2.7 4.3l2.6 4.3l2.6 4.3l1.8 4.7l.6 5l.3 5l.1 5l.2 5l.4 5l.4 5l.4 5l.4 5l.4 5l.4 5l.4 5l.3 5l.4 5l.3 5l.3 5l.4 5l.3 5l.3 5l.3 5l.3 5l.3 5l.3 5l.2 5l.3 5l.3 5l.2 5l.2 5l.3 5l.2 5l.2 5l.2 5l.2 5l0 1.2" marker-start="url(#w1)" marker-mid="url(#w1)" marker-end="url(#w1)"/>
<path d="M104 102.8l11.2 2.2l10.9 2.1l13.9 2.2l17.6 2.1l14.7 2.2l14.2 2.1l15.8 2.2l16.2 2.1l20.3 2.2l19.6 2.2l21.8 2.1l23 2.2l22.2 2.1l22.4 2.2l23.7 2.1l22.7 2.2l20 2.1l19.3 2.2l20.2 2.1l20.4 2.1l21.2 2.2l19.5 2.1l15.3 2.1l13.4 2.1l12.6 2.2l11.5 2.1l10.6 2.1l9.8 2.1l9.1 2.1l8.5 2.1l7.6 2.1l7 2.1l7.2 2.1l7.4 2.2l7.2 2.1l7.1 2.1l6.5 2.1l5.6 2.1l5.1 2.2l3.9 2.1l3.1 2.2l2.7 2.1l2.4 2.2l2.1 2.1l1.9 2.2l3.2 3.9l3 4l2.8 4.2l2.6 4.3l2.4 4.4l2.3 4.5l2.1 4.6l2 4.6l1.8 4.7l1.7 4.7l1.4 4.8l1.2 4.9l1.1 4.9l1 4.9l1 4.9l1 4.9l1.1 4.9l1.2 4.9l1.2 4.9l1.2 4.9l1.3 4.8l1.4 4.9l1.4 4.8l1.4 4.8l1.6 4.8l1.6 4.7l1.6 4.8l1.7 4.7l1.8 4.7l1.8 4.7l1.9 4.7l2 4.6l2.1 4.5l2.3 4.5l2.6 4.3l2.7 4.2l2.7 4.3l2.5 4.3l2.6 4.3l1.8 4.7l.6 5l.4 5l.1 5l.1 5l.4 5l.4 5l.4 5l.4 5l.4 5l.4 5l.4 5l.3 5l.4 5l.3 5l.3 5l.4 5l.3 5l.3 5l.3 5l.3 5l.3 5l.3 5l.2 5l.3 5l.3 5l.2 5l.2 5l.3 5l.2 5l.2 5l.2 5l.2 5l0 1.2" marker-start="url(#w2)" marker-mid="url(#w2)" marker-end="url(#w2)"/>
<path d="M104 102.8l11.2 2.2l10.9 2.1l14 2.2l17.5 2.1l14.7 2.2l14.2 2.1l15.8 2.2l16.2 2.1l20.3 2.2l19.6 2.2l21.8 2.1l23 2.2l22.2 2.1l22.4 2.2l23.8 2.1l22.7 2.2l19.9 2.1l19.4 2.2l20.1 2.1l20.5 2.1l21.1 2.2l19.6 2.1l15.2 2.1l13.4 2.1l12.6 2.2l11.5 2.1l10.6 2.1l9.8 2.1l9.1 2.1l8.5 2.1l7.6 2.1l7 2.1l7.3 2.1l7.4 2.2l7.1 2.1l7.1 2.1l6.5 2.1l5.6 2.1l5.1 2.1l3.9 2.2l3.2 2.1l2.6 2.2l2.4 2.1l2.2 2.2l1.9 2.1l3.2 3.9l3 4.1l2.8 4.2l2.6 4.3l2.4 4.4l2.3 4.4l2.1 4.6l2 4.6l1.9 4.7l1.6 4.7l1.4 4.8l1.2 4.9l1.2 4.9l1 4.9l1 4.9l1 4.9l1 4.9l1.2 4.9l1.2 4.9l1.3 4.9l1.3 4.8l1.3 4.9l1.4 4.8l1.5 4.8l1.5 4.8l1.6 4.7l1.6 4.8l1.7 4.7l1.8 4.7l1.8 4.7l1.9 4.7l2 4.6l2.1 4.5l2.3 4.5l2.6 4.3l2.7 4.2l2.7 4.3l2.5 4.3l2.6 4.3l1.9 4.7l.6 5l.3 5l.1 5l.1 5l.4 5l.4 5l.4 5l.4 5l.4 5l.4 5l.4 5l.3 5l.4 5l.3 5l.3 5l.4 5l.3 5l.3 5l.3 5l.3 5l.3 5l.3 5l.2 5l.3 5l.3 5l.2 5l.3 5l.2 5l.2 5l.2 5l.2 5l.2 5l0 1.3" marker-start="url(#w3)" marker-mid="url(#w3)" marker-end="url(#w3)"/>
<path d="M104 102.8l11.2 2.2l10.9 2.1l14 2.2l17.5 2.1l14.7 2.2l14.2 2.1l15.8 2.2l16.2 2.1l20.3 2.2l19.6 2.2l21.8 2.1l23 2.2l22.2 2.1l22.4 2.2l23.8 2.1l22.7 2.2l19.9 2.1l19.4 2.2l20.1 2.1l20.5 2.1l21.1 2.2l19.6 2.1l15.2 2.1l13.4 2.1l12.6 2.2l11.5 2.1l10.6 2.1l9.8 2.1l9.1 2.1l8.5 2.1l7.6 2.1l7 2.1l7.3 2.1l7.4 2.1l7.1 2.2l7.1 2.1l6.5 2.1l5.6 2l5.1 2.2l3.9 2.1l3.2 2.2l2.7 2.1l2.4 2.2l2.1 2.1l2 2.2l3.2 3.9l3 4l2.8 4.2l2.6 4.3l2.4 4.4l2.3 4.5l2.1 4.5l2 4.6l1.9 4.7l1.6 4.8l1.4 4.8l1.3 4.8l1.1 4.9l1 4.9l1 5l1 4.9l1.1 4.9l1.1 4.9l1.3 4.9l1.2 4.8l1.3 4.9l1.3 4.8l1.4 4.9l1.5 4.8l1.6 4.8l1.5 4.7l1.7 4.8l1.7 4.7l1.7 4.7l1.8 4.7l1.9 4.7l2 4.6l2.1 4.5l2.3 4.5l2.5 4.3l2.8 4.2l2.7 4.3l2.5 4.3l2.6 4.3l1.8 4.7l.6 5l.3 5l.1 5l.1 5l.4 5l.4 5l.4 5l.5 5l.4 5l.3 5l.4 5l.3 5l.4 5l.3 5l.3 5l.4 5l.3 5l.3 5l.3 5l.3 5l.3 5l.3 5l.3 5l.2 5l.3 5l.2 5l.3 5l.2 5l.2 5l.2 5l.2 5l.2 5l.1 1.3" marker-start="url(#w4)" marker-mid="url(#w4)" marker-end="url(#w4)"/>
<path d="M104 102.8l11.2 2.2l10.9 2.1l14 2.2l17.5 2.1l14.7 2.2l14.2 2.1l15.8 2.2l16.2 2.1l20.3 2.2l19.6 2.2l21.8 2.1l23 2.2l22.2 2.1l22.4 2.2l23.8 2.1l22.7 2.2l20 2.1l19.3 2.2l20.2 2.1l20.4 2.1l21.2 2.2l19.5 2.1l15.2 2.1l13.5 2.1l12.5 2.2l11.6 2.1l10.6 2.1l9.7 2.1l9.2 2.1l8.4 2.1l7.7 2.1l7 2.1l7.2 2.1l7.4 2.1l7.1 2.2l7.1 2.1l6.5 2.1l5.6 2l5.2 2.2l3.9 2.1l3.2 2.2l2.7 2.1l2.4 2.2l2.1 2.1l2 2.2l3.2 3.9l3 4l2.8 4.2l2.6 4.3l2.4 4.4l2.3 4.5l2.2 4.5l2 4.6l1.8 4.7l1.7 4.8l1.4 4.8l1.2 4.8l1.1 4.9l1.1 4.9l1 5l1 4.9l1 4.9l1.2 4.9l1.2 4.9l1.3 4.8l1.2 4.9l1.4 4.8l1.4 4.9l1.5 4.8l1.5 4.8l1.6 4.7l1.6 4.8l1.7 4.7l1.8 4.7l1.8 4.7l1.9 4.7l2 4.6l2.1 4.5l2.2 4.5l2.6 4.3l2.7 4.2l2.7 4.3l2.5 4.3l2.7 4.3l1.8 4.7l.6 5l.3 5l0 5l.1 5l.4 5l.4 5l.4 5l.5 5l.4 5l.3 5l.4 5l.3 5l.4 5l.3 5l.3 5l.4 5l.3 5l.3 5l.3 5l.3 5l.3 5l.3 5l.3 5l.2 5l.3 5l.2 5l.3 5l.2 5l.2 5l.2 5l.2 5l.2 5l.1 1.3" marker-start="url(#w5)" marker-mid="url(#w5)" marker-end="url(#w5)"/>
<path d="M104 102.8l11.2 2.2l10.9 2.1l14 2.2l17.5 2.1l14.7 2.2l14.2 2.1l15.8 2.2l16.2 2.1l20.4 2.2l19.5 2.2l21.8 2.1l23 2.2l22.2 2.1l22.4 2.2l23.8 2.1l22.7 2.2l20 2.1l19.3 2.1l20.2 2.2l20.4 2.1l21.2 2.2l19.5 2.1l15.2 2.1l13.5 2.1l12.5 2.1l11.6 2.2l10.6 2.1l9.8 2.1l9.1 2.1l8.5 2.1l7.6 2l7 2.1l7.2 2.2l7.4 2.1l7.2 2.1l7.1 2.2l6.5 2l5.6 2.1l5.1 2.1l4 2.2l3.1 2.1l2.7 2.2l2.4 2.1l2.2 2.2l2 2.1l3.2 3.9l3 4l2.8 4.2l2.6 4.3l2.4 4.4l2.3 4.5l2.2 4.5l2 4.6l1.8 4.7l1.7 4.8l1.4 4.8l1.2 4.8l1.2 4.9l1 4.9l1 5l1 4.9l1.1 4.9l1.1 4.9l1.3 4.9l1.2 4.8l1.3 4.9l1.3 4.8l1.4 4.9l1.5 4.8l1.5 4.8l1.6 4.7l1.6 4.8l1.7 4.7l1.8 4.7l1.8 4.7l1.9 4.7l2 4.6l2.1 4.6l2.2 4.5l2.6 4.3l2.7 4.2l2.7 4.2l2.5 4.4l2.7 4.3l1.8 4.6l.6 5l.3 5l0 5l.1 5l.3 5l.5 5l.4 5l.4 5l.4 5l.4 5l.4 5l.3 5l.3 5l.4 5l.3 5l.3 5l.4 5l.3 5l.3 5l.3 5l.3 5l.3 5l.2 5l.3 5l.3 5l.2 5l.3 5l.2 5l.2 5l.2 5l.2 5l.2 5l.1 1.4" marker-start="url(#w6)" marker-mid="url(#w6)" marker-end="url(#w6)"/>
<path d="M104 102.8l11.2 2.2l10.9 2.1l14 2.2l17.5 2.1l14.7 2.2l14.2 2.1l15.8 2.2l16.2 2.1l20.4 2.2l19.5 2.1l21.8 2.2l23 2.2l22.2 2.1l22.5 2.2l23.7 2.1l22.7 2.2l20 2.1l19.3 2.1l20.2 2.2l20.4 2.1l21.2 2.2l19.5 2.1l15.3 2.1l13.4 2.1l12.6 2.1l11.5 2.2l10.6 2.1l9.8 2.1l9.1 2.1l8.5 2.1l7.6 2l7 2.1l7.3 2.2l7.4 2.1l7.1 2.1l7.1 2.2l6.5 2l5.6 2.1l5.2 2.1l4 2.2l3.2 2.1l2.7 2.2l2.4 2.1l2.1 2.2l2 2.1l3.2 3.9l3 4l2.8 4.2l2.6 4.3l2.4 4.4l2.3 4.5l2.2 4.5l2 4.6l1.9 4.7l1.6 4.8l1.5 4.8l1.2 4.8l1.1 4.9l1.1 4.9l1 5l1 4.9l1 4.9l1.2 4.9l1.2 4.9l1.3 4.8l1.2 4.9l1.4 4.8l1.4 4.9l1.5 4.8l1.5 4.8l1.6 4.7l1.6 4.8l1.7 4.7l1.7 4.7l1.9 4.7l1.9 4.7l1.9 4.6l2.1 4.6l2.3 4.5l2.6 4.3l2.7 4.2l2.7 4.2l2.5 4.4l2.6 4.3l1.9 4.6l.5 5l.3 5l0 5l.1 5l.4 5l.4 5l.4 5l.4 5l.4 5l.4 5l.4 5l.3 5l.4 5l.3 5l.3 5l.4 5l.3 5l.3 5l.3 5l.3 5l.3 5l.3 5l.3 5l.2 5l.3 5l.2 5l.3 5l.2 5l.2 5l.2 5l.2 5l.2 5l.1 1.4" marker-start="url(#w7)" marker-mid="url(#w7)" marker-end="url(#w7)"/>
<path d="M104 102.8l11.2 2.2l10.9 2.1l14 2.2l17.5 2.1l14.7 2.2l14.2 2.1l15.8 2.2l16.2 2.1l20.4 2.2l19.5 2.1l21.8 2.2l23 2.2l22.2 2.1l22.5 2.2l23.7 2.1l22.7 2.2l20 2.1l19.3 2.1l20.2 2.2l20.4 2.1l21.2 2.2l19.5 2.1l15.3 2.1l13.4 2.1l12.6 2.1l11.5 2.1l10.6 2.2l9.8 2.1l9.1 2.1l8.5 2.1l7.6 2l7 2.1l7.3 2.2l7.4 2.1l7.1 2.1l7.1 2.1l6.5 2.1l5.6 2l5.2 2.2l4 2.1l3.2 2.2l2.7 2.1l2.4 2.2l2.2 2.1l1.9 2.2l3.2 3.8l3.1 4.1l2.8 4.2l2.6 4.3l2.4 4.4l2.3 4.4l2.2 4.6l2 4.6l1.9 4.7l1.6 4.7l1.5 4.8l1.2 4.9l1.1 4.9l1.1 4.9l1 4.9l1 4.9l1 4.9l1.2 4.9l1.2 4.9l1.3 4.8l1.2 4.9l1.4 4.8l1.4 4.9l1.5 4.8l1.5 4.8l1.6 4.7l1.6 4.8l1.7 4.7l1.7 4.7l1.8 4.7l1.9 4.7l2 4.6l2.1 4.6l2.2 4.5l2.6 4.3l2.7 4.2l2.7 4.2l2.5 4.4l2.6 4.3l1.9 4.6l.6 5l.3 5l0 5l0 5l.4 5l.4 5l.4 5l.4 5l.5 5l.3 5l.4 5l.3 5l.4 5l.3 5l.4 5l.3 5l.3 5l.3 5l.3 5l.3 5l.3 5l.3 5l.3 5l.3 5l.2 5l.3 5l.2 5l.2 5l.3 5l.2 5l.2 5l.2 5l0 1.5" marker-start="url(#w8)" marker-mid="url(#w8)" marker-end="url(#w8)"/>
<path d="M104 102.8l11.2 2.2l10.9 2.1l13.9 2.2l17.6 2.1l14.7 2.2l14.2 2.1l15.7 2.2l16.3 2.1l20.3 2.2l19.5 2.2l21.8 2.1l23 2.2l22.2 2.1l22.4 2.2l23.8 2.1l22.6 2.2l20 2.1l19.3 2.2l20.2 2.1l20.4 2.1l21.2 2.2l19.5 2.1l15.2 2.1l13.4 2.1l12.6 2.1l11.5 2.1l10.6 2.1l9.8 2.1l9.1 2.1l8.5 2.1l7.6 2.1l7 2l7.3 2.2l7.3 2.1l7.2 2.1l7.1 2.2l6.5 2l5.6 2.1l5.1 2.1l4.1 2.2l3.2 2.1l2.7 2.2l2.5 2.1l2.1 2.2l2 2.1l3.3 3.9l3 4l2.8 4.2l2.6 4.3l2.5 4.4l2.3 4.4l2.1 4.6l2.1 4.6l1.8 4.7l1.7 4.7l1.4 4.8l1.3 4.9l1.1 4.9l1 4.9l1 4.9l1 4.9l1.1 4.9l1.1 4.9l1.2 4.9l1.3 4.9l1.2 4.8l1.3 4.9l1.4 4.8l1.5 4.8l1.5 4.8l1.6 4.8l1.6 4.8l1.6 4.7l1.8 4.7l1.7 4.7l1.9 4.7l2 4.6l2 4.6l2.2 4.5l2.6 4.4l2.6 4.2l2.7 4.3l2.5 4.4l2.5 4.3l1.8 4.7l.5 5l.2 5l0 5l.1 5l.3 5l.5 5l.4 5l.4 5l.4 5l.4 5l.3 5l.4 5l.3 5l.3 5l.4 5l.3 5l.3 5l.3 5l.3 5l.3 5l.3 5l.3 5l.3 5l.2 5l.3 5l.2 5l.2 5l.3 5l.2 5l.2 5l.2 5l.1 5l.1 1.2" marker-start="url(#w9)" marker-mid="url(#w9)" marker-end="url(#w9)"/>
<path d="M104 102.8l11.2 2.2l10.9 2.1l13.9 2.2l17.6 2.1l14.7 2.2l14.2 2.1l15.7 2.2l16.3 2.1l20.3 2.2l19.5 2.2l21.8 2.1l23 2.2l22.2 2.1l22.4 2.2l23.8 2.1l22.7 2.2l19.9 2.1l19.4 2.2l20.1 2.1l20.5 2.1l21.1 2.2l19.5 2.1l15.3 2.1l13.4 2.1l12.6 2.1l11.5 2.1l10.6 2.1l9.8 2.1l9.1 2.1l8.5 2.1l7.6 2.1l7 2l7.2 2.2l7.4 2.1l7.1 2.1l7.1 2.2l6.5 2l5.6 2l5.3 2.2l4 2.2l3.2 2.1l2.8 2.2l2.4 2.1l2.2 2.2l2 2.1l3.2 3.9l3 4l2.8 4.2l2.6 4.3l2.5 4.4l2.3 4.4l2.2 4.6l2 4.6l1.9 4.6l1.6 4.8l1.5 4.8l1.2 4.8l1.2 4.9l1 4.9l1 5l1 4.9l1 4.9l1.2 4.9l1.2 4.9l1.2 4.8l1.3 4.9l1.3 4.8l1.4 4.9l1.5 4.8l1.5 4.8l1.6 4.8l1.6 4.7l1.6 4.8l1.7 4.7l1.8 4.7l1.9 4.6l1.9 4.7l2.1 4.6l2.2 4.5l2.5 4.3l2.7 4.3l2.7 4.2l2.4 4.4l2.6 4.4l1.8 4.7l.5 5l.2 5l0 5l0 5l.4 5l.4 5l.4 5l.5 5l.4 5l.3 5l.4 5l.3 5l.4 5l.3 5l.3 5l.4 5l.3 5l.3 5l.3 5l.3 5l.3 5l.3 5l.2 5l.3 5l.3 5l.2 5l.2 5l.3 5l.2 5l.2 5l.2 5l.1 5l.1 1.2" marker-start="url(#w10)" marker-mid="url(#w10)" marker-end="url(#w10)"/>
<path d="M104 102.8l11.2 2.2l10.9 2.1l13.9 2.2l17.6 2.1l14.7 2.2l14.2 2.1l15.8 2.2l16.2 2.1l20.3 2.2l19.5 2.2l21.9 2.1l23 2.2l22.2 2.1l22.4 2.2l23.7 2.1l22.7 2.2l20 2.1l19.3 2.2l20.2 2.1l20.4 2.1l21.2 2.2l19.5 2.1l15.2 2.1l13.5 2.1l12.5 2.1l11.6 2.1l10.6 2.1l9.8 2.1l9.1 2.1l8.5 2.1l7.6 2.1l7 2l7.2 2.2l7.4 2.1l7.1 2.1l7.1 2.1l6.6 2.1l5.5 2l5.2 2.2l4.1 2.1l3.3 2.2l2.7 2.1l2.4 2.2l2.2 2.1l2 2.2l3.2 3.8l3.1 4.1l2.8 4.1l2.6 4.3l2.5 4.4l2.3 4.5l2.2 4.5l2 4.6l1.9 4.7l1.6 4.7l1.5 4.8l1.2 4.9l1.2 4.9l1 4.9l1 4.9l1 4.9l1.1 4.9l1.1 4.9l1.2 4.9l1.2 4.8l1.3 4.9l1.3 4.8l1.4 4.9l1.5 4.8l1.5 4.8l1.6 4.8l1.6 4.7l1.6 4.8l1.8 4.7l1.7 4.7l1.9 4.6l2 4.7l2 4.6l2.2 4.5l2.6 4.3l2.7 4.3l2.6 4.2l2.5 4.4l2.6 4.3l1.8 4.7l.5 5l.3 5l0 5l0 5.1l.3 5l.4 5l.5 5l.4 5l.4 5l.3 5l.4 5l.3 5l.4 5l.3 5l.4 5l.3 5l.3 5l.3 5l.3 5l.3 5l.3 5l.3 5l.3 5l.2 5l.3 5l.2 5l.3 5l.2 5l.2 5l.2 5l.2 5l.2 5l0 1.3" marker-start="url(#w11)" marker-mid="url(#w11)" marker-end="url(#w11)"/>
<path d="M104 102.8l11.2 2.2l10.9 2.1l14 2.2l17.5 2.1l14.7 2.2l14.2 2.1l15.8 2.2l16.2 2.1l20.4 2.2l19.5 2.2l21.8 2.1l23 2.2l22.2 2.1l22.4 2.2l23.8 2.1l22.7 2.2l20 2.1l19.3 2.1l20.2 2.2l20.4 2.1l21.2 2.2l19.5 2.1l15.2 2.1l13.5 2.1l12.5 2.1l11.6 2.1l10.6 2.1l9.8 2.1l9.1 2.1l8.5 2.1l7.6 2l7 2.1l7.2 2.2l7.4 2.1l7.2 2.1l7.1 2.1l6.5 2.1l5.6 2l5.2 2.2l4.1 2.1l3.2 2.2l2.8 2.1l2.4 2.2l2.2 2.1l2 2.2l3.2 3.8l3.1 4.1l2.8 4.1l2.6 4.3l2.5 4.4l2.3 4.5l2.2 4.5l2 4.6l1.9 4.7l1.6 4.7l1.5 4.8l1.3 4.9l1.1 4.9l1 4.9l1 4.9l1 4.9l1.1 4.9l1.1 4.9l1.3 4.9l1.2 4.8l1.3 4.9l1.3 4.8l1.4 4.9l1.4 4.8l1.6 4.8l1.5 4.8l1.6 4.7l1.7 4.8l1.7 4.7l1.8 4.7l1.9 4.6l2 4.7l2 4.6l2.2 4.5l2.6 4.3l2.7 4.3l2.7 4.2l2.5 4.4l2.5 4.3l1.9 4.7l.5 5l.2 5l0 5l0 5l.3 5l.5 5l.4 5l.4 5l.4 5l.4 5l.4 5l.3 5l.3 5l.4 5l.3 5l.3 5l.4 5l.3 5l.3 5l.3 5l.3 5l.3 5l.2 5l.3 5l.3 5l.2 5l.3 5l.2 5l.2 5l.2 5l.2 5l.2 5l0 1.4" marker-start="url(#w12)" marker-mid="url(#w12)" marker-end="url(#w12)"/>
<path d="M104 102.8l11.2 2.2l10.9 2.1l14 2.2l17.5 2.1l14.7 2.2l14.2 2.1l15.8 2.2l16.2 2.1l20.4 2.2l19.5 2.1l21.8 2.2l23 2.2l22.2 2.1l22.5 2.2l23.7 2.1l22.7 2.2l20 2.1l19.4 2.1l20.1 2.2l20.5 2.1l21.1 2.2l19.6 2.1l15.2 2.1l13.4 2.1l12.6 2.1l11.5 2.1l10.7 2.1l9.7 2.1l9.2 2.1l8.4 2.1l7.7 2l7 2.1l7.2 2.2l7.4 2.1l7.1 2.1l7.1 2.1l6.5 2.1l5.6 2l5.3 2.1l4.1 2.2l3.2 2.1l2.8 2.2l2.4 2.1l2.2 2.2l2 2.1l3.2 3.9l3 4l2.9 4.1l2.6 4.3l2.5 4.4l2.3 4.5l2.2 4.5l2 4.6l1.9 4.7l1.7 4.7l1.4 4.8l1.3 4.9l1.2 4.9l1 4.9l1 4.9l1 4.9l1.1 4.9l1.1 4.9l1.2 4.9l1.3 4.8l1.2 4.9l1.4 4.8l1.4 4.9l1.4 4.8l1.5 4.8l1.6 4.8l1.6 4.7l1.7 4.8l1.7 4.7l1.8 4.7l1.9 4.6l1.9 4.7l2.1 4.6l2.2 4.5l2.6 4.3l2.7 4.3l2.7 4.2l2.5 4.4l2.6 4.3l1.8 4.6l.6 5l.2 5l0 5l0 5.1l.2 5l.5 5l.4 5l.4 5l.4 5l.4 5l.4 5l.3 5l.4 5l.3 5l.3 5l.4 5l.3 5l.3 5l.3 5l.3 5l.3 5l.3 5l.3 5l.2 5l.3 5l.3 5l.2 5l.2 5l.3 5l.2 5l.2 5l.1 5l.1 1.5" marker-start="url(#w13)" marker-mid="url(#w13)" marker-end="url(#w13)"/>
<path d="M104 102.8l11.2 2.2l10.9 2.1l14 2.2l17.6 2.1l14.7 2.2l14.1 2.1l15.8 2.2l16.3 2.1l20.3 2.2l19.5 2.1l21.9 2.2l23 2.2l22.2 2.1l22.4 2.2l23.7 2.1l22.7 2.2l20 2.1l19.4 2.1l20.1 2.2l20.5 2.1l21.2 2.2l19.5 2.1l15.2 2.1l13.5 2.1l12.5 2.1l11.6 2.1l10.6 2.1l9.8 2.1l9.1 2.1l8.5 2.1l7.6 2l7 2.1l7.2 2.2l7.4 2.1l7.2 2.1l7.1 2.1l6.5 2.1l5.6 2l5.3 2.1l4.1 2.2l3.2 2.1l2.8 2.2l2.4 2.1l2.2 2.2l2 2.1l3.3 3.9l3 4l2.8 4.1l2.6 4.3l2.5 4.4l2.4 4.5l2.1 4.5l2.1 4.6l1.8 4.6l1.7 4.8l1.5 4.8l1.3 4.8l1.1 4.9l1 4.9l1 4.9l1.1 4.9l1 4.9l1.2 4.9l1.2 4.9l1.2 4.9l1.3 4.8l1.3 4.9l1.4 4.8l1.5 4.8l1.5 4.8l1.6 4.8l1.6 4.8l1.6 4.7l1.8 4.7l1.7 4.7l1.9 4.7l2 4.6l2 4.6l2.2 4.5l2.6 4.4l2.7 4.2l2.7 4.3l2.5 4.3l2.6 4.3l1.9 4.7l.5 5l.2 5l0 5l0 5l.2 5l.5 5l.4 5l.4 5l.4 5l.4 5l.4 5l.3 5l.4 5l.3 5l.3 5l.4 5l.3 5l.3 5l.3 5l.3 5l.3 5l.3 5l.3 5l.3 5l.2 5l.3 5l.2 5l.2 5l.3 5l.2 5l.2 5l.2 5l0 1.6" marker-start="url(#w14)" marker-mid="url(#w14)" marker-end="url(#w14)"/>
<path d="M104 102.8l11.2 2.2l10.9 2.1l14 2.2l17.6 2.1l14.7 2.2l14.1 2.1l15.8 2.2l16.3 2.1l20.3 2.2l19.5 2.1l21.9 2.2l23 2.1l22.2 2.2l22.4 2.1l23.8 2.2l22.7 2.2l20 2.1l19.3 2.1l20.2 2.2l20.5 2.1l21.1 2.2l19.6 2.1l15.2 2.1l13.5 2.1l12.5 2.1l11.6 2.1l10.6 2.1l9.8 2.1l9.1 2.1l8.5 2.1l7.6 2l7 2.1l7.2 2.2l7.4 2.1l7.2 2.1l7.1 2.1l6.5 2l5.6 2l5.2 2.2l4.2 2.1l3.3 2.2l2.7 2.1l2.5 2.2l2.2 2.1l2 2.2l3.2 3.8l3 4l2.8 4.2l2.7 4.3l2.5 4.4l2.3 4.4l2.2 4.5l2.1 4.6l1.8 4.7l1.7 4.7l1.5 4.8l1.3 4.9l1.1 4.9l1.1 4.9l1 4.9l1 4.9l1 4.9l1.2 4.9l1.2 4.9l1.3 4.8l1.2 4.9l1.4 4.8l1.4 4.9l1.4 4.8l1.5 4.8l1.6 4.8l1.6 4.7l1.7 4.8l1.7 4.7l1.8 4.7l1.9 4.6l2 4.7l2 4.6l2.2 4.5l2.6 4.3l2.7 4.3l2.7 4.2l2.5 4.4l2.6 4.3l1.9 4.6l.6 5l.2 5l0 5l0 5.1l.2 5l.4 5l.5 5l.4 5l.4 5l.4 5l.3 5l.4 5l.3 5l.4 5l.3 5l.3 5l.4 5l.3 5l.3 5l.3 5l.3 5l.3 5l.3 5l.2 5l.3 5l.3 5l.2 5l.2 5l.3 5l.2 5l.2 5l.2 5l0 1.6" marker-start="url(#w15)" marker-mid="url(#w15)" marker-end="url(#w15)"/>
<path d="M104 102.8l11.2 2.2l10.9 2.1l14 2.2l17.6 2.1l14.7 2.2l14.1 2.1l15.8 2.2l16.3 2.1l20.3 2.2l19.5 2.1l21.9 2.2l23 2.1l22.2 2.2l22.4 2.1l23.8 2.2l22.7 2.2l20 2.1l19.4 2.1l20.1 2.2l20.5 2.1l21.2 2.2l19.5 2.1l15.2 2.1l13.5 2.1l12.5 2.1l11.6 2.1l10.6 2.1l9.8 2.1l9.1 2.1l8.5 2.1l7.6 2l7 2.1l7.3 2.1l7.3 2.2l7.2 2.1l7.1 2.1l6.5 2l5.6 2l5.3 2.2l4.2 2.1l3.3 2.2l2.7 2.1l2.5 2.2l2.2 2.1l2 2.2l3.2 3.8l3 4l2.9 4.2l2.6 4.3l2.5 4.3l2.3 4.5l2.2 4.5l2.1 4.6l1.8 4.6l1.7 4.8l1.5 4.8l1.3 4.8l1.1 4.9l1.1 4.9l1 4.9l1 4.9l1.1 4.9l1.1 4.9l1.3 4.9l1.2 4.9l1.3 4.8l1.3 4.9l1.4 4.8l1.4 4.8l1.6 4.8l1.5 4.8l1.6 4.8l1.7 4.7l1.7 4.7l1.8 4.7l1.9 4.7l2 4.6l2 4.6l2.2 4.5l2.6 4.4l2.7 4.2l2.7 4.3l2.5 4.3l2.6 4.3l1.9 4.7l.6 5l.1 5l0 5l0 5l.2 5l.5 5l.4 5l.4 5l.4 5l.4 5l.4 5l.3 5l.4 5l.3 5l.3 5l.4 5l.3 5l.3 5l.3 5l.3 5l.3 5l.3 5l.3 5l.3 5l.2 5l.3 5l.2 5l.3 5l.2 5l.2 5l.2 5l.2 5l.1 1.7" marker-start="url(#w16)" marker-mid="url(#w16)" marker-end="url(#w16)"/>
<path d="M104 102.8l11.2 2.2l10.9 2.1l14 2.2l17.6 2.1l14.7 2.2l14.2 2.1l15.7 2.2l16.3 2.1l20.3 2.2l19.6 2.1l21.8 2.2l23 2.1l22.2 2.2l22.5 2.1l23.7 2.2l22.8 2.1l20 2.2l19.3 2.1l20.2 2.2l20.4 2.1l21.2 2.2l19.5 2.1l15.3 2.1l13.4 2.1l12.6 2.1l11.5 2.1l10.7 2.1l9.7 2.1l9.2 2.1l8.5 2.1l7.6 2l7 2.1l7.2 2.1l7.4 2.2l7.2 2.1l7.1 2.1l6.5 2l5.6 2l5.3 2.1l4.2 2.2l3.2 2.1l2.8 2.2l2.5 2.1l2.2 2.2l2 2.1l3.2 3.9l3.1 4l2.8 4.1l2.6 4.3l2.5 4.3l2.4 4.5l2.1 4.5l2.1 4.6l1.9 4.6l1.7 4.8l1.5 4.8l1.3 4.8l1.1 4.9l1.1 4.9l1 4.9l1 4.9l1 4.9l1.2 4.9l1.2 4.9l1.3 4.9l1.2 4.8l1.4 4.9l1.4 4.8l1.4 4.8l1.5 4.8l1.6 4.8l1.6 4.8l1.7 4.7l1.7 4.7l1.8 4.7l1.9 4.7l1.9 4.6l2.1 4.6l2.2 4.5l2.6 4.4l2.7 4.2l2.7 4.3l2.5 4.3l2.6 4.3l2 4.7l.5 5l.2 5l0 5l0 5l.1 5l.5 5l.4 5l.4 5l.4 5l.4 5l.4 5l.3 5l.4 5l.3 5l.4 5l.3 5l.3 5l.3 5l.4 5l.3 5l.3 5l.3 5l.2 5l.3 5l.3 5l.2 5l.3 5l.2 5l.3 5l.2 5l.2 5l.2 5l0 1.8" marker-start="url(#w17)" marker-mid="url(#w17)" marker-end="url(#w17)"/>
<path d="M104 102.8l11.2 2.2l10.9 2.1l14 2.2l17.6 2.1l14.7 2.2l14.2 2.1l15.8 2.2l16.2 2.1l20.3 2.2l19.6 2.1l21.8 2.2l23 2.1l22.3 2.2l22.4 2.1l23.8 2.2l22.7 2.1l20 2.2l19.3 2.1l20.2 2.2l20.5 2.1l21.2 2.2l19.5 2.1l15.2 2.1l13.5 2.1l12.6 2.1l11.5 2.1l10.6 2.1l9.8 2.1l9.1 2.1l8.5 2.1l7.6 2l7 2.1l7.3 2.1l7.4 2.1l7.1 2.1l7.1 2.2l6.5 2l5.6 2l5.4 2.1l4.2 2.2l3.3 2.1l2.8 2.2l2.4 2.1l2.2 2.2l2 2.1l3.3 3.9l3 4l2.8 4.1l2.7 4.3l2.4 4.3l2.4 4.5l2.2 4.5l2.1 4.6l1.8 4.6l1.8 4.8l1.4 4.8l1.3 4.8l1.2 4.9l1 4.9l1 4.9l1.1 4.9l1 4.9l1.2 4.9l1.2 4.9l1.3 4.9l1.2 4.8l1.4 4.9l1.4 4.8l1.4 4.8l1.5 4.8l1.6 4.8l1.6 4.8l1.7 4.7l1.7 4.7l1.8 4.7l1.9 4.7l1.9 4.6l2.1 4.6l2.2 4.5l2.6 4.4l2.7 4.2l2.7 4.3l2.5 4.3l2.6 4.3l2 4.7l.5 5l.2 5l0 5l0 5l.1 5l.4 5l.5 5l.4 5l.4 5l.4 5l.4 5l.3 5l.4 5l.3 5l.3 5l.4 5l.3 5l.3 5l.3 5l.3 5l.3 5l.3 5l.3 5l.3 5l.3 5l.2 5l.3 5l.2 5l.3 5l.2 5l.2 5l.2 5l0 1.8" marker-start="url(#w18)" marker-mid="url(#w18)" marker-end="url(#w18)"/>
<path d="M104 102.8l11.2 2.2l10.9 2.1l14 2.2l17.6 2.1l14.7 2.2l14.2 2.1l15.8 2.2l16.2 2.1l20.4 2.2l19.5 2.1l21.9 2.2l23 2.1l22.2 2.2l22.4 2.1l23.8 2.2l22.7 2.1l20 2.2l19.4 2.1l20.2 2.2l20.4 2.1l21.2 2.2l19.5 2.1l15.3 2.1l13.4 2.1l12.6 2.1l11.6 2.1l10.6 2.1l9.8 2.1l9.1 2.1l8.5 2l7.6 2.1l7 2.1l7.3 2.1l7.4 2.1l7.1 2.1l7.1 2.1l6.5 2.1l5.6 1.9l5.3 2.2l4.3 2.1l3.3 2.2l2.8 2.1l2.4 2.2l2.2 2.1l2 2.2l3.3 3.8l3 4l2.9 4.2l2.6 4.2l2.5 4.4l2.4 4.4l2.2 4.5l2 4.6l1.9 4.7l1.7 4.7l1.5 4.8l1.3 4.9l1.2 4.9l1 4.9l1 4.9l1.1 4.9l1 4.9l1.2 4.9l1.2 4.8l1.2 4.9l1.3 4.8l1.4 4.9l1.4 4.8l1.4 4.8l1.5 4.8l1.6 4.8l1.6 4.8l1.7 4.7l1.7 4.7l1.8 4.7l1.9 4.7l1.9 4.6l2.1 4.6l2.2 4.5l2.6 4.4l2.7 4.2l2.7 4.2l2.5 4.4l2.6 4.3l2.1 4.6l.5 5l.2 5l0 5l0 5l.1 5l.4 5l.4 5l.5 5l.4 5l.4 5l.3 5l.4 5l.3 5l.4 5l.3 5l.3 5l.4 5l.3 5l.3 5l.3 5l.3 5l.3 5l.3 5l.3 5l.3 5l.2 5l.3 5l.2 5l.3 5l.2 5l.2 5l.2 5l.1 2" marker-start="url(#w19)" marker-mid="url(#w19)" marker-end="url(#w19)"/>
<path d="M104 102.8l11.2 2.2l10.9 2.1l14 2.2l17.6 2.1l14.7 2.2l14.2 2.1l15.7 2.2l16.3 2.1l20.3 2.2l19.6 2.1l21.8 2.2l23 2.1l22.2 2.2l22.5 2.1l23.8 2.2l22.7 2.1l20 2.2l19.3 2.1l20.2 2.2l20.4 2.1l21.2 2.2l19.6 2.1l15.2 2.1l13.4 2.1l12.6 2.1l11.6 2.1l10.6 2.1l9.8 2.1l9.1 2l8.5 2.1l7.6 2.1l7 2l7.2 2.2l7.4 2.1l7.2 2.1l7.1 2.1l6.5 2l5.6 2l5.4 2.2l4.2 2.1l3.3 2.2l2.8 2.1l2.5 2.2l2.2 2.1l2 2.2l3.3 3.8l3 4l2.9 4.2l2.6 4.2l2.5 4.4l2.4 4.4l2.2 4.5l2.1 4.6l1.8 4.7l1.8 4.7l1.4 4.8l1.3 4.9l1.2 4.9l1.1 4.9l1 4.9l1 4.9l1 4.9l1.2 4.9l1.2 4.9l1.3 4.8l1.2 4.9l1.4 4.8l1.3 4.9l1.5 4.8l1.5 4.8l1.6 4.8l1.6 4.7l1.6 4.8l1.7 4.7l1.8 4.7l1.9 4.6l1.9 4.7l2.1 4.6l2.2 4.5l2.5 4.3l2.7 4.3l2.7 4.2l2.5 4.4l2.6 4.3l2 4.6l.5 5l.1 5l0 5l0 5.1l.1 5l.4 5l.5 5l.4 5l.4 5l.4 5l.4 5l.3 5l.3 5l.4 5l.3 5l.4 5l.3 5l.3 5l.3 5l.3 5l.3 5l.3 5l.3 5l.3 5l.3 5l.2 5l.3 5l.2 5l.2 5l.2 5l.3 5l.1 5l.1 1.8" marker-start="url(#w20)" marker-mid="url(#w20)" marker-end="url(#w20)"/>
<path d="M104 102.8l11.2 2.2l10.9 2.1l14 2.2l17.6 2.1l14.7 2.2l14.2 2.1l15.8 2.2l16.2 2.1l20.4 2.2l19.5 2.1l21.9 2.2l23 2.1l22.2 2.2l22.5 2.1l23.7 2.2l22.7 2.1l20 2.2l19.4 2.1l20.2 2.2l20.4 2.1l21.2 2.2l19.5 2.1l15.3 2.1l13.4 2.1l12.6 2.1l11.6 2.1l10.6 2.1l9.8 2.1l9.1 2l8.5 2.1l7.6 2.1l7 2l7.3 2.2l7.4 2.1l7.1 2.1l7.1 2.1l6.5 2l5.6 2l5.4 2.1l4.3 2.2l3.3 2.1l2.8 2.2l2.5 2.1l2.2 2.2l2 2.1l3.3 3.9l3 4l2.8 4.1l2.7 4.3l2.5 4.3l2.4 4.5l2.2 4.5l2.1 4.6l1.8 4.6l1.8 4.8l1.5 4.8l1.3 4.8l1.1 4.9l1.1 4.9l1 4.9l1 4.9l1.1 4.9l1.1 4.9l1.3 4.9l1.2 4.8l1.3 4.9l1.3 4.8l1.4 4.9l1.5 4.8l1.5 4.8l1.5 4.8l1.6 4.7l1.7 4.8l1.7 4.7l1.8 4.7l1.9 4.6l1.9 4.7l2.1 4.6l2.2 4.5l2.5 4.3l2.7 4.3l2.8 4.2l2.5 4.4l2.6 4.3l2 4.6l.5 5l.2 5l0 5l0 5l0 5l.4 5l.4 5l.5 5l.4 5l.4 5l.3 5l.4 5l.3 5l.4 5l.3 5l.4 5l.3 5l.3 5l.3 5l.3 5l.3 5l.3 5l.3 5l.3 5l.3 5l.2 5l.3 5l.2 5l.3 5l.2 5l.2 5l.2 5l.1 2" marker-start="url(#w21)" marker-mid="url(#w21)" marker-end="url(#w21)"/>
<path d="M104 102.8l11.2 2.2l10.9 2.1l14 2.2l17.6 2.1l14.7 2.2l14.2 2.1l15.8 2.2l16.2 2.1l20.4 2.2l19.5 2.1l21.9 2.2l23 2.1l22.2 2.2l22.5 2.1l23.7 2.2l22.8 2.1l20 2.2l19.3 2.1l20.2 2.2l20.5 2.1l21.2 2.2l19.5 2.1l15.3 2l13.4 2.1l12.6 2.1l11.5 2l10.6 2.1l9.8 2l9.2 2l8.4 2.1l7.7 1.9l7 2.1l7.2 2.1l7.4 2.1l7.2 2l7.1 2.1l6.5 2l5.6 1.8l5.7 2.2l4.8 2.1l3.6 2.2l3.1 2.1l2.6 2.2l2.4 2.1l2.1 2.2l2 2.1l3.2 3.9l3 4l2.9 4.1l2.7 4.3l2.5 4.3l2.4 4.5l2.2 4.5l2.1 4.6l1.9 4.6l1.7 4.8l1.5 4.8l1.3 4.8l1.1 4.9l1.1 4.9l1 4.9l1.1 4.9l1 4.9l1.2 4.9l1.3 4.9l1.2 4.9l1.2 4.8l1.3 4.9l1.4 4.8l1.5 4.8l1.4 4.8l1.5 4.8l1.6 4.8l1.6 4.8l1.6 4.7l1.8 4.7l1.8 4.7l1.9 4.7l1.9 4.6l2.2 4.5l2.6 4.3l2.6 4.3l2.6 4.4l2.4 4.4l2.3 4.5l1.1 4.9l0 5l0 5l0 5.1l0 5l0 5.1l0 5l.2 5l.4 5l.4 5l.4 5l.3 5l.4 5l.3 5l.3 5l.4 5l.3 5l.3 5l.4 5l.3 5l.3 5l.3 5l.3 5l.3 5l.2 5l.3 5l.3 5l.2 5l.3 5l.2 5l.2 5l.2 5l.2 4.5" marker-start="url(#w22)" marker-mid="url(#w22)" marker-end="url(#w22)"/>
<path d="M104 102.8l11.2 2.2l10.9 2.1l14 2.2l17.6 2.1l14.7 2.2l14.2 2.1l15.8 2.2l16.2 2.1l20.4 2.2l19.5 2.1l21.9 2.2l23 2.1l22.2 2.2l22.5 2.1l23.8 2.2l22.7 2.1l20 2.2l19.3 2.1l20.2 2.2l20.5 2.1l21.2 2.2l19.5 2.1l15.3 2.1l13.4 2l12.6 2.1l11.5 2.1l10.7 2l9.7 2.1l9.2 2l8.5 2.1l7.6 2l7 2l7.2 2.2l7.4 2.1l7.2 2l7.1 2.1l6.5 2l5.6 1.9l5.6 2.1l4.6 2.2l3.6 2.1l2.9 2.2l2.6 2.1l2.3 2.2l2.1 2.1l3.3 3.8l3.1 3.9l2.9 4.1l2.8 4.2l2.5 4.3l2.5 4.4l2.3 4.5l2.1 4.6l2 4.6l1.8 4.7l1.5 4.8l1.4 4.8l1.2 4.9l1.1 4.9l1 4.9l1.1 4.9l1 4.9l1.2 4.9l1.2 4.9l1.2 4.9l1.2 4.8l1.3 4.9l1.4 4.8l1.4 4.8l1.5 4.8l1.5 4.8l1.5 4.8l1.6 4.8l1.7 4.7l1.7 4.7l1.8 4.7l1.9 4.7l2 4.6l2 4.5l2.4 4.4l2.7 4.3l2.7 4.3l2.4 4.4l2.5 4.3l2.1 4.6l.5 5l0 5l0 5.1l0 5l0 5.1l0 5l.2 5l.4 5l.5 5l.4 5l.3 5l.4 5l.3 5l.4 5l.3 5l.3 5l.4 5l.3 5l.3 5l.3 5l.3 5l.3 5l.3 5l.3 5l.3 5l.2 5l.3 5l.2 5l.3 5l.2 5l.2 5l.2 5l.1 2.4" marker-start="url(#w23)" marker-mid="url(#w23)" marker-end="url(#w23)"/>
<path d="M104 102.8l11.2 2.2l10.9 2.1l14 2.2l17.6 2.1l14.7 2.2l14.2 2.1l15.8 2.2l16.2 2.1l20.4 2.2l19.5 2.1l21.9 2.2l23 2.1l22.2 2.2l22.5 2.1l23.8 2.2l22.7 2.1l20 2.2l19.3 2.1l20.2 2.2l20.5 2.1l21.2 2.2l19.5 2.1l15.3 2.1l13.4 2.1l12.6 2.1l11.5 2.1l10.7 2l9.7 2.1l9.2 2.1l8.5 2.1l7.6 2l7 2.1l7.2 2.1l7.4 2.1l7.2 2.1l7.1 2.1l6.5 2l5.6 2l5.4 2.1l4.4 2.2l3.3 2.1l2.9 2.2l2.4 2.1l2.3 2.2l2 2.1l3.3 3.8l3 4l2.9 4.2l2.7 4.2l2.5 4.4l2.4 4.4l2.2 4.5l2.1 4.6l1.9 4.7l1.7 4.7l1.5 4.8l1.4 4.8l1.1 4.9l1.1 4.9l1 4.9l1 4.9l1.1 4.9l1.2 4.9l1.2 4.9l1.2 4.8l1.3 4.9l1.3 4.8l1.4 4.9l1.5 4.8l1.5 4.8l1.5 4.8l1.6 4.7l1.7 4.8l1.7 4.7l1.8 4.7l1.8 4.7l2 4.6l2 4.6l2.2 4.6l2.5 4.3l2.7 4.3l2.8 4.2l2.5 4.4l2.5 4.3l2.1 4.6l.5 5l.1 5l0 5l0 5.1l0 5l.3 5l.5 5l.4 5l.4 5l.4 5l.4 5l.3 5l.4 5l.3 5l.4 5l.3 5l.3 5l.3 5l.4 5l.3 5l.3 5l.3 5l.3 5l.3 5l.2 5l.3 5l.2 5l.3 5l.2 5l.2 5l.3 5l.2 5l0 2" marker-start="url(#w24)" marker-mid="url(#w24)" marker-end="url(#w24)"/>
<path d="M104 102.8l11.2 2.2l10.9 2.1l14 2.2l17.6 2.1l14.7 2.2l14.2 2.1l15.8 2.2l16.2 2.1l20.4 2.2l19.5 2.1l21.9 2.2l23 2.1l22.2 2.2l22.5 2.1l23.8 2.2l22.7 2.1l20 2.2l19.3 2.1l20.2 2.2l20.5 2.1l21.2 2.2l19.5 2.1l15.3 2.1l13.4 2.1l12.6 2.1l11.6 2.1l10.6 2l9.8 2.1l9.1 2.1l8.5 2.1l7.6 2l7 2.1l7.3 2.1l7.4 2.1l7.1 2.1l7.1 2.1l6.5 2l5.6 2l5.5 2.1l4.3 2.2l3.3 2.1l2.9 2.2l2.5 2.1l2.2 2.2l2 2.1l3.3 3.8l3 4l2.9 4.2l2.7 4.2l2.5 4.4l2.4 4.4l2.2 4.5l2.1 4.6l1.9 4.7l1.7 4.7l1.6 4.8l1.3 4.8l1.1 4.9l1.1 4.9l1 4.9l1 4.9l1.1 4.9l1.2 4.9l1.2 4.9l1.2 4.8l1.3 4.9l1.3 4.8l1.4 4.9l1.5 4.8l1.5 4.8l1.5 4.8l1.6 4.7l1.7 4.8l1.7 4.7l1.8 4.7l1.8 4.7l2 4.6l2 4.6l2.2 4.6l2.6 4.3l2.7 4.3l2.7 4.2l2.5 4.4l2.6 4.3l2 4.6l.5 5l.2 5l0 5l0 5.1l0 5l.3 5l.4 5l.5 5l.4 5l.4 5l.3 5l.4 5l.3 5l.4 5l.3 5l.4 5l.3 5l.3 5l.3 5l.3 5l.3 5l.3 5l.3 5l.3 5l.3 5l.3 5l.2 5l.3 5l.2 5l.2 5l.2 5l.2 5l.1 2" marker-start="url(#w25)" marker-mid="url(#w25)" marker-end="url(#w25)"/>
<path d="M104 102.8l11.2 2.2l10.9 2.1l14 2.2l17.6 2.1l14.7 2.2l14.2 2.1l15.8 2.2l16.2 2.1l20.4 2.2l19.5 2.1l21.9 2.2l23 2.1l22.2 2.2l22.5 2.1l23.8 2.2l22.7 2.1l20 2.2l19.3 2.1l20.2 2.2l20.5 2.1l21.2 2.2l19.5 2.1l15.3 2.1l13.4 2.1l12.6 2.1l11.6 2.1l10.6 2l9.8 2.1l9.1 2.1l8.5 2.1l7.6 2l7 2.1l7.3 2.1l7.4 2.1l7.1 2.1l7.1 2.1l6.5 2l5.6 2l5.5 2.1l4.3 2.2l3.3 2.1l2.9 2.2l2.5 2.1l2.2 2.2l2 2.1l3.3 3.8l3 4l2.9 4.2l2.7 4.2l2.5 4.4l2.4 4.4l2.2 4.5l2.1 4.6l1.9 4.7l1.7 4.7l1.6 4.8l1.3 4.8l1.1 4.9l1.1 4.9l1 4.9l1 4.9l1.1 4.9l1.2 4.9l1.2 4.9l1.2 4.8l1.3 4.9l1.3 4.8l1.4 4.9l1.5 4.8l1.5 4.8l1.5 4.8l1.6 4.7l1.7 4.8l1.7 4.7l1.8 4.7l1.8 4.7l2 4.6l2 4.6l2.2 4.6l2.6 4.3l2.7 4.3l2.7 4.2l2.5 4.4l2.6 4.3l2 4.6l.5 5l.2 5l0 5l0 5.1l0 5l.3 5l.4 5l.5 5l.4 5l.4 5l.3 5l.4 5l.3 5l.4 5l.3 5l.4 5l.3 5l.3 5l.3 5l.3 5l.3 5l.3 5l.3 5l.3 5l.3 5l.3 5l.2 5l.3 5l.2 5l.2 5l.2 5l.2 5l.1 2" marker-start="url(#w26)" marker-mid="url(#w26)" marker-end="url(#w26)"/>
<path d="M104 102.8l11.2 2.2l10.9 2.1l14 2.2l17.6 2.1l14.7 2.2l14.2 2.1l15.8 2.2l16.2 2.1l20.4 2.2l19.5 2.1l21.9 2.2l23 2.1l22.2 2.2l22.5 2.1l23.8 2.2l22.7 2.1l20 2.2l19.3 2.1l20.2 2.2l20.5 2.1l21.2 2.2l19.5 2.1l15.3 2.1l13.4 2.1l12.6 2.1l11.6 2.1l10.6 2l9.8 2.1l9.1 2.1l8.5 2.1l7.6 2l7 2.1l7.3 2.1l7.4 2.1l7.1 2.1l7.1 2.1l6.5 2l5.6 2l5.5 2.1l4.3 2.2l3.3 2.1l2.9 2.2l2.5 2.1l2.2 2.2l2 2.1l3.3 3.8l3 4l2.9 4.2l2.7 4.2l2.5 4.4l2.4 4.4l2.2 4.5l2.1 4.6l1.9 4.7l1.7 4.7l1.6 4.8l1.3 4.8l1.1 4.9l1.1 4.9l1 4.9l1 4.9l1.1 4.9l1.2 4.9l1.2 4.9l1.2 4.8l1.3 4.9l1.3 4.8l1.4 4.9l1.5 4.8l1.5 4.8l1.5 4.8l1.6 4.7l1.7 4.8l1.7 4.7l1.8 4.7l1.8 4.7l2 4.6l2 4.6l2.2 4.6l2.6 4.3l2.7 4.3l2.7 4.2l2.5 4.4l2.6 4.3l2 4.6l.5 5l.2 5l0 5l0 5.1l0 5l.3 5l.4 5l.5 5l.4 5l.4 5l.3 5l.4 5l.3 5l.4 5l.3 5l.4 5l.3 5l.3 5l.3 5l.3 5l.3 5l.3 5l.3 5l.3 5l.3 5l.3 5l.2 5l.3 5l.2 5l.2 5l.2 5l.2 5l.1 2" marker-start="url(#w27)" marker-mid="url(#w27)" marker-end="url(#w27)"/>
<path d="M104 102.8l11.2 2.2l10.9 2.1l14 2.2l17.6 2.1l14.7 2.2l14.2 2.1l15.8 2.2l16.2 2.1l20.4 2.2l19.5 2.1l21.9 2.2l23 2.1l22.2 2.2l22.5 2.1l23.8 2.2l22.7 2.1l20 2.2l19.3 2.1l20.2 2.2l20.5 2.1l21.2 2.2l19.5 2.1l15.3 2.1l13.4 2.1l12.6 2.1l11.6 2.1l10.6 2.1l9.8 2.1l9.1 2.1l8.5 2.1l7.6 2l7 2.1l7.3 2.1l7.4 2.2l7.1 2.1l7.1 2.1l6.5 2l5.6 2l5.4 2.1l4.2 2.2l3.3 2.1l2.8 2.2l2.4 2.1l2.2 2.2l2 2.1l3.3 3.9l3 4l2.8 4.1l2.7 4.3l2.5 4.3l2.3 4.5l2.2 4.5l2.1 4.6l1.9 4.6l1.7 4.8l1.5 4.8l1.3 4.8l1.1 4.9l1.1 4.9l1 4.9l1 4.9l1.1 4.9l1.1 4.9l1.3 4.9l1.2 4.8l1.3 4.9l1.3 4.8l1.4 4.9l1.5 4.8l1.5 4.8l1.6 4.8l1.6 4.7l1.7 4.8l1.7 4.7l1.8 4.7l1.9 4.6l2 4.6l2.1 4.6l2.2 4.5l2.5 4.4l2.8 4.2l2.7 4.2l2.5 4.3l2.7 4.3l2 4.6l.6 5l.2 5l0 5l0 5.1l.1 5l.4 5l.4 5l.5 5l.4 5l.4 5l.3 5l.4 5l.3 5l.4 5l.3 5l.3 5l.4 5l.3 5l.3 5l.3 5l.3 5l.3 5l.3 5l.3 5l.3 5l.2 5l.3 5l.2 5l.3 5l.2 5l.2 5l.2 5l.1 2" marker-start="url(#w28)" marker-mid="url(#w28)" marker-end="url(#w28)"/>
<path d="M104 102.8l11.2 2.2l10.9 2.1l14 2.2l17.6 2.1l14.7 2.2l14.2 2.1l15.8 2.2l16.2 2.1l20.4 2.2l19.5 2.1l21.9 2.2l23 2.1l22.2 2.2l22.5 2.1l23.8 2.2l22.7 2.1l20 2.2l19.3 2.1l20.2 2.2l20.5 2.1l21.2 2.2l19.5 2.1l15.3 2.1l13.4 2.1l12.6 2.1l11.6 2.1l10.6 2.1l9.8 2.1l9.1 2.1l8.5 2.1l7.6 2l7 2.1l7.3 2.2l7.4 2.1l7.1 2.1l7.1 2.1l6.5 2l5.6 2l5.3 2.2l4.2 2.1l3.3 2.2l2.7 2.1l2.5 2.2l2.1 2.1l2 2.2l3.3 3.8l3 4l2.8 4.2l2.7 4.3l2.4 4.3l2.4 4.5l2.2 4.5l2 4.6l1.9 4.6l1.7 4.8l1.5 4.8l1.3 4.8l1.1 4.9l1.1 4.9l1 4.9l1 4.9l1.1 4.9l1.2 4.9l1.2 4.9l1.2 4.8l1.3 4.9l1.3 4.8l1.5 4.9l1.4 4.8l1.6 4.8l1.5 4.7l1.7 4.8l1.6 4.7l1.8 4.7l1.8 4.7l1.9 4.7l2 4.6l2.1 4.6l2.2 4.5l2.5 4.3l2.8 4.2l2.7 4.2l2.6 4.3l2.6 4.3l2.1 4.6l.6 5l.2 5l0 5l0 5.1l.2 5l.4 5l.4 5l.5 5l.4 5l.4 5l.3 5l.4 5l.3 5l.4 5l.3 5l.3 5l.4 5l.3 5l.3 5l.3 5l.3 5l.3 5l.3 5l.3 5l.3 5l.2 5l.3 5l.2 5l.3 5l.2 5l.2 5l.2 5l.1 2" marker-start="url(#w29)" marker-mid="url(#w29)" marker-end="url(#w29)"/>
<path d="M104 102.8l11.2 2.2l10.9 2.1l14 2.2l17.6 2.1l14.7 2.2l14.2 2.1l15.8 2.2l16.2 2.1l20.4 2.2l19.5 2.1l21.9 2.2l23 2.1l22.2 2.2l22.5 2.1l23.8 2.2l22.7 2.1l20 2.2l19.3 2.1l20.2 2.2l20.5 2.1l21.2 2.2l19.5 2.1l15.3 2.1l13.4 2.1l12.6 2.1l11.6 2.1l10.6 2.1l9.8 2.1l9.1 2.1l8.5 2.1l7.6 2.1l7 2.1l7.3 2.1l7.4 2.1l7.1 2.1l7.1 2.2l6.5 2l5.6 2l5.4 2.2l4.1 2.1l3.2 2.2l2.7 2.1l2.5 2.2l2.1 2.1l2 2.2l3.2 3.8l3.1 4.1l2.8 4.1l2.6 4.3l2.5 4.4l2.3 4.5l2.2 4.5l2 4.6l1.9 4.6l1.7 4.8l1.4 4.8l1.3 4.8l1.2 4.9l1 4.9l1 4.9l1 4.9l1.1 4.9l1.2 4.9l1.2 4.9l1.3 4.8l1.3 4.9l1.3 4.8l1.4 4.8l1.5 4.8l1.5 4.8l1.6 4.8l1.6 4.7l1.7 4.8l1.8 4.7l1.8 4.7l1.9 4.6l2 4.6l2.1 4.6l2.2 4.5l2.6 4.3l2.8 4.2l2.7 4.2l2.6 4.3l2.6 4.3l2.1 4.6l.6 5l.2 5l0 5l0 5.1l.3 5l.4 5l.4 5l.5 5l.4 5l.4 5l.3 5l.4 5l.3 5l.4 5l.3 5l.4 5l.3 5l.3 5l.3 5l.3 5l.3 5l.3 5l.3 5l.3 5l.3 5l.3 5l.2 5l.3 5l.2 5l.2 5l.2 5l.2 5l.1 1.9" marker-start="url(#w30)" marker-mid="url(#w30)" marker-end="url(#w30)"/>
<path d="M104 102.8l11.2 2.2l10.9 2.1l14 2.2l17.6 2.1l14.7 2.2l14.2 2.1l15.8 2.2l16.2 2.1l20.4 2.2l19.5 2.1l21.9 2.2l23 2.1l22.2 2.2l22.5 2.1l23.8 2.2l22.7 2.1l20 2.2l19.3 2.1l20.2 2.2l20.5 2.1l21.2 2.2l19.5 2.1l15.3 2.1l13.4 2.1l12.6 2.1l11.6 2.2l10.6 2.1l9.8 2.1l9.1 2.1l8.5 2.1l7.6 2l7 2.1l7.3 2.2l7.4 2.1l7.1 2.1l7.1 2.1l6.5 2.1l5.6 2l5.3 2.1l4.1 2.2l3.2 2.1l2.7 2.2l2.4 2.1l2.1 2.2l2 2.1l3.2 3.9l3 4l2.8 4.2l2.7 4.3l2.4 4.4l2.4 4.4l2.2 4.6l2 4.6l1.8 4.6l1.7 4.8l1.5 4.8l1.2 4.8l1.2 4.9l1 4.9l1 4.9l1 4.9l1.1 4.9l1.2 4.9l1.2 4.9l1.3 4.8l1.3 4.9l1.3 4.8l1.4 4.8l1.5 4.8l1.6 4.8l1.6 4.8l1.6 4.7l1.7 4.8l1.8 4.7l1.8 4.7l1.9 4.6l2 4.6l2.1 4.6l2.3 4.5l2.6 4.3l2.7 4.2l2.8 4.2l2.6 4.3l2.6 4.3l2.1 4.6l.6 5l.3 5l0 5l0 5l.3 5l.4 5l.4 5l.5 5l.4 5l.4 5l.3 5l.4 5l.3 5l.4 5l.3 5l.4 5l.3 5l.3 5l.3 5l.3 5l.3 5l.3 5l.3 5l.3 5l.3 5l.3 5l.2 5l.3 5l.2 5l.2 5l.2 5l.2 5l.1 1.9" marker-start="url(#w31)" marker-mid="url(#w31)" marker-end="url(#w31)"/>
<path d="M104 102.8l11.2 2.2l10.9 2.1l14 2.2l17.6 2.1l14.7 2.2l14.2 2.1l15.8 2.2l16.2 2.1l20.4 2.2l19.5 2.1l21.9 2.2l23 2.1l22.2 2.2l22.5 2.1l23.8 2.2l22.7 2.1l20 2.2l19.3 2.1l20.2 2.2l20.5 2.1l21.2 2.2l19.5 2.1l15.3 2.1l13.4 2.1l12.6 2.2l11.6 2.1l10.6 2.1l9.8 2.1l9.1 2.1l8.5 2.1l7.6 2.1l7 2.1l7.3 2.1l7.4 2.1l7.1 2.1l7.1 2.2l6.5 2l5.6 2l5.2 2.2l4.1 2.1l3.1 2.2l2.8 2.1l2.3 2.2l2.2 2.1l1.9 2.2l3.2 3.8l3 4.1l2.9 4.2l2.6 4.3l2.4 4.4l2.3 4.4l2.2 4.6l2.1 4.6l1.8 4.6l1.7 4.8l1.4 4.8l1.3 4.8l1.1 4.9l1 4.9l1 4.9l1.1 4.9l1 4.9l1.2 4.9l1.2 4.9l1.3 4.8l1.3 4.9l1.4 4.8l1.4 4.8l1.5 4.8l1.5 4.8l1.6 4.8l1.7 4.7l1.7 4.8l1.7 4.7l1.9 4.7l1.9 4.6l2 4.6l2.1 4.6l2.3 4.5l2.6 4.3l2.8 4.2l2.8 4.2l2.5 4.3l2.7 4.2l2.1 4.6l.6 5l.3 5l0 5l0 5.1l.4 5l.4 5l.4 5l.5 5l.4 5l.4 5l.3 5l.4 5l.3 5l.4 5l.3 5l.4 5l.3 5l.3 5l.3 5l.3 5l.3 5l.3 5l.3 5l.3 5l.3 5l.3 5l.2 5l.3 5l.2 5l.2 5l.2 5l.2 5l.1 1.8" marker-start="url(#w32)" marker-mid="url(#w32)" marker-end="url(#w32)"/>
<path d="M104 102.8l11.2 2.2l10.9 2.1l14 2.2l17.6 2.1l14.7 2.2l14.2 2.1l15.8 2.2l16.2 2.1l20.4 2.2l19.5 2.1l21.9 2.2l23 2.1l22.2 2.2l22.5 2.1l23.8 2.2l22.7 2.1l20 2.2l19.3 2.1l20.2 2.2l20.5 2.1l21.2 2.2l19.5 2.1l15.3 2.1l13.4 2.2l12.6 2.1l11.6 2.1l10.6 2.1l9.8 2.1l9.1 2.1l8.5 2.1l7.6 2.1l7 2.1l7.3 2.2l7.4 2.1l7.1 2.1l7.1 2.1l6.5 2.1l5.6 2l5.2 2.2l4 2.1l3.2 2.2l2.7 2.1l2.3 2.2l2.2 2.1l1.9 2.2l3.2 3.9l3 4l2.8 4.2l2.6 4.3l2.5 4.4l2.3 4.5l2.1 4.5l2 4.6l1.9 4.7l1.6 4.8l1.5 4.8l1.2 4.8l1.1 4.9l1.1 4.9l1 4.9l1 4.9l1.1 4.9l1.2 4.9l1.2 4.9l1.2 4.8l1.3 4.9l1.4 4.8l1.4 4.8l1.5 4.8l1.6 4.8l1.6 4.8l1.7 4.7l1.7 4.8l1.8 4.7l1.8 4.6l1.9 4.7l2.1 4.6l2.1 4.5l2.3 4.5l2.6 4.3l2.8 4.2l2.8 4.2l2.5 4.3l2.7 4.2l2.1 4.6l.6 5l.3 5l.1 5l0 5l.4 5l.4 5l.5 5l.4 5l.4 5l.4 5l.4 5l.3 5l.3 5l.4 5l.3 5l.4 5l.3 5l.3 5l.3 5l.3 5l.4 5l.3 5l.2 5l.3 5l.3 5l.3 5l.2 5l.3 5l.2 5l.2 5l.2 5l.2 5l.1 1.8" marker-start="url(#w33)" marker-mid="url(#w33)" marker-end="url(#w33)"/>
<path d="M104 102.8l11.2 2.2l10.9 2.1l14 2.2l17.6 2.1l14.7 2.2l14.2 2.1l15.8 2.2l16.2 2.1l20.3 2.2l19.6 2.1l21.8 2.2l23.1 2.1l22.2 2.2l22.4 2.1l23.8 2.2l22.7 2.1l20 2.2l19.3 2.1l20.2 2.2l20.5 2.1l21.2 2.2l19.5 2.1l15.3 2.1l13.4 2.2l12.6 2.1l11.5 2.1l10.6 2.1l9.8 2.1l9.2 2.1l8.4 2.1l7.7 2.1l7 2.1l7.2 2.2l7.4 2.1l7.1 2.1l7.2 2.1l6.5 2.1l5.6 2.1l5.1 2.1l4 2.2l3.1 2.1l2.7 2.2l2.3 2.1l2.2 2.2l1.9 2.1l3.2 3.9l3 4.1l2.8 4.2l2.6 4.3l2.4 4.4l2.3 4.4l2.1 4.6l2 4.6l1.9 4.7l1.6 4.7l1.4 4.8l1.3 4.9l1.1 4.9l1 4.9l1 4.9l1 4.9l1.1 4.9l1.2 4.9l1.2 4.8l1.3 4.9l1.3 4.8l1.3 4.9l1.5 4.8l1.5 4.8l1.5 4.8l1.6 4.7l1.7 4.8l1.7 4.7l1.8 4.7l1.8 4.7l2 4.6l2 4.6l2.1 4.6l2.3 4.5l2.6 4.3l2.8 4.2l2.8 4.2l2.5 4.3l2.7 4.2l2 4.6l.6 5l.4 5l.1 5l0 5l.4 5l.4 5l.5 5l.4 5l.4 5l.4 5l.4 5l.3 5l.4 5l.3 5l.3 5l.4 5l.3 5l.3 5l.3 5l.3 5l.3 5l.3 5l.3 5l.3 5l.3 5l.2 5l.3 5l.2 5l.2 5l.3 5l.2 5l.2 5l0 1.7" marker-start="url(#w34)" marker-mid="url(#w34)" marker-end="url(#w34)"/>
<path d="M104 102.8l11.2 2.2l10.9 2.1l14 2.2l17.6 2.1l14.7 2.2l14.2 2.1l15.8 2.2l16.2 2.1l20.4 2.2l19.5 2.1l21.9 2.2l23 2.1l22.2 2.2l22.4 2.1l23.8 2.2l22.7 2.1l20 2.2l19.4 2.1l20.1 2.2l20.5 2.1l21.2 2.2l19.5 2.1l15.3 2.1l13.4 2.2l12.6 2.1l11.5 2.1l10.7 2.1l9.7 2.1l9.2 2.2l8.4 2.1l7.7 2.1l7 2.1l7.2 2.1l7.4 2.2l7.2 2.1l7.1 2.1l6.5 2.1l5.6 2l5 2.2l4 2.1l3.1 2.2l2.6 2.1l2.4 2.2l2.1 2.1l1.9 2.2l3.2 3.9l3 4l2.8 4.2l2.5 4.3l2.5 4.4l2.2 4.5l2.2 4.5l2 4.6l1.8 4.7l1.7 4.8l1.4 4.8l1.2 4.8l1.1 4.9l1.1 4.9l.9 4.9l1.1 4.9l1 4.9l1.2 4.9l1.3 4.9l1.2 4.8l1.3 4.9l1.4 4.8l1.4 4.8l1.5 4.8l1.6 4.8l1.6 4.8l1.7 4.7l1.7 4.7l1.7 4.7l1.9 4.7l1.9 4.6l2.1 4.6l2.1 4.6l2.3 4.4l2.7 4.3l2.8 4.2l2.7 4.2l2.6 4.3l2.7 4.3l2 4.6l.7 5l.4 5l.1 5l.1 5l.4 5l.4 5l.4 5l.5 5l.4 5l.4 5l.3 5l.4 5l.3 5l.4 5l.3 5l.3 5l.4 5l.3 5l.3 5l.3 5l.3 5l.3 5l.3 5l.3 5l.2 5l.3 5l.2 5l.3 5l.2 5l.2 5l.2 5l.2 5l.1 1.7" marker-start="url(#w35)" marker-mid="url(#w35)" marker-end="url(#w35)"/>
<path d="M104 102.8l11.2 2.2l10.9 2.1l14 2.2l17.6 2.1l14.7 2.2l14.2 2.1l15.8 2.2l16.2 2.1l20.3 2.2l19.6 2.1l21.8 2.2l23.1 2.1l22.2 2.2l22.4 2.1l23.8 2.2l22.7 2.1l20 2.2l19.3 2.1l20.2 2.2l20.5 2.1l21.2 2.2l19.5 2.1l15.3 2.1l13.4 2.2l12.6 2.1l11.5 2.1l10.6 2.1l9.8 2.2l9.2 2.1l8.4 2.1l7.7 2.1l7 2.1l7.2 2.2l7.4 2.1l7.1 2.1l7.2 2.2l6.5 2l5.6 2.1l5 2.2l3.9 2.1l3.1 2.2l2.6 2.1l2.4 2.2l2.1 2.1l1.9 2.2l3.2 3.9l2.9 4l2.8 4.2l2.5 4.3l2.4 4.4l2.3 4.5l2.2 4.6l1.9 4.6l1.9 4.7l1.6 4.7l1.4 4.8l1.2 4.9l1.1 4.9l1.1 4.9l1 4.9l1 4.9l1.1 4.9l1.1 4.9l1.3 4.9l1.2 4.8l1.3 4.9l1.4 4.8l1.4 4.8l1.6 4.8l1.5 4.8l1.6 4.8l1.7 4.7l1.7 4.7l1.8 4.7l1.9 4.7l2 4.6l2 4.6l2.2 4.6l2.3 4.4l2.6 4.3l2.8 4.2l2.8 4.2l2.6 4.3l2.7 4.2l2 4.6l.7 5l.3 5l.2 5l.1 5l.4 5l.4 5l.5 5l.4 5l.4 5l.4 5l.4 5l.3 5l.4 5l.3 5l.3 5l.4 5l.3 5l.3 5l.3 5l.3 5l.3 5l.3 5l.3 5l.3 5l.3 5l.2 5l.3 5l.2 5l.3 5l.2 5l.2 5l.2 5l0 1.6" marker-start="url(#w36)" marker-mid="url(#w36)" marker-end="url(#w36)"/>
<path d="M104 102.8l11.2 2.2l10.9 2.1l14 2.2l17.6 2.1l14.7 2.2l14.2 2.1l15.8 2.2l16.2 2.1l20.4 2.2l19.5 2.1l21.9 2.2l23 2.1l22.2 2.2l22.5 2.1l23.7 2.2l22.7 2.1l20 2.2l19.4 2.1l20.2 2.2l20.4 2.1l21.2 2.2l19.6 2.1l15.2 2.2l13.5 2.1l12.5 2.1l11.6 2.1l10.6 2.2l9.8 2.1l9.1 2.1l8.5 2.1l7.6 2.1l7 2.2l7.3 2.1l7.4 2.2l7.1 2.1l7.1 2.1l6.6 2.1l5.6 2.1l4.9 2.1l3.9 2.2l3 2.1l2.6 2.2l2.4 2.1l2 2.2l2 2.1l3.1 3.9l3 4.1l2.7 4.2l2.6 4.3l2.4 4.4l2.3 4.5l2.1 4.6l2 4.6l1.8 4.7l1.6 4.7l1.4 4.9l1.2 4.8l1.1 4.9l1 4.9l1 5l1.1 4.9l1 4.9l1.2 4.9l1.3 4.8l1.3 4.9l1.3 4.8l1.3 4.9l1.5 4.8l1.5 4.8l1.6 4.7l1.6 4.8l1.7 4.7l1.7 4.7l1.8 4.7l1.9 4.7l2 4.6l2.1 4.6l2.1 4.6l2.4 4.4l2.6 4.3l2.9 4.1l2.8 4.2l2.6 4.3l2.7 4.3l2 4.6l.7 5l.4 5l.2 5l.2 5l.4 5l.4 5l.4 5l.5 5l.4 5l.4 5l.3 5l.4 5l.3 5l.4 5l.3 5l.3 5l.4 5l.3 5l.3 5l.3 5l.3 5l.3 5l.3 5l.3 5l.2 5l.3 5l.3 5l.2 5l.2 5l.2 5l.3 5l.2 5l0 1.5" marker-start="url(#w37)" marker-mid="url(#w37)" marker-end="url(#w37)"/>
<path d="M104 102.8l11.2 2.2l10.9 2.1l14 2.2l17.6 2.1l14.7 2.2l14.2 2.1l15.8 2.2l16.2 2.1l20.3 2.2l19.6 2.1l21.8 2.2l23.1 2.1l22.2 2.2l22.4 2.1l23.8 2.2l22.7 2.1l20 2.2l19.3 2.1l20.2 2.2l20.5 2.1l21.2 2.2l19.5 2.1l15.2 2.2l13.5 2.1l12.6 2.1l11.5 2.2l10.6 2.1l9.8 2.1l9.1 2.1l8.5 2.2l7.7 2.1l7 2.1l7.2 2.1l7.4 2.2l7.1 2.1l7.2 2.2l6.5 2.1l5.6 2.1l4.9 2.1l3.8 2.2l3.1 2.1l2.6 2.2l2.3 2.1l2 2.2l2 2.1l3.1 3.9l2.9 4.1l2.8 4.2l2.5 4.4l2.4 4.4l2.3 4.5l2.1 4.5l2 4.7l1.8 4.7l1.6 4.7l1.4 4.9l1.2 4.9l1.1 4.9l1 4.9l1 4.9l1 4.9l1.1 4.9l1.2 4.9l1.2 4.9l1.3 4.8l1.3 4.9l1.4 4.8l1.5 4.8l1.5 4.8l1.6 4.8l1.6 4.7l1.7 4.8l1.7 4.7l1.8 4.7l1.9 4.6l2 4.6l2.1 4.6l2.1 4.6l2.4 4.4l2.7 4.3l2.8 4.1l2.8 4.2l2.6 4.3l2.7 4.3l2 4.6l.7 5l.4 5l.2 5l.2 5l.4 5l.4 5l.5 5l.4 5l.4 5l.4 5l.4 5l.3 5l.3 5l.4 5l.3 5l.4 5l.3 5l.3 5l.3 5l.3 5l.3 5l.3 5l.3 5l.3 5l.2 5l.3 5l.3 5l.2 5l.2 5l.2 5l.3 5l.1 5l.1 1.3" marker-start="url(#w38)" marker-mid="url(#w38)" marker-end="url(#w38)"/>
<path d="M104 102.8l11.2 2.2l10.9 2.1l14 2.2l17.6 2.1l14.7 2.2l14.2 2.1l15.8 2.2l16.2 2.1l20.4 2.2l19.5 2.1l21.9 2.2l23 2.1l22.2 2.2l22.5 2.1l23.7 2.2l22.7 2.1l20 2.2l19.4 2.1l20.2 2.2l20.4 2.1l21.2 2.2l19.6 2.1l15.2 2.2l13.5 2.1l12.5 2.1l11.6 2.2l10.6 2.1l9.8 2.1l9.1 2.2l8.5 2.1l7.6 2.1l7.1 2.2l7.2 2.1l7.4 2.1l7.1 2.2l7.1 2.1l6.6 2.1l5.6 2.1l4.8 2.2l3.8 2.1l3 2.2l2.6 2.1l2.3 2.2l2 2.1l1.9 2.2l3.2 3.9l2.9 4.1l2.7 4.2l2.6 4.4l2.4 4.4l2.2 4.5l2.1 4.5l2 4.7l1.8 4.7l1.6 4.7l1.4 4.9l1.2 4.9l1.1 4.9l1 4.9l1 4.9l1 4.9l1.1 4.9l1.2 4.9l1.3 4.9l1.2 4.8l1.4 4.9l1.3 4.8l1.5 4.8l1.5 4.8l1.6 4.8l1.7 4.7l1.7 4.8l1.7 4.7l1.9 4.7l1.9 4.6l1.9 4.6l2.1 4.6l2.2 4.5l2.4 4.5l2.7 4.2l2.9 4.2l2.8 4.2l2.6 4.3l2.7 4.2l2 4.6l.7 4.9l.5 5l.2 5l.3 5l.4 5l.4 5l.4 5l.5 5l.4 5l.4 5l.3 5l.4 5l.3 5l.4 5l.3 5l.3 5l.4 5l.3 5l.3 5l.3 5l.3 5l.3 5l.3 5l.3 5l.3 5l.2 5l.3 5l.2 5l.2 5l.3 5l.2 5l.2 5l0 1.4" marker-start="url(#w39)" marker-mid="url(#w39)" marker-end="url(#w39)"/>
<path d="M104 102.8l11.2 2.2l10.9 2.1l14 2.2l17.6 2.1l14.7 2.2l14.2 2.1l15.8 2.2l16.2 2.1l20.4 2.2l19.5 2.1l21.9 2.2l23 2.1l22.2 2.2l22.5 2.1l23.7 2.2l22.8 2.1l20 2.2l19.3 2.1l20.2 2.2l20.5 2.1l21.2 2.2l19.5 2.1l15.2 2.2l13.5 2.1l12.6 2.2l11.5 2.1l10.6 2.1l9.8 2.2l9.2 2.1l8.4 2.1l7.7 2.2l7 2.1l7.2 2.2l7.4 2.1l7.2 2.1l7.1 2.2l6.5 2.1l5.6 2.1l4.9 2.2l3.7 2.1l3 2.2l2.5 2.1l2.3 2.2l2 2.1l1.9 2.2l3.2 3.9l2.9 4.1l2.7 4.3l2.5 4.3l2.4 4.5l2.3 4.5l2.1 4.5l1.9 4.7l1.8 4.7l1.6 4.7l1.3 4.9l1.3 4.9l1 4.9l1.1 4.9l1 4.9l1 4.9l1.1 4.9l1.2 4.9l1.2 4.9l1.3 4.8l1.3 4.9l1.4 4.8l1.5 4.8l1.6 4.8l1.6 4.8l1.6 4.7l1.7 4.8l1.8 4.7l1.8 4.7l2 4.6l2 4.6l2 4.6l2.2 4.5l2.4 4.4l2.8 4.2l2.8 4.2l2.8 4.1l2.7 4.3l2.7 4.2l2 4.6l.7 5l.5 5l.3 5l.3 5l.4 5l.4 5l.5 5l.4 5l.4 5l.4 5l.3 5l.4 5l.3 5l.4 5l.3 5l.3 5l.4 5l.3 5l.3 5l.3 5l.3 5l.3 5l.3 5l.3 5l.3 5l.2 5l.3 5l.2 5l.3 5l.2 5l.2 5l.2 5l0 1.3" marker-start="url(#w40)" marker-mid="url(#w40)" marker-end="url(#w40)"/>
<path d="M104 102.8l11.2 2.2l10.9 2.1l14 2.2l17.6 2.1l14.7 2.2l14.2 2.1l15.8 2.2l16.2 2.1l20.4 2.2l19.5 2.1l21.9 2.2l23 2.1l22.2 2.2l22.5 2.1l23.7 2.2l22.8 2.1l20 2.2l19.3 2.1l20.2 2.2l20.5 2.1l21.2 2.2l19.5 2.1l15.2 2.2l13.5 2.1l12.6 2.2l11.5 2.1l10.6 2.1l9.8 2.2l9.2 2.1l8.4 2.2l7.7 2.1l7 2.1l7.2 2.2l7.4 2.1l7.2 2.2l7.1 2.1l6.5 2.2l5.6 2.1l4.8 2.1l3.7 2.2l2.9 2.1l2.6 2.2l2.2 2.1l2.1 2.2l1.8 2.1l3.2 4l2.9 4.1l2.7 4.2l2.5 4.4l2.4 4.4l2.2 4.5l2.1 4.6l2 4.6l1.7 4.7l1.6 4.8l1.4 4.8l1.2 4.9l1 4.9l1 4.9l1 5l1.1 4.9l1.1 4.9l1.2 4.9l1.2 4.8l1.3 4.9l1.3 4.8l1.4 4.9l1.5 4.8l1.6 4.8l1.6 4.7l1.6 4.8l1.8 4.7l1.7 4.7l1.9 4.7l1.9 4.6l2 4.6l2.1 4.6l2.2 4.5l2.4 4.4l2.8 4.2l2.8 4.2l2.9 4.1l2.6 4.3l2.8 4.2l2 4.6l.7 4.9l.5 5l.4 5l.3 5l.4 5l.4 5l.4 5l.5 5l.4 5l.4 5l.3 5l.4 5l.3 5l.4 5l.3 5l.3 5l.4 5l.3 5l.3 5l.3 5l.3 5l.3 5l.3 5l.3 5l.3 5l.2 5l.3 5l.2 5l.2 5l.3 5l.2 5l.2 5l0 1.4" marker-start="url(#w41)" marker-mid="url(#w41)" marker-end="url(#w41)"/>
<path d="M104 102.8l11.2 2.2l10.9 2.1l14 2.2l17.6 2.1l14.7 2.2l14.2 2.1l15.8 2.2l16.2 2.1l20.4 2.2l19.5 2.1l21.9 2.2l23 2.1l22.2 2.2l22.5 2.1l23.8 2.2l19.2 3.2l20 2.1l19.3 2.2l20.2 2.1l20.5 2.2l21.2 2.1l19.5 2.1l15.3 2.1l13.4 2.1l12.6 2.1l11.6 2.1l10.6 2l9.8 2.1l9.1 2.1l8.5 2.1l7.6 2l7 2.1l7.3 2.2l7.4 2.2l7.1 2.1l7.1 2.1l6.5 2l5.6 2l5.5 .8l4.3 2.1l3.3 2.2l2.8 2.1l2.4 2.2l2.1 2.1l2 2.2l3.2 3.9l2.9 4l2.8 4.2l2.6 4.3l2.4 4.4l2.3 4.5l2.1 4.6l2 4.6l1.8 4.7l1.6 4.7l1.5 4.8l1.2 4.9l1.1 4.9l1 4.9l1 4.9l1 4.9l1.1 4.9l1.2 4.9l1.2 4.9l1.3 4.8l1.3 4.9l1.4 4.8l1.5 4.8l1.5 4.8l1.6 4.8l1.6 4.7l1.7 4.8l1.8 4.7l1.8 4.7l1.9 4.6l2 4.6l2.1 4.6l2.2 4.5l2.3 4.5l2.7 4.2l2.8 4.2l2.9 4.1l2.7 4.3l2.8 4.2l2.4 4.4l1.1 4.9l.6 5l.5 5l.3 5l.4 5l.4 5l.4 5l.5 5l.4 5l.4 5l.4 5l.3 5l.4 5l.3 5l.3 5l.4 5l.3 5l.3 5l.4 5l.3 5l.3 5l.3 5l.3 5l.2 5l.3 5l.3 5l.2 5l.3 5l.2 5l.3 5l.2 5l.2 5l.1 3.1" marker-start="url(#w42)" marker-mid="url(#w42)" marker-end="url(#w42)"/>
<path d="M104 102.8l11.2 2.2l10.9 2.1l14 2.2l17.6 2.1l14.7 2.2l14.2 2.1l15.8 2.2l16.2 2.1l20.4 2.2l19.5 2.1l21.9 2.2l23 2.1l22.2 2.2l22.5 2.1l23.8 2.2l22.7 2.1l20 2.2l19.3 2.1l20.2 2.2l20.5 2.1l21.2 2.2l19.5 2.1l15.3 2.2l13.4 2.1l12.6 2.2l11.6 2.1l10.6 2.2l9.8 2.1l9.1 2.2l8.5 2.1l7.6 2.2l7 2.1l7.3 2.2l7.4 2.1l7.1 2.2l7.1 2.1l6.5 2.2l5.6 2.1l4.7 2.2l3.6 2.1l2.9 2.2l2.6 2.1l2.2 2.2l2 2.1l1.9 2.2l1.4 1.7l1.3 1.8l1.3 1.8l1.3 1.8l1.2 1.9l1.3 1.9l1.1 1.9l1.1 1.9l1.1 1.9l1.1 2l1 1.9l1 2l1 2l.9 2l1 2.1l.9 2l.8 2.1l.9 2l.8 2.1l.7 2.1l.8 2.1l.6 2.1l.7 2.2l.6 2.1l.6 2.2l.5 2.1l.5 2.2l.5 2.1l.5 2.2l.4 2.2l.5 2.2l.4 2.2l.5 2.2l.4 2.2l.5 2.2l.4 2.2l.5 2.2l.5 2.1l.5 2.2l.5 2.1l.6 2.2l.5 2.1l.6 2.2l.6 2.1l.5 2.2l.6 2.1l.6 2.2l.6 2.1l.7 2.2l.6 2.1l.7 2.2l.6 2.1l.7 2.1l.7 2.1l.7 2.1l.7 2.1l.8 2.1l.7 2.1l.8 2.1l.7 2.1l.8 2.1l.8 2.1l.8 2.1l.8 2l.8 2.1l.9 2l.8 2.1l.9 2l.9 2.1l.9 2l1 2l.9 2l1 2l1 2l1 2l1.1 2l1.1 1.9l1.2 1.8l1.3 1.9l1.3 1.8l1.2 1.8l1.3 1.9l1.3 1.8l1.2 1.9l1.2 1.9l1.2 1.9l1.3 1.8l1.2 1.9l1 1.9l.8 2.1l.5 2.2l.3 2.2l.3 2.2l.3 2.2l.2 2.2l.2 2.2l.2 2.2l.1 2.2l.2 2.2l.1 2.2l.2 2.2l.2 2.2l.2 2.2l.2 2.2l.2 2.2l.2 2.2l.2 2.2l.1 2.2l.2 2.2l.2 2.2l.2 2.2l.2 2.2l.1 2.2l.2 2.2l.2 2.2l.1 2.2l.2 2.2l.1 2.2l.2 2.2l.1 2.2l.2 2.2l.1 2.2l.2 2.2l.1 2.2l.2 2.2l.1 2.2l.2 2.2l.1 2.2l.1 2.2l.2 2.2l.1 2.2l.2 2.2l.1 2.2l.1 2.2l.2 2.2l.1 2.2l.2 2.2l.1 2.2l.1 2.2l.2 2.2l.1 2.2l.1 2.2l.1 2.2l.2 2.2l.1 2.2l.1 2.2l.1 2.2l.1 2.2l.2 2.2l.1 2.2l.1 2.2l.1 2.2l.1 2.2l.1 2.2l.1 2.2l.1 2.2l.1 2.2l.1 2.2l.1 2.2l.1 2.2l.1 2.2l.1 2.2l.1 2.2l0 1.2" marker-start="url(#w43)" marker-mid="url(#w43)" marker-end="url(#w43)"/>
<circle cx="126.1" cy="107.1" r="7.3" fill="#fff" stroke="#808000" stroke-width="2.3"/>
<circle cx="140.1" cy="109.3" r="7.3" fill="#fff" stroke="#808000" stroke-width="2.3"/>
<circle cx="157.7" cy="111.4" r="7.9" fill="#fff" stroke="#808000" stroke-width="2.3"/>
<circle cx="172.4" cy="113.6" r="7.9" fill="#fff" stroke="#808000" stroke-width="2.3"/>
<circle cx="186.6" cy="115.7" r="7.9" fill="#fff" stroke="#808000" stroke-width="2.3"/>
<circle cx="202.4" cy="117.9" r="7.9" fill="#fff" stroke="#808000" stroke-width="2.3"/>
<circle cx="218.6" cy="120.0" r="7.9" fill="#fff" stroke="#808000" stroke-width="2.3"/>
<circle cx="239.0" cy="122.2" r="7.9" fill="#fff" stroke="#808000" stroke-width="2.3"/>
<circle cx="258.5" cy="124.3" r="8.3" fill="#fff" stroke="#808000" stroke-width="2.3"/>
<circle cx="280.4" cy="126.5" r="8.3" fill="#fff" stroke="#808000" stroke-width="2.3"/>
<circle cx="303.4" cy="128.6" r="8.3" fill="#fff" stroke="#808000" stroke-width="2.3"/>
<circle cx="325.6" cy="130.8" r="8.3" fill="#fff" stroke="#808000" stroke-width="2.3"/>
<circle cx="348.1" cy="132.9" r="8.3" fill="#fff" stroke="#808000" stroke-width="2.3"/>
<circle cx="371.9" cy="135.1" r="8.3" fill="#fff" stroke="#808000" stroke-width="2.3"/>
<circle cx="394.6" cy="137.2" r="8.3" fill="#fff" stroke="#808000" stroke-width="2.3"/>
<circle cx="414.6" cy="139.4" r="8.3" fill="#fff" stroke="#808000" stroke-width="2.3"/>
<circle cx="433.9" cy="141.5" r="7.9" fill="#fff" stroke="#808000" stroke-width="2.3"/>
<circle cx="454.1" cy="143.7" r="7.9" fill="#fff" stroke="#808000" stroke-width="2.3"/>
<circle cx="474.6" cy="145.8" r="7.9" fill="#fff" stroke="#808000" stroke-width="2.3"/>
<circle cx="495.8" cy="148.0" r="7.9" fill="#fff" stroke="#808000" stroke-width="2.3"/>
<circle cx="515.3" cy="150.1" r="7.9" fill="#fff" stroke="#808000" stroke-width="2.3"/>
<circle cx="530.6" cy="152.3" r="7.3" fill="#fff" stroke="#808000" stroke-width="2.3"/>
<circle cx="544.0" cy="154.4" r="7.3" fill="#fff" stroke="#808000" stroke-width="2.3"/>
<circle cx="556.6" cy="156.6" r="7.3" fill="#fff" stroke="#808000" stroke-width="2.3"/>
<circle cx="568.2" cy="158.7" r="7.3" fill="#fff" stroke="#808000" stroke-width="2.3"/>
</g>
<g font-family="'Liberation Serif',serif" font-size="30" fill="#000">
<text x="80.3" y="27.4" text-anchor="end">4.5</text>
<text x="80.3" y="132.7" text-anchor="end">4.0</text>
<text x="80.3" y="238.0" text-anchor="end">3.5</text>
<text x="80.3" y="343.3" text-anchor="end">3.0</text>
<text x="80.3" y="448.6" text-anchor="end">2.5</text>
<text x="80.3" y="553.9" text-anchor="end">2.0</text>
<text x="106.5" y="591.1" text-anchor="middle">0</text>
<text x="187.7" y="591.1" text-anchor="middle">10</text>
<text x="268.9" y="591.1" text-anchor="middle">20</text>
<text x="350.2" y="591.1" text-anchor="middle">30</text>
<text x="431.4" y="591.1" text-anchor="middle">40</text>
<text x="512.6" y="591.1" text-anchor="middle">50</text>
<text x="593.8" y="591.1" text-anchor="middle">60</text>
<text x="675.0" y="591.1" text-anchor="middle">70</text>
<text x="756.3" y="591.1" text-anchor="middle">80</text>
<text x="837.5" y="591.1" text-anchor="middle">90</text>
</g>
<g font-family="'Liberation Sans',sans-serif" font-size="23" fill="#000">
<text x="123" y="50" font-size="26.5">(a)</text>
<text x="341" y="622.3">Capacity, mAh-g<tspan font-size="15.5" dy="5">oxide</tspan><tspan font-size="14.5" dy="-11.5" dx="2">-1</tspan></text>
<text transform="translate(21.6 385.5) rotate(-90)">Voltage vs. Li/Li<tspan font-size="15" dy="-7">+</tspan><tspan dy="7">, V</tspan></text>
<text x="343.5" y="249.5" text-anchor="end">Cycle Number</text>
<text x="343.5" y="281.3" text-anchor="end">Increases</text>
<text x="178.5" y="333" font-size="22.5">Knee</text>
<text x="670" y="328" text-anchor="end">Cycle Number</text>
<text x="670" y="359" text-anchor="end">Increases</text>
<text x="766" y="354" font-size="22.5">Knee</text>
<text x="717.3" y="71.4" text-anchor="middle">1</text>
<text x="773.2" y="67" text-anchor="middle">100</text>
<text x="682.5" y="529" text-anchor="middle">1</text>
<text x="797" y="508.4">100</text>
</g>
<g fill="none" stroke="#222" stroke-width="1.3">
<ellipse cx="133.5" cy="309" rx="42.7" ry="36.7"/>
<ellipse cx="729.5" cy="389.8" rx="49" ry="43"/>
</g>
<path d="M131.8 139.0L186.9 254.4M175.9 247.4L186.9 254.4M188.4 241.5L186.9 254.4" stroke="#4a7ebb" stroke-width="1.85" fill="none" stroke-linecap="round" stroke-linejoin="round"/>
<path d="M670.0 335.5L750.0 297.8M743.5 307.9L750.0 297.8M738.1 296.4L750.0 297.8" stroke="#4a7ebb" stroke-width="1.85" fill="none" stroke-linecap="round" stroke-linejoin="round"/>
<path d="M716.8 70.0L716.8 93.6M712.0 86.0L716.8 93.6M721.6 86.0L716.8 93.6" stroke="#4a7ebb" stroke-width="1.85" fill="none" stroke-linecap="round" stroke-linejoin="round"/>
<path d="M773.6 67.5L773.6 89.5M768.8 81.9L773.6 89.5M778.4 81.9L773.6 89.5" stroke="#4a7ebb" stroke-width="1.85" fill="none" stroke-linecap="round" stroke-linejoin="round"/>
<path d="M711.4 520.8L694.0 520.8M700.4 516.8L694.0 520.8M700.4 524.8L694.0 520.8" stroke="#4a7ebb" stroke-width="1.85" fill="none" stroke-linecap="round" stroke-linejoin="round"/>
<path d="M775.7 499.3L793.5 499.3M787.1 503.3L793.5 499.3M787.1 495.3L793.5 499.3" stroke="#4a7ebb" stroke-width="1.85" fill="none" stroke-linecap="round" stroke-linejoin="round"/>
<g>
<rect x="120.4" y="475.2" width="365.4" height="68" fill="#fff" stroke="none"/>
<g stroke="#000" stroke-width="1.7" fill="none">
<path d="M120.4 543V475.2H485.8V543"/>
<path d="M120.4 508.9H485.8"/>
<path d="M230.8 475.2V543"/>
<path d="M295.0 475.2V543"/>
<path d="M358.6 475.2V543"/>
<path d="M422.0 475.2V543"/>
</g>
<g font-family="'Liberation Sans',sans-serif" font-size="23" fill="#000" text-anchor="middle">
<text x="175.6" y="502">Cycle No.</text>
<text x="262.9" y="502">1</text>
<text x="326.8" y="502">10</text>
<text x="390.3" y="502">50</text>
<text x="453.9" y="502">100</text>
<text x="175.6" y="536">CE %</text>
<text x="262.9" y="536">99.9</text>
<text x="326.8" y="536">99.4</text>
<text x="390.3" y="536">99.7</text>
<text x="453.9" y="536">99.6</text>
</g></g>
<g fill="none">
<polyline points="152.6,748.8 158.4,857.4 164.1,868.9 169.9,876.7 175.7,882.5 181.5,887.8 187.2,891.7 193.0,895.6 198.8,898.8 204.6,901.9 210.3,905.2 216.1,907.3 221.9,910.1 227.7,912.7 233.4,916.1 239.2,918.3 245.0,920.4 250.8,922.8 256.5,924.1 262.3,926.5 268.1,929.0 273.9,930.8 279.6,932.8 285.4,933.9 291.2,935.5 297.0,936.6 302.7,937.6 308.5,940.8 314.3,943.8 320.1,947.5 325.8,950.7 331.6,953.1 337.4,956.1 343.2,957.8 348.9,959.6 354.7,961.4 360.5,962.0 366.2,963.0 372.0,963.4 377.8,964.8 383.6,966.6 389.4,967.2 395.1,968.9 400.9,970.1 406.7,968.5 412.5,969.3 418.2,970.0 424.0,970.4 429.8,971.7 435.6,971.6 441.3,971.9 447.1,972.6 452.9,973.2 458.7,973.8 464.4,974.3 470.2,975.8 476.0,975.8 481.8,977.2 487.5,977.5 493.3,977.9 499.1,977.8 504.9,977.8 510.6,978.5 516.4,978.1 522.2,979.0 528.0,979.0 533.7,979.7 539.5,980.9 545.3,981.2 551.0,982.1 556.8,983.0 562.6,982.9 568.4,983.7 574.2,983.7 579.9,984.6 585.7,985.0 591.5,985.6 597.2,986.2 603.0,987.3 608.8,987.4 614.6,988.3 620.4,988.2 626.1,988.6 631.9,989.5 637.7,989.7 643.5,989.8 649.2,990.7 655.0,991.4 660.8,992.5 666.5,992.1 672.3,992.6 678.1,993.0 683.9,993.5 689.7,993.4 695.4,994.1 701.2,994.3 707.0,994.4 712.8,995.3 718.5,995.5 724.3,995.7" stroke="#000" stroke-width="1.1"/>
<path d="M147.4 743.6l10.4 10.4m0-10.4l-10.4 10.4M153.2 852.2l10.4 10.4m0-10.4l-10.4 10.4M158.9 863.7l10.4 10.4m0-10.4l-10.4 10.4M164.7 871.5l10.4 10.4m0-10.4l-10.4 10.4M170.5 877.3l10.4 10.4m0-10.4l-10.4 10.4M176.3 882.6l10.4 10.4m0-10.4l-10.4 10.4M182.0 886.5l10.4 10.4m0-10.4l-10.4 10.4M187.8 890.4l10.4 10.4m0-10.4l-10.4 10.4M193.6 893.6l10.4 10.4m0-10.4l-10.4 10.4M199.4 896.7l10.4 10.4m0-10.4l-10.4 10.4M205.1 900.0l10.4 10.4m0-10.4l-10.4 10.4M210.9 902.1l10.4 10.4m0-10.4l-10.4 10.4M216.7 904.9l10.4 10.4m0-10.4l-10.4 10.4M222.5 907.5l10.4 10.4m0-10.4l-10.4 10.4M228.2 910.9l10.4 10.4m0-10.4l-10.4 10.4M234.0 913.1l10.4 10.4m0-10.4l-10.4 10.4M239.8 915.2l10.4 10.4m0-10.4l-10.4 10.4M245.6 917.6l10.4 10.4m0-10.4l-10.4 10.4M251.3 918.9l10.4 10.4m0-10.4l-10.4 10.4M257.1 921.3l10.4 10.4m0-10.4l-10.4 10.4M262.9 923.8l10.4 10.4m0-10.4l-10.4 10.4M268.7 925.6l10.4 10.4m0-10.4l-10.4 10.4M274.4 927.6l10.4 10.4m0-10.4l-10.4 10.4M280.2 928.7l10.4 10.4m0-10.4l-10.4 10.4M286.0 930.3l10.4 10.4m0-10.4l-10.4 10.4M291.8 931.4l10.4 10.4m0-10.4l-10.4 10.4M297.5 932.4l10.4 10.4m0-10.4l-10.4 10.4M303.3 935.6l10.4 10.4m0-10.4l-10.4 10.4M309.1 938.6l10.4 10.4m0-10.4l-10.4 10.4M314.9 942.3l10.4 10.4m0-10.4l-10.4 10.4M320.6 945.5l10.4 10.4m0-10.4l-10.4 10.4M326.4 947.9l10.4 10.4m0-10.4l-10.4 10.4M332.2 950.9l10.4 10.4m0-10.4l-10.4 10.4M338.0 952.6l10.4 10.4m0-10.4l-10.4 10.4M343.7 954.4l10.4 10.4m0-10.4l-10.4 10.4M349.5 956.2l10.4 10.4m0-10.4l-10.4 10.4M355.3 956.8l10.4 10.4m0-10.4l-10.4 10.4M361.1 957.8l10.4 10.4m0-10.4l-10.4 10.4M366.8 958.2l10.4 10.4m0-10.4l-10.4 10.4M372.6 959.6l10.4 10.4m0-10.4l-10.4 10.4M378.4 961.4l10.4 10.4m0-10.4l-10.4 10.4M384.2 962.0l10.4 10.4m0-10.4l-10.4 10.4M389.9 963.7l10.4 10.4m0-10.4l-10.4 10.4M395.7 964.9l10.4 10.4m0-10.4l-10.4 10.4M401.5 963.3l10.4 10.4m0-10.4l-10.4 10.4M407.3 964.1l10.4 10.4m0-10.4l-10.4 10.4M413.0 964.8l10.4 10.4m0-10.4l-10.4 10.4M418.8 965.2l10.4 10.4m0-10.4l-10.4 10.4M424.6 966.5l10.4 10.4m0-10.4l-10.4 10.4M430.4 966.4l10.4 10.4m0-10.4l-10.4 10.4M436.1 966.7l10.4 10.4m0-10.4l-10.4 10.4M441.9 967.4l10.4 10.4m0-10.4l-10.4 10.4M447.7 968.0l10.4 10.4m0-10.4l-10.4 10.4M453.5 968.6l10.4 10.4m0-10.4l-10.4 10.4M459.2 969.1l10.4 10.4m0-10.4l-10.4 10.4M465.0 970.6l10.4 10.4m0-10.4l-10.4 10.4M470.8 970.6l10.4 10.4m0-10.4l-10.4 10.4M476.6 972.0l10.4 10.4m0-10.4l-10.4 10.4M482.3 972.3l10.4 10.4m0-10.4l-10.4 10.4M488.1 972.7l10.4 10.4m0-10.4l-10.4 10.4M493.9 972.6l10.4 10.4m0-10.4l-10.4 10.4M499.7 972.6l10.4 10.4m0-10.4l-10.4 10.4M505.4 973.3l10.4 10.4m0-10.4l-10.4 10.4M511.2 972.9l10.4 10.4m0-10.4l-10.4 10.4M517.0 973.8l10.4 10.4m0-10.4l-10.4 10.4M522.8 973.8l10.4 10.4m0-10.4l-10.4 10.4M528.5 974.5l10.4 10.4m0-10.4l-10.4 10.4M534.3 975.7l10.4 10.4m0-10.4l-10.4 10.4M540.1 976.0l10.4 10.4m0-10.4l-10.4 10.4M545.8 976.9l10.4 10.4m0-10.4l-10.4 10.4M551.6 977.8l10.4 10.4m0-10.4l-10.4 10.4M557.4 977.7l10.4 10.4m0-10.4l-10.4 10.4M563.2 978.5l10.4 10.4m0-10.4l-10.4 10.4M569.0 978.5l10.4 10.4m0-10.4l-10.4 10.4M574.7 979.4l10.4 10.4m0-10.4l-10.4 10.4M580.5 979.8l10.4 10.4m0-10.4l-10.4 10.4M586.3 980.4l10.4 10.4m0-10.4l-10.4 10.4M592.0 981.0l10.4 10.4m0-10.4l-10.4 10.4M597.8 982.1l10.4 10.4m0-10.4l-10.4 10.4M603.6 982.2l10.4 10.4m0-10.4l-10.4 10.4M609.4 983.1l10.4 10.4m0-10.4l-10.4 10.4M615.1 983.0l10.4 10.4m0-10.4l-10.4 10.4M620.9 983.4l10.4 10.4m0-10.4l-10.4 10.4M626.7 984.3l10.4 10.4m0-10.4l-10.4 10.4M632.5 984.5l10.4 10.4m0-10.4l-10.4 10.4M638.2 984.6l10.4 10.4m0-10.4l-10.4 10.4M644.0 985.5l10.4 10.4m0-10.4l-10.4 10.4M649.8 986.2l10.4 10.4m0-10.4l-10.4 10.4M655.6 987.3l10.4 10.4m0-10.4l-10.4 10.4M661.3 986.9l10.4 10.4m0-10.4l-10.4 10.4M667.1 987.4l10.4 10.4m0-10.4l-10.4 10.4M672.9 987.8l10.4 10.4m0-10.4l-10.4 10.4M678.7 988.3l10.4 10.4m0-10.4l-10.4 10.4M684.5 988.2l10.4 10.4m0-10.4l-10.4 10.4M690.2 988.9l10.4 10.4m0-10.4l-10.4 10.4M696.0 989.1l10.4 10.4m0-10.4l-10.4 10.4M701.8 989.2l10.4 10.4m0-10.4l-10.4 10.4M707.5 990.1l10.4 10.4m0-10.4l-10.4 10.4M713.3 990.3l10.4 10.4m0-10.4l-10.4 10.4M719.1 990.5l10.4 10.4m0-10.4l-10.4 10.4" stroke="#000" stroke-width="1.55"/>
<polyline points="152.6,1023.0 158.4,1029.3 164.1,1033.5 169.9,1036.2 175.7,1039.3 181.5,1042.0 187.2,1044.3 193.0,1046.6 198.8,1048.4 204.6,1050.3 210.3,1051.9 216.1,1053.8 221.9,1055.5 227.7,1057.3 233.4,1059.2 239.2,1060.8 245.0,1062.7 250.8,1063.9 256.5,1065.7 262.3,1067.6 268.1,1069.2 273.9,1070.5 279.6,1071.9 285.4,1073.7 291.2,1074.4 297.0,1076.3 302.7,1077.5 308.5,1079.5 314.3,1080.4 320.1,1082.2 325.8,1083.6 331.6,1084.5 337.4,1085.8 343.2,1087.6 348.9,1088.5 354.7,1089.3 360.5,1090.2 366.2,1091.7 372.0,1093.1 377.8,1094.3 383.6,1095.3 389.4,1095.7 395.1,1096.8 400.9,1097.2 406.7,1098.0 412.5,1098.5 418.2,1099.5 424.0,1099.9 429.8,1100.9 435.6,1101.6 441.3,1102.2 447.1,1103.5 452.9,1103.8 458.7,1104.6 464.4,1105.5 470.2,1106.0 476.0,1107.1 481.8,1107.4 487.5,1108.1 493.3,1109.0 499.1,1109.0 504.9,1110.0 510.6,1110.7 516.4,1111.4 522.2,1111.8 528.0,1112.6 533.7,1112.7 539.5,1113.7 545.3,1114.1 551.0,1114.7 556.8,1115.0 562.6,1115.6 568.4,1115.9 574.2,1116.6 579.9,1116.9 585.7,1117.6 591.5,1118.2 597.2,1118.4 603.0,1118.8 608.8,1119.5 614.6,1120.2 620.4,1120.5 626.1,1121.4 631.9,1121.5 637.7,1122.0 643.5,1121.9 649.2,1122.9 655.0,1123.6 660.8,1123.5 666.5,1124.2 672.3,1124.5 678.1,1124.8 683.9,1125.1 689.7,1125.5 695.4,1125.5 701.2,1125.9 707.0,1126.5 712.8,1126.7 718.5,1127.2 724.3,1127.3" stroke="#1c1cf0" stroke-width="1.2"/>
<path d="M147.4 1017.8l10.4 10.4m0-10.4l-10.4 10.4M153.2 1024.1l10.4 10.4m0-10.4l-10.4 10.4M158.9 1028.3l10.4 10.4m0-10.4l-10.4 10.4M164.7 1031.0l10.4 10.4m0-10.4l-10.4 10.4M170.5 1034.1l10.4 10.4m0-10.4l-10.4 10.4M176.3 1036.8l10.4 10.4m0-10.4l-10.4 10.4M182.0 1039.1l10.4 10.4m0-10.4l-10.4 10.4M187.8 1041.4l10.4 10.4m0-10.4l-10.4 10.4M193.6 1043.2l10.4 10.4m0-10.4l-10.4 10.4M199.4 1045.1l10.4 10.4m0-10.4l-10.4 10.4M205.1 1046.7l10.4 10.4m0-10.4l-10.4 10.4M210.9 1048.6l10.4 10.4m0-10.4l-10.4 10.4M216.7 1050.3l10.4 10.4m0-10.4l-10.4 10.4M222.5 1052.1l10.4 10.4m0-10.4l-10.4 10.4M228.2 1054.0l10.4 10.4m0-10.4l-10.4 10.4M234.0 1055.6l10.4 10.4m0-10.4l-10.4 10.4M239.8 1057.5l10.4 10.4m0-10.4l-10.4 10.4M245.6 1058.7l10.4 10.4m0-10.4l-10.4 10.4M251.3 1060.5l10.4 10.4m0-10.4l-10.4 10.4M257.1 1062.4l10.4 10.4m0-10.4l-10.4 10.4M262.9 1064.0l10.4 10.4m0-10.4l-10.4 10.4M268.7 1065.3l10.4 10.4m0-10.4l-10.4 10.4M274.4 1066.7l10.4 10.4m0-10.4l-10.4 10.4M280.2 1068.5l10.4 10.4m0-10.4l-10.4 10.4M286.0 1069.2l10.4 10.4m0-10.4l-10.4 10.4M291.8 1071.1l10.4 10.4m0-10.4l-10.4 10.4M297.5 1072.3l10.4 10.4m0-10.4l-10.4 10.4M303.3 1074.3l10.4 10.4m0-10.4l-10.4 10.4M309.1 1075.2l10.4 10.4m0-10.4l-10.4 10.4M314.9 1077.0l10.4 10.4m0-10.4l-10.4 10.4M320.6 1078.4l10.4 10.4m0-10.4l-10.4 10.4M326.4 1079.3l10.4 10.4m0-10.4l-10.4 10.4M332.2 1080.6l10.4 10.4m0-10.4l-10.4 10.4M338.0 1082.4l10.4 10.4m0-10.4l-10.4 10.4M343.7 1083.3l10.4 10.4m0-10.4l-10.4 10.4M349.5 1084.1l10.4 10.4m0-10.4l-10.4 10.4M355.3 1085.0l10.4 10.4m0-10.4l-10.4 10.4M361.1 1086.5l10.4 10.4m0-10.4l-10.4 10.4M366.8 1087.9l10.4 10.4m0-10.4l-10.4 10.4M372.6 1089.1l10.4 10.4m0-10.4l-10.4 10.4M378.4 1090.1l10.4 10.4m0-10.4l-10.4 10.4M384.2 1090.5l10.4 10.4m0-10.4l-10.4 10.4M389.9 1091.6l10.4 10.4m0-10.4l-10.4 10.4M395.7 1092.0l10.4 10.4m0-10.4l-10.4 10.4M401.5 1092.8l10.4 10.4m0-10.4l-10.4 10.4M407.3 1093.3l10.4 10.4m0-10.4l-10.4 10.4M413.0 1094.3l10.4 10.4m0-10.4l-10.4 10.4M418.8 1094.7l10.4 10.4m0-10.4l-10.4 10.4M424.6 1095.7l10.4 10.4m0-10.4l-10.4 10.4M430.4 1096.4l10.4 10.4m0-10.4l-10.4 10.4M436.1 1097.0l10.4 10.4m0-10.4l-10.4 10.4M441.9 1098.3l10.4 10.4m0-10.4l-10.4 10.4M447.7 1098.6l10.4 10.4m0-10.4l-10.4 10.4M453.5 1099.4l10.4 10.4m0-10.4l-10.4 10.4M459.2 1100.3l10.4 10.4m0-10.4l-10.4 10.4M465.0 1100.8l10.4 10.4m0-10.4l-10.4 10.4M470.8 1101.9l10.4 10.4m0-10.4l-10.4 10.4M476.6 1102.2l10.4 10.4m0-10.4l-10.4 10.4M482.3 1102.9l10.4 10.4m0-10.4l-10.4 10.4M488.1 1103.8l10.4 10.4m0-10.4l-10.4 10.4M493.9 1103.8l10.4 10.4m0-10.4l-10.4 10.4M499.7 1104.8l10.4 10.4m0-10.4l-10.4 10.4M505.4 1105.5l10.4 10.4m0-10.4l-10.4 10.4M511.2 1106.2l10.4 10.4m0-10.4l-10.4 10.4M517.0 1106.6l10.4 10.4m0-10.4l-10.4 10.4M522.8 1107.4l10.4 10.4m0-10.4l-10.4 10.4M528.5 1107.5l10.4 10.4m0-10.4l-10.4 10.4M534.3 1108.5l10.4 10.4m0-10.4l-10.4 10.4M540.1 1108.9l10.4 10.4m0-10.4l-10.4 10.4M545.8 1109.5l10.4 10.4m0-10.4l-10.4 10.4M551.6 1109.8l10.4 10.4m0-10.4l-10.4 10.4M557.4 1110.4l10.4 10.4m0-10.4l-10.4 10.4M563.2 1110.7l10.4 10.4m0-10.4l-10.4 10.4M569.0 1111.4l10.4 10.4m0-10.4l-10.4 10.4M574.7 1111.7l10.4 10.4m0-10.4l-10.4 10.4M580.5 1112.4l10.4 10.4m0-10.4l-10.4 10.4M586.3 1113.0l10.4 10.4m0-10.4l-10.4 10.4M592.0 1113.2l10.4 10.4m0-10.4l-10.4 10.4M597.8 1113.6l10.4 10.4m0-10.4l-10.4 10.4M603.6 1114.3l10.4 10.4m0-10.4l-10.4 10.4M609.4 1115.0l10.4 10.4m0-10.4l-10.4 10.4M615.1 1115.3l10.4 10.4m0-10.4l-10.4 10.4M620.9 1116.2l10.4 10.4m0-10.4l-10.4 10.4M626.7 1116.3l10.4 10.4m0-10.4l-10.4 10.4M632.5 1116.8l10.4 10.4m0-10.4l-10.4 10.4M638.2 1116.7l10.4 10.4m0-10.4l-10.4 10.4M644.0 1117.7l10.4 10.4m0-10.4l-10.4 10.4M649.8 1118.4l10.4 10.4m0-10.4l-10.4 10.4M655.6 1118.3l10.4 10.4m0-10.4l-10.4 10.4M661.3 1119.0l10.4 10.4m0-10.4l-10.4 10.4M667.1 1119.3l10.4 10.4m0-10.4l-10.4 10.4M672.9 1119.6l10.4 10.4m0-10.4l-10.4 10.4M678.7 1119.9l10.4 10.4m0-10.4l-10.4 10.4M684.5 1120.3l10.4 10.4m0-10.4l-10.4 10.4M690.2 1120.3l10.4 10.4m0-10.4l-10.4 10.4M696.0 1120.7l10.4 10.4m0-10.4l-10.4 10.4M701.8 1121.3l10.4 10.4m0-10.4l-10.4 10.4M707.5 1121.5l10.4 10.4m0-10.4l-10.4 10.4M713.3 1122.0l10.4 10.4m0-10.4l-10.4 10.4M719.1 1122.1l10.4 10.4m0-10.4l-10.4 10.4" stroke="#1c1cf0" stroke-width="1.6"/>
<polyline points="152.6,1043.4 158.4,916.6 164.1,896.7 169.9,884.6 175.7,876.7 181.5,866.3 187.2,857.9 193.0,851.1 198.8,844.8 204.6,839.0 210.3,832.5 216.1,828.5 221.9,825.5 227.7,822.2 233.4,818.6 239.2,815.8 245.0,811.4 250.8,807.6 256.5,805.4 262.3,803.4 268.1,801.3 273.9,800.5 279.6,800.7 285.4,797.6 291.2,793.9 297.0,790.3 302.7,786.6 308.5,780.8 314.3,770.3 320.1,765.6 325.8,762.5 331.6,758.8 337.4,755.7 343.2,753.0 348.9,749.9 354.7,747.6 360.5,746.2 366.2,742.8 372.0,739.3 377.8,738.4 383.6,736.4 389.4,734.9 395.1,732.7 400.9,730.0 406.7,739.4 412.5,739.2 418.2,737.8 424.0,735.4 429.8,736.3 435.6,735.7 441.3,734.6 447.1,734.4 452.9,734.2 458.7,732.7 464.4,731.5 470.2,730.5 476.0,729.8 481.8,729.2 487.5,729.2 493.3,728.9 499.1,729.0 504.9,726.8 510.6,726.9 516.4,727.1 522.2,726.3 528.0,732.6 533.7,729.3 539.5,727.9 545.3,723.9 551.0,723.7 556.8,723.7 562.6,721.8 568.4,720.1 574.2,718.3 579.9,717.9 585.7,718.8 591.5,716.5 597.2,714.7 603.0,714.4 608.8,713.7 614.6,713.6 620.4,713.3 626.1,712.6 631.9,712.1 637.7,712.2 643.5,712.1 649.2,712.7 655.0,711.8 660.8,712.0 666.5,712.2 672.3,715.8 678.1,715.7 683.9,715.8 689.7,715.7 695.4,714.1 701.2,713.7 707.0,713.5 712.8,712.6 718.5,712.7 724.3,711.6" stroke="#000" stroke-width="1.1"/>
<g stroke="#000" stroke-width="1.5" fill="#fff">
<circle cx="152.6" cy="1043.4" r="5.75"/>
<circle cx="158.4" cy="916.6" r="5.75"/>
<circle cx="164.1" cy="896.7" r="5.75"/>
<circle cx="169.9" cy="884.6" r="5.75"/>
<circle cx="175.7" cy="876.7" r="5.75"/>
<circle cx="181.5" cy="866.3" r="5.75"/>
<circle cx="187.2" cy="857.9" r="5.75"/>
<circle cx="193.0" cy="851.1" r="5.75"/>
<circle cx="198.8" cy="844.8" r="5.75"/>
<circle cx="204.6" cy="839.0" r="5.75"/>
<circle cx="210.3" cy="832.5" r="5.75"/>
<circle cx="216.1" cy="828.5" r="5.75"/>
<circle cx="221.9" cy="825.5" r="5.75"/>
<circle cx="227.7" cy="822.2" r="5.75"/>
<circle cx="233.4" cy="818.6" r="5.75"/>
<circle cx="239.2" cy="815.8" r="5.75"/>
<circle cx="245.0" cy="811.4" r="5.75"/>
<circle cx="250.8" cy="807.6" r="5.75"/>
<circle cx="256.5" cy="805.4" r="5.75"/>
<circle cx="262.3" cy="803.4" r="5.75"/>
<circle cx="268.1" cy="801.3" r="5.75"/>
<circle cx="273.9" cy="800.5" r="5.75"/>
<circle cx="279.6" cy="800.7" r="5.75"/>
<circle cx="285.4" cy="797.6" r="5.75"/>
<circle cx="291.2" cy="793.9" r="5.75"/>
<circle cx="297.0" cy="790.3" r="5.75"/>
<circle cx="302.7" cy="786.6" r="5.75"/>
<circle cx="308.5" cy="780.8" r="5.75"/>
<circle cx="314.3" cy="770.3" r="5.75"/>
<circle cx="320.1" cy="765.6" r="5.75"/>
<circle cx="325.8" cy="762.5" r="5.75"/>
<circle cx="331.6" cy="758.8" r="5.75"/>
<circle cx="337.4" cy="755.7" r="5.75"/>
<circle cx="343.2" cy="753.0" r="5.75"/>
<circle cx="348.9" cy="749.9" r="5.75"/>
<circle cx="354.7" cy="747.6" r="5.75"/>
<circle cx="360.5" cy="746.2" r="5.75"/>
<circle cx="366.2" cy="742.8" r="5.75"/>
<circle cx="372.0" cy="739.3" r="5.75"/>
<circle cx="377.8" cy="738.4" r="5.75"/>
<circle cx="383.6" cy="736.4" r="5.75"/>
<circle cx="389.4" cy="734.9" r="5.75"/>
<circle cx="395.1" cy="732.7" r="5.75"/>
<circle cx="400.9" cy="730.0" r="5.75"/>
<circle cx="406.7" cy="739.4" r="5.75"/>
<circle cx="412.5" cy="739.2" r="5.75"/>
<circle cx="418.2" cy="737.8" r="5.75"/>
<circle cx="424.0" cy="735.4" r="5.75"/>
<circle cx="429.8" cy="736.3" r="5.75"/>
<circle cx="435.6" cy="735.7" r="5.75"/>
<circle cx="441.3" cy="734.6" r="5.75"/>
<circle cx="447.1" cy="734.4" r="5.75"/>
<circle cx="452.9" cy="734.2" r="5.75"/>
<circle cx="458.7" cy="732.7" r="5.75"/>
<circle cx="464.4" cy="731.5" r="5.75"/>
<circle cx="470.2" cy="730.5" r="5.75"/>
<circle cx="476.0" cy="729.8" r="5.75"/>
<circle cx="481.8" cy="729.2" r="5.75"/>
<circle cx="487.5" cy="729.2" r="5.75"/>
<circle cx="493.3" cy="728.9" r="5.75"/>
<circle cx="499.1" cy="729.0" r="5.75"/>
<circle cx="504.9" cy="726.8" r="5.75"/>
<circle cx="510.6" cy="726.9" r="5.75"/>
<circle cx="516.4" cy="727.1" r="5.75"/>
<circle cx="522.2" cy="726.3" r="5.75"/>
<circle cx="528.0" cy="732.6" r="5.75"/>
<circle cx="533.7" cy="729.3" r="5.75"/>
<circle cx="539.5" cy="727.9" r="5.75"/>
<circle cx="545.3" cy="723.9" r="5.75"/>
<circle cx="551.0" cy="723.7" r="5.75"/>
<circle cx="556.8" cy="723.7" r="5.75"/>
<circle cx="562.6" cy="721.8" r="5.75"/>
<circle cx="568.4" cy="720.1" r="5.75"/>
<circle cx="574.2" cy="718.3" r="5.75"/>
<circle cx="579.9" cy="717.9" r="5.75"/>
<circle cx="585.7" cy="718.8" r="5.75"/>
<circle cx="591.5" cy="716.5" r="5.75"/>
<circle cx="597.2" cy="714.7" r="5.75"/>
<circle cx="603.0" cy="714.4" r="5.75"/>
<circle cx="608.8" cy="713.7" r="5.75"/>
<circle cx="614.6" cy="713.6" r="5.75"/>
<circle cx="620.4" cy="713.3" r="5.75"/>
<circle cx="626.1" cy="712.6" r="5.75"/>
<circle cx="631.9" cy="712.1" r="5.75"/>
<circle cx="637.7" cy="712.2" r="5.75"/>
<circle cx="643.5" cy="712.1" r="5.75"/>
<circle cx="649.2" cy="712.7" r="5.75"/>
<circle cx="655.0" cy="711.8" r="5.75"/>
<circle cx="660.8" cy="712.0" r="5.75"/>
<circle cx="666.5" cy="712.2" r="5.75"/>
<circle cx="672.3" cy="715.8" r="5.75"/>
<circle cx="678.1" cy="715.7" r="5.75"/>
<circle cx="683.9" cy="715.8" r="5.75"/>
<circle cx="689.7" cy="715.7" r="5.75"/>
<circle cx="695.4" cy="714.1" r="5.75"/>
<circle cx="701.2" cy="713.7" r="5.75"/>
<circle cx="707.0" cy="713.5" r="5.75"/>
<circle cx="712.8" cy="712.6" r="5.75"/>
<circle cx="718.5" cy="712.7" r="5.75"/>
<circle cx="724.3" cy="711.6" r="5.75"/>
</g>
<polyline points="152.6,1043.4 158.4,984.7 164.1,952.2 169.9,928.6 175.7,914.0 181.5,900.9 187.2,888.8 193.0,879.4 198.8,873.1 204.6,866.8 210.3,860.1 216.1,854.2 221.9,849.6 227.7,845.9 233.4,840.6 239.2,836.6 245.0,831.9 250.8,827.5 256.5,824.6 262.3,820.7 268.1,818.0 273.9,817.5 279.6,818.6 285.4,814.9 291.2,810.2 297.0,806.5 302.7,802.8 308.5,794.5 314.3,784.0 320.1,778.7 325.8,774.0 331.6,770.3 337.4,767.7 343.2,764.9 348.9,762.2 354.7,759.0 360.5,757.3 366.2,756.1 372.0,753.2 377.8,750.9 383.6,748.9 389.4,745.8 395.1,744.1 400.9,743.6 406.7,748.8 412.5,752.5 418.2,752.0 424.0,751.3 429.8,751.2 435.6,749.9 441.3,748.4 447.1,748.7 452.9,748.0 458.7,747.0 464.4,746.2 470.2,744.4 476.0,745.0 481.8,743.3 487.5,742.7 493.3,742.0 499.1,741.9 504.9,741.3 510.6,740.8 516.4,740.1 522.2,739.9 528.0,746.2 533.7,745.1 539.5,743.1 545.3,740.9 551.0,739.4 556.8,738.7 562.6,736.5 568.4,736.2 574.2,734.7 579.9,733.6 585.7,731.9 591.5,734.3 597.2,731.8 603.0,730.6 608.8,730.5 614.6,730.3 620.4,729.9 626.1,728.9 631.9,728.3 637.7,728.9 643.5,729.8 649.2,727.7 655.0,727.7 660.8,728.8 666.5,728.4 672.3,733.1 678.1,732.7 683.9,733.1 689.7,731.6 695.4,733.3 701.2,731.5 707.0,730.9 712.8,730.9 718.5,729.5 724.3,730.0" stroke="#1c1cf0" stroke-width="1.3"/>
<g stroke="#1c1cf0" stroke-width="1.6" fill="#fff">
<circle cx="152.6" cy="1043.4" r="5.75"/>
<circle cx="158.4" cy="984.7" r="5.75"/>
<circle cx="164.1" cy="952.2" r="5.75"/>
<circle cx="169.9" cy="928.6" r="5.75"/>
<circle cx="175.7" cy="914.0" r="5.75"/>
<circle cx="181.5" cy="900.9" r="5.75"/>
<circle cx="187.2" cy="888.8" r="5.75"/>
<circle cx="193.0" cy="879.4" r="5.75"/>
<circle cx="198.8" cy="873.1" r="5.75"/>
<circle cx="204.6" cy="866.8" r="5.75"/>
<circle cx="210.3" cy="860.1" r="5.75"/>
<circle cx="216.1" cy="854.2" r="5.75"/>
<circle cx="221.9" cy="849.6" r="5.75"/>
<circle cx="227.7" cy="845.9" r="5.75"/>
<circle cx="233.4" cy="840.6" r="5.75"/>
<circle cx="239.2" cy="836.6" r="5.75"/>
<circle cx="245.0" cy="831.9" r="5.75"/>
<circle cx="250.8" cy="827.5" r="5.75"/>
<circle cx="256.5" cy="824.6" r="5.75"/>
<circle cx="262.3" cy="820.7" r="5.75"/>
<circle cx="268.1" cy="818.0" r="5.75"/>
<circle cx="273.9" cy="817.5" r="5.75"/>
<circle cx="279.6" cy="818.6" r="5.75"/>
<circle cx="285.4" cy="814.9" r="5.75"/>
<circle cx="291.2" cy="810.2" r="5.75"/>
<circle cx="297.0" cy="806.5" r="5.75"/>
<circle cx="302.7" cy="802.8" r="5.75"/>
<circle cx="308.5" cy="794.5" r="5.75"/>
<circle cx="314.3" cy="784.0" r="5.75"/>
<circle cx="320.1" cy="778.7" r="5.75"/>
<circle cx="325.8" cy="774.0" r="5.75"/>
<circle cx="331.6" cy="770.3" r="5.75"/>
<circle cx="337.4" cy="767.7" r="5.75"/>
<circle cx="343.2" cy="764.9" r="5.75"/>
<circle cx="348.9" cy="762.2" r="5.75"/>
<circle cx="354.7" cy="759.0" r="5.75"/>
<circle cx="360.5" cy="757.3" r="5.75"/>
<circle cx="366.2" cy="756.1" r="5.75"/>
<circle cx="372.0" cy="753.2" r="5.75"/>
<circle cx="377.8" cy="750.9" r="5.75"/>
<circle cx="383.6" cy="748.9" r="5.75"/>
<circle cx="389.4" cy="745.8" r="5.75"/>
<circle cx="395.1" cy="744.1" r="5.75"/>
<circle cx="400.9" cy="743.6" r="5.75"/>
<circle cx="406.7" cy="748.8" r="5.75"/>
<circle cx="412.5" cy="752.5" r="5.75"/>
<circle cx="418.2" cy="752.0" r="5.75"/>
<circle cx="424.0" cy="751.3" r="5.75"/>
<circle cx="429.8" cy="751.2" r="5.75"/>
<circle cx="435.6" cy="749.9" r="5.75"/>
<circle cx="441.3" cy="748.4" r="5.75"/>
<circle cx="447.1" cy="748.7" r="5.75"/>
<circle cx="452.9" cy="748.0" r="5.75"/>
<circle cx="458.7" cy="747.0" r="5.75"/>
<circle cx="464.4" cy="746.2" r="5.75"/>
<circle cx="470.2" cy="744.4" r="5.75"/>
<circle cx="476.0" cy="745.0" r="5.75"/>
<circle cx="481.8" cy="743.3" r="5.75"/>
<circle cx="487.5" cy="742.7" r="5.75"/>
<circle cx="493.3" cy="742.0" r="5.75"/>
<circle cx="499.1" cy="741.9" r="5.75"/>
<circle cx="504.9" cy="741.3" r="5.75"/>
<circle cx="510.6" cy="740.8" r="5.75"/>
<circle cx="516.4" cy="740.1" r="5.75"/>
<circle cx="522.2" cy="739.9" r="5.75"/>
<circle cx="528.0" cy="746.2" r="5.75"/>
<circle cx="533.7" cy="745.1" r="5.75"/>
<circle cx="539.5" cy="743.1" r="5.75"/>
<circle cx="545.3" cy="740.9" r="5.75"/>
<circle cx="551.0" cy="739.4" r="5.75"/>
<circle cx="556.8" cy="738.7" r="5.75"/>
<circle cx="562.6" cy="736.5" r="5.75"/>
<circle cx="568.4" cy="736.2" r="5.75"/>
<circle cx="574.2" cy="734.7" r="5.75"/>
<circle cx="579.9" cy="733.6" r="5.75"/>
<circle cx="585.7" cy="731.9" r="5.75"/>
<circle cx="591.5" cy="734.3" r="5.75"/>
<circle cx="597.2" cy="731.8" r="5.75"/>
<circle cx="603.0" cy="730.6" r="5.75"/>
<circle cx="608.8" cy="730.5" r="5.75"/>
<circle cx="614.6" cy="730.3" r="5.75"/>
<circle cx="620.4" cy="729.9" r="5.75"/>
<circle cx="626.1" cy="728.9" r="5.75"/>
<circle cx="631.9" cy="728.3" r="5.75"/>
<circle cx="637.7" cy="728.9" r="5.75"/>
<circle cx="643.5" cy="729.8" r="5.75"/>
<circle cx="649.2" cy="727.7" r="5.75"/>
<circle cx="655.0" cy="727.7" r="5.75"/>
<circle cx="660.8" cy="728.8" r="5.75"/>
<circle cx="666.5" cy="728.4" r="5.75"/>
<circle cx="672.3" cy="733.1" r="5.75"/>
<circle cx="678.1" cy="732.7" r="5.75"/>
<circle cx="683.9" cy="733.1" r="5.75"/>
<circle cx="689.7" cy="731.6" r="5.75"/>
<circle cx="695.4" cy="733.3" r="5.75"/>
<circle cx="701.2" cy="731.5" r="5.75"/>
<circle cx="707.0" cy="730.9" r="5.75"/>
<circle cx="712.8" cy="730.9" r="5.75"/>
<circle cx="718.5" cy="729.5" r="5.75"/>
<circle cx="724.3" cy="730.0" r="5.75"/>
</g>
</g>
<g fill="none" stroke-linecap="butt">
<path d="M137.4 663.4H726" stroke="#000" stroke-width="3.6"/>
<path d="M146.5 661.6V1190" stroke="#000" stroke-width="4"/>
<path d="M144.5 1188H726" stroke="#000" stroke-width="3.6"/>
<path d="M724.3 661.6V1190" stroke="#444" stroke-width="3.6"/>
<path d="M137.4 715.8H146" stroke="#000" stroke-width="3.3"/>
<path d="M137.4 768.2H146" stroke="#000" stroke-width="3.3"/>
<path d="M137.4 820.7H146" stroke="#000" stroke-width="3.3"/>
<path d="M137.4 873.1H146" stroke="#000" stroke-width="3.3"/>
<path d="M137.4 925.5H146" stroke="#000" stroke-width="3.3"/>
<path d="M137.4 977.9H146" stroke="#000" stroke-width="3.3"/>
<path d="M137.4 1030.3H146" stroke="#000" stroke-width="3.3"/>
<path d="M137.4 1082.8H146" stroke="#000" stroke-width="3.3"/>
<path d="M137.4 1135.2H146" stroke="#000" stroke-width="3.3"/>
<path d="M137.4 1187.6H146" stroke="#000" stroke-width="3.3"/>
<path d="M146.8 1188V1196.2" stroke="#000" stroke-width="3.3"/>
<path d="M175.7 1188V1194.4" stroke="#000" stroke-width="3.3"/>
<path d="M204.6 1188V1196.2" stroke="#000" stroke-width="3.3"/>
<path d="M233.4 1188V1194.4" stroke="#000" stroke-width="3.3"/>
<path d="M262.3 1188V1196.2" stroke="#000" stroke-width="3.3"/>
<path d="M291.2 1188V1194.4" stroke="#000" stroke-width="3.3"/>
<path d="M320.1 1188V1196.2" stroke="#000" stroke-width="3.3"/>
<path d="M348.9 1188V1194.4" stroke="#000" stroke-width="3.3"/>
<path d="M377.8 1188V1196.2" stroke="#000" stroke-width="3.3"/>
<path d="M406.7 1188V1194.4" stroke="#000" stroke-width="3.3"/>
<path d="M435.6 1188V1196.2" stroke="#000" stroke-width="3.3"/>
<path d="M464.4 1188V1194.4" stroke="#000" stroke-width="3.3"/>
<path d="M493.3 1188V1196.2" stroke="#000" stroke-width="3.3"/>
<path d="M522.2 1188V1194.4" stroke="#000" stroke-width="3.3"/>
<path d="M551.0 1188V1196.2" stroke="#000" stroke-width="3.3"/>
<path d="M579.9 1188V1194.4" stroke="#000" stroke-width="3.3"/>
<path d="M608.8 1188V1196.2" stroke="#000" stroke-width="3.3"/>
<path d="M637.7 1188V1194.4" stroke="#000" stroke-width="3.3"/>
<path d="M666.5 1188V1196.2" stroke="#000" stroke-width="3.3"/>
<path d="M695.4 1188V1194.4" stroke="#000" stroke-width="3.3"/>
<path d="M724.3 1188V1196.2" stroke="#000" stroke-width="3.3"/>
<path d="M725 663.4H733.8" stroke="#777" stroke-width="1.3"/>
<path d="M725 715.8H733.8" stroke="#777" stroke-width="1.3"/>
<path d="M725 768.2H733.8" stroke="#777" stroke-width="1.3"/>
<path d="M725 820.7H733.8" stroke="#777" stroke-width="1.3"/>
<path d="M725 873.1H733.8" stroke="#777" stroke-width="1.3"/>
<path d="M725 925.5H733.8" stroke="#777" stroke-width="1.3"/>
<path d="M725 977.9H733.8" stroke="#777" stroke-width="1.3"/>
<path d="M725 1030.3H733.8" stroke="#777" stroke-width="1.3"/>
<path d="M725 1082.8H733.8" stroke="#777" stroke-width="1.3"/>
<path d="M725 1135.2H733.8" stroke="#777" stroke-width="1.3"/>
<path d="M725 1187.6H733.8" stroke="#777" stroke-width="1.3"/>
</g>
<g font-family="'Liberation Sans',sans-serif" font-size="25" fill="#000">
<text x="119" y="672.3" text-anchor="end">83</text>
<text x="119" y="724.7" text-anchor="end">82</text>
<text x="119" y="777.1" text-anchor="end">81</text>
<text x="119" y="829.6" text-anchor="end">80</text>
<text x="119" y="882.0" text-anchor="end">79</text>
<text x="119" y="934.4" text-anchor="end">78</text>
<text x="119" y="986.8" text-anchor="end">77</text>
<text x="119" y="1039.2" text-anchor="end">76</text>
<text x="119" y="1091.7" text-anchor="end">75</text>
<text x="119" y="1144.1" text-anchor="end">74</text>
<text x="119" y="1196.5" text-anchor="end">73</text>
<text x="751.3" y="672.3">3.98</text>
<text x="751.3" y="724.7">3.96</text>
<text x="751.3" y="777.1">3.94</text>
<text x="751.3" y="829.6">3.92</text>
<text x="751.3" y="882.0">3.9</text>
<text x="751.3" y="934.4">3.88</text>
<text x="751.3" y="986.8">3.86</text>
<text x="751.3" y="1039.2">3.84</text>
<text x="751.3" y="1091.7">3.82</text>
<text x="751.3" y="1144.1">3.8</text>
<text x="751.3" y="1196.5">3.78</text>
<text x="146.2" y="1233.2" text-anchor="middle">0</text>
<text x="204.0" y="1233.2" text-anchor="middle">10</text>
<text x="261.7" y="1233.2" text-anchor="middle">20</text>
<text x="319.4" y="1233.2" text-anchor="middle">30</text>
<text x="377.2" y="1233.2" text-anchor="middle">40</text>
<text x="434.9" y="1233.2" text-anchor="middle">50</text>
<text x="492.7" y="1233.2" text-anchor="middle">60</text>
<text x="550.4" y="1233.2" text-anchor="middle">70</text>
<text x="608.2" y="1233.2" text-anchor="middle">80</text>
<text x="665.9" y="1233.2" text-anchor="middle">90</text>
<text x="723.7" y="1233.2" text-anchor="middle">100</text>
</g>
<g font-family="'Liberation Sans',sans-serif" font-size="23" fill="#000">
<text x="431.4" y="1271.4" text-anchor="middle">Cycle Number</text>
<text x="158.3" y="704.4" font-size="26.5">(b)</text>
<text transform="translate(67 1011.6) rotate(-90)">Capacity, mAh-g<tspan font-size="15" dy="-8">-1</tspan></text>
<text font-size="22.6" transform="translate(838.3 1093.3) rotate(-90)">Average Voltage vs. Li/Li<tspan font-size="15" dy="-7">+</tspan><tspan dy="7">, V</tspan></text>
<text x="592" y="977" font-size="22.5">Charge, V</text>
<text x="532.5" y="1101.3" font-size="22.5" fill="#1c1cf0">Discharge, V</text>
</g>
<path d="M685.7 998.0V1022.8H713.0M704.5 1017.3L713.0 1022.8L704.5 1028.3" stroke="#555" stroke-width="1.3" fill="none" stroke-linejoin="miter"/>
<path d="M685.7 1118.0V1093.0H713.0M704.5 1087.5L713.0 1093.0L704.5 1098.5" stroke="#1c1cf0" stroke-width="1.3" fill="none" stroke-linejoin="miter"/>
<g font-family="'Liberation Sans',sans-serif" font-size="21" fill="#000">
<path d="M155.7 1134.8h35" stroke="#000" stroke-width="1.3" fill="none"/>
<circle cx="173.2" cy="1134.8" r="5.75" fill="#fff" stroke="#000" stroke-width="1.6"/>
<text x="195.5" y="1142.3">Ch, Cap</text>
<path d="M306.7 1134.8h35" stroke="#1c1cf0" stroke-width="1.3" fill="none"/>
<circle cx="324.2" cy="1134.8" r="5.75" fill="#fff" stroke="#1c1cf0" stroke-width="1.6"/>
<text x="348.0" y="1142.3">Dsch, Cap</text>
<path d="M155.7 1168.6h35" stroke="#000" stroke-width="1.3" fill="none"/>
<path d="M168.0 1163.4l10.4 10.4m0-10.4l-10.4 10.4" stroke="#000" stroke-width="1.4" fill="none"/>
<text x="195.5" y="1176.1">Ch, V</text>
<path d="M306.7 1168.6h35" stroke="#1c1cf0" stroke-width="1.3" fill="none"/>
<path d="M319.0 1163.4l10.4 10.4m0-10.4l-10.4 10.4" stroke="#1c1cf0" stroke-width="1.4" fill="none"/>
<text x="348.0" y="1176.1">Dsch, V</text>
</g>
</svg>
</body></html>
